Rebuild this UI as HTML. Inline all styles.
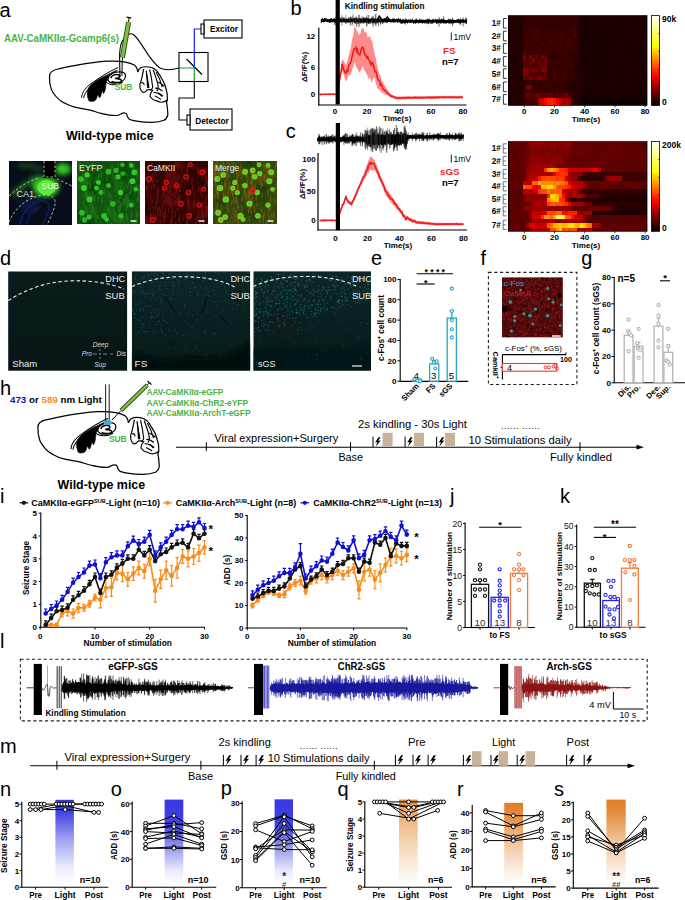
<!DOCTYPE html>
<html><head><meta charset="utf-8"><style>
html,body{margin:0;padding:0;background:#fff;width:685px;height:900px;overflow:hidden}
svg{display:block}
body{position:relative}
text{font-family:"Liberation Sans", sans-serif}
</style></head><body>
<div style="position:absolute;left:508.4px;top:15.6px;width:138.6px;height:89.8px;background:linear-gradient(90deg,#210000 0 3.0px,#230000 0 6.0px,#220000 0 9.0px,#230000 0 15.1px,#2b0000 0 18.1px,#330000 0 21.1px,#380000 0 24.1px,#370000 0 27.1px,#350000 0 30.1px,#330000 0 33.1px,#360000 0 36.2px,#370000 0 39.2px,#340000 0 42.2px,#320000 0 45.2px,#350000 0 48.2px,#360000 0 51.2px,#380000 0 54.2px,#350000 0 60.3px,#3b0000 0 63.3px,#2d0000 0 66.3px,#370000 0 69.3px,#260000 0 72.3px,#1c0000 0 75.3px,#1a0000 0 78.3px,#1b0000 0 81.4px,#1a0000 0 87.4px,#1b0000 0 93.4px,#1d0000 0 96.4px,#1c0000 0 99.4px,#1d0000 0 105.5px,#1e0000 0 108.5px,#1c0000 0 111.5px,#190000 0 114.5px,#1d0000 0 117.5px,#1e0000 0 120.5px,#1d0000 0 123.5px,#1b0000 0 126.5px,#1c0000 0 129.6px,#190000 0 132.6px,#1d0000 0 135.6px,#1b0000 0 138.6px) 0 0.00px/100% 5.28px no-repeat,linear-gradient(90deg,#210000 0 3.0px,#200000 0 6.0px,#250000 0 12.1px,#200000 0 15.1px,#340000 0 18.1px,#2f0000 0 21.1px,#3a0000 0 24.1px,#320000 0 27.1px,#330000 0 30.1px,#370000 0 36.2px,#350000 0 39.2px,#320000 0 42.2px,#2d0000 0 45.2px,#340000 0 48.2px,#2c0000 0 51.2px,#340000 0 54.2px,#3b0000 0 57.2px,#320000 0 60.3px,#350000 0 66.3px,#390000 0 69.3px,#260000 0 72.3px,#1a0000 0 75.3px,#1c0000 0 78.3px,#190000 0 81.4px,#1a0000 0 84.4px,#1e0000 0 87.4px,#1b0000 0 93.4px,#180000 0 96.4px,#1a0000 0 99.4px,#1b0000 0 102.4px,#180000 0 105.5px,#1b0000 0 108.5px,#1c0000 0 111.5px,#180000 0 114.5px,#1c0000 0 117.5px,#1b0000 0 120.5px,#1c0000 0 123.5px,#1a0000 0 126.5px,#1c0000 0 132.6px,#180000 0 138.6px) 0 4.28px/100% 5.28px no-repeat,linear-gradient(90deg,#240000 0 3.0px,#250000 0 6.0px,#210000 0 9.0px,#220000 0 12.1px,#230000 0 15.1px,#310000 0 21.1px,#320000 0 24.1px,#360000 0 27.1px,#320000 0 30.1px,#330000 0 33.1px,#350000 0 36.2px,#2e0000 0 39.2px,#360000 0 42.2px,#2f0000 0 45.2px,#360000 0 48.2px,#370000 0 51.2px,#300000 0 54.2px,#390000 0 57.2px,#300000 0 60.3px,#320000 0 63.3px,#350000 0 66.3px,#320000 0 69.3px,#250000 0 72.3px,#1d0000 0 75.3px,#1c0000 0 78.3px,#1d0000 0 81.4px,#1a0000 0 84.4px,#190000 0 87.4px,#1a0000 0 90.4px,#1d0000 0 93.4px,#190000 0 96.4px,#1a0000 0 108.5px,#1d0000 0 111.5px,#190000 0 114.5px,#180000 0 117.5px,#1d0000 0 123.5px,#1e0000 0 126.5px,#1a0000 0 129.6px,#1e0000 0 132.6px,#1d0000 0 135.6px,#190000 0 138.6px) 0 8.55px/100% 5.28px no-repeat,linear-gradient(90deg,#240000 0 6.0px,#230000 0 12.1px,#210000 0 15.1px,#330000 0 18.1px,#390000 0 21.1px,#3f0000 0 24.1px,#400000 0 27.1px,#440000 0 30.1px,#450000 0 33.1px,#300000 0 36.2px,#350000 0 39.2px,#3c0000 0 42.2px,#380000 0 45.2px,#3f0000 0 48.2px,#340000 0 51.2px,#3c0000 0 54.2px,#390000 0 60.3px,#350000 0 63.3px,#450000 0 66.3px,#430000 0 69.3px,#230000 0 72.3px,#1c0000 0 75.3px,#1d0000 0 78.3px,#180000 0 81.4px,#190000 0 87.4px,#1b0000 0 90.4px,#1a0000 0 93.4px,#1b0000 0 96.4px,#1c0000 0 99.4px,#180000 0 114.5px,#1e0000 0 117.5px,#1d0000 0 120.5px,#180000 0 123.5px,#1b0000 0 126.5px,#1a0000 0 135.6px,#1c0000 0 138.6px) 0 12.83px/100% 5.28px no-repeat,linear-gradient(90deg,#230000 0 3.0px,#220000 0 6.0px,#210000 0 12.1px,#200000 0 15.1px,#3f0000 0 18.1px,#300000 0 21.1px,#350000 0 24.1px,#410000 0 27.1px,#400000 0 30.1px,#390000 0 36.2px,#3a0000 0 42.2px,#390000 0 45.2px,#320000 0 48.2px,#380000 0 51.2px,#460000 0 54.2px,#420000 0 57.2px,#370000 0 60.3px,#320000 0 63.3px,#400000 0 66.3px,#430000 0 69.3px,#270000 0 72.3px,#1c0000 0 75.3px,#1b0000 0 78.3px,#180000 0 81.4px,#1b0000 0 84.4px,#180000 0 87.4px,#190000 0 90.4px,#1c0000 0 93.4px,#180000 0 102.4px,#1d0000 0 105.5px,#190000 0 108.5px,#180000 0 111.5px,#1d0000 0 114.5px,#180000 0 117.5px,#1d0000 0 120.5px,#1c0000 0 123.5px,#1d0000 0 126.5px,#1e0000 0 129.6px,#1b0000 0 132.6px,#1d0000 0 135.6px,#180000 0 138.6px) 0 17.10px/100% 5.28px no-repeat,linear-gradient(90deg,#240000 0 3.0px,#220000 0 6.0px,#240000 0 9.0px,#200000 0 12.1px,#240000 0 15.1px,#330000 0 18.1px,#3a0000 0 21.1px,#370000 0 24.1px,#330000 0 27.1px,#400000 0 30.1px,#370000 0 33.1px,#360000 0 36.2px,#310000 0 39.2px,#440000 0 42.2px,#3f0000 0 45.2px,#3c0000 0 48.2px,#3f0000 0 51.2px,#3a0000 0 54.2px,#440000 0 57.2px,#2f0000 0 60.3px,#450000 0 63.3px,#390000 0 66.3px,#350000 0 69.3px,#250000 0 72.3px,#190000 0 75.3px,#1b0000 0 78.3px,#1a0000 0 81.4px,#190000 0 84.4px,#1c0000 0 87.4px,#1e0000 0 90.4px,#1a0000 0 93.4px,#1c0000 0 96.4px,#1a0000 0 99.4px,#1d0000 0 102.4px,#1b0000 0 105.5px,#190000 0 111.5px,#180000 0 114.5px,#1b0000 0 117.5px,#1a0000 0 120.5px,#190000 0 123.5px,#1a0000 0 129.6px,#1c0000 0 132.6px,#190000 0 135.6px,#1e0000 0 138.6px) 0 21.38px/100% 5.28px no-repeat,linear-gradient(90deg,#220000 0 3.0px,#230000 0 6.0px,#220000 0 9.0px,#240000 0 15.1px,#3a0000 0 18.1px,#430000 0 21.1px,#3f0000 0 24.1px,#3c0000 0 27.1px,#330000 0 30.1px,#3f0000 0 33.1px,#450000 0 36.2px,#320000 0 42.2px,#430000 0 45.2px,#370000 0 48.2px,#380000 0 51.2px,#3f0000 0 54.2px,#2f0000 0 57.2px,#380000 0 60.3px,#3b0000 0 63.3px,#310000 0 66.3px,#380000 0 69.3px,#260000 0 72.3px,#190000 0 75.3px,#1b0000 0 78.3px,#1e0000 0 81.4px,#1a0000 0 84.4px,#1b0000 0 87.4px,#180000 0 90.4px,#190000 0 93.4px,#1c0000 0 96.4px,#180000 0 99.4px,#1d0000 0 105.5px,#180000 0 108.5px,#1d0000 0 111.5px,#1a0000 0 114.5px,#1c0000 0 120.5px,#1a0000 0 123.5px,#1c0000 0 129.6px,#1d0000 0 132.6px,#190000 0 135.6px,#1c0000 0 138.6px) 0 25.66px/100% 5.28px no-repeat,linear-gradient(90deg,#250000 0 3.0px,#230000 0 9.0px,#200000 0 12.1px,#220000 0 15.1px,#3e0000 0 18.1px,#3d0000 0 21.1px,#3b0000 0 24.1px,#340000 0 27.1px,#400000 0 30.1px,#410000 0 33.1px,#340000 0 36.2px,#3e0000 0 42.2px,#360000 0 45.2px,#2f0000 0 48.2px,#410000 0 51.2px,#400000 0 54.2px,#340000 0 57.2px,#410000 0 60.3px,#370000 0 63.3px,#3e0000 0 66.3px,#360000 0 69.3px,#260000 0 72.3px,#1b0000 0 75.3px,#1c0000 0 78.3px,#1a0000 0 81.4px,#1d0000 0 84.4px,#180000 0 87.4px,#190000 0 90.4px,#180000 0 96.4px,#1c0000 0 102.4px,#190000 0 108.5px,#1a0000 0 111.5px,#1c0000 0 114.5px,#1d0000 0 117.5px,#1c0000 0 120.5px,#1b0000 0 123.5px,#190000 0 126.5px,#1a0000 0 129.6px,#190000 0 132.6px,#1b0000 0 138.6px) 0 29.93px/100% 5.28px no-repeat,linear-gradient(90deg,#210000 0 6.0px,#240000 0 9.0px,#200000 0 12.1px,#240000 0 15.1px,#460000 0 18.1px,#3b0000 0 21.1px,#3e0000 0 24.1px,#410000 0 30.1px,#3c0000 0 33.1px,#310000 0 36.2px,#3f0000 0 39.2px,#3b0000 0 42.2px,#330000 0 45.2px,#300000 0 48.2px,#3d0000 0 51.2px,#3b0000 0 54.2px,#450000 0 57.2px,#3e0000 0 60.3px,#310000 0 63.3px,#340000 0 66.3px,#380000 0 69.3px,#290000 0 72.3px,#1a0000 0 75.3px,#1d0000 0 78.3px,#1c0000 0 81.4px,#190000 0 84.4px,#1d0000 0 87.4px,#1b0000 0 90.4px,#1d0000 0 93.4px,#1c0000 0 99.4px,#1a0000 0 102.4px,#1d0000 0 111.5px,#1a0000 0 114.5px,#1c0000 0 117.5px,#1b0000 0 120.5px,#180000 0 129.6px,#190000 0 135.6px,#1b0000 0 138.6px) 0 34.21px/100% 5.28px no-repeat,linear-gradient(90deg,#240000 0 3.0px,#230000 0 6.0px,#220000 0 9.0px,#230000 0 12.1px,#210000 0 15.1px,#710000 0 18.1px,#490000 0 21.1px,#710000 0 24.1px,#560000 0 27.1px,#660000 0 30.1px,#3c0000 0 33.1px,#710000 0 36.2px,#5b0000 0 39.2px,#320000 0 42.2px,#350000 0 45.2px,#2e0000 0 48.2px,#300000 0 51.2px,#310000 0 54.2px,#350000 0 57.2px,#3c0000 0 60.3px,#340000 0 63.3px,#2f0000 0 66.3px,#290000 0 69.3px,#250000 0 72.3px,#180000 0 75.3px,#1b0000 0 78.3px,#190000 0 81.4px,#1c0000 0 84.4px,#1a0000 0 87.4px,#180000 0 93.4px,#1c0000 0 96.4px,#190000 0 99.4px,#1d0000 0 102.4px,#1b0000 0 105.5px,#1d0000 0 108.5px,#1a0000 0 111.5px,#190000 0 117.5px,#1d0000 0 120.5px,#1c0000 0 123.5px,#1a0000 0 126.5px,#180000 0 129.6px,#1c0000 0 132.6px,#1e0000 0 135.6px,#1b0000 0 138.6px) 0 38.49px/100% 5.28px no-repeat,linear-gradient(90deg,#1f0000 0 3.0px,#200000 0 15.1px,#680000 0 18.1px,#4d0000 0 21.1px,#610000 0 24.1px,#7e0000 0 27.1px,#420000 0 30.1px,#660000 0 33.1px,#460000 0 36.2px,#760000 0 39.2px,#350000 0 42.2px,#3b0000 0 45.2px,#350000 0 48.2px,#3f0000 0 51.2px,#3c0000 0 54.2px,#390000 0 57.2px,#330000 0 60.3px,#3a0000 0 63.3px,#310000 0 66.3px,#280000 0 69.3px,#270000 0 72.3px,#1c0000 0 75.3px,#1a0000 0 78.3px,#1b0000 0 81.4px,#190000 0 84.4px,#1c0000 0 87.4px,#180000 0 90.4px,#1b0000 0 93.4px,#1c0000 0 99.4px,#180000 0 102.4px,#190000 0 105.5px,#1d0000 0 108.5px,#1c0000 0 111.5px,#1d0000 0 117.5px,#1a0000 0 120.5px,#1d0000 0 123.5px,#1c0000 0 126.5px,#1a0000 0 132.6px,#180000 0 135.6px,#1a0000 0 138.6px) 0 42.76px/100% 5.28px no-repeat,linear-gradient(90deg,#250000 0 3.0px,#200000 0 6.0px,#230000 0 9.0px,#200000 0 15.1px,#4f0000 0 18.1px,#450000 0 21.1px,#660000 0 24.1px,#4a0000 0 27.1px,#4f0000 0 30.1px,#5a0000 0 33.1px,#690000 0 36.2px,#640000 0 39.2px,#310000 0 42.2px,#3d0000 0 45.2px,#2e0000 0 48.2px,#360000 0 51.2px,#330000 0 57.2px,#3d0000 0 60.3px,#3f0000 0 63.3px,#380000 0 66.3px,#270000 0 69.3px,#260000 0 72.3px,#180000 0 75.3px,#1d0000 0 78.3px,#1b0000 0 81.4px,#1d0000 0 84.4px,#190000 0 87.4px,#1b0000 0 93.4px,#1c0000 0 96.4px,#180000 0 99.4px,#1a0000 0 102.4px,#1b0000 0 105.5px,#180000 0 108.5px,#1b0000 0 111.5px,#1c0000 0 114.5px,#1a0000 0 117.5px,#1c0000 0 120.5px,#1b0000 0 123.5px,#190000 0 126.5px,#1a0000 0 129.6px,#1e0000 0 132.6px,#1a0000 0 138.6px) 0 47.04px/100% 5.28px no-repeat,linear-gradient(90deg,#200000 0 3.0px,#210000 0 6.0px,#200000 0 9.0px,#250000 0 12.1px,#240000 0 15.1px,#830000 0 18.1px,#7e0000 0 21.1px,#5a0000 0 24.1px,#7e0000 0 27.1px,#610000 0 30.1px,#5b0000 0 33.1px,#800000 0 36.2px,#7c0000 0 39.2px,#2f0000 0 42.2px,#360000 0 45.2px,#3c0000 0 48.2px,#3b0000 0 51.2px,#360000 0 54.2px,#3d0000 0 57.2px,#360000 0 60.3px,#330000 0 63.3px,#300000 0 66.3px,#240000 0 69.3px,#280000 0 72.3px,#1c0000 0 75.3px,#1e0000 0 81.4px,#1d0000 0 84.4px,#1a0000 0 87.4px,#190000 0 90.4px,#1a0000 0 93.4px,#1b0000 0 102.4px,#1a0000 0 105.5px,#1d0000 0 108.5px,#190000 0 111.5px,#1b0000 0 114.5px,#1d0000 0 120.5px,#1a0000 0 123.5px,#190000 0 126.5px,#1d0000 0 129.6px,#180000 0 132.6px,#190000 0 135.6px,#1b0000 0 138.6px) 0 51.31px/100% 5.28px no-repeat,linear-gradient(90deg,#230000 0 3.0px,#200000 0 9.0px,#210000 0 12.1px,#240000 0 15.1px,#800000 0 18.1px,#820000 0 21.1px,#470000 0 24.1px,#580000 0 27.1px,#400000 0 30.1px,#440000 0 33.1px,#4d0000 0 36.2px,#5c0000 0 39.2px,#2f0000 0 42.2px,#3b0000 0 45.2px,#420000 0 48.2px,#360000 0 51.2px,#3c0000 0 54.2px,#3b0000 0 57.2px,#3c0000 0 60.3px,#310000 0 63.3px,#390000 0 66.3px,#290000 0 72.3px,#1b0000 0 75.3px,#1c0000 0 78.3px,#1d0000 0 84.4px,#1b0000 0 87.4px,#1a0000 0 90.4px,#1b0000 0 93.4px,#190000 0 99.4px,#1c0000 0 102.4px,#1e0000 0 105.5px,#1b0000 0 108.5px,#1a0000 0 117.5px,#1d0000 0 120.5px,#1a0000 0 123.5px,#1e0000 0 126.5px,#190000 0 129.6px,#1a0000 0 132.6px,#1b0000 0 135.6px,#1a0000 0 138.6px) 0 55.59px/100% 5.28px no-repeat,linear-gradient(90deg,#250000 0 3.0px,#240000 0 6.0px,#250000 0 9.0px,#230000 0 12.1px,#200000 0 15.1px,#640000 0 18.1px,#500000 0 21.1px,#7d0000 0 24.1px,#690000 0 27.1px,#600000 0 30.1px,#820000 0 33.1px,#4c0000 0 39.2px,#3f0000 0 42.2px,#330000 0 45.2px,#440000 0 48.2px,#360000 0 51.2px,#310000 0 54.2px,#410000 0 57.2px,#310000 0 60.3px,#2f0000 0 63.3px,#3e0000 0 66.3px,#280000 0 69.3px,#270000 0 72.3px,#1d0000 0 75.3px,#180000 0 78.3px,#190000 0 81.4px,#1e0000 0 84.4px,#180000 0 87.4px,#190000 0 90.4px,#1b0000 0 93.4px,#190000 0 96.4px,#1b0000 0 99.4px,#180000 0 102.4px,#190000 0 105.5px,#1e0000 0 108.5px,#190000 0 111.5px,#1d0000 0 114.5px,#190000 0 117.5px,#1e0000 0 120.5px,#1c0000 0 126.5px,#190000 0 129.6px,#180000 0 132.6px,#1c0000 0 135.6px,#190000 0 138.6px) 0 59.87px/100% 5.28px no-repeat,linear-gradient(90deg,#210000 0 3.0px,#240000 0 6.0px,#250000 0 9.0px,#200000 0 12.1px,#250000 0 15.1px,#340000 0 18.1px,#310000 0 21.1px,#350000 0 24.1px,#2e0000 0 27.1px,#310000 0 30.1px,#320000 0 33.1px,#3a0000 0 36.2px,#400000 0 39.2px,#320000 0 42.2px,#380000 0 45.2px,#340000 0 48.2px,#300000 0 51.2px,#3b0000 0 54.2px,#350000 0 60.3px,#260000 0 63.3px,#280000 0 66.3px,#240000 0 69.3px,#270000 0 72.3px,#1d0000 0 78.3px,#190000 0 81.4px,#1e0000 0 84.4px,#1d0000 0 87.4px,#190000 0 96.4px,#180000 0 99.4px,#1e0000 0 102.4px,#1a0000 0 105.5px,#1d0000 0 108.5px,#180000 0 114.5px,#1d0000 0 120.5px,#1e0000 0 123.5px,#1c0000 0 126.5px,#1b0000 0 129.6px,#1c0000 0 132.6px,#180000 0 135.6px,#1b0000 0 138.6px) 0 64.14px/100% 5.28px no-repeat,linear-gradient(90deg,#220000 0 3.0px,#200000 0 6.0px,#230000 0 9.0px,#210000 0 12.1px,#220000 0 15.1px,#320000 0 18.1px,#820000 0 24.1px,#3d0000 0 27.1px,#3c0000 0 30.1px,#2e0000 0 33.1px,#390000 0 36.2px,#370000 0 39.2px,#3b0000 0 42.2px,#350000 0 45.2px,#3b0000 0 48.2px,#390000 0 51.2px,#370000 0 54.2px,#320000 0 57.2px,#3c0000 0 60.3px,#240000 0 63.3px,#280000 0 66.3px,#260000 0 69.3px,#290000 0 72.3px,#1a0000 0 75.3px,#190000 0 78.3px,#1b0000 0 81.4px,#1d0000 0 84.4px,#1a0000 0 87.4px,#1d0000 0 90.4px,#1c0000 0 93.4px,#1a0000 0 99.4px,#1b0000 0 102.4px,#1a0000 0 108.5px,#1c0000 0 111.5px,#1d0000 0 114.5px,#1b0000 0 117.5px,#190000 0 123.5px,#1a0000 0 126.5px,#1b0000 0 129.6px,#190000 0 132.6px,#180000 0 135.6px,#1a0000 0 138.6px) 0 68.42px/100% 5.28px no-repeat,linear-gradient(90deg,#210000 0 3.0px,#200000 0 6.0px,#230000 0 9.0px,#250000 0 12.1px,#230000 0 15.1px,#3c0000 0 18.1px,#3e0000 0 21.1px,#380000 0 24.1px,#390000 0 27.1px,#340000 0 30.1px,#350000 0 33.1px,#390000 0 36.2px,#300000 0 42.2px,#380000 0 45.2px,#300000 0 48.2px,#350000 0 51.2px,#370000 0 54.2px,#360000 0 57.2px,#3a0000 0 60.3px,#270000 0 63.3px,#240000 0 66.3px,#260000 0 69.3px,#280000 0 72.3px,#1e0000 0 75.3px,#180000 0 81.4px,#1b0000 0 84.4px,#1a0000 0 87.4px,#1d0000 0 93.4px,#1a0000 0 99.4px,#1b0000 0 102.4px,#1d0000 0 105.5px,#190000 0 108.5px,#1a0000 0 111.5px,#180000 0 114.5px,#1c0000 0 117.5px,#180000 0 120.5px,#1d0000 0 123.5px,#1b0000 0 129.6px,#180000 0 132.6px,#190000 0 135.6px,#1b0000 0 138.6px) 0 72.70px/100% 5.28px no-repeat,linear-gradient(90deg,#250000 0 3.0px,#230000 0 6.0px,#210000 0 9.0px,#250000 0 12.1px,#230000 0 15.1px,#4d0000 0 18.1px,#670000 0 21.1px,#590000 0 24.1px,#520000 0 27.1px,#680000 0 30.1px,#610000 0 33.1px,#470000 0 36.2px,#510000 0 39.2px,#660000 0 42.2px,#640000 0 45.2px,#490000 0 48.2px,#540000 0 51.2px,#4c0000 0 54.2px,#580000 0 57.2px,#650000 0 60.3px,#470000 0 63.3px,#260000 0 69.3px,#240000 0 72.3px,#190000 0 78.3px,#1c0000 0 81.4px,#1a0000 0 84.4px,#180000 0 87.4px,#190000 0 90.4px,#1a0000 0 93.4px,#1b0000 0 96.4px,#190000 0 99.4px,#1c0000 0 102.4px,#190000 0 105.5px,#1c0000 0 108.5px,#1b0000 0 111.5px,#190000 0 114.5px,#1c0000 0 117.5px,#1a0000 0 120.5px,#1b0000 0 126.5px,#1c0000 0 129.6px,#1a0000 0 132.6px,#180000 0 135.6px,#1d0000 0 138.6px) 0 76.97px/100% 5.28px no-repeat,linear-gradient(90deg,#250000 0 3.0px,#220000 0 6.0px,#230000 0 9.0px,#210000 0 12.1px,#250000 0 15.1px,#270000 0 18.1px,#500000 0 21.1px,#450000 0 24.1px,#480000 0 27.1px,#4e0000 0 30.1px,#b90000 0 33.1px,#c80000 0 36.2px,#ff0800 0 39.2px,#ff1d00 0 42.2px,#ff2100 0 45.2px,#ff1100 0 48.2px,#df0000 0 51.2px,#ca0000 0 54.2px,#9f0000 0 57.2px,#a10000 0 60.3px,#9c0000 0 63.3px,#280000 0 69.3px,#250000 0 72.3px,#0f0000 0 138.6px) 0 81.25px/100% 5.28px no-repeat,linear-gradient(90deg,#210000 0 3.0px,#220000 0 6.0px,#200000 0 12.1px,#230000 0 15.1px,#290000 0 18.1px,#490000 0 21.1px,#3f0000 0 24.1px,#440000 0 27.1px,#400000 0 30.1px,#b10000 0 33.1px,#cd0000 0 36.2px,#f30000 0 39.2px,#ff1c00 0 42.2px,#ff1a00 0 45.2px,#ff1800 0 48.2px,#f50000 0 51.2px,#c80000 0 54.2px,#9d0000 0 57.2px,#a30000 0 60.3px,#960000 0 63.3px,#240000 0 66.3px,#270000 0 69.3px,#250000 0 72.3px,#0f0000 0 138.6px) 0 85.52px/100% 5.28px no-repeat #210000"></div><div style="position:absolute;left:508.4px;top:141.5px;width:138.6px;height:89.8px;background:linear-gradient(90deg,#5e0000 0 3.0px,#5f0000 0 6.0px,#600000 0 9.0px,#620000 0 12.1px,#5f0000 0 15.1px,#620000 0 18.1px,#6a0000 0 21.1px,#890000 0 24.1px,#930000 0 27.1px,#8d0000 0 30.1px,#930000 0 33.1px,#810000 0 36.2px,#890000 0 39.2px,#840000 0 42.2px,#8b0000 0 48.2px,#7f0000 0 51.2px,#830000 0 54.2px,#850000 0 57.2px,#930000 0 60.3px,#890000 0 63.3px,#640000 0 66.3px,#680000 0 69.3px,#5d0000 0 72.3px,#640000 0 75.3px,#5c0000 0 78.3px,#5a0000 0 81.4px,#670000 0 84.4px,#5d0000 0 90.4px,#680000 0 93.4px,#660000 0 96.4px,#5d0000 0 99.4px,#670000 0 102.4px,#600000 0 105.5px,#620000 0 108.5px,#5a0000 0 111.5px,#650000 0 114.5px,#610000 0 117.5px,#650000 0 120.5px,#630000 0 123.5px,#5a0000 0 126.5px,#5b0000 0 129.6px,#580000 0 132.6px,#570000 0 135.6px,#560000 0 138.6px) 0 0.00px/100% 5.28px no-repeat,linear-gradient(90deg,#590000 0 3.0px,#5d0000 0 6.0px,#550000 0 9.0px,#5e0000 0 12.1px,#590000 0 18.1px,#710000 0 21.1px,#7a0000 0 24.1px,#770000 0 27.1px,#7a0000 0 30.1px,#7e0000 0 33.1px,#720000 0 36.2px,#840000 0 39.2px,#710000 0 42.2px,#7f0000 0 45.2px,#810000 0 48.2px,#710000 0 51.2px,#800000 0 54.2px,#780000 0 57.2px,#7c0000 0 60.3px,#6d0000 0 63.3px,#600000 0 66.3px,#5e0000 0 69.3px,#6a0000 0 72.3px,#5e0000 0 75.3px,#660000 0 78.3px,#690000 0 84.4px,#5f0000 0 90.4px,#610000 0 93.4px,#650000 0 96.4px,#5a0000 0 99.4px,#640000 0 105.5px,#650000 0 108.5px,#580000 0 111.5px,#650000 0 114.5px,#580000 0 117.5px,#5c0000 0 120.5px,#5f0000 0 123.5px,#640000 0 126.5px,#5b0000 0 129.6px,#630000 0 132.6px,#5d0000 0 135.6px,#590000 0 138.6px) 0 4.28px/100% 5.28px no-repeat,linear-gradient(90deg,#590000 0 3.0px,#570000 0 6.0px,#560000 0 9.0px,#570000 0 12.1px,#5f0000 0 15.1px,#630000 0 18.1px,#650000 0 21.1px,#720000 0 24.1px,#840000 0 27.1px,#7b0000 0 30.1px,#790000 0 33.1px,#750000 0 36.2px,#7c0000 0 39.2px,#810000 0 42.2px,#7a0000 0 45.2px,#790000 0 48.2px,#720000 0 51.2px,#830000 0 54.2px,#710000 0 57.2px,#7a0000 0 60.3px,#7d0000 0 63.3px,#610000 0 66.3px,#670000 0 69.3px,#6a0000 0 72.3px,#650000 0 75.3px,#670000 0 78.3px,#5c0000 0 81.4px,#610000 0 84.4px,#5c0000 0 87.4px,#660000 0 90.4px,#5e0000 0 93.4px,#600000 0 96.4px,#680000 0 99.4px,#650000 0 102.4px,#670000 0 105.5px,#5e0000 0 108.5px,#5f0000 0 111.5px,#620000 0 114.5px,#5e0000 0 117.5px,#5b0000 0 120.5px,#5c0000 0 123.5px,#580000 0 126.5px,#5b0000 0 129.6px,#640000 0 132.6px,#630000 0 135.6px,#5e0000 0 138.6px) 0 8.55px/100% 5.28px no-repeat,linear-gradient(90deg,#5c0000 0 3.0px,#590000 0 6.0px,#560000 0 9.0px,#580000 0 12.1px,#600000 0 15.1px,#610000 0 18.1px,#6c0000 0 21.1px,#880000 0 27.1px,#860000 0 30.1px,#850000 0 33.1px,#870000 0 36.2px,#7f0000 0 39.2px,#860000 0 42.2px,#7d0000 0 45.2px,#820000 0 48.2px,#880000 0 51.2px,#860000 0 54.2px,#750000 0 57.2px,#740000 0 60.3px,#660000 0 63.3px,#640000 0 66.3px,#5b0000 0 69.3px,#630000 0 72.3px,#5e0000 0 75.3px,#650000 0 78.3px,#610000 0 81.4px,#660000 0 84.4px,#630000 0 87.4px,#650000 0 90.4px,#5e0000 0 93.4px,#620000 0 96.4px,#630000 0 99.4px,#650000 0 102.4px,#5d0000 0 105.5px,#640000 0 111.5px,#610000 0 114.5px,#650000 0 120.5px,#5e0000 0 126.5px,#580000 0 129.6px,#620000 0 132.6px,#630000 0 135.6px,#5c0000 0 138.6px) 0 12.83px/100% 5.28px no-repeat,linear-gradient(90deg,#5f0000 0 9.0px,#570000 0 12.1px,#600000 0 15.1px,#5d0000 0 18.1px,#760000 0 21.1px,#880000 0 24.1px,#8c0000 0 27.1px,#900000 0 30.1px,#8d0000 0 33.1px,#8f0000 0 36.2px,#7f0000 0 39.2px,#820000 0 42.2px,#880000 0 45.2px,#8d0000 0 48.2px,#840000 0 51.2px,#8e0000 0 54.2px,#810000 0 57.2px,#670000 0 60.3px,#630000 0 63.3px,#5f0000 0 66.3px,#5c0000 0 69.3px,#5d0000 0 72.3px,#5f0000 0 75.3px,#5d0000 0 81.4px,#5a0000 0 84.4px,#600000 0 87.4px,#5f0000 0 90.4px,#620000 0 96.4px,#5c0000 0 99.4px,#660000 0 102.4px,#580000 0 105.5px,#5e0000 0 108.5px,#5b0000 0 111.5px,#5d0000 0 114.5px,#580000 0 117.5px,#630000 0 120.5px,#5c0000 0 123.5px,#560000 0 126.5px,#5f0000 0 129.6px,#570000 0 132.6px,#5d0000 0 135.6px,#5a0000 0 138.6px) 0 17.10px/100% 5.28px no-repeat,linear-gradient(90deg,#5d0000 0 3.0px,#630000 0 6.0px,#600000 0 9.0px,#5b0000 0 12.1px,#600000 0 15.1px,#5e0000 0 18.1px,#780000 0 21.1px,#900000 0 24.1px,#9b0000 0 30.1px,#a40000 0 36.2px,#9c0000 0 39.2px,#950000 0 42.2px,#a30000 0 45.2px,#890000 0 48.2px,#7a0000 0 51.2px,#710000 0 54.2px,#6d0000 0 57.2px,#640000 0 60.3px,#6c0000 0 63.3px,#700000 0 66.3px,#660000 0 69.3px,#670000 0 72.3px,#630000 0 75.3px,#640000 0 78.3px,#6e0000 0 81.4px,#640000 0 84.4px,#6d0000 0 87.4px,#6b0000 0 90.4px,#660000 0 93.4px,#600000 0 96.4px,#6b0000 0 99.4px,#630000 0 102.4px,#610000 0 105.5px,#5f0000 0 108.5px,#690000 0 111.5px,#600000 0 114.5px,#5d0000 0 117.5px,#5f0000 0 120.5px,#590000 0 123.5px,#600000 0 126.5px,#5d0000 0 129.6px,#5a0000 0 132.6px,#610000 0 138.6px) 0 21.38px/100% 5.28px no-repeat,linear-gradient(90deg,#550000 0 3.0px,#5c0000 0 6.0px,#580000 0 9.0px,#620000 0 12.1px,#600000 0 15.1px,#580000 0 18.1px,#940000 0 21.1px,#920000 0 24.1px,#a80000 0 27.1px,#980000 0 30.1px,#a20000 0 33.1px,#a00000 0 36.2px,#ff3200 0 39.2px,#ff9f00 0 42.2px,#ffbe00 0 45.2px,#ff9300 0 48.2px,#ff6c00 0 51.2px,#ff2d00 0 54.2px,#ff2900 0 57.2px,#ff1100 0 60.3px,#cd0000 0 63.3px,#c00000 0 66.3px,#be0000 0 69.3px,#bb0000 0 72.3px,#c70000 0 75.3px,#c20000 0 78.3px,#b10000 0 81.4px,#ca0000 0 84.4px,#df0000 0 87.4px,#e90000 0 90.4px,#c30000 0 93.4px,#5c0000 0 96.4px,#550000 0 99.4px,#600000 0 102.4px,#5b0000 0 105.5px,#5d0000 0 108.5px,#5f0000 0 111.5px,#5e0000 0 114.5px,#5c0000 0 117.5px,#620000 0 120.5px,#5a0000 0 126.5px,#610000 0 129.6px,#570000 0 132.6px,#590000 0 135.6px,#610000 0 138.6px) 0 25.66px/100% 5.28px no-repeat,linear-gradient(90deg,#550000 0 3.0px,#610000 0 6.0px,#5f0000 0 9.0px,#5b0000 0 12.1px,#590000 0 15.1px,#600000 0 18.1px,#8b0000 0 21.1px,#9f0000 0 24.1px,#a80000 0 27.1px,#aa0000 0 30.1px,#a80000 0 33.1px,#a40000 0 36.2px,#9f0000 0 39.2px,#ab0000 0 42.2px,#b10000 0 45.2px,#f20000 0 48.2px,#ff1700 0 51.2px,#ff3300 0 54.2px,#ff3100 0 57.2px,#ff2b00 0 60.3px,#9d0000 0 63.3px,#870000 0 66.3px,#8c0000 0 72.3px,#860000 0 75.3px,#490000 0 78.3px,#410000 0 81.4px,#3a0000 0 84.4px,#3f0000 0 87.4px,#420000 0 90.4px,#3f0000 0 93.4px,#3a0000 0 96.4px,#3b0000 0 99.4px,#410000 0 102.4px,#3a0000 0 105.5px,#3e0000 0 108.5px,#3c0000 0 111.5px,#3a0000 0 114.5px,#3e0000 0 117.5px,#390000 0 123.5px,#3c0000 0 126.5px,#390000 0 132.6px,#3e0000 0 135.6px,#400000 0 138.6px) 0 29.93px/100% 5.28px no-repeat,linear-gradient(90deg,#610000 0 3.0px,#560000 0 6.0px,#5b0000 0 9.0px,#590000 0 12.1px,#5d0000 0 15.1px,#5c0000 0 18.1px,#970000 0 21.1px,#bb0000 0 24.1px,#b20000 0 27.1px,#c50000 0 30.1px,#ff1200 0 33.1px,#ff4900 0 36.2px,#ff4300 0 39.2px,#ff5700 0 42.2px,#ff4500 0 45.2px,#ff4900 0 48.2px,#ff3600 0 51.2px,#ff4500 0 54.2px,#ff3600 0 57.2px,#d10000 0 60.3px,#a10000 0 63.3px,#970000 0 66.3px,#9a0000 0 69.3px,#490000 0 72.3px,#300000 0 75.3px,#2c0000 0 78.3px,#2f0000 0 84.4px,#2b0000 0 87.4px,#2f0000 0 90.4px,#2b0000 0 96.4px,#650000 0 99.4px,#930000 0 102.4px,#a20000 0 105.5px,#990000 0 108.5px,#950000 0 111.5px,#a00000 0 114.5px,#390000 0 117.5px,#3f0000 0 120.5px,#390000 0 123.5px,#3a0000 0 126.5px,#420000 0 129.6px,#3f0000 0 132.6px,#3a0000 0 135.6px,#390000 0 138.6px) 0 34.21px/100% 5.28px no-repeat,linear-gradient(90deg,#630000 0 3.0px,#5e0000 0 6.0px,#610000 0 9.0px,#570000 0 12.1px,#5e0000 0 15.1px,#bb0000 0 18.1px,#b70000 0 21.1px,#ba0000 0 24.1px,#ff6700 0 27.1px,#ff5800 0 30.1px,#ffb500 0 33.1px,#ff8600 0 36.2px,#ff9400 0 39.2px,#ff8900 0 42.2px,#ff9200 0 45.2px,#ff7b00 0 48.2px,#ff9500 0 51.2px,#ff8100 0 54.2px,#ff6e00 0 57.2px,#ff4e00 0 60.3px,#e80000 0 63.3px,#bc0000 0 66.3px,#b30000 0 69.3px,#b10000 0 72.3px,#b60000 0 75.3px,#870000 0 78.3px,#690000 0 81.4px,#620000 0 84.4px,#670000 0 87.4px,#5a0000 0 90.4px,#610000 0 93.4px,#670000 0 96.4px,#630000 0 99.4px,#5f0000 0 102.4px,#600000 0 105.5px,#5a0000 0 114.5px,#5d0000 0 120.5px,#640000 0 123.5px,#580000 0 126.5px,#5a0000 0 132.6px,#570000 0 135.6px,#590000 0 138.6px) 0 38.49px/100% 5.28px no-repeat,linear-gradient(90deg,#580000 0 3.0px,#5c0000 0 6.0px,#550000 0 9.0px,#620000 0 12.1px,#5a0000 0 15.1px,#ff5900 0 18.1px,#ff4c00 0 21.1px,#ff4b00 0 24.1px,#ff0000 0 27.1px,#cd0000 0 30.1px,#f20000 0 33.1px,#ffd800 0 36.2px,#ffbd00 0 39.2px,#ffd900 0 42.2px,#ffdd00 0 45.2px,#ff9a00 0 48.2px,#ff4e00 0 51.2px,#ff3d00 0 54.2px,#ff4100 0 57.2px,#ff3200 0 60.3px,#ff1d00 0 63.3px,#ce0000 0 66.3px,#bb0000 0 69.3px,#b90000 0 72.3px,#be0000 0 75.3px,#890000 0 78.3px,#5f0000 0 84.4px,#570000 0 87.4px,#580000 0 90.4px,#5e0000 0 93.4px,#620000 0 96.4px,#5e0000 0 99.4px,#5b0000 0 102.4px,#630000 0 105.5px,#550000 0 111.5px,#600000 0 114.5px,#5a0000 0 117.5px,#550000 0 120.5px,#5d0000 0 123.5px,#630000 0 126.5px,#5c0000 0 129.6px,#5a0000 0 132.6px,#560000 0 138.6px) 0 42.76px/100% 5.28px no-repeat,linear-gradient(90deg,#620000 0 3.0px,#5c0000 0 6.0px,#620000 0 9.0px,#550000 0 12.1px,#580000 0 15.1px,#b10000 0 18.1px,#bc0000 0 21.1px,#b20000 0 24.1px,#b80000 0 27.1px,#bc0000 0 30.1px,#ff2f00 0 33.1px,#ff4800 0 36.2px,#ff4700 0 39.2px,#ff7b00 0 42.2px,#ff4f00 0 45.2px,#ff6100 0 48.2px,#ff5b00 0 51.2px,#ff6300 0 54.2px,#c80000 0 57.2px,#a30000 0 60.3px,#9e0000 0 63.3px,#a90000 0 66.3px,#b40000 0 69.3px,#710000 0 72.3px,#380000 0 75.3px,#330000 0 78.3px,#310000 0 81.4px,#350000 0 84.4px,#340000 0 90.4px,#320000 0 93.4px,#340000 0 99.4px,#360000 0 102.4px,#300000 0 105.5px,#310000 0 108.5px,#340000 0 111.5px,#2f0000 0 114.5px,#2e0000 0 117.5px,#2f0000 0 120.5px,#2d0000 0 123.5px,#320000 0 129.6px,#2d0000 0 132.6px,#2c0000 0 135.6px,#2b0000 0 138.6px) 0 47.04px/100% 5.28px no-repeat,linear-gradient(90deg,#580000 0 3.0px,#560000 0 6.0px,#5b0000 0 9.0px,#5d0000 0 12.1px,#580000 0 15.1px,#6e0000 0 18.1px,#960000 0 21.1px,#870000 0 24.1px,#8a0000 0 27.1px,#8c0000 0 30.1px,#8e0000 0 33.1px,#880000 0 36.2px,#900000 0 39.2px,#ff1f00 0 42.2px,#ffdf00 0 45.2px,#ffd000 0 48.2px,#ffac00 0 51.2px,#ff6200 0 54.2px,#ff0800 0 57.2px,#a30000 0 60.3px,#9f0000 0 63.3px,#a90000 0 66.3px,#a50000 0 69.3px,#ac0000 0 72.3px,#a70000 0 75.3px,#7a0000 0 78.3px,#4a0000 0 81.4px,#500000 0 84.4px,#4b0000 0 87.4px,#480000 0 90.4px,#350000 0 93.4px,#240000 0 96.4px,#250000 0 99.4px,#270000 0 102.4px,#250000 0 105.5px,#240000 0 108.5px,#280000 0 111.5px,#270000 0 114.5px,#230000 0 120.5px,#240000 0 123.5px,#250000 0 126.5px,#280000 0 129.6px,#290000 0 132.6px,#270000 0 135.6px,#250000 0 138.6px) 0 51.31px/100% 5.28px no-repeat,linear-gradient(90deg,#5b0000 0 3.0px,#5a0000 0 6.0px,#590000 0 9.0px,#550000 0 12.1px,#5d0000 0 15.1px,#7d0000 0 18.1px,#970000 0 21.1px,#880000 0 24.1px,#920000 0 27.1px,#8a0000 0 30.1px,#960000 0 33.1px,#900000 0 36.2px,#9c0000 0 39.2px,#ff8800 0 42.2px,#ffb000 0 45.2px,#ffbf00 0 48.2px,#ffc200 0 51.2px,#ff3100 0 54.2px,#ff3000 0 57.2px,#b20000 0 60.3px,#380000 0 63.3px,#390000 0 66.3px,#360000 0 69.3px,#3a0000 0 72.3px,#360000 0 75.3px,#310000 0 78.3px,#320000 0 81.4px,#2b0000 0 84.4px,#240000 0 87.4px,#250000 0 90.4px,#1c0000 0 93.4px,#1f0000 0 99.4px,#200000 0 102.4px,#1e0000 0 105.5px,#1d0000 0 108.5px,#1e0000 0 111.5px,#1d0000 0 114.5px,#1f0000 0 117.5px,#1e0000 0 120.5px,#200000 0 123.5px,#1d0000 0 126.5px,#1e0000 0 129.6px,#1d0000 0 132.6px,#210000 0 135.6px,#200000 0 138.6px) 0 55.59px/100% 5.28px no-repeat,linear-gradient(90deg,#610000 0 3.0px,#5e0000 0 6.0px,#5a0000 0 9.0px,#570000 0 12.1px,#610000 0 15.1px,#5c0000 0 18.1px,#550000 0 21.1px,#780000 0 24.1px,#960000 0 27.1px,#a60000 0 30.1px,#ab0000 0 33.1px,#990000 0 36.2px,#a80000 0 39.2px,#ff3900 0 42.2px,#ff4c00 0 45.2px,#ff5500 0 48.2px,#ff4900 0 51.2px,#ff5200 0 54.2px,#ff3c00 0 57.2px,#ff2900 0 60.3px,#f10000 0 63.3px,#a30000 0 66.3px,#990000 0 69.3px,#9e0000 0 72.3px,#9c0000 0 75.3px,#780000 0 78.3px,#600000 0 81.4px,#620000 0 84.4px,#2e0000 0 87.4px,#2f0000 0 90.4px,#2d0000 0 93.4px,#310000 0 96.4px,#300000 0 99.4px,#310000 0 102.4px,#2f0000 0 108.5px,#2e0000 0 111.5px,#300000 0 114.5px,#2d0000 0 117.5px,#2f0000 0 123.5px,#2e0000 0 126.5px,#2c0000 0 129.6px,#2b0000 0 135.6px,#2d0000 0 138.6px) 0 59.87px/100% 5.28px no-repeat,linear-gradient(90deg,#5d0000 0 3.0px,#600000 0 6.0px,#5f0000 0 9.0px,#590000 0 12.1px,#620000 0 15.1px,#720000 0 18.1px,#960000 0 21.1px,#870000 0 24.1px,#970000 0 27.1px,#950000 0 30.1px,#9c0000 0 33.1px,#9b0000 0 36.2px,#960000 0 39.2px,#990000 0 42.2px,#970000 0 45.2px,#940000 0 48.2px,#8b0000 0 51.2px,#920000 0 54.2px,#9b0000 0 57.2px,#8b0000 0 60.3px,#840000 0 63.3px,#640000 0 66.3px,#620000 0 69.3px,#5c0000 0 72.3px,#620000 0 75.3px,#5e0000 0 78.3px,#660000 0 81.4px,#6a0000 0 87.4px,#650000 0 90.4px,#620000 0 93.4px,#5d0000 0 96.4px,#660000 0 99.4px,#640000 0 102.4px,#570000 0 105.5px,#250000 0 108.5px,#290000 0 111.5px,#240000 0 114.5px,#250000 0 120.5px,#270000 0 123.5px,#290000 0 126.5px,#240000 0 129.6px,#270000 0 132.6px,#280000 0 135.6px,#250000 0 138.6px) 0 64.14px/100% 5.28px no-repeat,linear-gradient(90deg,#550000 0 3.0px,#5d0000 0 6.0px,#610000 0 12.1px,#5f0000 0 15.1px,#5b0000 0 21.1px,#8e0000 0 24.1px,#cc0000 0 27.1px,#b90000 0 33.1px,#c20000 0 36.2px,#ce0000 0 39.2px,#ff4f00 0 42.2px,#ff4600 0 45.2px,#ff4b00 0 48.2px,#ff6400 0 51.2px,#ff6700 0 54.2px,#ff0600 0 57.2px,#ff0700 0 60.3px,#ff1900 0 63.3px,#ff1b00 0 66.3px,#ff1d00 0 69.3px,#970000 0 72.3px,#870000 0 75.3px,#910000 0 78.3px,#990000 0 81.4px,#9c0000 0 84.4px,#1e0000 0 87.4px,#200000 0 90.4px,#1f0000 0 93.4px,#210000 0 96.4px,#1d0000 0 99.4px,#200000 0 105.5px,#1e0000 0 108.5px,#1d0000 0 123.5px,#1f0000 0 126.5px,#1d0000 0 129.6px,#200000 0 138.6px) 0 68.42px/100% 5.28px no-repeat,linear-gradient(90deg,#600000 0 3.0px,#5f0000 0 6.0px,#620000 0 9.0px,#630000 0 12.1px,#5e0000 0 15.1px,#630000 0 18.1px,#560000 0 21.1px,#930000 0 24.1px,#ce0000 0 27.1px,#d30000 0 30.1px,#d90000 0 33.1px,#ff2d00 0 36.2px,#ff8b00 0 39.2px,#ff8e00 0 42.2px,#ff6600 0 45.2px,#ffa900 0 48.2px,#ffff4b 0 51.2px,#ffff5a 0 54.2px,#ffff04 0 57.2px,#ff6600 0 60.3px,#ff5a00 0 63.3px,#ff1900 0 66.3px,#bf0000 0 69.3px,#cd0000 0 75.3px,#800000 0 78.3px,#580000 0 81.4px,#570000 0 84.4px,#510000 0 87.4px,#4f0000 0 90.4px,#540000 0 93.4px,#520000 0 96.4px,#570000 0 99.4px,#5a0000 0 102.4px,#530000 0 105.5px,#510000 0 108.5px,#540000 0 111.5px,#570000 0 114.5px,#580000 0 117.5px,#550000 0 120.5px,#510000 0 123.5px,#520000 0 126.5px,#590000 0 129.6px,#540000 0 132.6px,#4e0000 0 135.6px,#530000 0 138.6px) 0 72.70px/100% 5.28px no-repeat,linear-gradient(90deg,#580000 0 3.0px,#5e0000 0 6.0px,#560000 0 9.0px,#580000 0 12.1px,#560000 0 15.1px,#5b0000 0 18.1px,#630000 0 21.1px,#7f0000 0 24.1px,#9e0000 0 27.1px,#ac0000 0 30.1px,#960000 0 33.1px,#9d0000 0 36.2px,#a90000 0 39.2px,#940000 0 42.2px,#a70000 0 45.2px,#9d0000 0 48.2px,#940000 0 51.2px,#9a0000 0 54.2px,#a00000 0 57.2px,#9e0000 0 60.3px,#a10000 0 63.3px,#950000 0 66.3px,#990000 0 69.3px,#ad0000 0 72.3px,#9f0000 0 75.3px,#7a0000 0 78.3px,#4f0000 0 81.4px,#510000 0 84.4px,#5a0000 0 87.4px,#570000 0 90.4px,#540000 0 93.4px,#4e0000 0 96.4px,#530000 0 99.4px,#580000 0 102.4px,#530000 0 105.5px,#550000 0 108.5px,#5a0000 0 111.5px,#560000 0 117.5px,#4e0000 0 123.5px,#580000 0 126.5px,#530000 0 129.6px,#590000 0 135.6px,#5a0000 0 138.6px) 0 76.97px/100% 5.28px no-repeat,linear-gradient(90deg,#5a0000 0 3.0px,#630000 0 6.0px,#600000 0 9.0px,#620000 0 12.1px,#570000 0 15.1px,#600000 0 18.1px,#930000 0 21.1px,#de0000 0 24.1px,#df0000 0 27.1px,#c50000 0 30.1px,#cc0000 0 33.1px,#c70000 0 36.2px,#ce0000 0 39.2px,#ff5500 0 42.2px,#ff6a00 0 45.2px,#ffb000 0 48.2px,#ffb400 0 51.2px,#ffc900 0 54.2px,#ffad00 0 57.2px,#ffc300 0 60.3px,#ffe900 0 63.3px,#ffe800 0 66.3px,#ffb600 0 69.3px,#ffa900 0 72.3px,#ffe400 0 75.3px,#ffc500 0 78.3px,#ff8600 0 81.4px,#ff6900 0 84.4px,#9a0000 0 87.4px,#ab0000 0 90.4px,#890000 0 93.4px,#580000 0 96.4px,#5b0000 0 99.4px,#5f0000 0 102.4px,#5c0000 0 105.5px,#640000 0 108.5px,#5e0000 0 111.5px,#640000 0 114.5px,#5a0000 0 117.5px,#600000 0 120.5px,#670000 0 123.5px,#630000 0 126.5px,#590000 0 129.6px,#5a0000 0 132.6px,#620000 0 135.6px,#5e0000 0 138.6px) 0 81.25px/100% 5.28px no-repeat,linear-gradient(90deg,#5a0000 0 3.0px,#5b0000 0 6.0px,#5d0000 0 9.0px,#630000 0 12.1px,#580000 0 15.1px,#5d0000 0 18.1px,#580000 0 21.1px,#870000 0 24.1px,#b60000 0 27.1px,#a60000 0 30.1px,#af0000 0 33.1px,#b60000 0 36.2px,#a20000 0 39.2px,#b80000 0 42.2px,#ff5500 0 45.2px,#ff5900 0 48.2px,#ff9200 0 51.2px,#ffd100 0 54.2px,#ff4100 0 57.2px,#ff5900 0 60.3px,#ff4000 0 63.3px,#ff5300 0 66.3px,#ff5100 0 69.3px,#940000 0 72.3px,#9b0000 0 75.3px,#9f0000 0 78.3px,#a50000 0 81.4px,#ac0000 0 84.4px,#5e0000 0 87.4px,#600000 0 90.4px,#630000 0 93.4px,#660000 0 96.4px,#670000 0 102.4px,#5d0000 0 105.5px,#5b0000 0 108.5px,#660000 0 111.5px,#590000 0 114.5px,#5f0000 0 117.5px,#630000 0 120.5px,#600000 0 123.5px,#5e0000 0 126.5px,#660000 0 129.6px,#5d0000 0 132.6px,#600000 0 135.6px,#650000 0 138.6px) 0 85.52px/100% 5.28px no-repeat #5a0000"></div>
<svg width="685" height="900" viewBox="0 0 685 900" style="position:absolute;left:0;top:0">
<text x="-0.4" y="16.8" font-size="20" fill="#000" text-anchor="start">a</text>
<text x="4.0" y="41.5" font-size="10" font-weight="bold" fill="#45b445" text-anchor="start" textLength="115" lengthAdjust="spacingAndGlyphs">AAV-CaMKIIα-Gcamp6(s)</text>
<g transform="translate(0,0) scale(1.0)">
<path d="M49.5,77 C49,72 53,70 58,69 C72,66 90,62 108,61.2 C118,60.8 128,61.5 134.3,65.1 C136.5,66.5 137.5,70 137.8,72 C138.5,70 139.5,68.5 140.6,67.8 C143,66.8 148,66.5 152.2,67.8 C156,69.5 158,72 159.2,74.4 C162,79 164,82 164.7,84.5 C166,89 167,92 167.2,94 L167.4,100 C166.5,101 166,102 167,105 C167.5,109 168,113 167.8,115 C167,118 166,119.5 163.9,120.3 C160,122 156,122.3 152.2,122.3 C146,122.3 141,121.8 136.7,121.1 C133,120.5 130,120 128.9,118.8 C127.5,117.5 127,115.5 126.6,114.1 C126,113 125.5,113 125,113 C122,112.5 120,115 117.7,115.4 C112,116 106,114.5 101.3,113.4 C97,112.5 94,111 91.1,110.3 C85,109 80,108.5 74.7,107.2 C70,106 67,104.5 64.5,103.1 C60,101 58,99 56.4,97 C54,94 52,91.5 51.2,88.8 C50,85 49.3,81 49.5,77 Z" fill="#fff" stroke="#000" stroke-width="1.2"/>
<path d="M81.6,97.7 C82,92 86,87 92,83 C99,78 108,72 118,67.5" fill="none" stroke="#000" stroke-width="1"/>
<path d="M83.6,98.2 C84.5,93 88,88.5 94,85 C100,81 108,76 116,72" fill="none" stroke="#000" stroke-width="1"/>
<path d="M89,101 C87,97 86.5,92 88.5,88 C91,84 96,80.5 102,77.5 C108,74.5 113,72 117.5,70 C115,73.5 110,76.5 107.5,79.5 C106,82 105.8,85 105.5,88 C105.2,90.5 104.5,92.5 103.5,93.5 C102.8,92 102.5,90.5 102,91 C101.5,93 101,96 100,97.5 C99.3,98 98.8,97 98.5,95.5 C98.2,94.5 97.5,95 97,97 C96.5,99.5 95,101.2 93,101.3 C91.5,101.4 90,101.5 89,101 Z" fill="#000" stroke="#000" stroke-width="0.6"/>
<path d="M108,80 C107,76 112,72.5 118,72 C123,71.5 126,73 125.5,76.5 C125,80 121,82.5 116,83 C112,83.5 109,82.5 108,80 Z" fill="#fff" stroke="#000" stroke-width="1.2"/>
<path d="M110.8,78 C111.5,74.8 116,73.8 119,75 C120.8,76.5 118.5,78.6 115.2,78.4 C118.8,78.5 122.5,79.5 121.2,81.8 C119,83 114,82.6 111.5,81.5" fill="none" stroke="#000" stroke-width="1.5"/>
<path d="M106.5,82.5 C110,85.5 118,85.5 123,82" fill="none" stroke="#000" stroke-width="1"/>
<path d="M143.7,69 C142.5,74 142,79 140,84 C139.5,88 141,91 143,92.4 C145,93 146.5,90.5 147.4,89.8 C149.5,89.5 151.5,89.8 152.7,90.4 C151,92 150,94.5 150,96.3 C151.5,98.5 154,100.5 155.9,100.5 C158,101.5 160,102.7 162,102.2 C164,101.8 166,101 167.2,100" fill="none" stroke="#000" stroke-width="1.15"/>
<path d="M146.2,70.5 C146.8,76 147.8,82 148.6,88 M149.6,69.5 C151,75 152,81 152.6,86.5 C152.8,88 152,89.5 150.5,89.6 M153.2,70 C155,75 157,80 158,85 C158.5,88 158,90 156.8,91.2 M156.2,72.2 C159,77 161,82 162.2,87 M153.6,92.6 C156,92 159,93.5 162,96.2 M155.2,88.2 C157.5,88 160,89 162.6,91.2 M158.2,82 C160,83 162,84 164.2,86.2 M141.2,83 C142.5,82 144,83 144.2,85.2 M155,96 C157,97 159,98 161,99.5" fill="none" stroke="#000" stroke-width="1.1"/>
<path d="M146.4,71.5 L149.2,87.5 L147.3,87.8 Z" fill="#000" stroke="#000" stroke-width="0.5"/>
<path d="M158.6,92.6 L163,95.6 L161.8,96.8 Z" fill="#000" stroke="#000" stroke-width="0.5"/>
</g>
<path d="M120,77 L119.6,60 C119.3,50 120,44 123,40 C126,35 130,32 134,35 C142,42 150,62 160,68 C166,71 172,70 179,68" fill="none" stroke="#000" stroke-width="1.1"/>
<line x1="128.6" y1="22.0" x2="122.4" y2="57.5" stroke="#2a4a10" stroke-width="5"/>
<line x1="128.6" y1="22.0" x2="122.4" y2="57.5" stroke="#7cc242" stroke-width="3.2"/>
<line x1="129.0" y1="17.5" x2="128.6" y2="22.0" stroke="#000" stroke-width="1"/>
<line x1="126.5" y1="17.2" x2="131.2" y2="17.8" stroke="#000" stroke-width="1.3"/>
<line x1="122.4" y1="57.5" x2="121.9" y2="76.0" stroke="#000" stroke-width="1"/>
<text x="114.8" y="90.0" font-size="9" font-weight="bold" fill="#45b445" text-anchor="start" textLength="17.6" lengthAdjust="spacingAndGlyphs">SUB</text>
<rect x="179.0" y="52.5" width="29.0" height="29.0" fill="none" stroke="#000" stroke-width="1.1"/>
<line x1="186.5" y1="59.0" x2="202.0" y2="74.5" stroke="#000" stroke-width="1.3"/>
<polyline points="201.0,29.0 194.3,29.0 194.3,68.0" fill="none" stroke="#1a1aff" stroke-width="1.2"/>
<polyline points="179.0,68.0 194.3,68.0 194.3,81.5" fill="none" stroke="#1a9a3a" stroke-width="1.2"/>
<polyline points="194.3,81.5 194.3,98.0 179.0,98.0 179.0,120.0 187.0,120.0" fill="none" stroke="#000" stroke-width="1.1"/>
<rect x="204.0" y="20.0" width="38.0" height="18.0" fill="#fff" stroke="#000" stroke-width="1.1"/>
<rect x="201.0" y="24.0" width="3.0" height="10.0" fill="#fff" stroke="#000" stroke-width="1.1"/>
<text x="210.0" y="31.6" font-size="8.5" font-weight="bold" fill="#000" text-anchor="start" textLength="28" lengthAdjust="spacingAndGlyphs">Excitor</text>
<rect x="190.0" y="109.0" width="42.0" height="21.0" fill="#fff" stroke="#000" stroke-width="1.1"/>
<rect x="187.0" y="115.0" width="3.0" height="10.0" fill="#fff" stroke="#000" stroke-width="1.1"/>
<text x="195.2" y="123.6" font-size="8.5" font-weight="bold" fill="#000" text-anchor="start" textLength="33.5" lengthAdjust="spacingAndGlyphs">Detector</text>
<text x="66.0" y="140.2" font-size="12.4" font-weight="bold" fill="#000" text-anchor="start" textLength="87.6" lengthAdjust="spacingAndGlyphs">Wild-type mice</text>
<defs><filter id="bl" x="-20%" y="-20%" width="140%" height="140%"><feGaussianBlur stdDeviation="0.7"/></filter><filter id="bl2" x="-50%" y="-50%" width="200%" height="200%"><feGaussianBlur stdDeviation="2.5"/></filter><clipPath id="ca1"><rect x="9" y="161" width="63" height="64"/></clipPath><clipPath id="ca2"><rect x="77" y="161" width="63" height="63"/></clipPath><clipPath id="ca3"><rect x="145" y="161" width="63" height="63"/></clipPath><clipPath id="ca4"><rect x="213" y="161" width="64" height="63"/></clipPath></defs>
<g clip-path="url(#ca1)">
<rect x="9.0" y="161.0" width="63.0" height="64.0" fill="#070d1a" stroke="none" stroke-width="1"/>
<g filter="url(#bl2)">
<path d="M12,195 C22,186 32,180 42,178" fill="none" stroke="#2f9a20" stroke-width="6" opacity="0.55"/>
<path d="M18,166 C26,164 34,166 42,170" fill="none" stroke="#2a8a1c" stroke-width="5" opacity="0.45"/>
<ellipse cx="46" cy="187" rx="13" ry="10" fill="#3cd828"/>
<ellipse cx="63" cy="169" rx="8" ry="6" fill="#36c828"/>
<circle cx="35.0" cy="180.0" r="5" fill="#2a9a1c" stroke="none" stroke-width="1" opacity="0.5"/>
<circle cx="30.0" cy="205.0" r="10" fill="#0a1838" stroke="none" stroke-width="1"/>
</g>
<ellipse cx="46.5" cy="187.5" rx="9" ry="7.5" fill="#5aee3a" filter="url(#bl)"/>
<rect x="43.5" y="161.0" width="12.0" height="17.0" fill="#000" stroke="none" stroke-width="1"/>
<path d="M20,225 C22,212 30,203 40,201 C48,200 51,205 48,212 C46,217 44,221 43,225" fill="none" stroke="#141e78" stroke-width="1.2"/>
<path d="M26,225 C28,215 34,208 41,207" fill="none" stroke="#141e78" stroke-width="0.9"/>
<path d="M9,196 C20,186 30,180 40,178 M9,222 C15,208 25,200 38,196 C45,194 52,194 55,200 C56,206 52,214 47,225 M57,179 L72,186" fill="none" stroke="#ddd" stroke-width="0.8" stroke-dasharray="2.5,2"/>
<path d="M44,161 L44,177 L55,177 L55,161" fill="none" stroke="#ddd" stroke-width="0.8" stroke-dasharray="2.5,2"/>
</g>
<text x="16.5" y="196.5" font-size="9" fill="#e0e0e0" text-anchor="start">CA1</text>
<text x="41.5" y="189.0" font-size="8.5" fill="#f0f0f0" text-anchor="start">SUB</text>
<g clip-path="url(#ca2)">
<rect x="77.0" y="161.0" width="63.0" height="63.0" fill="#11530f" stroke="none" stroke-width="1"/>
<g filter="url(#bl2)">
<circle cx="85.5" cy="214.4" r="5.291323856929842" fill="#021a02" stroke="none" stroke-width="1" opacity="0.35"/>
<circle cx="93.1" cy="192.2" r="4.348473194366214" fill="#021a02" stroke="none" stroke-width="1" opacity="0.35"/>
<circle cx="118.1" cy="210.7" r="3.281578760322705" fill="#021a02" stroke="none" stroke-width="1" opacity="0.35"/>
<circle cx="78.8" cy="213.7" r="4.298301203715161" fill="#021a02" stroke="none" stroke-width="1" opacity="0.35"/>
<circle cx="125.0" cy="161.1" r="4.336161582164404" fill="#021a02" stroke="none" stroke-width="1" opacity="0.35"/>
<circle cx="122.5" cy="175.4" r="5.835812086661766" fill="#021a02" stroke="none" stroke-width="1" opacity="0.35"/>
<circle cx="133.8" cy="162.9" r="3.0763375829803823" fill="#021a02" stroke="none" stroke-width="1" opacity="0.35"/>
<circle cx="111.1" cy="220.2" r="4.143612713064638" fill="#021a02" stroke="none" stroke-width="1" opacity="0.35"/>
<circle cx="90.6" cy="187.6" r="3.087122362724604" fill="#021a02" stroke="none" stroke-width="1" opacity="0.35"/>
<circle cx="91.0" cy="188.6" r="4.487436724145552" fill="#021a02" stroke="none" stroke-width="1" opacity="0.35"/>
<circle cx="91.7" cy="175.5" r="3.656343112013066" fill="#021a02" stroke="none" stroke-width="1" opacity="0.35"/>
<circle cx="106.0" cy="179.3" r="3.064469115797727" fill="#021a02" stroke="none" stroke-width="1" opacity="0.35"/>
<circle cx="129.8" cy="196.1" r="4.926883088797337" fill="#021a02" stroke="none" stroke-width="1" opacity="0.35"/>
<circle cx="88.7" cy="223.5" r="5.579839586385869" fill="#021a02" stroke="none" stroke-width="1" opacity="0.35"/>
<circle cx="84.6" cy="182.0" r="5.164453222749805" fill="#2a9a22" stroke="none" stroke-width="1" opacity="0.35"/>
<circle cx="121.8" cy="220.0" r="4.266320999884245" fill="#2a9a22" stroke="none" stroke-width="1" opacity="0.35"/>
<circle cx="129.3" cy="203.2" r="3.910105532798753" fill="#2a9a22" stroke="none" stroke-width="1" opacity="0.35"/>
<circle cx="114.0" cy="216.6" r="5.5385922552849385" fill="#2a9a22" stroke="none" stroke-width="1" opacity="0.35"/>
<circle cx="108.8" cy="198.1" r="3.1035774904540245" fill="#2a9a22" stroke="none" stroke-width="1" opacity="0.35"/>
<circle cx="92.3" cy="211.2" r="4.242941997902323" fill="#2a9a22" stroke="none" stroke-width="1" opacity="0.35"/>
<circle cx="87.9" cy="195.6" r="5.109122286196895" fill="#2a9a22" stroke="none" stroke-width="1" opacity="0.35"/>
<circle cx="119.5" cy="184.6" r="4.316884890133689" fill="#2a9a22" stroke="none" stroke-width="1" opacity="0.35"/>
<circle cx="109.0" cy="210.0" r="4.562815252839435" fill="#2a9a22" stroke="none" stroke-width="1" opacity="0.35"/>
<circle cx="101.8" cy="191.9" r="3.0887248919007213" fill="#2a9a22" stroke="none" stroke-width="1" opacity="0.35"/>
</g>
<path d="M79.7 205.3l1.0 6.0M101.8 171.7l0.0 7.9M125.5 195.0l0.7 4.2M109.4 221.0l0.2 5.3M94.0 195.5l0.9 3.0M126.4 212.7l0.8 6.7M128.0 193.7l0.1 5.1M80.5 215.8l0.1 4.0M108.8 191.6l-0.3 4.7M110.9 200.3l0.2 5.3M78.8 175.5l-0.6 5.9M131.2 211.3l0.6 7.1M93.1 214.0l0.3 3.4M78.1 161.9l0.5 4.2M83.9 200.4l-0.3 3.3M87.1 194.2l-0.7 4.4M121.8 189.6l-0.4 5.4M78.5 185.4l-0.2 3.9M83.9 217.7l0.0 4.0M115.2 212.5l-1.0 3.1M86.2 206.3l-0.7 6.5M119.7 195.3l-0.6 7.9M127.3 193.5l-0.6 6.2M101.9 197.3l-0.4 6.2M80.7 179.8l0.9 7.4M96.3 215.1l-0.4 7.7M123.9 187.2l-0.5 3.0M132.4 163.4l0.6 7.8M112.9 171.8l0.7 7.9M121.4 193.1l-0.2 4.7M90.0 203.5l-0.1 4.0M83.6 203.0l-0.4 5.5M97.5 215.9l0.8 3.1M89.7 181.6l1.0 6.9M98.4 174.4l0.3 7.2M135.7 182.7l0.8 6.4M107.5 223.1l-0.5 6.6M82.3 171.7l0.8 4.1M124.8 198.8l0.7 4.8M98.4 179.3l0.7 6.0M137.1 216.9l-0.7 5.8M83.6 163.5l-0.9 7.3M126.7 213.2l-0.3 6.1M126.3 184.8l0.1 4.1M82.1 177.8l0.8 5.8M135.3 189.8l-0.4 6.9M129.1 161.8l0.3 3.5M84.3 216.8l-0.9 4.2M139.3 187.5l-0.8 3.8M92.2 207.9l-0.8 7.6M100.8 222.1l0.8 4.5M93.0 191.1l-0.8 6.3M79.5 161.7l1.0 4.5M114.6 189.3l-0.4 3.3M134.5 222.1l0.9 3.6M90.6 199.9l1.0 5.7M120.4 202.7l-0.5 5.7M96.4 176.5l-0.8 4.4M139.0 189.2l0.3 6.2M136.3 185.6l-0.4 4.6M97.0 214.4l0.8 4.5M98.1 195.3l0.2 6.0M92.4 162.3l-0.5 3.4M111.7 165.5l-0.8 6.2M95.3 210.9l-0.0 7.3M86.7 192.6l0.6 3.4M136.8 171.9l0.6 7.9M128.8 181.1l-0.8 5.6M134.9 179.5l0.8 3.7M134.4 163.0l-0.4 7.5M127.6 218.2l0.7 6.7M120.4 172.2l-0.1 3.8M122.0 203.1l-0.5 3.3M137.7 211.9l0.1 5.7M130.6 189.6l-0.2 4.7M93.3 162.5l0.3 5.1M112.9 164.9l-0.3 3.7M84.9 177.3l0.7 5.0M102.3 199.6l-0.5 3.0M110.3 192.6l0.3 5.2M120.3 207.1l-0.5 5.5M107.2 175.2l-0.2 5.8M134.1 218.8l-0.4 6.2M80.0 165.5l0.0 7.4M87.0 209.3l0.8 4.6M120.6 214.5l-0.3 6.5M123.4 198.5l0.7 7.5M137.5 197.0l-0.6 4.3M90.7 196.9l0.5 3.3M119.9 206.2l-0.3 5.6M87.4 207.0l-0.9 7.9M127.9 200.6l-0.5 7.6M137.4 169.8l0.6 7.2M118.6 205.1l-0.1 7.6M138.2 185.1l0.6 5.2M87.4 181.5l-0.7 7.5M137.4 168.5l0.2 5.0M84.4 179.6l-0.5 6.7M77.3 173.0l-0.1 3.1M116.5 199.2l0.7 4.0M94.9 195.2l-0.5 5.9M92.8 204.1l0.6 7.0M138.3 195.4l-0.0 7.3M125.5 196.9l-0.2 4.4M83.8 211.9l-0.8 6.7M111.4 221.8l0.5 7.9M85.6 192.5l0.1 4.6M108.7 183.5l0.1 3.0M104.9 189.3l-0.4 5.0M126.3 204.1l-0.0 6.2M100.8 173.8l-1.0 4.4M114.7 216.5l0.7 5.6M139.2 190.1l0.7 5.0M123.9 223.2l-0.4 3.9M116.1 194.5l-0.3 3.0M101.5 187.8l-0.2 7.3M113.8 207.2l0.8 6.7M108.0 208.0l0.3 6.2M116.7 186.6l0.3 6.2M136.0 210.3l0.7 6.8M128.4 199.1l-0.3 4.3M121.6 216.1l0.1 3.8M129.5 191.5l-0.1 3.2M109.1 207.9l-0.2 4.8M118.4 162.2l0.0 7.7M120.5 186.3l0.4 6.0M90.2 174.1l0.8 4.3M81.7 213.3l0.0 4.8M109.2 207.4l-0.7 6.3M121.9 212.3l-0.5 6.0M91.6 196.3l-0.7 6.9M131.6 181.8l-0.6 7.8M121.5 214.2l-0.9 7.5M116.2 180.9l-0.1 6.8M126.5 173.0l0.3 3.8M138.3 188.9l0.8 6.6M115.2 177.5l0.1 3.7M85.7 206.1l-0.3 6.8M92.2 206.2l0.4 4.5M83.7 186.0l-0.0 3.5" fill="none" stroke="#1f7a1a" stroke-width="0.9"/>
<g filter="url(#bl)">
<circle cx="108.5" cy="171.7" r="2.8499999999999996" fill="#34d42a" stroke="none" stroke-width="1" opacity="0.76"/>
<circle cx="116.1" cy="170.4" r="2.6599999999999997" fill="#34d42a" stroke="none" stroke-width="1" opacity="0.72"/>
<circle cx="134.3" cy="172.3" r="2.8499999999999996" fill="#34d42a" stroke="none" stroke-width="1" opacity="0.88"/>
<circle cx="87.1" cy="174.9" r="2.6599999999999997" fill="#34d42a" stroke="none" stroke-width="1" opacity="0.97"/>
<circle cx="81.1" cy="179.0" r="2.8499999999999996" fill="#34d42a" stroke="none" stroke-width="1" opacity="0.76"/>
<circle cx="123.0" cy="173.6" r="2.4699999999999998" fill="#34d42a" stroke="none" stroke-width="1" opacity="0.71"/>
<circle cx="118.0" cy="176.8" r="2.6599999999999997" fill="#34d42a" stroke="none" stroke-width="1" opacity="0.91"/>
<circle cx="98.4" cy="182.4" r="2.4699999999999998" fill="#34d42a" stroke="none" stroke-width="1" opacity="0.94"/>
<circle cx="83.9" cy="188.1" r="3.04" fill="#34d42a" stroke="none" stroke-width="1" opacity="0.99"/>
<circle cx="96.5" cy="188.1" r="2.4699999999999998" fill="#34d42a" stroke="none" stroke-width="1" opacity="0.88"/>
<circle cx="108.5" cy="185.6" r="2.4699999999999998" fill="#34d42a" stroke="none" stroke-width="1" opacity="0.80"/>
<circle cx="120.5" cy="192.5" r="2.6599999999999997" fill="#34d42a" stroke="none" stroke-width="1" opacity="0.95"/>
<circle cx="100.9" cy="192.5" r="2.4699999999999998" fill="#34d42a" stroke="none" stroke-width="1" opacity="0.74"/>
<circle cx="89.6" cy="199.4" r="3.04" fill="#34d42a" stroke="none" stroke-width="1" opacity="0.91"/>
<circle cx="112.9" cy="203.8" r="2.8499999999999996" fill="#34d42a" stroke="none" stroke-width="1" opacity="0.73"/>
<circle cx="82.0" cy="212.7" r="2.8499999999999996" fill="#34d42a" stroke="none" stroke-width="1" opacity="0.82"/>
<circle cx="89.0" cy="217.1" r="2.6599999999999997" fill="#34d42a" stroke="none" stroke-width="1" opacity="0.85"/>
<circle cx="104.1" cy="216.1" r="3.04" fill="#34d42a" stroke="none" stroke-width="1" opacity="0.81"/>
<circle cx="121.1" cy="215.8" r="2.6599999999999997" fill="#34d42a" stroke="none" stroke-width="1" opacity="0.75"/>
<circle cx="84.6" cy="219.9" r="2.6599999999999997" fill="#34d42a" stroke="none" stroke-width="1" opacity="0.77"/>
<circle cx="132.4" cy="181.2" r="2.8499999999999996" fill="#34d42a" stroke="none" stroke-width="1" opacity="0.95"/>
<circle cx="131.2" cy="205.1" r="2.4699999999999998" fill="#34d42a" stroke="none" stroke-width="1" opacity="0.84"/>
<circle cx="131.2" cy="165.4" r="2.28" fill="#34d42a" stroke="none" stroke-width="1" opacity="0.87"/>
<circle cx="122.4" cy="164.8" r="2.28" fill="#34d42a" stroke="none" stroke-width="1" opacity="0.76"/>
<circle cx="106.6" cy="219.6" r="2.28" fill="#34d42a" stroke="none" stroke-width="1" opacity="0.91"/>
<circle cx="135.6" cy="189.3" r="2.28" fill="#34d42a" stroke="none" stroke-width="1" opacity="0.80"/>
</g>
</g>
<text x="79.0" y="170.5" font-size="9" fill="#eee" text-anchor="start">EYFP</text>
<line x1="130.5" y1="221.0" x2="136.5" y2="221.0" stroke="#eee" stroke-width="1.5"/>
<g clip-path="url(#ca3)">
<rect x="145.0" y="161.0" width="63.0" height="63.0" fill="#340404" stroke="none" stroke-width="1"/>
<g filter="url(#bl2)">
<circle cx="182.4" cy="218.3" r="5.983180226657965" fill="#100000" stroke="none" stroke-width="1" opacity="0.35"/>
<circle cx="147.9" cy="211.2" r="5.572763476082647" fill="#100000" stroke="none" stroke-width="1" opacity="0.35"/>
<circle cx="165.1" cy="185.1" r="4.740761279028999" fill="#100000" stroke="none" stroke-width="1" opacity="0.35"/>
<circle cx="202.9" cy="186.2" r="5.640090506320235" fill="#100000" stroke="none" stroke-width="1" opacity="0.35"/>
<circle cx="192.8" cy="170.6" r="5.741039761091548" fill="#100000" stroke="none" stroke-width="1" opacity="0.35"/>
<circle cx="146.0" cy="170.1" r="4.9944336386600625" fill="#100000" stroke="none" stroke-width="1" opacity="0.35"/>
<circle cx="148.6" cy="184.9" r="3.3899365755808004" fill="#100000" stroke="none" stroke-width="1" opacity="0.35"/>
<circle cx="174.2" cy="213.9" r="5.718253054047558" fill="#100000" stroke="none" stroke-width="1" opacity="0.35"/>
<circle cx="147.2" cy="164.8" r="5.521872106095968" fill="#100000" stroke="none" stroke-width="1" opacity="0.35"/>
<circle cx="147.7" cy="178.2" r="3.3523101530785095" fill="#100000" stroke="none" stroke-width="1" opacity="0.35"/>
<circle cx="150.7" cy="162.7" r="4.9125390379945575" fill="#100000" stroke="none" stroke-width="1" opacity="0.35"/>
<circle cx="191.9" cy="204.3" r="5.5368683157546785" fill="#100000" stroke="none" stroke-width="1" opacity="0.35"/>
<circle cx="186.8" cy="185.6" r="4.893189071148034" fill="#100000" stroke="none" stroke-width="1" opacity="0.35"/>
<circle cx="206.1" cy="201.4" r="3.7292752022763906" fill="#100000" stroke="none" stroke-width="1" opacity="0.35"/>
<circle cx="148.8" cy="219.9" r="4.771486494882625" fill="#8a1010" stroke="none" stroke-width="1" opacity="0.35"/>
<circle cx="167.0" cy="199.1" r="4.680772788190421" fill="#8a1010" stroke="none" stroke-width="1" opacity="0.35"/>
<circle cx="177.9" cy="164.8" r="4.059682657128405" fill="#8a1010" stroke="none" stroke-width="1" opacity="0.35"/>
<circle cx="171.0" cy="173.6" r="5.640315693685521" fill="#8a1010" stroke="none" stroke-width="1" opacity="0.35"/>
<circle cx="171.7" cy="202.7" r="5.140639348337688" fill="#8a1010" stroke="none" stroke-width="1" opacity="0.35"/>
<circle cx="191.8" cy="206.4" r="5.256625504917299" fill="#8a1010" stroke="none" stroke-width="1" opacity="0.35"/>
<circle cx="160.8" cy="222.5" r="3.4530292613515803" fill="#8a1010" stroke="none" stroke-width="1" opacity="0.35"/>
<circle cx="202.9" cy="214.8" r="5.556492873539903" fill="#8a1010" stroke="none" stroke-width="1" opacity="0.35"/>
<circle cx="148.3" cy="166.7" r="5.439167406696965" fill="#8a1010" stroke="none" stroke-width="1" opacity="0.35"/>
<circle cx="174.6" cy="184.3" r="5.954062416688072" fill="#8a1010" stroke="none" stroke-width="1" opacity="0.35"/>
</g>
<path d="M147.5 194.5l-0.1 3.6M169.9 205.6l0.8 3.1M178.0 166.7l0.6 3.4M147.2 185.2l0.5 4.6M153.2 211.1l0.6 7.3M164.1 187.8l-0.5 5.8M165.8 182.3l0.6 7.8M181.8 167.6l0.3 5.2M207.2 206.3l0.7 6.5M178.7 217.5l0.7 4.5M154.9 184.3l0.0 3.5M166.8 197.2l-0.9 7.1M186.0 180.8l-0.4 4.8M165.5 208.2l0.0 5.6M154.4 218.6l-0.3 4.6M149.3 222.7l-0.0 7.6M203.4 222.1l0.6 7.6M203.1 211.5l-0.7 5.6M181.3 223.5l0.6 6.5M192.0 183.8l0.9 6.2M170.4 190.3l1.0 5.7M155.6 170.3l0.4 5.8M202.1 172.6l-0.2 6.6M148.2 167.3l0.1 4.3M151.7 177.5l0.3 5.6M149.9 165.6l0.7 6.2M155.9 215.3l-1.0 4.8M198.4 205.7l-0.4 7.5M182.7 215.5l0.8 5.1M187.6 195.3l0.9 7.0M190.7 212.3l1.0 4.3M157.7 208.0l0.5 5.6M175.7 186.4l0.8 7.0M181.8 163.5l0.7 5.3M157.0 179.9l0.4 3.0M152.6 180.1l0.8 6.7M206.2 195.2l0.1 5.8M178.1 195.1l0.6 7.8M170.7 200.7l-0.4 4.5M176.9 197.9l0.1 7.9M155.3 201.1l1.0 6.7M180.7 184.2l-0.2 7.7M201.4 203.2l0.8 7.6M198.3 185.2l-0.1 7.0M168.5 208.2l-0.0 4.7M173.7 168.3l-0.3 5.1M146.1 171.8l-0.5 7.3M182.1 179.1l1.0 4.3M177.4 207.6l0.4 5.2M194.0 191.6l0.4 5.5M206.2 206.1l-0.8 3.6M205.9 175.4l-0.9 4.3M175.2 221.0l-0.2 6.6M197.6 166.6l0.2 8.0M179.6 194.7l-0.3 7.7M206.1 167.5l0.1 5.1M187.3 168.5l-0.5 4.4M175.2 211.0l0.7 6.9M187.6 166.5l-0.2 6.3M163.5 193.0l0.8 3.6M198.8 167.7l-0.2 7.5M157.7 193.8l-0.2 7.4M207.5 179.2l-0.0 7.5M179.3 174.5l0.5 4.7M175.6 161.5l1.0 6.3M203.3 222.0l-0.5 5.7M172.7 208.9l0.7 4.1M162.3 205.5l-0.2 3.7M157.3 196.3l0.2 7.8M178.6 199.4l-0.7 5.1M162.6 204.8l-0.5 4.1M168.2 190.6l-0.3 6.0M156.4 216.4l0.4 5.7M148.7 181.5l0.4 6.2M196.2 217.2l-0.4 5.5M165.8 169.1l-0.7 4.3M150.5 194.9l0.4 5.8M188.1 175.3l-0.6 5.8M200.7 187.6l-1.0 3.1M164.2 199.8l-0.8 4.1M187.9 223.1l-0.3 6.0M177.7 162.5l-0.3 3.7M160.8 209.5l0.4 3.2M149.9 206.7l-0.8 4.6M162.0 164.1l-0.9 3.7M170.2 219.8l0.3 4.2M187.8 178.2l0.0 4.6M204.8 183.2l0.6 6.2M198.1 199.2l0.7 5.0M187.8 200.1l0.1 5.8M178.8 185.8l0.8 6.2M179.6 164.4l0.0 3.9M158.5 188.4l0.1 4.3M162.1 194.4l-0.1 5.0M151.5 184.5l0.3 5.7M179.3 214.2l0.4 6.4M146.9 180.4l0.4 3.8M202.5 169.9l0.8 4.1M198.0 214.4l-0.3 7.4M155.1 214.5l-0.2 5.2M152.4 198.9l-0.5 6.3M195.4 199.0l-1.0 7.8M202.9 201.5l-0.2 5.8M200.6 190.0l0.6 6.0M171.6 219.8l-0.2 6.0M148.4 190.7l-0.9 6.5M145.0 163.7l-0.8 3.7M177.0 183.4l-0.5 7.9M202.3 202.3l0.6 7.1M160.4 211.9l-0.5 5.8M167.5 171.0l0.6 7.6M164.8 216.4l-0.3 6.3M207.7 209.6l-0.9 5.2M168.7 179.5l0.6 5.2M189.1 201.0l0.0 3.3M187.4 217.2l-0.7 6.2M175.7 182.5l0.4 7.9M146.4 217.5l-0.2 7.2M156.0 206.1l-0.8 4.7M206.1 202.4l0.6 5.3M174.7 192.0l0.5 6.6M157.2 188.8l0.1 5.9M203.4 213.9l-0.7 4.9M151.9 162.7l-0.9 3.9M193.3 203.0l0.6 4.4M154.8 222.2l0.7 7.7M146.2 186.0l0.3 6.7M202.5 194.9l-0.2 3.0M195.6 222.9l0.8 6.3M166.6 176.1l0.6 7.7M205.5 172.1l0.2 5.6M171.9 211.0l0.9 6.6M189.1 204.5l0.3 5.7M160.6 210.1l-0.8 6.2M169.4 196.3l0.3 5.4M206.6 176.1l-1.0 7.8M164.7 178.5l-0.2 6.0M207.1 205.6l-0.4 5.7M173.3 192.6l-0.2 3.8M169.9 185.5l-0.6 7.1M167.7 170.5l0.1 7.2M194.2 200.2l0.5 4.7M154.0 177.1l-0.3 4.4M174.5 170.4l-0.7 4.3M157.4 211.5l0.1 4.0M172.0 215.9l0.2 5.8M169.7 173.3l0.3 3.4M194.5 164.6l0.5 4.9M188.0 198.2l-0.7 5.7M149.7 176.2l-0.2 4.4M186.7 223.2l-0.3 7.2M159.2 205.7l-0.3 5.7M150.6 213.1l-0.6 5.3M163.3 212.0l0.2 6.1M192.5 177.1l-0.9 7.1M164.9 212.2l0.9 6.1M151.5 214.8l0.3 4.2M158.1 193.0l-0.8 7.5M189.6 212.6l-0.2 7.6M153.4 206.1l-0.5 3.0M152.6 173.7l0.5 4.9M175.4 199.7l-0.5 6.2M187.3 219.0l0.0 7.3M206.0 209.4l-0.2 4.4M151.2 213.4l-0.7 5.8M173.6 163.8l-0.6 7.1M178.9 219.2l0.8 3.5M187.7 163.7l-0.2 5.2M205.3 198.5l-0.6 5.5M177.9 173.4l-0.3 7.4" fill="none" stroke="#7a0c0c" stroke-width="0.9"/>
<g filter="url(#bl)">
<circle cx="202.3" cy="172.3" r="2.25" fill="none" stroke="#d81212" stroke-width="1.4"/>
<circle cx="149.1" cy="179.0" r="2.25" fill="none" stroke="#d81212" stroke-width="1.4"/>
<circle cx="185.9" cy="176.8" r="2.0999999999999996" fill="none" stroke="#d81212" stroke-width="1.4"/>
<circle cx="166.4" cy="182.4" r="1.9500000000000002" fill="none" stroke="#d81212" stroke-width="1.4"/>
<circle cx="164.5" cy="188.1" r="1.9500000000000002" fill="none" stroke="#d81212" stroke-width="1.4"/>
<circle cx="176.5" cy="185.6" r="1.9500000000000002" fill="none" stroke="#d81212" stroke-width="1.4"/>
<circle cx="188.5" cy="192.5" r="2.0999999999999996" fill="none" stroke="#d81212" stroke-width="1.4"/>
<circle cx="180.9" cy="203.8" r="2.25" fill="none" stroke="#d81212" stroke-width="1.4"/>
<circle cx="189.1" cy="215.8" r="2.0999999999999996" fill="none" stroke="#d81212" stroke-width="1.4"/>
<circle cx="152.6" cy="219.9" r="2.0999999999999996" fill="none" stroke="#d81212" stroke-width="1.4"/>
<circle cx="199.2" cy="205.1" r="1.9500000000000002" fill="none" stroke="#d81212" stroke-width="1.4"/>
<circle cx="190.4" cy="164.8" r="1.7999999999999998" fill="none" stroke="#d81212" stroke-width="1.4"/>
<circle cx="203.6" cy="189.3" r="1.7999999999999998" fill="none" stroke="#d81212" stroke-width="1.4"/>
</g>
</g>
<text x="147.0" y="170.5" font-size="8.5" fill="#eee" text-anchor="start">CaMKII</text>
<line x1="198.5" y1="221.0" x2="204.5" y2="221.0" stroke="#eee" stroke-width="1.5"/>
<g clip-path="url(#ca4)">
<rect x="213.0" y="161.0" width="64.0" height="63.0" fill="#2f4a0c" stroke="none" stroke-width="1"/>
<g filter="url(#bl2)">
<circle cx="240.3" cy="198.1" r="3.9519313975100285" fill="#0a1402" stroke="none" stroke-width="1" opacity="0.35"/>
<circle cx="222.6" cy="198.1" r="5.552888765861434" fill="#0a1402" stroke="none" stroke-width="1" opacity="0.35"/>
<circle cx="230.8" cy="215.5" r="5.361386883054803" fill="#0a1402" stroke="none" stroke-width="1" opacity="0.35"/>
<circle cx="262.6" cy="187.2" r="5.996269550617818" fill="#0a1402" stroke="none" stroke-width="1" opacity="0.35"/>
<circle cx="263.6" cy="197.3" r="3.3405299045951082" fill="#0a1402" stroke="none" stroke-width="1" opacity="0.35"/>
<circle cx="249.7" cy="161.9" r="5.7066260650466045" fill="#0a1402" stroke="none" stroke-width="1" opacity="0.35"/>
<circle cx="234.5" cy="184.2" r="4.652649544949715" fill="#0a1402" stroke="none" stroke-width="1" opacity="0.35"/>
<circle cx="253.8" cy="197.7" r="4.454775651459951" fill="#0a1402" stroke="none" stroke-width="1" opacity="0.35"/>
<circle cx="253.6" cy="214.4" r="4.338628187801305" fill="#0a1402" stroke="none" stroke-width="1" opacity="0.35"/>
<circle cx="245.0" cy="212.1" r="3.0102182087882077" fill="#0a1402" stroke="none" stroke-width="1" opacity="0.35"/>
<circle cx="223.3" cy="181.5" r="3.641812163877716" fill="#0a1402" stroke="none" stroke-width="1" opacity="0.35"/>
<circle cx="270.3" cy="170.3" r="3.323660293310355" fill="#0a1402" stroke="none" stroke-width="1" opacity="0.35"/>
<circle cx="233.3" cy="193.0" r="5.464442574084526" fill="#0a1402" stroke="none" stroke-width="1" opacity="0.35"/>
<circle cx="276.7" cy="214.7" r="4.826512799452649" fill="#0a1402" stroke="none" stroke-width="1" opacity="0.35"/>
<circle cx="215.4" cy="165.0" r="4.892208231538124" fill="#8a6a14" stroke="none" stroke-width="1" opacity="0.35"/>
<circle cx="265.5" cy="177.7" r="5.907657028668721" fill="#8a6a14" stroke="none" stroke-width="1" opacity="0.35"/>
<circle cx="248.2" cy="197.1" r="4.8558657486024615" fill="#8a6a14" stroke="none" stroke-width="1" opacity="0.35"/>
<circle cx="217.8" cy="171.7" r="5.808576888272107" fill="#8a6a14" stroke="none" stroke-width="1" opacity="0.35"/>
<circle cx="230.1" cy="166.2" r="3.847286817822648" fill="#8a6a14" stroke="none" stroke-width="1" opacity="0.35"/>
<circle cx="259.5" cy="177.6" r="3.631745005372744" fill="#8a6a14" stroke="none" stroke-width="1" opacity="0.35"/>
<circle cx="230.7" cy="191.3" r="5.212647278133371" fill="#8a6a14" stroke="none" stroke-width="1" opacity="0.35"/>
<circle cx="232.3" cy="216.0" r="5.927647259918783" fill="#8a6a14" stroke="none" stroke-width="1" opacity="0.35"/>
<circle cx="265.6" cy="165.7" r="3.9463757054432937" fill="#8a6a14" stroke="none" stroke-width="1" opacity="0.35"/>
<circle cx="272.3" cy="215.1" r="3.399759874535762" fill="#8a6a14" stroke="none" stroke-width="1" opacity="0.35"/>
</g>
<path d="M241.3 183.9l0.5 3.1M233.2 208.2l0.8 3.2M250.7 202.8l0.7 5.1M275.3 173.4l-0.8 3.7M250.6 168.7l-0.5 4.0M216.5 221.6l-0.3 7.8M259.3 174.8l0.9 3.0M275.8 163.0l-0.5 5.8M213.6 209.2l-0.8 7.1M215.2 194.3l-0.6 4.4M244.4 184.4l-0.2 6.3M225.5 172.4l0.4 4.5M272.7 187.9l-0.1 3.1M214.3 167.6l0.3 6.3M273.9 188.2l0.4 4.7M217.7 187.5l0.4 7.0M273.9 213.4l0.1 5.8M245.1 191.1l0.4 5.9M267.9 189.4l-0.1 7.2M256.2 194.0l0.1 7.0M251.9 177.3l-0.4 6.0M215.9 189.8l0.8 4.2M241.4 205.1l0.9 6.5M253.1 185.2l-0.1 6.2M235.8 210.4l-1.0 6.8M260.5 180.3l-1.0 4.7M250.7 210.6l0.7 4.0M218.2 168.6l1.0 6.2M221.2 204.5l0.9 6.0M227.9 221.6l0.4 3.9M262.0 192.8l0.1 4.8M231.8 187.5l0.1 5.3M268.4 165.7l-0.6 7.7M251.9 199.9l0.3 4.2M238.3 174.2l-0.7 7.9M260.6 216.4l-1.0 6.5M232.7 192.4l0.4 3.2M236.7 195.9l0.7 5.6M233.3 199.0l0.2 4.5M248.1 178.4l-1.0 4.6M218.5 192.0l0.0 7.4M260.9 208.2l1.0 4.3M236.9 175.5l-0.8 5.6M245.7 169.2l0.8 7.9M217.4 161.2l-0.9 6.7M267.6 165.2l-1.0 5.7M234.3 162.2l-1.0 4.1M225.8 179.6l0.1 4.3M227.9 174.3l0.8 4.2M248.5 189.5l-0.3 5.0M214.0 172.7l0.3 6.8M227.0 172.1l0.8 3.5M263.9 216.3l-0.7 7.2M222.6 163.7l-0.4 4.7M250.7 188.9l0.6 6.3M220.6 173.7l0.5 3.6M274.0 212.1l-0.6 4.4M229.1 187.6l-0.5 3.2M229.1 173.3l-0.3 5.3M269.0 202.6l0.2 7.3M237.7 187.8l-0.5 7.2M269.2 218.4l0.2 3.6M217.6 211.2l0.8 5.7M271.9 219.6l0.5 4.9M242.2 183.2l-0.2 5.4M214.1 169.0l-0.7 5.8M268.8 205.8l-0.7 5.3M253.1 169.5l-0.8 6.1M228.1 201.6l-0.7 7.3M232.8 188.0l0.1 7.4M271.6 214.2l0.4 3.3M225.0 194.7l1.0 6.6M225.3 183.4l0.9 5.5M268.7 215.1l0.6 6.1M255.6 182.6l-0.8 7.7M215.1 178.1l0.2 7.8M226.5 176.6l0.7 4.6M238.8 183.7l-0.9 7.7M257.7 161.4l-0.8 3.7M236.6 217.1l-0.7 4.1M232.9 193.2l0.8 5.7M270.8 195.1l-0.1 7.4M250.2 190.9l0.0 4.8M240.7 165.7l-0.6 6.8M221.5 174.1l-0.7 4.8M216.2 183.7l0.2 6.4M268.5 166.5l0.3 4.0M234.9 197.2l0.7 6.4M276.1 162.1l-0.4 5.4M215.3 164.3l-0.3 5.8M221.7 165.3l-0.4 6.7M249.3 223.8l0.2 7.5M249.7 191.3l-0.2 3.4M217.0 202.5l0.7 3.1M224.5 181.6l-0.4 7.2M229.2 180.3l-0.0 7.8M231.8 200.9l-0.9 5.2M272.3 174.7l-0.3 6.3M249.2 197.3l0.2 6.4M233.7 183.2l-0.2 5.6M249.3 216.1l-0.2 5.2M266.3 222.2l-0.5 6.7M228.8 207.7l-0.9 5.5M249.5 205.1l0.8 7.0M249.0 192.3l-1.0 5.8M249.0 207.8l-0.7 5.9M216.3 206.7l0.6 5.2M257.0 202.7l-0.4 3.4M261.5 183.5l-0.7 5.2M266.3 221.1l0.1 7.8M224.1 191.9l-1.0 4.2M269.1 164.7l0.3 5.5M276.2 223.6l-0.8 4.3M276.5 181.8l-0.6 7.6M252.5 180.4l0.1 5.1M242.3 195.8l-0.7 6.1M274.1 198.3l0.6 4.4M222.9 161.4l1.0 3.6M237.3 202.2l0.5 6.1M241.1 212.3l-0.1 7.2M216.5 206.5l-0.8 4.9M241.4 172.5l-0.1 7.3M215.3 173.2l1.0 5.2M237.9 218.5l0.6 3.9M251.3 172.4l0.6 5.8M264.1 165.1l0.9 4.1M267.4 188.8l0.8 3.5M216.4 190.5l0.9 5.3M245.5 171.3l0.1 5.1M269.8 207.7l-0.0 3.7M222.3 222.2l0.2 4.1M264.9 174.6l-0.1 7.4M219.6 167.5l-0.9 3.8M237.0 181.3l-0.4 3.1M244.2 189.1l0.5 4.5M250.2 180.7l0.5 3.9M244.3 189.1l-0.1 5.7M247.3 180.9l0.6 7.8M248.8 201.0l0.4 4.6M250.9 190.1l-0.0 5.0M247.3 174.7l-0.5 4.0M251.0 176.5l0.6 7.5M261.6 181.7l0.9 4.7M236.1 198.5l0.3 5.0M263.3 214.8l-0.4 4.1M238.4 205.0l0.3 3.9M237.9 217.8l0.9 6.0M262.9 213.9l-0.6 3.3M252.1 185.2l0.4 4.5M240.8 211.9l-0.8 5.0M222.8 194.6l0.5 7.9M261.2 170.1l-0.1 5.7M253.8 205.2l0.9 7.7M226.3 171.0l0.9 3.8M275.0 168.5l0.2 3.6M221.6 182.0l0.6 6.5M233.3 169.6l-0.3 3.9M228.0 192.3l-0.0 7.6M218.7 194.6l0.1 3.7M236.1 169.7l0.8 4.7M217.2 190.9l0.1 7.4M259.0 174.0l0.8 3.0M257.6 163.7l0.6 3.9M264.0 212.2l0.5 3.6M238.6 167.6l0.4 8.0M246.5 202.1l0.3 3.7M236.8 183.0l0.5 5.1M236.6 195.6l-0.6 3.3M228.2 162.3l0.3 5.3M252.5 196.8l-0.9 7.1" fill="none" stroke="#7a5a12" stroke-width="0.9"/>
<g filter="url(#bl)">
<circle cx="245.0" cy="171.7" r="3.0" fill="#9cc420" stroke="none" stroke-width="1"/>
<circle cx="245.0" cy="171.7" r="1.9500000000000002" fill="#44d42c" stroke="none" stroke-width="1"/>
<circle cx="252.7" cy="170.4" r="2.8" fill="#9cc420" stroke="none" stroke-width="1"/>
<circle cx="252.7" cy="170.4" r="1.8199999999999998" fill="#44d42c" stroke="none" stroke-width="1"/>
<circle cx="271.2" cy="172.3" r="3.0" fill="#9cc420" stroke="none" stroke-width="1"/>
<circle cx="271.2" cy="172.3" r="1.9500000000000002" fill="#44d42c" stroke="none" stroke-width="1"/>
<circle cx="223.2" cy="174.9" r="2.8" fill="#9cc420" stroke="none" stroke-width="1"/>
<circle cx="223.2" cy="174.9" r="1.8199999999999998" fill="#44d42c" stroke="none" stroke-width="1"/>
<circle cx="217.2" cy="179.0" r="3.0" fill="#9cc420" stroke="none" stroke-width="1"/>
<circle cx="217.2" cy="179.0" r="1.9500000000000002" fill="#44d42c" stroke="none" stroke-width="1"/>
<circle cx="259.7" cy="173.6" r="2.6" fill="#9cc420" stroke="none" stroke-width="1"/>
<circle cx="259.7" cy="173.6" r="1.6900000000000002" fill="#44d42c" stroke="none" stroke-width="1"/>
<circle cx="254.6" cy="176.8" r="2.8" fill="#9cc420" stroke="none" stroke-width="1"/>
<circle cx="254.6" cy="176.8" r="1.8199999999999998" fill="#44d42c" stroke="none" stroke-width="1"/>
<circle cx="234.8" cy="182.4" r="2.6" fill="#9cc420" stroke="none" stroke-width="1"/>
<circle cx="234.8" cy="182.4" r="1.6900000000000002" fill="#44d42c" stroke="none" stroke-width="1"/>
<circle cx="220.0" cy="188.1" r="3.2" fill="#9cc420" stroke="none" stroke-width="1"/>
<circle cx="220.0" cy="188.1" r="2.08" fill="#44d42c" stroke="none" stroke-width="1"/>
<circle cx="232.8" cy="188.1" r="2.6" fill="#9cc420" stroke="none" stroke-width="1"/>
<circle cx="232.8" cy="188.1" r="1.6900000000000002" fill="#44d42c" stroke="none" stroke-width="1"/>
<circle cx="245.0" cy="185.6" r="2.6" fill="#9cc420" stroke="none" stroke-width="1"/>
<circle cx="245.0" cy="185.6" r="1.6900000000000002" fill="#44d42c" stroke="none" stroke-width="1"/>
<circle cx="257.2" cy="192.5" r="2.8" fill="#9cc420" stroke="none" stroke-width="1"/>
<circle cx="257.2" cy="192.5" r="1.8199999999999998" fill="#44d42c" stroke="none" stroke-width="1"/>
<circle cx="237.3" cy="192.5" r="2.6" fill="#9cc420" stroke="none" stroke-width="1"/>
<circle cx="237.3" cy="192.5" r="1.6900000000000002" fill="#44d42c" stroke="none" stroke-width="1"/>
<circle cx="225.8" cy="199.4" r="3.2" fill="#9cc420" stroke="none" stroke-width="1"/>
<circle cx="225.8" cy="199.4" r="2.08" fill="#44d42c" stroke="none" stroke-width="1"/>
<circle cx="249.5" cy="203.8" r="3.0" fill="#9cc420" stroke="none" stroke-width="1"/>
<circle cx="249.5" cy="203.8" r="1.9500000000000002" fill="#44d42c" stroke="none" stroke-width="1"/>
<circle cx="218.1" cy="212.7" r="3.0" fill="#9cc420" stroke="none" stroke-width="1"/>
<circle cx="218.1" cy="212.7" r="1.9500000000000002" fill="#44d42c" stroke="none" stroke-width="1"/>
<circle cx="225.2" cy="217.1" r="2.8" fill="#9cc420" stroke="none" stroke-width="1"/>
<circle cx="225.2" cy="217.1" r="1.8199999999999998" fill="#44d42c" stroke="none" stroke-width="1"/>
<circle cx="240.5" cy="216.1" r="3.2" fill="#9cc420" stroke="none" stroke-width="1"/>
<circle cx="240.5" cy="216.1" r="2.08" fill="#44d42c" stroke="none" stroke-width="1"/>
<circle cx="257.8" cy="215.8" r="2.8" fill="#9cc420" stroke="none" stroke-width="1"/>
<circle cx="257.8" cy="215.8" r="1.8199999999999998" fill="#44d42c" stroke="none" stroke-width="1"/>
<circle cx="220.7" cy="219.9" r="2.8" fill="#9cc420" stroke="none" stroke-width="1"/>
<circle cx="220.7" cy="219.9" r="1.8199999999999998" fill="#44d42c" stroke="none" stroke-width="1"/>
<circle cx="269.3" cy="181.2" r="3.0" fill="#9cc420" stroke="none" stroke-width="1"/>
<circle cx="269.3" cy="181.2" r="1.9500000000000002" fill="#44d42c" stroke="none" stroke-width="1"/>
<circle cx="268.0" cy="205.1" r="2.6" fill="#9cc420" stroke="none" stroke-width="1"/>
<circle cx="268.0" cy="205.1" r="1.6900000000000002" fill="#44d42c" stroke="none" stroke-width="1"/>
<circle cx="268.0" cy="165.4" r="2.4" fill="#9cc420" stroke="none" stroke-width="1"/>
<circle cx="268.0" cy="165.4" r="1.56" fill="#44d42c" stroke="none" stroke-width="1"/>
<circle cx="259.1" cy="164.8" r="2.4" fill="#9cc420" stroke="none" stroke-width="1"/>
<circle cx="259.1" cy="164.8" r="1.56" fill="#44d42c" stroke="none" stroke-width="1"/>
<circle cx="243.1" cy="219.6" r="2.4" fill="#9cc420" stroke="none" stroke-width="1"/>
<circle cx="243.1" cy="219.6" r="1.56" fill="#44d42c" stroke="none" stroke-width="1"/>
<circle cx="272.5" cy="189.3" r="2.4" fill="#9cc420" stroke="none" stroke-width="1"/>
<circle cx="272.5" cy="189.3" r="1.56" fill="#44d42c" stroke="none" stroke-width="1"/>
</g>
</g>
<circle cx="252.7" cy="190.6" r="2.3" fill="none" stroke="#e82010" stroke-width="1.4"/>
<text x="215.0" y="170.5" font-size="8.5" fill="#eee" text-anchor="start">Merge</text>
<line x1="267.5" y1="221.0" x2="273.5" y2="221.0" stroke="#eee" stroke-width="1.5"/>
<text x="290.4" y="15.0" font-size="20" fill="#000" text-anchor="start">b</text>
<text x="344.8" y="8.6" font-size="8.3" font-weight="bold" fill="#000" text-anchor="start" textLength="79.7" lengthAdjust="spacingAndGlyphs">Kindling stimulation</text>
<path d="M321.0,19.2 321.7,19.3 322.4,18.9 323.1,19.3 323.8,19.0 324.5,19.1 325.2,19.4 325.9,19.0 326.6,19.4 327.3,19.1 328.0,19.3 328.7,19.3 329.4,19.1 330.1,18.8 330.8,19.3 331.5,19.2 332.2,18.9 332.9,18.7 333.6,19.0 334.3,19.1 335.0,18.6 335.7,19.4 336.4,18.3 337.1,18.8 337.8,19.0 338.5,19.0 339.2,18.8 339.9,18.3 340.6,18.9 341.3,18.5 342.0,18.5 342.7,18.7 343.4,18.6 344.1,19.0 344.8,19.0 345.5,18.9 346.2,18.4 346.9,18.7 347.6,18.8 348.3,18.5 349.0,18.7 349.7,18.8 350.4,18.3 351.1,18.4 351.8,18.9 352.5,18.5 353.2,18.6 353.9,18.2 354.6,18.4 355.3,18.8 356.0,18.1 356.7,19.0 357.4,18.7 358.1,18.4 358.8,19.0 359.5,18.6 360.2,19.1 360.9,18.4 361.6,18.4 362.3,18.5 363.0,18.2 363.7,18.8 364.4,18.4 365.1,18.5 365.8,18.5 366.5,18.7 367.2,18.3 367.9,18.2 368.6,18.6 369.3,18.4 370.0,19.0 370.7,18.4 371.4,18.5 372.1,18.1 372.8,18.3 373.5,18.8 374.2,18.7 374.9,18.4 375.6,19.1 376.3,18.6 377.0,18.9 377.7,19.0 378.4,19.0 379.1,18.3 379.8,19.0 380.5,18.9 381.2,18.7 381.9,18.2 382.6,19.0 383.3,18.7 384.0,18.6 384.7,18.2 385.4,18.8 386.1,18.7 386.8,19.2 387.5,19.1 388.2,19.1 388.9,18.7 389.6,18.7 390.3,19.3 391.0,19.3 391.7,19.2 392.4,19.2 393.1,19.0 393.8,18.9 394.5,19.2 395.2,19.4 395.9,19.1 396.6,19.1 397.3,19.0 398.0,18.7 398.7,18.9 399.4,19.0 400.1,19.7 400.8,19.7 401.5,20.2 402.2,19.5 402.9,19.6 403.6,19.5 404.3,19.6 405.0,19.9 405.7,19.9 406.4,20.1 407.1,19.7 407.8,20.2 408.5,20.1 409.2,20.0 409.9,20.1 410.6,19.9 411.3,20.2 412.0,20.2 412.7,20.1 413.4,20.1 414.1,19.9 414.8,20.2 415.5,19.5 416.2,19.7 416.9,20.1 417.6,20.0 418.3,19.9 419.0,19.9 419.7,20.1 420.4,19.5 421.1,19.4 421.8,19.8 422.5,19.8 423.2,20.1 423.9,20.1 424.6,19.9 425.3,20.0 426.0,19.6 426.7,20.1 427.4,20.2 428.1,19.5 428.8,19.8 429.5,20.1 430.2,19.8 430.9,20.2 431.6,19.8 432.3,19.4 433.0,19.5 433.7,19.7 434.4,20.0 435.1,19.9 435.8,20.1 436.5,19.6 437.2,19.8 437.9,19.6 438.6,19.9 439.3,20.0 440.0,19.6 440.7,19.4 441.4,19.5 442.1,19.6 442.8,19.6 443.5,19.6 444.2,20.0 444.9,19.8 445.6,19.9 446.3,20.2 447.0,20.2 447.7,20.0 448.4,20.0 449.1,19.7 449.8,19.5 450.5,19.9 451.2,19.5 451.9,19.4 452.6,19.5 453.3,19.9 454.0,20.0 454.7,20.0 455.4,20.0 456.1,20.0 456.8,19.7 457.5,19.5 458.2,19.6 458.9,19.8 459.6,19.7 460.3,19.6 461.0,20.1 461.7,19.7 462.4,19.5 463.1,19.6 463.8,19.6 464.5,19.8 465.2,20.1 465.9,19.6 466.6,19.9 466.6,22.8 465.9,23.1 465.2,23.1 464.5,22.6 463.8,22.7 463.1,22.5 462.4,22.8 461.7,22.6 461.0,22.6 460.3,22.6 459.6,22.9 458.9,23.1 458.2,23.0 457.5,22.5 456.8,22.5 456.1,22.6 455.4,23.0 454.7,22.5 454.0,22.5 453.3,22.4 452.6,22.7 451.9,22.7 451.2,22.9 450.5,22.9 449.8,23.0 449.1,22.7 448.4,23.2 447.7,22.9 447.0,22.8 446.3,22.7 445.6,23.0 444.9,22.8 444.2,22.7 443.5,23.0 442.8,22.5 442.1,23.1 441.4,22.8 440.7,22.5 440.0,22.8 439.3,23.0 438.6,22.4 437.9,22.6 437.2,22.4 436.5,22.7 435.8,22.5 435.1,22.8 434.4,22.6 433.7,23.0 433.0,22.6 432.3,22.6 431.6,22.6 430.9,22.4 430.2,22.5 429.5,22.5 428.8,22.6 428.1,22.8 427.4,22.5 426.7,22.6 426.0,23.1 425.3,22.8 424.6,22.7 423.9,22.7 423.2,23.1 422.5,22.5 421.8,23.1 421.1,22.5 420.4,23.0 419.7,22.9 419.0,23.1 418.3,22.5 417.6,22.7 416.9,22.9 416.2,22.4 415.5,22.5 414.8,22.9 414.1,22.8 413.4,23.1 412.7,22.5 412.0,22.6 411.3,23.0 410.6,23.1 409.9,22.7 409.2,22.5 408.5,22.6 407.8,23.0 407.1,22.4 406.4,22.6 405.7,22.5 405.0,23.1 404.3,23.0 403.6,23.2 402.9,22.4 402.2,22.8 401.5,22.9 400.8,22.7 400.1,22.4 399.4,21.9 398.7,22.0 398.0,21.6 397.3,22.2 396.6,21.8 395.9,21.8 395.2,21.9 394.5,22.0 393.8,21.9 393.1,21.7 392.4,22.2 391.7,22.4 391.0,22.0 390.3,21.9 389.6,22.3 388.9,21.8 388.2,22.3 387.5,22.3 386.8,21.7 386.1,22.1 385.4,22.2 384.7,22.1 384.0,22.8 383.3,22.7 382.6,22.6 381.9,22.0 381.2,22.1 380.5,22.0 379.8,22.3 379.1,22.0 378.4,22.0 377.7,22.7 377.0,22.8 376.3,22.4 375.6,22.2 374.9,22.8 374.2,22.8 373.5,22.6 372.8,22.8 372.1,22.4 371.4,22.4 370.7,22.3 370.0,22.6 369.3,22.4 368.6,22.4 367.9,22.5 367.2,22.3 366.5,22.8 365.8,22.6 365.1,22.5 364.4,22.4 363.7,22.7 363.0,22.2 362.3,22.1 361.6,22.4 360.9,22.0 360.2,22.7 359.5,22.4 358.8,22.4 358.1,22.2 357.4,22.4 356.7,22.6 356.0,22.4 355.3,22.1 354.6,22.7 353.9,21.9 353.2,22.1 352.5,22.3 351.8,21.9 351.1,22.4 350.4,22.4 349.7,22.4 349.0,22.8 348.3,22.3 347.6,22.8 346.9,22.5 346.2,22.3 345.5,22.2 344.8,22.8 344.1,22.0 343.4,22.3 342.7,22.2 342.0,22.5 341.3,22.1 340.6,22.2 339.9,22.1 339.2,22.1 338.5,22.7 337.8,22.8 337.1,22.3 336.4,22.8 335.7,22.0 335.0,22.1 334.3,22.3 333.6,21.6 332.9,21.7 332.2,22.0 331.5,21.9 330.8,22.1 330.1,22.4 329.4,22.2 328.7,21.7 328.0,22.2 327.3,22.3 326.6,21.7 325.9,21.7 325.2,21.7 324.5,22.2 323.8,22.3 323.1,21.9 322.4,21.9 321.7,22.3 321.0,22.2Z" fill="#000" opacity="1.0"/>
<path d="M321.0 19.2L321.4 23.0L321.7 19.5L322.1 19.7L322.4 17.9L322.8 19.9L323.1 20.4L323.5 20.5L323.8 18.9L324.2 20.5L324.5 17.9L324.9 19.3L325.2 18.3L325.6 20.0L325.9 18.1L326.3 18.0L326.6 19.5L327.0 19.1L327.3 21.0L327.7 20.7L328.0 21.8L328.4 21.3L328.7 21.6L329.1 22.5L329.4 19.9L329.8 19.6L330.1 23.1L330.5 18.6L330.8 21.7L331.2 21.3L331.5 18.1L331.9 22.3L332.2 22.6L332.6 21.2L332.9 21.7L333.3 22.1L333.6 18.6L334.0 20.6L334.3 20.5L334.7 22.3L335.0 22.1L335.4 22.2L335.7 20.9L336.1 23.1L336.4 21.7L336.8 21.8L337.1 18.7L337.5 17.3L337.8 18.0L338.2 19.6L338.5 17.8L338.9 22.8L339.2 20.9L339.6 21.4L339.9 21.3L340.3 21.7L340.6 20.4L341.0 17.2L341.3 22.5L341.7 22.2L342.0 20.5L342.4 20.7L342.7 21.6L343.1 17.6L343.4 22.1L343.8 18.8L344.1 17.6L344.5 18.9L344.8 22.0L345.2 18.5L345.5 22.1L345.9 23.7L346.2 20.5L346.6 19.7L346.9 20.4L347.3 21.7L347.6 22.3L348.0 21.3L348.3 21.5L348.7 17.7L349.0 18.1L349.4 18.8L349.7 22.1L350.1 19.2L350.4 21.0L350.8 17.2L351.1 17.5L351.5 18.9L351.8 21.7L352.2 21.8L352.5 21.7L352.9 19.1L353.2 20.6L353.6 20.3L353.9 20.3L354.3 17.9L354.6 23.1L355.0 18.5L355.3 23.7L355.7 23.4L356.0 17.3L356.4 20.2L356.7 22.6L357.1 23.6L357.4 20.2L357.8 18.9L358.1 18.6L358.5 23.5L358.8 18.6L359.2 21.0L359.5 18.1L359.9 20.7L360.2 23.5L360.6 18.0L360.9 22.7L361.3 20.6L361.6 23.1L362.0 21.9L362.3 18.7L362.7 23.2L363.0 20.4L363.4 17.3L363.7 17.2L364.1 20.4L364.4 20.2L364.8 19.2L365.1 18.1L365.5 19.5L365.8 19.3L366.2 22.8L366.5 17.2L366.9 22.2L367.2 22.8L367.6 17.9L367.9 23.4L368.3 21.9L368.6 23.2L369.0 19.1L369.3 19.6L369.7 19.8L370.0 23.9L370.4 21.1L370.7 19.6L371.1 20.0L371.4 19.0L371.8 17.5L372.1 17.8L372.5 22.7L372.8 19.1L373.2 23.4L373.5 18.8L373.9 18.9L374.2 20.6L374.6 18.4L374.9 19.6L375.3 23.6L375.6 23.1L376.0 22.6L376.3 21.4L376.7 23.3L377.0 23.5L377.4 20.8L377.7 22.0L378.1 17.5L378.4 22.1L378.8 20.2L379.1 22.2L379.5 21.5L379.8 19.1L380.2 17.5L380.5 23.4L380.9 18.0L381.2 20.3L381.6 19.4L381.9 19.1L382.3 22.1L382.6 23.7L383.0 18.9L383.3 21.5L383.7 19.2L384.0 20.9L384.4 19.8L384.7 18.3L385.1 18.7L385.4 19.0L385.8 22.6L386.1 20.5L386.5 19.0L386.8 22.6L387.2 23.1L387.5 20.2L387.9 18.6L388.2 18.9L388.6 18.3L388.9 19.7L389.3 18.3L389.6 19.1L390.0 19.2L390.3 20.9L390.7 22.5L391.0 21.8L391.4 20.0L391.7 20.0L392.1 20.6L392.4 19.8L392.8 19.6L393.1 18.2L393.5 19.3L393.8 23.0L394.2 18.5L394.5 20.5L394.9 21.2L395.2 22.4L395.6 19.0L395.9 19.3L396.3 19.2L396.6 20.0L397.0 20.2L397.3 22.9L397.7 22.3L398.0 22.5L398.4 18.0L398.7 18.0L399.1 21.6L399.4 22.6L399.8 20.4L400.1 21.8L400.5 18.7L400.8 20.7L401.2 23.6L401.5 23.0L401.9 23.2L402.2 23.8L402.6 20.0L402.9 19.2L403.3 19.5L403.6 21.4L404.0 22.3L404.3 23.6L404.7 22.5L405.0 22.1L405.4 22.7L405.7 21.1L406.1 21.6L406.4 18.9L406.8 22.8L407.1 19.9L407.5 23.5L407.8 22.1L408.2 20.3L408.5 19.3L408.9 20.0L409.2 22.0L409.6 22.3L409.9 19.3L410.3 19.0L410.6 21.4L411.0 21.7L411.3 20.7L411.7 19.8L412.0 21.8L412.4 18.7L412.7 20.3L413.1 21.1L413.4 23.7L413.8 22.1L414.1 23.3L414.5 21.2L414.8 19.9L415.2 20.0L415.5 23.7L415.9 22.4L416.2 20.3L416.6 18.8L416.9 21.3L417.3 22.2L417.6 20.9L418.0 20.0L418.3 22.2L418.7 23.5L419.0 19.9L419.4 18.8L419.7 20.4L420.1 20.9L420.4 22.3L420.8 19.7L421.1 22.9L421.5 22.6L421.8 21.3L422.2 19.7L422.5 23.8L422.9 20.3L423.2 23.0L423.6 19.9L423.9 19.8L424.3 22.7L424.6 20.2L425.0 23.7L425.3 21.3L425.7 19.6L426.0 19.8L426.4 20.9L426.7 22.2L427.1 23.7L427.4 19.4L427.8 20.7L428.1 19.8L428.5 23.8L428.8 19.4L429.2 18.9L429.5 19.0L429.9 20.7L430.2 23.4L430.6 23.3L430.9 22.5L431.3 23.9L431.6 23.6L432.0 20.4L432.3 19.6L432.7 23.6L433.0 22.6L433.4 18.8L433.7 22.2L434.1 20.7L434.4 20.6L434.8 20.4L435.1 19.6L435.5 18.7L435.8 20.1L436.2 20.5L436.5 23.7L436.9 19.3L437.2 23.8L437.6 19.8L437.9 20.5L438.3 23.0L438.6 23.0L439.0 20.9L439.3 18.9L439.7 21.2L440.0 20.6L440.4 23.5L440.7 19.7L441.1 20.6L441.4 23.4L441.8 18.8L442.1 20.8L442.5 22.9L442.8 22.7L443.2 18.9L443.5 18.8L443.9 19.0L444.2 23.5L444.6 20.0L444.9 22.6L445.3 23.4L445.6 20.5L446.0 20.1L446.3 23.7L446.7 21.9L447.0 20.0L447.4 22.4L447.7 20.3L448.1 20.1L448.4 18.7L448.8 22.6L449.1 23.5L449.5 22.0L449.8 23.6L450.2 18.8L450.5 19.9L450.9 21.2L451.2 23.7L451.6 23.7L451.9 20.7L452.3 20.0L452.6 20.9L453.0 21.3L453.3 23.6L453.7 19.6L454.0 22.9L454.4 22.6L454.7 23.0L455.1 22.7L455.4 21.9L455.8 20.4L456.1 20.3L456.5 20.6L456.8 22.8L457.2 19.1L457.5 19.7L457.9 22.6L458.2 20.0L458.6 19.0L458.9 18.8L459.3 21.6L459.6 20.4L460.0 23.8L460.3 23.3L460.7 23.9L461.0 20.1L461.4 19.1L461.7 19.2L462.1 21.3L462.4 22.4L462.8 21.0L463.1 19.9L463.5 20.9L463.8 21.9L464.2 22.2L464.5 22.6L464.9 23.1L465.2 22.2L465.6 19.3L465.9 23.1L466.3 20.2L466.6 21.7L467.0 20.6" fill="none" stroke="#000" stroke-width="0.6"/>
<path d="M428.8 18.5V24.3M356.8 17.1V26.8M405.4 18.1V24.7M465.9 17.5V24.2M439.0 17.1V26.6M335.9 16.8V25.2M443.7 16.3V23.6M363.9 17.2V24.0M463.1 17.3V26.4M375.3 14.3V25.1M359.0 14.7V27.0M336.4 15.4V25.7M352.8 16.3V23.9M350.8 16.7V25.6M416.1 18.5V23.5M368.8 15.0V24.0M366.6 16.9V26.4M401.0 18.9V23.8M378.7 15.5V25.8M334.3 17.8V24.8M380.8 16.6V24.5M460.2 18.1V25.2M373.1 16.1V26.7M466.5 18.0V24.1M427.3 18.5V23.5M452.6 17.8V26.0" fill="none" stroke="#000" stroke-width="0.6"/>
<line x1="342.0" y1="14.9" x2="342.0" y2="26.0" stroke="#555" stroke-width="0.6"/>
<line x1="346.0" y1="14.7" x2="346.0" y2="23.2" stroke="#555" stroke-width="0.6"/>
<line x1="350.0" y1="16.4" x2="350.0" y2="24.7" stroke="#555" stroke-width="0.6"/>
<line x1="353.0" y1="13.9" x2="353.0" y2="26.1" stroke="#555" stroke-width="0.6"/>
<line x1="356.0" y1="16.1" x2="356.0" y2="25.0" stroke="#555" stroke-width="0.6"/>
<line x1="359.0" y1="15.0" x2="359.0" y2="24.5" stroke="#555" stroke-width="0.6"/>
<line x1="362.0" y1="15.9" x2="362.0" y2="23.6" stroke="#555" stroke-width="0.6"/>
<line x1="367.0" y1="14.4" x2="367.0" y2="26.2" stroke="#555" stroke-width="0.6"/>
<line x1="372.0" y1="16.1" x2="372.0" y2="24.5" stroke="#555" stroke-width="0.6"/>
<line x1="376.0" y1="13.3" x2="376.0" y2="26.4" stroke="#555" stroke-width="0.6"/>
<line x1="380.0" y1="15.7" x2="380.0" y2="23.0" stroke="#555" stroke-width="0.6"/>
<path d="M376.5,20.5 L379.5,16.2 L382,20.5 M384.5,20.5 L387.4,16.8 L390,20.8" fill="none" stroke="#000" stroke-width="1.3"/>
<line x1="318.8" y1="27.7" x2="318.8" y2="105.5" stroke="#000" stroke-width="1.2"/>
<line x1="318.2" y1="105.0" x2="466.5" y2="105.0" stroke="#000" stroke-width="1.2"/>
<text x="315.3" y="39.1" font-size="8" font-weight="bold" fill="#000" text-anchor="end">12</text>
<text x="315.3" y="69.8" font-size="8" font-weight="bold" fill="#000" text-anchor="end">6</text>
<text x="315.3" y="97.2" font-size="8" font-weight="bold" fill="#000" text-anchor="end">0</text>
<text x="335.0" y="114.2" font-size="8" font-weight="bold" fill="#000" text-anchor="middle">0</text>
<text x="367.0" y="114.2" font-size="8" font-weight="bold" fill="#000" text-anchor="middle">20</text>
<text x="399.0" y="114.2" font-size="8" font-weight="bold" fill="#000" text-anchor="middle">40</text>
<text x="431.0" y="114.2" font-size="8" font-weight="bold" fill="#000" text-anchor="middle">60</text>
<text x="463.0" y="114.2" font-size="8" font-weight="bold" fill="#000" text-anchor="middle">80</text>
<text x="397.2" y="120.8" font-size="8.05" font-weight="bold" fill="#000" text-anchor="middle">Time(s)</text>
<text x="306.5" y="67.0" font-size="8" font-weight="bold" fill="#000" text-anchor="middle" transform="rotate(-90 306.5 67.0)">ΔF/F(%)</text>
<line x1="451.3" y1="32.5" x2="451.3" y2="40.5" stroke="#000" stroke-width="0.9"/>
<text x="453.5" y="40.3" font-size="8.5" fill="#000" text-anchor="start">1mV</text>
<text x="443.0" y="53.8" font-size="9.8" font-weight="bold" fill="#ee2a2a" text-anchor="start">FS</text>
<text x="442.0" y="64.8" font-size="9.5" font-weight="bold" fill="#000" text-anchor="start">n=7</text>
<polygon points="319.0,94.0 319.8,94.0 320.6,94.0 321.4,94.1 322.2,94.0 323.0,94.0 323.8,94.0 324.6,94.0 325.4,94.0 326.2,94.0 327.0,94.0 327.8,94.0 328.6,94.0 329.4,94.0 330.2,94.0 331.0,94.0 331.8,94.0 332.6,94.0 333.4,94.0 334.2,94.0 335.0,94.0 335.8,94.0 336.6,94.0 337.4,94.0 338.2,91.0 339.0,82.1 339.8,75.2 340.6,69.8 341.4,62.6 342.2,59.6 343.0,60.0 343.8,61.3 344.6,62.4 345.4,64.3 346.2,65.3 347.0,62.1 347.8,59.7 348.6,55.7 349.4,53.0 350.2,49.7 351.0,47.2 351.8,40.9 352.6,37.4 353.4,34.8 354.2,28.6 355.0,25.6 355.8,27.9 356.6,30.7 357.4,30.6 358.2,33.9 359.0,35.2 359.8,33.7 360.6,33.6 361.4,29.8 362.2,27.5 363.0,29.6 363.8,28.3 364.6,33.1 365.4,31.2 366.2,31.9 367.0,34.3 367.8,37.8 368.6,36.1 369.4,37.7 370.2,35.1 371.0,40.9 371.8,40.1 372.6,43.1 373.4,47.9 374.2,51.1 375.0,55.9 375.8,57.5 376.6,63.3 377.4,66.2 378.2,69.9 379.0,73.9 379.8,74.5 380.6,76.1 381.4,79.7 382.2,81.1 383.0,82.4 383.8,84.6 384.6,85.1 385.4,87.0 386.2,87.5 387.0,89.3 387.8,90.1 388.6,90.9 389.4,92.5 390.2,93.6 391.0,94.2 391.8,94.6 392.6,95.1 393.4,95.4 394.2,95.7 395.0,95.8 395.8,96.2 396.6,96.3 397.4,96.6 398.2,96.4 399.0,96.6 399.8,96.4 400.6,96.4 401.4,96.5 402.2,96.2 403.0,96.3 403.8,96.3 404.6,96.2 405.4,96.5 406.2,96.1 407.0,96.2 407.8,96.3 408.6,96.1 409.4,96.3 410.2,96.0 411.0,96.2 411.8,96.2 412.6,96.0 413.4,96.2 414.2,96.3 415.0,96.0 415.8,96.3 416.6,96.0 417.4,96.2 418.2,96.0 419.0,95.9 419.8,96.0 420.6,96.0 421.4,96.1 422.2,96.3 423.0,96.2 423.8,96.2 424.6,96.0 425.4,96.1 426.2,96.0 427.0,95.9 427.8,96.2 428.6,96.1 429.4,95.9 430.2,96.2 431.0,96.2 431.8,96.0 432.6,96.1 433.4,96.0 434.2,96.1 435.0,95.9 435.8,95.9 436.6,96.1 437.4,95.9 438.2,96.0 439.0,96.1 439.8,95.8 440.6,96.0 441.4,96.1 442.2,96.1 443.0,95.9 443.8,95.8 444.6,95.8 445.4,95.9 446.2,96.0 447.0,96.1 447.8,95.8 448.6,95.9 449.4,95.9 450.2,95.8 451.0,95.9 451.8,95.7 452.6,95.8 453.4,95.9 454.2,95.7 455.0,96.0 455.8,95.8 456.6,95.9 457.4,95.9 458.2,96.0 459.0,95.7 459.8,96.0 460.6,95.8 461.4,95.6 462.2,95.9 463.0,95.9 463.0,98.3 462.2,98.5 461.4,98.4 460.6,98.3 459.8,98.5 459.0,98.5 458.2,98.5 457.4,98.4 456.6,98.6 455.8,98.6 455.0,98.6 454.2,98.4 453.4,98.5 452.6,98.5 451.8,98.6 451.0,98.6 450.2,98.7 449.4,98.6 448.6,98.6 447.8,98.5 447.0,98.7 446.2,98.6 445.4,98.6 444.6,98.8 443.8,98.6 443.0,98.6 442.2,98.5 441.4,98.8 440.6,98.6 439.8,98.8 439.0,98.7 438.2,98.7 437.4,98.7 436.6,98.8 435.8,98.9 435.0,98.8 434.2,98.9 433.4,98.7 432.6,98.8 431.8,98.7 431.0,98.8 430.2,98.9 429.4,98.7 428.6,98.8 427.8,99.0 427.0,98.8 426.2,99.0 425.4,98.8 424.6,98.9 423.8,98.8 423.0,99.0 422.2,98.9 421.4,98.9 420.6,98.8 419.8,99.1 419.0,99.1 418.2,98.9 417.4,98.8 416.6,98.9 415.8,99.1 415.0,98.9 414.2,99.2 413.4,99.0 412.6,99.1 411.8,99.2 411.0,99.1 410.2,99.3 409.4,99.2 408.6,99.2 407.8,99.1 407.0,99.3 406.2,99.4 405.4,99.3 404.6,99.5 403.8,99.3 403.0,99.3 402.2,99.5 401.4,99.3 400.6,99.4 399.8,99.3 399.0,99.5 398.2,99.5 397.4,99.4 396.6,99.7 395.8,99.2 395.0,98.9 394.2,98.6 393.4,98.4 392.6,98.1 391.8,97.7 391.0,97.4 390.2,97.4 389.4,96.5 388.6,96.0 387.8,95.6 387.0,95.0 386.2,95.2 385.4,94.7 384.6,94.2 383.8,93.1 383.0,93.8 382.2,93.0 381.4,92.3 380.6,90.9 379.8,90.5 379.0,88.8 378.2,89.6 377.4,87.9 376.6,85.2 375.8,82.9 375.0,78.5 374.2,77.5 373.4,78.4 372.6,79.8 371.8,83.2 371.0,79.9 370.2,78.2 369.4,77.6 368.6,80.1 367.8,74.7 367.0,76.1 366.2,72.8 365.4,71.7 364.6,70.7 363.8,69.1 363.0,65.7 362.2,67.8 361.4,68.8 360.6,71.2 359.8,71.2 359.0,73.2 358.2,70.2 357.4,68.7 356.6,66.9 355.8,66.5 355.0,61.4 354.2,63.1 353.4,67.5 352.6,67.6 351.8,71.0 351.0,73.6 350.2,74.9 349.4,74.7 348.6,76.2 347.8,77.0 347.0,80.5 346.2,81.0 345.4,80.1 344.6,77.3 343.8,74.4 343.0,72.6 342.2,70.7 341.4,73.3 340.6,77.1 339.8,80.7 339.0,85.1 338.2,91.5 337.4,94.5 336.6,94.6 335.8,94.5 335.0,94.5 334.2,94.5 333.4,94.5 332.6,94.5 331.8,94.5 331.0,94.6 330.2,94.5 329.4,94.6 328.6,94.6 327.8,94.5 327.0,94.5 326.2,94.6 325.4,94.6 324.6,94.5 323.8,94.5 323.0,94.5 322.2,94.5 321.4,94.6 320.6,94.5 319.8,94.5 319.0,94.5" fill="#fc8c8c"/>
<polyline points="319.0,94.3 319.8,94.2 320.6,94.4 321.4,94.6 322.2,94.3 323.0,94.2 323.8,94.3 324.6,94.2 325.4,94.4 326.2,94.3 327.0,94.3 327.8,94.2 328.6,94.1 329.4,94.3 330.2,94.0 331.0,94.1 331.8,94.2 332.6,94.2 333.4,94.0 334.2,94.3 335.0,94.3 335.8,94.5 336.6,94.2 337.4,94.1 338.2,91.2 339.0,83.2 339.8,78.6 340.6,73.3 341.4,70.4 342.2,63.9 343.0,67.4 343.8,70.0 344.6,71.3 345.4,73.2 346.2,72.9 347.0,70.5 347.8,71.2 348.6,66.2 349.4,64.0 350.2,63.5 351.0,61.7 351.8,57.9 352.6,54.8 353.4,50.7 354.2,48.7 355.0,48.7 355.8,47.4 356.6,51.1 357.4,49.6 358.2,53.7 359.0,54.5 359.8,54.9 360.6,52.7 361.4,48.7 362.2,47.4 363.0,47.4 363.8,49.8 364.6,54.1 365.4,54.8 366.2,56.2 367.0,57.8 367.8,57.1 368.6,59.7 369.4,60.8 370.2,62.3 371.0,64.6 371.8,62.5 372.6,62.8 373.4,65.4 374.2,67.9 375.0,71.6 375.8,71.4 376.6,73.5 377.4,77.9 378.2,79.7 379.0,80.3 379.8,82.0 380.6,85.2 381.4,84.6 382.2,86.3 383.0,88.7 383.8,89.3 384.6,90.3 385.4,90.8 386.2,91.5 387.0,92.5 387.8,93.5 388.6,93.8 389.4,94.7 390.2,95.3 391.0,96.1 391.8,96.1 392.6,96.3 393.4,96.6 394.2,97.3 395.0,97.6 395.8,98.0 396.6,98.0 397.4,98.0 398.2,98.1 399.0,98.3 399.8,98.0 400.6,98.1 401.4,97.9 402.2,98.0 403.0,97.8 403.8,97.8 404.6,98.0 405.4,97.9 406.2,97.7 407.0,98.0 407.8,97.8 408.6,97.7 409.4,97.7 410.2,97.7 411.0,98.0 411.8,98.0 412.6,97.7 413.4,97.7 414.2,97.3 415.0,97.8 415.8,97.5 416.6,97.6 417.4,97.9 418.2,97.8 419.0,97.6 419.8,97.7 420.6,97.7 421.4,97.6 422.2,97.7 423.0,97.5 423.8,97.7 424.6,97.7 425.4,97.5 426.2,97.7 427.0,97.5 427.8,97.3 428.6,97.5 429.4,97.6 430.2,97.4 431.0,97.6 431.8,97.4 432.6,97.7 433.4,97.4 434.2,97.6 435.0,97.6 435.8,97.2 436.6,97.6 437.4,97.2 438.2,97.4 439.0,97.2 439.8,97.6 440.6,97.3 441.4,97.2 442.2,97.4 443.0,97.4 443.8,97.0 444.6,97.4 445.4,97.4 446.2,97.5 447.0,97.3 447.8,97.3 448.6,97.3 449.4,97.1 450.2,97.4 451.0,97.3 451.8,97.1 452.6,97.5 453.4,97.1 454.2,97.0 455.0,97.5 455.8,97.4 456.6,97.4 457.4,97.5 458.2,97.2 459.0,97.5 459.8,97.2 460.6,97.0 461.4,97.5 462.2,97.3 463.0,97.5" fill="none" stroke="#f01c1c" stroke-width="1.6"/>
<rect x="335.6" y="0.0" width="4.2" height="104.5" fill="#000" stroke="none" stroke-width="1"/>
<rect x="508.4" y="15.6" width="138.6" height="89.8" fill="none" stroke="#000" stroke-width="0.8"/>
<text x="500.8" y="26.2" font-size="8.2" font-weight="bold" fill="#000" text-anchor="end">1#</text>
<path d="M506.8,18.5H503.4V28.1H506.8" fill="none" stroke="#222" stroke-width="0.9"/>
<text x="500.8" y="38.9" font-size="8.2" font-weight="bold" fill="#000" text-anchor="end">2#</text>
<path d="M506.8,31.2H503.4V40.8H506.8" fill="none" stroke="#222" stroke-width="0.9"/>
<text x="500.8" y="51.4" font-size="8.2" font-weight="bold" fill="#000" text-anchor="end">3#</text>
<path d="M506.8,43.7H503.4V53.3H506.8" fill="none" stroke="#222" stroke-width="0.9"/>
<text x="500.8" y="64.3" font-size="8.2" font-weight="bold" fill="#000" text-anchor="end">4#</text>
<path d="M506.8,56.6H503.4V66.2H506.8" fill="none" stroke="#222" stroke-width="0.9"/>
<text x="500.8" y="76.5" font-size="8.2" font-weight="bold" fill="#000" text-anchor="end">5#</text>
<path d="M506.8,68.8H503.4V78.4H506.8" fill="none" stroke="#222" stroke-width="0.9"/>
<text x="500.8" y="89.7" font-size="8.2" font-weight="bold" fill="#000" text-anchor="end">6#</text>
<path d="M506.8,82.0H503.4V91.6H506.8" fill="none" stroke="#222" stroke-width="0.9"/>
<text x="500.8" y="102.3" font-size="8.2" font-weight="bold" fill="#000" text-anchor="end">7#</text>
<path d="M506.8,94.6H503.4V104.2H506.8" fill="none" stroke="#222" stroke-width="0.9"/>
<line x1="524.3" y1="105.4" x2="524.3" y2="107.4" stroke="#000" stroke-width="0.8"/>
<text x="524.3" y="114.2" font-size="8" font-weight="bold" fill="#000" text-anchor="middle">0</text>
<line x1="554.5" y1="105.4" x2="554.5" y2="107.4" stroke="#000" stroke-width="0.8"/>
<text x="554.5" y="114.2" font-size="8" font-weight="bold" fill="#000" text-anchor="middle">20</text>
<line x1="584.7" y1="105.4" x2="584.7" y2="107.4" stroke="#000" stroke-width="0.8"/>
<text x="584.7" y="114.2" font-size="8" font-weight="bold" fill="#000" text-anchor="middle">40</text>
<line x1="614.9" y1="105.4" x2="614.9" y2="107.4" stroke="#000" stroke-width="0.8"/>
<text x="614.9" y="114.2" font-size="8" font-weight="bold" fill="#000" text-anchor="middle">60</text>
<line x1="645.1" y1="105.4" x2="645.1" y2="107.4" stroke="#000" stroke-width="0.8"/>
<text x="645.1" y="114.2" font-size="8" font-weight="bold" fill="#000" text-anchor="middle">80</text>
<text x="586.0" y="122.4" font-size="8.05" font-weight="bold" fill="#000" text-anchor="middle">Time(s)</text>
<defs><linearGradient id="hotcb" x1="0" x2="0" y1="1" y2="0"><stop offset="0" stop-color="#000"/><stop offset=".333" stop-color="#f00"/><stop offset=".667" stop-color="#ff0"/><stop offset="1" stop-color="#fff"/></linearGradient></defs>
<rect x="651.5" y="15.6" width="8.1" height="89.8" fill="url(#hotcb)" stroke="#000" stroke-width="0.8"/>
<line x1="658.1" y1="33.6" x2="659.6" y2="33.6" stroke="#000" stroke-width="0.6"/>
<line x1="658.1" y1="51.5" x2="659.6" y2="51.5" stroke="#000" stroke-width="0.6"/>
<line x1="658.1" y1="69.5" x2="659.6" y2="69.5" stroke="#000" stroke-width="0.6"/>
<line x1="658.1" y1="87.4" x2="659.6" y2="87.4" stroke="#000" stroke-width="0.6"/>
<text x="662.0" y="21.6" font-size="8.5" font-weight="bold" fill="#000" text-anchor="start">90k</text>
<text x="662.0" y="105.4" font-size="8.5" font-weight="bold" fill="#000" text-anchor="start">0</text>
<text x="285.7" y="138.4" font-size="20" fill="#000" text-anchor="start">c</text>
<path d="M317.4,137.5 318.1,137.4 318.8,137.0 319.5,137.4 320.2,137.4 320.9,137.3 321.6,137.7 322.3,137.4 323.0,137.3 323.7,137.1 324.4,137.8 325.1,137.6 325.8,137.8 326.5,137.1 327.2,137.2 327.9,137.9 328.6,136.9 329.3,137.0 330.0,137.3 330.7,137.3 331.4,137.7 332.1,137.9 332.8,137.4 333.5,137.8 334.2,137.7 334.9,137.7 335.6,137.9 336.3,137.3 337.0,137.2 337.7,136.7 338.4,137.1 339.1,137.0 339.8,137.1 340.5,136.9 341.2,137.1 341.9,137.3 342.6,136.5 343.3,136.5 344.0,136.7 344.7,136.8 345.4,137.3 346.1,137.4 346.8,137.3 347.5,137.5 348.2,136.7 348.9,137.1 349.6,136.6 350.3,137.1 351.0,136.4 351.7,136.6 352.4,137.6 353.1,137.3 353.8,136.5 354.5,137.0 355.2,136.4 355.9,137.1 356.6,137.5 357.3,136.8 358.0,136.6 358.7,137.2 359.4,137.4 360.1,137.1 360.8,136.3 361.5,136.6 362.2,137.4 362.9,137.1 363.6,137.2 364.3,137.1 365.0,135.7 365.7,136.6 366.4,135.7 367.1,135.7 367.8,136.0 368.5,134.7 369.2,135.8 369.9,134.5 370.6,135.5 371.3,134.8 372.0,135.3 372.7,135.1 373.4,133.4 374.1,133.8 374.8,135.0 375.5,133.6 376.2,135.2 376.9,134.8 377.6,133.6 378.3,134.2 379.0,135.5 379.7,133.3 380.4,135.2 381.1,135.1 381.8,133.8 382.5,134.9 383.2,135.0 383.9,135.5 384.6,135.5 385.3,134.2 386.0,135.1 386.7,134.2 387.4,134.7 388.1,134.5 388.8,133.2 389.5,134.4 390.2,134.2 390.9,133.5 391.6,135.2 392.3,135.3 393.0,133.3 393.7,133.5 394.4,135.0 395.1,135.1 395.8,133.7 396.5,133.2 397.2,135.1 397.9,133.2 398.6,133.3 399.3,134.0 400.0,134.5 400.7,135.3 401.4,135.5 402.1,133.1 402.8,135.0 403.5,133.7 404.2,134.9 404.9,133.4 405.6,134.0 406.3,134.8 407.0,135.6 407.7,133.6 408.4,135.5 409.1,135.4 409.8,135.1 410.5,134.9 411.2,135.1 411.9,135.4 412.6,134.8 413.3,135.4 414.0,135.6 414.7,135.4 415.4,135.2 416.1,135.5 416.8,135.5 417.5,135.3 418.2,135.1 418.9,135.5 419.6,135.3 420.3,134.9 421.0,134.8 421.7,135.0 422.4,135.0 423.1,135.1 423.8,135.5 424.5,135.6 425.2,135.6 425.9,134.8 426.6,135.0 427.3,134.8 428.0,135.6 428.7,135.1 429.4,135.2 430.1,135.0 430.8,135.3 431.5,134.8 432.2,135.5 432.9,135.1 433.6,135.0 434.3,134.8 435.0,135.0 435.7,135.0 436.4,134.9 437.1,134.8 437.8,135.3 438.5,135.0 439.2,134.8 439.9,134.9 440.6,135.2 441.3,134.9 442.0,134.9 442.7,135.1 443.4,135.1 444.1,135.3 444.8,135.1 445.5,135.1 446.2,135.5 446.9,135.1 447.6,134.8 448.3,134.9 449.0,135.0 449.7,135.3 450.4,135.0 451.1,135.1 451.8,135.2 452.5,134.9 453.2,135.5 453.9,135.0 454.6,135.6 455.3,135.1 456.0,135.2 456.7,135.4 457.4,135.0 458.1,135.2 458.8,135.1 459.5,134.8 460.2,135.4 460.9,135.6 461.6,135.3 462.3,135.0 463.0,135.4 463.7,135.5 463.7,138.1 463.0,138.2 462.3,138.6 461.6,138.2 460.9,138.1 460.2,138.7 459.5,138.8 458.8,138.2 458.1,138.8 457.4,138.3 456.7,138.3 456.0,138.8 455.3,138.7 454.6,138.6 453.9,138.2 453.2,138.7 452.5,138.5 451.8,138.7 451.1,138.4 450.4,138.5 449.7,138.5 449.0,138.2 448.3,138.1 447.6,138.4 446.9,138.3 446.2,138.3 445.5,138.4 444.8,138.4 444.1,138.2 443.4,138.2 442.7,138.4 442.0,138.1 441.3,138.6 440.6,138.1 439.9,138.5 439.2,138.3 438.5,138.3 437.8,138.6 437.1,138.2 436.4,138.2 435.7,138.0 435.0,138.7 434.3,138.1 433.6,138.8 432.9,138.5 432.2,138.2 431.5,138.3 430.8,138.4 430.1,138.8 429.4,138.7 428.7,138.4 428.0,138.1 427.3,138.4 426.6,138.2 425.9,138.8 425.2,138.8 424.5,138.3 423.8,138.5 423.1,138.1 422.4,138.6 421.7,138.4 421.0,138.5 420.3,138.7 419.6,138.3 418.9,138.4 418.2,138.8 417.5,138.0 416.8,138.5 416.1,138.4 415.4,138.5 414.7,138.2 414.0,138.5 413.3,138.4 412.6,138.8 411.9,138.7 411.2,138.2 410.5,138.8 409.8,138.7 409.1,138.3 408.4,138.3 407.7,139.8 407.0,144.5 406.3,144.4 405.6,144.7 404.9,144.9 404.2,143.8 403.5,144.4 402.8,143.6 402.1,143.2 401.4,145.5 400.7,144.3 400.0,145.5 399.3,144.8 398.6,145.2 397.9,144.9 397.2,144.3 396.5,143.4 395.8,143.3 395.1,145.0 394.4,143.8 393.7,143.4 393.0,145.0 392.3,143.1 391.6,145.0 390.9,143.0 390.2,144.2 389.5,144.9 388.8,144.3 388.1,144.0 387.4,143.1 386.7,143.8 386.0,145.1 385.3,145.2 384.6,143.7 383.9,144.9 383.2,144.2 382.5,145.3 381.8,145.3 381.1,145.1 380.4,143.4 379.7,144.7 379.0,144.5 378.3,144.9 377.6,144.6 376.9,143.4 376.2,144.5 375.5,144.0 374.8,145.2 374.1,144.8 373.4,145.0 372.7,144.2 372.0,143.7 371.3,145.0 370.6,144.3 369.9,143.7 369.2,142.8 368.5,143.9 367.8,144.1 367.1,142.2 366.4,143.5 365.7,143.1 365.0,142.2 364.3,142.6 363.6,142.1 362.9,141.8 362.2,142.0 361.5,141.5 360.8,141.4 360.1,141.3 359.4,142.0 358.7,141.7 358.0,141.1 357.3,141.3 356.6,141.6 355.9,141.3 355.2,141.9 354.5,142.2 353.8,142.0 353.1,141.8 352.4,141.8 351.7,141.5 351.0,141.8 350.3,141.1 349.6,141.2 348.9,141.3 348.2,142.0 347.5,141.0 346.8,141.5 346.1,141.1 345.4,141.0 344.7,141.9 344.0,141.3 343.3,141.6 342.6,141.8 341.9,141.0 341.2,141.9 340.5,141.0 339.8,141.0 339.1,141.4 338.4,142.0 337.7,141.8 337.0,141.2 336.3,141.3 335.6,141.3 334.9,141.1 334.2,140.9 333.5,141.0 332.8,141.1 332.1,140.9 331.4,141.0 330.7,141.6 330.0,141.4 329.3,141.5 328.6,141.5 327.9,141.2 327.2,140.8 326.5,141.0 325.8,141.3 325.1,141.1 324.4,141.6 323.7,141.6 323.0,141.5 322.3,141.1 321.6,140.9 320.9,141.4 320.2,141.0 319.5,141.6 318.8,141.1 318.1,141.3 317.4,141.6Z" fill="#000" opacity="1.0"/>
<path d="M317.4 141.5L317.8 138.8L318.1 141.2L318.5 136.8L318.8 138.6L319.2 140.5L319.5 136.1L319.9 137.3L320.2 140.5L320.6 142.1L320.9 142.4L321.3 136.7L321.6 139.3L322.0 141.0L322.3 139.3L322.7 140.5L323.0 137.2L323.4 136.4L323.7 136.7L324.1 136.2L324.4 139.6L324.8 139.4L325.1 139.8L325.5 136.9L325.8 137.2L326.2 137.3L326.5 141.6L326.9 142.6L327.2 142.2L327.6 136.6L327.9 136.4L328.3 142.3L328.6 139.0L329.0 141.1L329.3 138.1L329.7 139.1L330.0 139.4L330.4 138.8L330.7 140.0L331.1 136.0L331.4 140.7L331.8 141.6L332.1 137.2L332.5 139.0L332.8 140.9L333.2 138.7L333.5 137.3L333.9 137.0L334.2 139.4L334.6 136.0L334.9 141.9L335.3 141.3L335.6 140.7L336.0 141.8L336.3 140.2L336.7 138.6L337.0 140.1L337.4 139.3L337.7 143.0L338.1 141.7L338.4 137.4L338.8 142.5L339.1 141.2L339.5 141.5L339.8 141.7L340.2 138.6L340.5 142.4L340.9 142.3L341.2 140.8L341.6 141.4L341.9 141.4L342.3 138.6L342.6 141.1L343.0 135.9L343.3 138.0L343.7 139.1L344.0 135.4L344.4 138.2L344.7 140.4L345.1 140.3L345.4 137.2L345.8 142.9L346.1 140.6L346.5 138.0L346.8 140.6L347.2 139.9L347.5 139.6L347.9 138.4L348.2 143.3L348.6 140.5L348.9 140.9L349.3 141.4L349.6 143.2L350.0 135.4L350.3 140.2L350.7 141.3L351.0 137.3L351.4 138.5L351.7 135.6L352.1 136.8L352.4 138.3L352.8 136.0L353.1 137.2L353.5 142.7L353.8 139.7L354.2 139.4L354.5 143.2L354.9 139.9L355.2 143.4L355.6 140.5L355.9 141.9L356.3 135.7L356.6 140.1L357.0 141.5L357.3 135.5L357.7 142.9L358.0 136.4L358.4 139.1L358.7 136.5L359.1 139.3L359.4 140.2L359.8 135.5L360.1 143.1L360.5 138.6L360.8 139.5L361.2 140.1L361.5 138.1L361.9 137.5L362.2 140.6L362.6 139.8L362.9 137.4L363.3 141.3L363.6 137.4L364.0 134.5L364.3 136.7L364.7 134.4L365.0 135.5L365.4 142.2L365.7 138.0L366.1 144.1L366.4 142.4L366.8 133.6L367.1 145.7L367.5 145.3L367.8 133.4L368.2 145.1L368.5 138.3L368.9 139.0L369.2 146.5L369.6 135.3L369.9 139.7L370.3 146.4L370.6 143.0L371.0 138.8L371.3 147.4L371.7 144.6L372.0 141.0L372.4 132.8L372.7 141.4L373.1 138.6L373.4 134.3L373.8 131.7L374.1 139.8L374.5 132.9L374.8 138.3L375.2 142.1L375.5 138.5L375.9 135.3L376.2 140.7L376.6 137.9L376.9 144.0L377.3 139.8L377.6 147.8L378.0 147.0L378.3 143.3L378.7 134.8L379.0 132.7L379.4 146.0L379.7 144.2L380.1 141.4L380.4 136.9L380.8 135.4L381.1 142.5L381.5 140.4L381.8 140.9L382.2 141.6L382.5 143.7L382.9 134.0L383.2 135.0L383.6 147.6L383.9 146.5L384.3 145.8L384.6 131.4L385.0 131.7L385.3 135.3L385.7 138.0L386.0 141.4L386.4 132.4L386.7 140.0L387.1 131.9L387.4 132.1L387.8 142.4L388.1 140.2L388.5 141.6L388.8 137.1L389.2 138.9L389.5 134.3L389.9 136.6L390.2 143.6L390.6 145.2L390.9 131.9L391.3 132.7L391.6 144.7L392.0 141.5L392.3 144.0L392.7 134.3L393.0 138.0L393.4 135.1L393.7 144.7L394.1 137.0L394.4 142.0L394.8 147.9L395.1 136.2L395.5 140.2L395.8 143.6L396.2 146.7L396.5 138.0L396.9 137.0L397.2 132.2L397.6 145.9L397.9 131.8L398.3 131.9L398.6 140.4L399.0 139.0L399.3 142.6L399.7 135.7L400.0 144.2L400.4 131.8L400.7 134.2L401.1 142.2L401.4 131.8L401.8 135.8L402.1 143.3L402.5 142.8L402.8 135.4L403.2 132.9L403.5 136.8L403.9 143.3L404.2 136.9L404.6 132.4L404.9 143.1L405.3 140.5L405.6 146.8L406.0 147.2L406.3 146.7L406.7 138.2L407.0 144.1L407.4 136.8L407.7 134.9L408.1 136.0L408.4 139.3L408.8 139.1L409.1 135.4L409.5 136.0L409.8 136.0L410.2 136.0L410.5 136.2L410.9 136.2L411.2 135.0L411.6 137.2L411.9 138.5L412.3 137.0L412.6 138.7L413.0 137.2L413.3 134.9L413.7 138.3L414.0 139.0L414.4 135.5L414.7 134.0L415.1 136.9L415.4 137.1L415.8 137.2L416.1 139.5L416.5 137.7L416.8 138.6L417.2 134.3L417.5 137.1L417.9 138.5L418.2 134.4L418.6 134.4L418.9 138.2L419.3 139.1L419.6 134.4L420.0 137.6L420.3 134.7L420.7 138.2L421.0 137.7L421.4 135.3L421.7 135.2L422.1 138.3L422.4 136.9L422.8 138.3L423.1 136.2L423.5 135.9L423.8 139.5L424.2 137.8L424.5 136.8L424.9 137.0L425.2 138.1L425.6 138.0L425.9 139.2L426.3 136.3L426.6 138.7L427.0 137.8L427.3 138.8L427.7 138.6L428.0 138.7L428.4 139.0L428.7 139.4L429.1 137.6L429.4 136.9L429.8 138.0L430.1 138.5L430.5 136.3L430.8 136.3L431.2 134.8L431.5 138.2L431.9 139.6L432.2 136.1L432.6 134.9L432.9 135.1L433.3 136.4L433.6 135.6L434.0 139.5L434.3 134.3L434.7 135.7L435.0 134.6L435.4 137.7L435.7 138.4L436.1 135.0L436.4 134.3L436.8 136.6L437.1 137.3L437.5 139.2L437.8 134.1L438.2 134.5L438.5 135.0L438.9 135.2L439.2 135.3L439.6 138.1L439.9 137.3L440.3 135.2L440.6 135.0L441.0 135.5L441.3 134.9L441.7 138.3L442.0 135.7L442.4 137.1L442.7 138.6L443.1 136.7L443.4 135.4L443.8 139.0L444.1 139.2L444.5 135.9L444.8 137.1L445.2 139.4L445.5 136.7L445.9 135.2L446.2 134.2L446.6 139.4L446.9 138.5L447.3 136.1L447.6 137.0L448.0 136.9L448.3 135.5L448.7 139.6L449.0 137.7L449.4 135.3L449.7 134.0L450.1 136.6L450.4 136.1L450.8 138.5L451.1 138.0L451.5 137.4L451.8 134.8L452.2 134.8L452.5 135.8L452.9 135.4L453.2 138.9L453.6 136.9L453.9 137.6L454.3 139.6L454.6 135.5L455.0 137.0L455.3 134.8L455.7 138.4L456.0 133.9L456.4 138.7L456.7 138.8L457.1 138.7L457.4 134.4L457.8 135.5L458.1 138.0L458.5 134.5L458.8 136.7L459.2 136.6L459.5 139.4L459.9 137.3L460.2 138.9L460.6 135.7L460.9 138.5L461.3 136.3L461.6 139.2L462.0 134.4L462.3 138.7L462.7 135.1L463.0 137.0L463.4 136.9L463.7 134.8" fill="none" stroke="#000" stroke-width="0.6"/>
<path d="M439.4 133.7V139.9M328.5 135.6V143.4M422.2 133.5V140.8M332.9 135.4V143.4M459.1 132.4V140.8M319.2 135.4V144.1M352.2 133.9V144.3M318.9 133.7V144.3M347.7 133.9V143.6M372.5 128.5V148.4M366.9 131.8V148.2M355.0 135.1V145.3M365.7 129.8V146.9M423.5 133.6V141.2M330.9 136.1V142.4M416.8 132.7V139.6M376.4 126.3V150.6M330.6 135.9V142.5M335.6 135.3V142.3M452.4 133.4V140.4M412.3 132.6V141.2M374.0 129.9V149.2M319.7 135.4V144.1M461.4 132.5V140.8M406.6 131.7V149.3M367.6 129.9V145.6M372.8 128.7V151.9M438.4 132.9V139.6M429.8 132.2V140.5M369.1 129.8V146.5M422.0 132.0V140.4M422.3 132.4V139.7M455.9 132.9V139.7M329.6 135.8V143.7M419.6 133.6V141.4M370.4 129.3V147.0M460.1 134.1V141.4M397.1 127.8V150.8M356.2 132.6V146.3M437.2 133.0V139.5M438.3 133.7V141.4M352.7 133.9V145.6M344.6 134.2V142.9M322.1 136.0V144.9M455.1 132.8V139.9M415.8 132.6V140.1M404.2 125.8V146.9M346.7 134.4V143.1M374.0 128.2V147.6M393.6 130.1V150.8M366.1 131.0V144.5M415.8 134.1V141.5M405.4 128.3V149.9M408.8 132.7V141.0M427.6 133.2V141.6M440.3 132.3V140.2M381.0 128.1V152.9M394.5 128.1V149.8M450.0 133.6V139.3M423.8 132.2V141.0M405.0 126.2V149.1M404.4 131.3V147.7M382.9 128.5V149.3M325.0 134.6V143.6M352.5 134.8V144.1M352.0 135.6V145.9M459.1 132.8V141.3M379.2 126.5V148.0M426.9 133.0V141.4M331.8 134.3V142.4M396.2 125.0V146.7M353.2 134.8V143.9M326.6 134.0V144.4M375.6 129.7V150.5M324.1 136.4V144.6M362.5 133.9V146.3M460.7 133.3V139.7M360.7 132.4V146.1M346.1 133.2V143.8M386.7 130.8V152.9M463.3 133.9V140.7M345.5 133.0V142.8M333.0 134.5V143.0M449.4 132.3V140.9M337.2 133.9V145.5M382.7 131.6V148.1M362.4 133.1V143.6M343.9 135.2V144.8M433.3 133.5V140.8M447.1 133.0V139.7" fill="none" stroke="#000" stroke-width="0.6"/>
<line x1="376.9" y1="127.4" x2="376.9" y2="149.7" stroke="#333" stroke-width="0.5"/>
<line x1="375.9" y1="129.2" x2="375.9" y2="145.6" stroke="#333" stroke-width="0.5"/>
<line x1="406.3" y1="130.4" x2="406.3" y2="148.7" stroke="#333" stroke-width="0.5"/>
<line x1="386.8" y1="132.7" x2="386.8" y2="149.2" stroke="#333" stroke-width="0.5"/>
<line x1="376.2" y1="131.5" x2="376.2" y2="150.6" stroke="#333" stroke-width="0.5"/>
<line x1="367.7" y1="131.3" x2="367.7" y2="150.3" stroke="#333" stroke-width="0.5"/>
<line x1="374.6" y1="131.3" x2="374.6" y2="148.8" stroke="#333" stroke-width="0.5"/>
<line x1="372.0" y1="127.6" x2="372.0" y2="151.9" stroke="#333" stroke-width="0.5"/>
<line x1="365.4" y1="130.2" x2="365.4" y2="150.3" stroke="#333" stroke-width="0.5"/>
<line x1="380.5" y1="127.4" x2="380.5" y2="148.5" stroke="#333" stroke-width="0.5"/>
<line x1="371.7" y1="129.7" x2="371.7" y2="149.5" stroke="#333" stroke-width="0.5"/>
<line x1="379.5" y1="129.1" x2="379.5" y2="150.5" stroke="#333" stroke-width="0.5"/>
<line x1="386.2" y1="130.0" x2="386.2" y2="150.9" stroke="#333" stroke-width="0.5"/>
<line x1="393.4" y1="129.9" x2="393.4" y2="151.7" stroke="#333" stroke-width="0.5"/>
<line x1="371.5" y1="128.3" x2="371.5" y2="146.2" stroke="#333" stroke-width="0.5"/>
<line x1="390.1" y1="131.6" x2="390.1" y2="148.1" stroke="#333" stroke-width="0.5"/>
<line x1="397.2" y1="128.3" x2="397.2" y2="150.5" stroke="#333" stroke-width="0.5"/>
<line x1="374.1" y1="130.1" x2="374.1" y2="146.5" stroke="#333" stroke-width="0.5"/>
<line x1="388.9" y1="130.0" x2="388.9" y2="145.2" stroke="#333" stroke-width="0.5"/>
<line x1="389.7" y1="128.7" x2="389.7" y2="149.0" stroke="#333" stroke-width="0.5"/>
<line x1="401.5" y1="131.9" x2="401.5" y2="146.1" stroke="#333" stroke-width="0.5"/>
<line x1="364.8" y1="130.0" x2="364.8" y2="148.0" stroke="#333" stroke-width="0.5"/>
<line x1="383.0" y1="131.4" x2="383.0" y2="150.6" stroke="#333" stroke-width="0.5"/>
<line x1="367.1" y1="127.6" x2="367.1" y2="149.0" stroke="#333" stroke-width="0.5"/>
<line x1="387.4" y1="128.3" x2="387.4" y2="146.7" stroke="#333" stroke-width="0.5"/>
<line x1="370.3" y1="131.1" x2="370.3" y2="145.3" stroke="#333" stroke-width="0.5"/>
<line x1="377.5" y1="129.3" x2="377.5" y2="148.7" stroke="#333" stroke-width="0.5"/>
<line x1="375.4" y1="129.5" x2="375.4" y2="145.6" stroke="#333" stroke-width="0.5"/>
<line x1="399.3" y1="132.0" x2="399.3" y2="146.8" stroke="#333" stroke-width="0.5"/>
<line x1="370.9" y1="128.9" x2="370.9" y2="150.8" stroke="#333" stroke-width="0.5"/>
<line x1="404.3" y1="128.0" x2="404.3" y2="148.0" stroke="#444" stroke-width="0.6"/>
<line x1="318.0" y1="153.0" x2="318.0" y2="230.5" stroke="#000" stroke-width="1.2"/>
<line x1="317.4" y1="230.0" x2="467.0" y2="230.0" stroke="#000" stroke-width="1.2"/>
<text x="315.6" y="161.9" font-size="8" font-weight="bold" fill="#000" text-anchor="end">100</text>
<text x="315.6" y="194.1" font-size="8" font-weight="bold" fill="#000" text-anchor="end">50</text>
<text x="315.6" y="223.3" font-size="8" font-weight="bold" fill="#000" text-anchor="end">0</text>
<text x="335.5" y="240.8" font-size="8" font-weight="bold" fill="#000" text-anchor="middle">0</text>
<text x="367.5" y="240.8" font-size="8" font-weight="bold" fill="#000" text-anchor="middle">20</text>
<text x="399.5" y="240.8" font-size="8" font-weight="bold" fill="#000" text-anchor="middle">40</text>
<text x="431.5" y="240.8" font-size="8" font-weight="bold" fill="#000" text-anchor="middle">60</text>
<text x="463.5" y="240.8" font-size="8" font-weight="bold" fill="#000" text-anchor="middle">80</text>
<text x="398.0" y="247.5" font-size="8.05" font-weight="bold" fill="#000" text-anchor="middle">Time(s)</text>
<text x="304.6" y="184.0" font-size="8" font-weight="bold" fill="#000" text-anchor="middle" transform="rotate(-90 304.6 184.0)">ΔF/F(%)</text>
<line x1="451.3" y1="154.5" x2="451.3" y2="162.5" stroke="#000" stroke-width="0.9"/>
<text x="453.5" y="162.3" font-size="8.5" fill="#000" text-anchor="start">1mV</text>
<text x="440.0" y="175.0" font-size="9.8" font-weight="bold" fill="#ee2a2a" text-anchor="start">sGS</text>
<text x="442.0" y="185.5" font-size="9.5" font-weight="bold" fill="#000" text-anchor="start">n=7</text>
<polygon points="319.5,219.9 320.3,220.0 321.1,220.0 321.9,220.0 322.7,220.0 323.5,219.9 324.3,220.0 325.1,220.0 325.9,219.9 326.7,219.9 327.5,220.0 328.3,220.0 329.1,219.9 329.9,220.0 330.7,220.0 331.5,219.9 332.3,220.0 333.1,220.0 333.9,220.0 334.7,220.0 335.5,220.0 336.3,220.0 337.1,219.9 337.9,219.9 338.7,217.9 339.5,213.3 340.3,211.2 341.1,208.9 341.9,206.8 342.7,204.5 343.5,202.2 344.3,200.2 345.1,198.0 345.9,195.6 346.7,197.4 347.5,199.8 348.3,200.1 349.1,200.4 349.9,201.1 350.7,201.4 351.5,201.6 352.3,200.5 353.1,198.7 353.9,196.7 354.7,195.0 355.5,193.1 356.3,190.9 357.1,189.3 357.9,187.1 358.7,185.6 359.5,183.6 360.3,181.8 361.1,179.6 361.9,177.9 362.7,175.9 363.5,173.9 364.3,171.7 365.1,169.9 365.9,167.7 366.7,165.1 367.5,163.5 368.3,160.9 369.1,159.6 369.9,157.1 370.7,157.1 371.5,156.5 372.3,157.7 373.1,158.5 373.9,159.4 374.7,160.1 375.5,162.2 376.3,164.2 377.1,165.8 377.9,168.3 378.7,170.9 379.5,173.0 380.3,175.4 381.1,176.5 381.9,178.7 382.7,180.2 383.5,182.0 384.3,183.6 385.1,186.2 385.9,187.9 386.7,189.2 387.5,190.6 388.3,190.9 389.1,192.5 389.9,193.2 390.7,194.5 391.5,196.0 392.3,196.8 393.1,198.0 393.9,199.3 394.7,200.4 395.5,201.2 396.3,202.8 397.1,203.8 397.9,205.0 398.7,206.1 399.5,207.6 400.3,208.4 401.1,209.8 401.9,210.7 402.7,211.9 403.5,213.3 404.3,214.4 405.1,215.4 405.9,215.6 406.7,216.2 407.5,216.6 408.3,216.7 409.1,217.4 409.9,217.7 410.7,218.0 411.5,218.4 412.3,218.9 413.1,219.2 413.9,219.3 414.7,219.7 415.5,219.9 416.3,220.2 417.1,220.8 417.9,220.7 418.7,220.7 419.5,221.1 420.3,220.9 421.1,221.0 421.9,221.0 422.7,221.1 423.5,221.5 424.3,221.4 425.1,221.7 425.9,221.7 426.7,221.8 427.5,222.0 428.3,222.0 429.1,222.1 429.9,222.1 430.7,222.3 431.5,222.4 432.3,222.4 433.1,222.5 433.9,222.7 434.7,222.6 435.5,222.7 436.3,222.8 437.1,222.7 437.9,222.7 438.7,222.8 439.5,222.6 440.3,222.6 441.1,222.7 441.9,222.6 442.7,222.9 443.5,222.8 444.3,222.8 445.1,222.9 445.9,222.8 446.7,222.9 447.5,222.8 448.3,222.7 449.1,222.8 449.9,222.8 450.7,222.9 451.5,223.0 452.3,222.9 453.1,222.7 453.9,222.8 454.7,222.9 455.5,222.8 456.3,223.0 457.1,222.9 457.9,222.8 458.7,222.7 459.5,222.9 460.3,222.9 461.1,222.8 461.9,222.8 462.7,222.9 463.5,222.9 463.5,225.3 462.7,225.3 461.9,225.3 461.1,225.1 460.3,225.4 459.5,225.2 458.7,225.1 457.9,225.3 457.1,225.2 456.3,225.4 455.5,225.3 454.7,225.2 453.9,225.2 453.1,225.2 452.3,225.2 451.5,225.3 450.7,225.4 449.9,225.5 449.1,225.4 448.3,225.6 447.5,225.5 446.7,225.6 445.9,225.3 445.1,225.5 444.3,225.5 443.5,225.5 442.7,225.3 441.9,225.4 441.1,225.6 440.3,225.5 439.5,225.5 438.7,225.6 437.9,225.4 437.1,225.7 436.3,225.5 435.5,225.4 434.7,225.4 433.9,225.4 433.1,225.6 432.3,225.2 431.5,225.1 430.7,225.1 429.9,225.1 429.1,225.0 428.3,224.9 427.5,224.8 426.7,224.9 425.9,224.6 425.1,224.7 424.3,224.4 423.5,224.5 422.7,224.3 421.9,224.4 421.1,224.2 420.3,224.5 419.5,224.0 418.7,224.0 417.9,223.9 417.1,224.1 416.3,223.8 415.5,223.5 414.7,223.0 413.9,223.0 413.1,222.5 412.3,222.1 411.5,221.7 410.7,221.3 409.9,221.2 409.1,220.9 408.3,220.3 407.5,220.0 406.7,219.8 405.9,219.5 405.1,219.0 404.3,218.3 403.5,217.2 402.7,216.6 401.9,215.5 401.1,214.2 400.3,213.0 399.5,212.0 398.7,211.5 397.9,210.1 397.1,209.8 396.3,208.8 395.5,207.5 394.7,206.8 393.9,205.7 393.1,205.0 392.3,203.5 391.5,203.2 390.7,202.2 389.9,200.9 389.1,199.3 388.3,198.4 387.5,197.5 386.7,196.9 385.9,195.2 385.1,193.1 384.3,191.8 383.5,189.8 382.7,187.6 381.9,185.6 381.1,183.4 380.3,181.5 379.5,180.1 378.7,178.6 377.9,176.9 377.1,174.8 376.3,173.2 375.5,172.1 374.7,169.9 373.9,170.3 373.1,169.9 372.3,170.7 371.5,170.3 370.7,169.9 369.9,169.2 369.1,171.8 368.3,172.9 367.5,173.1 366.7,175.0 365.9,176.8 365.1,177.9 364.3,179.0 363.5,181.1 362.7,182.0 361.9,183.4 361.1,185.0 360.3,186.8 359.5,188.9 358.7,190.5 357.9,192.4 357.1,194.1 356.3,195.9 355.5,197.9 354.7,199.8 353.9,201.3 353.1,203.2 352.3,205.1 351.5,205.9 350.7,205.4 349.9,204.5 349.1,204.2 348.3,203.6 347.5,202.9 346.7,200.5 345.9,198.6 345.1,200.4 344.3,202.6 343.5,204.4 342.7,206.4 341.9,208.5 341.1,210.5 340.3,212.4 339.5,214.4 338.7,218.8 337.9,220.8 337.1,220.8 336.3,220.8 335.5,220.8 334.7,220.8 333.9,220.8 333.1,220.8 332.3,220.8 331.5,220.8 330.7,220.8 329.9,220.8 329.1,220.9 328.3,220.8 327.5,220.8 326.7,220.8 325.9,220.8 325.1,220.8 324.3,220.9 323.5,220.8 322.7,220.9 321.9,220.9 321.1,220.8 320.3,220.8 319.5,220.8" fill="#fc8c8c"/>
<polyline points="319.5,220.4 320.3,220.6 321.1,220.3 321.9,220.7 322.7,220.3 323.5,220.9 324.3,220.0 325.1,220.1 325.9,220.6 326.7,220.2 327.5,220.4 328.3,220.0 329.1,220.2 329.9,220.4 330.7,220.4 331.5,220.2 332.3,220.6 333.1,220.2 333.9,220.3 334.7,220.6 335.5,220.5 336.3,220.5 337.1,220.5 337.9,220.0 338.7,218.4 339.5,213.6 340.3,212.3 341.1,208.8 341.9,207.3 342.7,204.5 343.5,204.3 344.3,201.6 345.1,199.1 345.9,196.9 346.7,198.6 347.5,200.8 348.3,201.8 349.1,202.2 349.9,203.4 350.7,203.3 351.5,204.1 352.3,202.2 353.1,200.6 353.9,199.3 354.7,196.9 355.5,195.8 356.3,193.6 357.1,192.0 357.9,189.2 358.7,188.1 359.5,185.8 360.3,184.4 361.1,183.3 361.9,180.2 362.7,178.8 363.5,176.8 364.3,176.2 365.1,175.1 365.9,172.3 366.7,170.0 367.5,169.8 368.3,165.5 369.1,164.7 369.9,162.8 370.7,164.0 371.5,163.0 372.3,163.7 373.1,163.3 373.9,163.5 374.7,165.8 375.5,167.4 376.3,169.3 377.1,170.9 377.9,172.7 378.7,174.0 379.5,177.1 380.3,179.1 381.1,179.9 381.9,182.6 382.7,183.6 383.5,185.7 384.3,186.9 385.1,190.3 385.9,191.8 386.7,192.1 387.5,193.8 388.3,195.8 389.1,195.8 389.9,198.3 390.7,198.9 391.5,198.8 392.3,199.7 393.1,200.3 393.9,202.4 394.7,203.8 395.5,203.5 396.3,204.9 397.1,206.6 397.9,207.4 398.7,209.0 399.5,209.1 400.3,211.0 401.1,211.9 401.9,211.9 402.7,215.0 403.5,216.4 404.3,215.8 405.1,218.2 405.9,219.6 406.7,218.1 407.5,217.2 408.3,218.2 409.1,219.1 409.9,219.8 410.7,219.4 411.5,220.7 412.3,221.6 413.1,221.0 413.9,220.9 414.7,220.9 415.5,221.8 416.3,222.2 417.1,222.6 417.9,222.5 418.7,222.6 419.5,222.6 420.3,222.5 421.1,223.1 421.9,222.8 422.7,223.1 423.5,222.7 424.3,223.2 425.1,223.0 425.9,223.1 426.7,223.2 427.5,223.3 428.3,223.7 429.1,223.2 429.9,223.6 430.7,223.8 431.5,223.7 432.3,223.7 433.1,223.8 433.9,224.2 434.7,224.0 435.5,224.1 436.3,224.0 437.1,224.1 437.9,224.3 438.7,224.4 439.5,224.1 440.3,224.2 441.1,224.2 441.9,224.3 442.7,223.9 443.5,224.1 444.3,224.2 445.1,223.8 445.9,224.1 446.7,223.8 447.5,224.1 448.3,224.2 449.1,223.9 449.9,223.9 450.7,224.2 451.5,224.1 452.3,223.8 453.1,223.8 453.9,224.2 454.7,224.2 455.5,223.9 456.3,223.5 457.1,224.2 457.9,224.4 458.7,224.2 459.5,224.0 460.3,224.2 461.1,224.0 461.9,224.2 462.7,224.2 463.5,224.0" fill="none" stroke="#f01c1c" stroke-width="1.6"/>
<rect x="335.8" y="123.0" width="4.2" height="107.3" fill="#000" stroke="none" stroke-width="1"/>
<rect x="508.4" y="141.5" width="138.6" height="89.8" fill="none" stroke="#000" stroke-width="0.8"/>
<text x="500.8" y="151.3" font-size="8.2" font-weight="bold" fill="#000" text-anchor="end">1#</text>
<path d="M506.8,143.8H503.2V153.0H506.8M503.2,148.4H506" fill="none" stroke="#555" stroke-width="0.8"/>
<text x="500.8" y="163.9" font-size="8.2" font-weight="bold" fill="#000" text-anchor="end">2#</text>
<path d="M506.8,156.4H503.2V165.6H506.8M503.2,161.0H506" fill="none" stroke="#555" stroke-width="0.8"/>
<text x="500.8" y="176.9" font-size="8.2" font-weight="bold" fill="#000" text-anchor="end">3#</text>
<path d="M506.8,169.4H503.2V178.6H506.8M503.2,174.0H506" fill="none" stroke="#555" stroke-width="0.8"/>
<text x="500.8" y="189.3" font-size="8.2" font-weight="bold" fill="#000" text-anchor="end">4#</text>
<path d="M506.8,181.8H503.2V191.0H506.8M503.2,186.4H506" fill="none" stroke="#555" stroke-width="0.8"/>
<text x="500.8" y="202.2" font-size="8.2" font-weight="bold" fill="#000" text-anchor="end">5#</text>
<path d="M506.8,194.7H503.2V203.9H506.8M503.2,199.3H506" fill="none" stroke="#555" stroke-width="0.8"/>
<text x="500.8" y="214.2" font-size="8.2" font-weight="bold" fill="#000" text-anchor="end">6#</text>
<path d="M506.8,206.7H503.2V215.9H506.8M503.2,211.3H506" fill="none" stroke="#555" stroke-width="0.8"/>
<text x="500.8" y="227.7" font-size="8.2" font-weight="bold" fill="#000" text-anchor="end">7#</text>
<path d="M506.8,220.2H503.2V229.4H506.8M503.2,224.8H506" fill="none" stroke="#555" stroke-width="0.8"/>
<line x1="524.3" y1="231.3" x2="524.3" y2="233.3" stroke="#000" stroke-width="0.8"/>
<text x="524.3" y="240.1" font-size="8" font-weight="bold" fill="#000" text-anchor="middle">0</text>
<line x1="554.5" y1="231.3" x2="554.5" y2="233.3" stroke="#000" stroke-width="0.8"/>
<text x="554.5" y="240.1" font-size="8" font-weight="bold" fill="#000" text-anchor="middle">20</text>
<line x1="584.7" y1="231.3" x2="584.7" y2="233.3" stroke="#000" stroke-width="0.8"/>
<text x="584.7" y="240.1" font-size="8" font-weight="bold" fill="#000" text-anchor="middle">40</text>
<line x1="614.9" y1="231.3" x2="614.9" y2="233.3" stroke="#000" stroke-width="0.8"/>
<text x="614.9" y="240.1" font-size="8" font-weight="bold" fill="#000" text-anchor="middle">60</text>
<line x1="645.1" y1="231.3" x2="645.1" y2="233.3" stroke="#000" stroke-width="0.8"/>
<text x="645.1" y="240.1" font-size="8" font-weight="bold" fill="#000" text-anchor="middle">80</text>
<text x="586.0" y="248.3" font-size="8.05" font-weight="bold" fill="#000" text-anchor="middle">Time(s)</text>
<defs><linearGradient id="hotcb" x1="0" x2="0" y1="1" y2="0"><stop offset="0" stop-color="#000"/><stop offset=".333" stop-color="#f00"/><stop offset=".667" stop-color="#ff0"/><stop offset="1" stop-color="#fff"/></linearGradient></defs>
<rect x="651.5" y="141.5" width="8.1" height="89.8" fill="url(#hotcb)" stroke="#000" stroke-width="0.8"/>
<line x1="658.1" y1="159.5" x2="659.6" y2="159.5" stroke="#000" stroke-width="0.6"/>
<line x1="658.1" y1="177.4" x2="659.6" y2="177.4" stroke="#000" stroke-width="0.6"/>
<line x1="658.1" y1="195.4" x2="659.6" y2="195.4" stroke="#000" stroke-width="0.6"/>
<line x1="658.1" y1="213.3" x2="659.6" y2="213.3" stroke="#000" stroke-width="0.6"/>
<text x="662.0" y="147.5" font-size="8.5" font-weight="bold" fill="#000" text-anchor="start">200k</text>
<text x="662.0" y="231.3" font-size="8.5" font-weight="bold" fill="#000" text-anchor="start">0</text>
<text x="0.0" y="264.8" font-size="20" fill="#000" text-anchor="start">d</text>
<defs><linearGradient id="dsh" x1="0" y1="0" x2="0" y2="1"><stop offset="0" stop-color="#0a1c1c"/><stop offset="1" stop-color="#071414"/></linearGradient><linearGradient id="dfs" x1="0" y1="0" x2="0" y2="1"><stop offset="0" stop-color="#0c2626"/><stop offset="0.5" stop-color="#0a2020"/><stop offset="1" stop-color="#071818"/></linearGradient><clipPath id="cd1"><rect x="8.2" y="271.5" width="118.9" height="99.2"/></clipPath><clipPath id="cd2"><rect x="131.8" y="271.2" width="118.5" height="99.5"/></clipPath><clipPath id="cd3"><rect x="253.3" y="271.2" width="117.7" height="99.5"/></clipPath></defs>
<rect x="8.2" y="271.5" width="118.9" height="99.2" fill="url(#dsh)" stroke="none" stroke-width="1"/>
<g clip-path="url(#cd2)">
<rect x="131.8" y="271.2" width="118.5" height="99.5" fill="url(#dfs)" stroke="none" stroke-width="1"/>
<g filter="url(#bl2)">
<path d="M131.8,352 C150,358 165,362 180,358 C200,355 215,362 235,352 C243,348 248,344 252,340 L252,372 L131.8,372 Z" fill="#040a0a" stroke="none" stroke-width="1"/>
</g>
<path d="M151.3 316.0h0M159.8 271.4h0M159.3 286.3h0M204.8 273.4h0M146.6 331.5h0M197.2 293.5h0M153.9 273.6h0M159.6 321.9h0M180.3 294.9h0M135.0 277.3h0M197.0 319.8h0M153.2 282.3h0M168.1 277.9h0M190.0 295.6h0M235.6 281.7h0M231.0 274.6h0M166.2 298.5h0M218.1 273.0h0M164.5 321.1h0M213.0 333.2h0M201.0 287.9h0M143.0 277.3h0M209.5 279.4h0M170.2 303.3h0M151.5 283.2h0M215.9 307.0h0M225.5 271.7h0M139.3 320.9h0M169.0 273.9h0M168.5 329.7h0M143.5 310.3h0M144.6 276.1h0M205.4 272.5h0M184.3 304.8h0M179.4 285.9h0M159.8 296.3h0M206.7 333.8h0M214.6 315.6h0M132.6 291.5h0M178.2 280.7h0M219.8 301.3h0M162.7 333.0h0M161.9 326.1h0M165.1 282.5h0M215.3 272.4h0M136.5 310.7h0M160.3 271.7h0M143.0 291.3h0M237.8 295.3h0M137.6 283.4h0M133.9 309.0h0M154.1 275.1h0M226.6 293.2h0M173.6 290.6h0M237.3 275.8h0M192.4 315.3h0M163.8 275.0h0M150.5 278.0h0M218.0 305.3h0M229.8 285.1h0M152.4 317.3h0M133.1 294.1h0M236.4 294.8h0M179.9 282.8h0M228.4 294.7h0M135.0 298.7h0M134.9 314.5h0M144.5 331.5h0M237.9 304.6h0M160.2 298.8h0M161.8 299.2h0M189.8 288.5h0M178.4 271.4h0M155.1 286.0h0M228.1 302.6h0M220.8 295.6h0M141.0 291.2h0M149.1 325.2h0M212.7 290.4h0M157.6 315.8h0M208.7 295.1h0M148.5 275.0h0M207.1 295.0h0M134.2 313.0h0M158.0 309.3h0M142.1 303.1h0M226.5 292.5h0M157.3 274.3h0M158.0 278.5h0M145.5 297.5h0M155.9 316.7h0M141.9 287.0h0M143.2 284.4h0M132.9 290.9h0M223.2 308.9h0M151.2 293.4h0M138.1 289.9h0M149.5 291.2h0M210.2 300.0h0M197.7 294.8h0M190.4 291.0h0M153.9 330.6h0M155.5 273.3h0M159.1 313.5h0M213.8 302.4h0M206.0 288.9h0M166.7 279.6h0M148.0 271.5h0M185.6 320.8h0M207.2 278.4h0M145.5 293.9h0M232.1 280.0h0M132.2 293.3h0M172.8 285.1h0M143.4 331.6h0M161.8 285.3h0M218.2 287.1h0M141.8 317.7h0M135.5 291.3h0M207.1 312.1h0M153.9 290.6h0M150.7 297.9h0M162.8 294.1h0M145.6 305.9h0M141.2 284.3h0M163.2 320.0h0M195.2 287.4h0M224.4 286.6h0M162.7 316.2h0M133.6 290.2h0M138.9 294.8h0M172.2 299.0h0M153.8 293.0h0M158.6 321.3h0M186.8 273.9h0M153.9 309.3h0M172.4 314.9h0M192.7 282.9h0M171.7 278.7h0M193.9 287.5h0M190.9 291.9h0M180.6 313.1h0M224.0 295.9h0M142.5 289.0h0M158.8 288.1h0M155.6 312.1h0M158.7 289.2h0M151.7 318.7h0M142.8 309.1h0M177.2 293.6h0M188.4 313.7h0M197.2 309.5h0M137.8 319.6h0M151.8 273.6h0M161.5 302.8h0M157.5 281.4h0M151.3 305.7h0M162.5 330.8h0M162.7 273.8h0M147.2 293.8h0M156.4 324.5h0M208.3 291.6h0M132.9 310.6h0M149.3 327.9h0M242.8 289.7h0M161.1 301.8h0M139.7 292.9h0M172.6 282.6h0M204.0 295.7h0M187.9 334.9h0M134.3 313.9h0M167.7 278.7h0M151.7 317.9h0M140.3 311.1h0M205.5 276.2h0M141.1 329.1h0M152.8 294.4h0M183.2 334.9h0M142.5 327.1h0M149.9 307.1h0M144.0 294.0h0M202.9 300.2h0M184.7 307.8h0M165.6 295.5h0M233.0 275.9h0M202.6 302.4h0M189.2 275.3h0M181.0 313.7h0M227.2 290.8h0M139.6 271.4h0M171.8 273.9h0M143.4 324.2h0M204.4 331.5h0M247.7 279.8h0M233.5 303.0h0M174.4 286.1h0M153.0 295.2h0M166.1 288.7h0M196.0 334.9h0M160.8 329.5h0M210.8 318.1h0M214.1 301.6h0M194.2 278.3h0M136.0 304.7h0M165.5 285.6h0M135.1 279.4h0M135.7 317.8h0M201.8 277.1h0M173.7 285.6h0M178.2 332.4h0M147.3 306.7h0M205.8 286.3h0M246.4 300.3h0M190.7 333.8h0M221.0 321.9h0M203.2 280.8h0M132.5 323.3h0M221.2 284.4h0M141.9 293.0h0M167.3 322.8h0M160.0 290.1h0M205.1 331.4h0M142.0 324.6h0M225.2 287.9h0M172.6 293.5h0M230.5 274.4h0M140.2 287.6h0M214.9 294.4h0M138.8 280.2h0M222.0 300.6h0M197.1 277.7h0M138.5 332.1h0M188.1 324.6h0M228.8 333.8h0M138.7 303.9h0M150.1 300.1h0M174.2 330.5h0M158.2 277.0h0M147.7 275.1h0M152.1 283.0h0M143.3 278.0h0M146.3 331.8h0M192.8 326.6h0M163.5 273.2h0M225.2 300.1h0M177.0 279.8h0M185.3 279.6h0M228.8 283.6h0M139.6 300.7h0M155.5 299.7h0M140.6 308.3h0M135.0 284.4h0M151.0 312.7h0M163.1 309.6h0M170.2 300.0h0M216.1 281.5h0M232.6 308.7h0M244.2 306.2h0M187.9 275.1h0M198.6 272.9h0M179.2 274.7h0" stroke="#2ab0b0" stroke-width="0.9" stroke-linecap="round" opacity="0.5"/>
<path d="M193.3 334.0h0M152.9 332.1h0M186.0 350.9h0M184.8 347.6h0M216.7 350.1h0M226.1 342.5h0M137.3 334.2h0M164.8 338.4h0M202.8 342.4h0M166.0 334.2h0M219.3 354.9h0M215.0 333.5h0M214.2 350.0h0M195.5 345.8h0M234.0 342.0h0M215.6 334.2h0M230.9 344.3h0M154.4 345.6h0M229.5 341.1h0M168.8 347.8h0M249.7 354.0h0M168.5 342.1h0M176.5 333.6h0M196.5 337.2h0M188.4 350.7h0M197.6 354.7h0M155.8 334.6h0M139.4 347.6h0M165.7 335.5h0M207.3 354.7h0M221.1 353.9h0M242.2 343.2h0M157.8 349.1h0M157.6 331.7h0M176.1 348.5h0M206.8 340.3h0M146.7 334.3h0M203.0 342.4h0M196.1 348.6h0M199.7 351.7h0" stroke="#2aa0a0" stroke-width="0.9" stroke-linecap="round" opacity="0.4"/>
<path d="M165,296 L175,312 M207,296 L202,313 M220,315 L228,325 M168,340 L172,345" fill="none" stroke="#061010" stroke-width="1.2"/>
</g>
<g clip-path="url(#cd3)">
<rect x="253.3" y="271.2" width="117.7" height="99.5" fill="url(#dfs)" stroke="none" stroke-width="1"/>
<g filter="url(#bl2)">
<path d="M262,315 C275,305 290,312 300,325 C305,335 295,342 285,340 C272,338 260,330 262,315 Z" fill="#0a1f1f" stroke="none" stroke-width="1"/>
<path d="M253,350 C290,345 330,352 372,345 L372,372 L253,372 Z" fill="#061212" stroke="none" stroke-width="1"/>
</g>
<path d="M295.7 304.2h0M282.7 284.5h0M338.1 300.5h0M255.9 297.6h0M291.1 277.6h0M255.9 310.8h0M323.6 287.5h0M328.4 290.2h0M280.5 293.7h0M269.2 280.7h0M369.4 279.1h0M340.6 280.7h0M333.4 286.0h0M313.1 301.2h0M359.4 280.0h0M254.2 309.0h0M315.1 312.9h0M263.5 296.2h0M337.3 309.5h0M290.5 274.5h0M258.5 327.5h0M285.5 278.3h0M287.6 286.7h0M317.3 276.9h0M316.9 312.8h0M316.4 309.8h0M281.7 297.5h0M341.4 291.1h0M350.5 285.4h0M331.4 290.6h0M296.4 290.9h0M341.7 295.9h0M286.5 315.2h0M304.6 277.1h0M306.3 285.2h0M261.9 289.9h0M304.4 309.0h0M298.9 307.8h0M284.0 325.3h0M346.7 300.7h0M318.7 296.4h0M362.3 280.4h0M360.1 287.1h0M266.4 298.8h0M329.4 280.9h0M272.0 294.2h0M282.4 296.2h0M284.4 307.7h0M306.2 281.1h0M265.0 282.7h0M309.3 279.5h0M334.8 285.6h0M258.3 317.2h0M321.2 296.9h0M261.6 325.2h0M333.3 289.7h0M263.0 311.8h0M268.2 285.1h0M308.2 280.7h0M284.0 323.1h0M283.3 323.0h0M262.3 281.1h0M258.7 308.8h0M255.9 315.6h0M341.8 296.5h0M323.1 299.6h0M271.4 305.4h0M314.4 299.9h0M369.0 284.3h0M264.9 307.8h0M275.4 303.7h0M360.4 278.3h0M271.1 278.9h0M307.9 275.9h0M268.0 304.6h0M277.9 310.0h0M277.8 314.0h0M326.8 278.5h0M370.3 276.5h0M334.3 293.2h0M302.4 301.6h0M259.1 311.8h0M268.6 325.3h0M265.3 311.4h0M318.5 275.9h0M266.7 303.8h0M299.2 283.3h0M265.2 287.9h0M349.1 282.2h0M342.4 280.8h0M357.1 297.4h0M368.0 298.9h0M271.1 276.7h0M335.0 287.6h0M279.1 303.6h0M273.6 290.2h0M277.2 279.5h0M339.5 300.4h0M318.6 275.3h0M295.1 287.0h0M327.2 293.2h0M351.3 278.8h0M348.1 276.6h0M330.7 298.0h0M341.7 306.3h0M363.9 290.7h0M293.0 296.1h0M317.7 291.4h0M307.0 290.5h0M363.2 290.0h0M327.0 303.3h0M363.7 280.3h0M295.5 282.0h0M338.1 301.5h0M291.0 294.2h0M310.3 292.4h0M311.4 311.4h0M255.7 287.2h0M315.0 313.7h0M343.7 304.3h0M286.4 291.0h0M312.0 304.4h0M259.4 304.2h0M297.0 278.3h0M325.2 310.8h0M368.0 292.1h0M258.1 321.8h0M257.7 293.1h0M294.8 322.1h0M318.7 313.9h0M256.4 296.3h0M306.5 276.9h0M289.6 290.8h0M268.4 285.3h0M296.9 313.7h0M353.5 293.1h0M265.4 286.0h0M356.6 282.4h0M327.1 309.0h0M349.5 282.2h0M263.0 301.9h0M367.2 292.2h0M293.9 291.7h0M297.4 299.9h0M312.8 289.4h0M294.4 289.0h0M369.1 292.3h0M253.4 318.3h0M331.1 297.3h0M320.5 310.8h0M302.6 285.0h0M287.9 317.7h0M311.5 305.3h0M267.3 279.6h0M343.8 287.0h0M320.3 304.4h0M300.3 310.3h0M307.0 317.9h0M253.7 308.0h0M317.0 304.7h0M297.1 312.2h0M283.2 278.7h0M262.4 284.7h0M301.1 281.9h0M298.5 284.8h0M313.1 294.4h0M259.9 278.1h0M304.8 305.8h0M269.3 310.3h0M301.4 295.7h0M278.2 309.5h0M324.6 307.4h0M254.5 332.0h0M311.2 277.0h0M296.4 310.0h0M258.0 318.3h0M302.1 274.3h0M263.8 293.4h0M279.7 287.8h0M264.0 312.9h0M294.9 304.0h0M315.2 310.1h0M339.1 299.9h0M255.6 293.0h0M254.7 314.9h0M334.7 308.1h0M367.8 284.0h0M320.5 294.0h0M307.2 287.0h0M345.3 294.0h0M284.9 325.4h0M255.4 285.2h0M277.0 282.0h0M341.7 279.1h0M346.0 300.2h0M315.9 275.4h0M254.9 305.1h0M329.3 290.3h0M367.1 278.1h0M263.7 323.7h0M325.7 300.1h0M304.7 306.8h0M308.9 301.5h0M274.0 306.8h0M323.8 301.1h0M314.2 313.7h0M348.2 289.4h0M327.3 291.1h0M343.2 292.3h0M315.5 308.1h0M322.0 290.0h0M256.2 301.1h0M287.9 302.2h0M278.1 286.4h0M368.6 296.7h0M341.4 282.4h0M263.6 315.5h0M255.8 303.7h0M323.6 287.3h0M337.5 285.8h0M266.1 283.3h0M258.8 298.2h0M345.5 284.4h0M286.7 294.1h0M279.3 326.2h0M351.5 281.2h0M254.7 298.1h0M256.4 293.0h0M267.8 301.5h0M277.4 318.1h0M298.2 279.0h0M318.4 301.6h0M282.4 297.1h0M318.3 310.6h0M292.6 300.1h0M290.6 303.8h0M287.0 293.3h0M256.7 279.2h0M355.3 294.8h0M366.7 288.7h0M305.7 314.7h0M344.6 297.2h0M277.0 274.6h0M266.4 308.6h0M310.3 280.1h0M255.5 294.7h0M298.1 295.8h0M321.3 276.5h0M332.6 277.7h0M260.4 312.8h0M313.2 294.9h0M345.4 292.9h0M275.9 298.8h0M277.6 297.8h0M345.1 301.8h0M293.1 282.8h0M294.7 305.8h0M316.1 303.9h0M342.6 301.9h0M283.3 315.9h0M351.2 287.3h0M354.5 277.6h0M275.7 296.6h0M359.8 302.9h0M293.9 288.6h0M308.3 307.6h0M267.9 317.0h0M357.6 293.1h0M272.1 300.9h0M367.0 297.9h0M304.3 299.5h0M266.2 301.6h0M353.9 291.6h0M254.8 315.9h0M255.2 291.5h0M328.2 287.4h0M285.9 306.2h0M293.0 318.2h0M358.5 278.5h0M338.7 301.8h0M298.6 312.6h0M322.7 278.2h0M300.4 314.9h0M255.8 280.7h0M255.4 320.8h0M325.2 296.9h0M329.3 279.6h0M269.8 315.2h0M304.7 285.8h0M268.5 330.1h0M287.5 299.0h0M313.4 274.2h0M291.2 285.9h0M265.6 329.8h0M273.9 291.6h0M285.1 321.1h0M327.6 310.0h0M256.8 313.9h0M360.7 281.6h0M282.0 291.4h0M368.4 288.5h0M271.3 314.7h0M291.3 311.3h0M283.2 287.8h0M322.6 300.1h0M331.9 307.3h0M281.8 286.3h0M262.6 278.7h0M337.0 293.9h0M253.7 275.8h0M278.4 321.4h0M358.4 277.3h0M274.9 314.5h0M344.5 290.0h0M310.0 294.1h0M321.2 312.0h0M332.2 276.1h0M309.3 275.9h0M332.3 307.3h0M338.8 307.4h0M286.5 296.5h0M268.9 299.1h0M313.1 281.9h0M259.3 311.9h0M308.2 279.2h0M314.6 291.8h0M359.9 287.0h0M288.1 309.8h0M261.2 290.3h0M336.5 276.4h0M350.6 293.0h0M295.6 289.7h0M260.9 279.0h0M259.9 287.1h0M292.3 296.7h0M296.4 302.1h0M347.9 300.9h0M358.8 290.7h0M280.9 282.8h0M312.2 317.2h0M269.4 322.6h0M305.3 287.2h0M303.4 313.6h0M297.3 284.3h0M360.1 300.1h0M276.9 303.2h0M331.5 280.6h0M278.7 274.8h0M279.5 300.1h0M286.4 305.4h0M285.1 300.0h0M342.6 300.4h0M277.7 295.4h0M269.4 301.3h0M289.7 314.4h0M296.0 313.1h0M321.1 309.4h0M303.9 299.1h0M268.0 312.8h0M291.2 291.0h0M358.9 299.1h0M266.0 311.4h0M300.4 297.1h0M324.5 304.2h0M358.9 292.0h0M283.6 274.9h0M271.6 305.9h0M355.3 302.0h0M281.4 309.3h0M318.7 285.5h0M318.7 304.0h0M278.1 280.0h0M356.3 290.9h0M253.6 328.2h0M368.8 284.9h0M334.9 276.5h0M358.5 282.4h0M329.9 280.7h0M257.8 286.7h0M267.3 297.0h0M267.8 291.7h0M286.6 281.2h0M264.0 292.7h0M261.0 282.4h0M370.2 293.6h0M351.1 277.4h0M271.5 277.1h0M353.5 295.9h0M347.1 297.4h0M314.7 291.1h0M292.3 312.5h0M298.9 285.9h0M292.9 276.4h0M319.1 290.1h0M308.9 305.9h0M270.3 306.6h0M285.3 280.5h0M280.0 294.4h0M337.8 276.9h0M310.2 308.7h0M353.0 282.5h0M345.1 294.3h0M268.2 314.3h0M283.5 316.2h0M334.9 281.4h0M287.5 297.7h0M275.3 281.1h0M296.6 312.5h0M312.8 305.1h0M340.1 293.9h0M265.7 282.2h0M295.3 299.2h0M335.5 279.9h0M278.5 318.6h0M353.4 289.9h0M318.6 307.1h0M283.3 303.8h0M259.9 330.3h0M358.3 298.6h0M273.0 291.3h0M362.5 277.4h0M284.4 289.9h0M330.0 274.4h0M295.3 294.0h0M275.4 288.1h0M319.4 300.7h0M287.9 311.7h0M294.4 275.5h0M272.5 322.5h0M304.2 311.1h0M255.9 312.0h0M314.9 315.6h0M345.4 298.7h0M266.5 312.2h0M256.4 308.6h0M360.1 276.7h0M278.7 274.7h0M336.9 283.8h0M267.2 280.6h0M309.2 317.8h0M287.4 281.0h0M325.5 290.5h0M259.4 317.4h0M253.7 313.5h0M275.1 291.2h0M295.8 318.6h0M328.9 278.8h0M290.6 306.4h0M366.1 300.2h0M342.4 288.8h0M270.3 321.5h0M279.5 303.6h0M302.8 310.6h0M364.6 287.3h0M261.8 320.4h0M280.0 307.6h0M295.1 286.1h0M332.1 285.1h0M353.1 279.7h0M302.0 278.9h0M260.5 309.8h0M359.6 297.6h0M257.1 313.8h0M310.6 281.4h0M281.3 283.8h0M363.1 293.3h0M279.8 324.8h0M362.6 279.5h0M290.3 289.8h0M355.8 302.8h0M338.4 300.7h0M326.3 309.2h0M347.5 304.8h0M291.9 290.7h0M295.2 290.3h0M370.2 289.8h0M301.5 308.2h0M293.3 278.3h0M278.0 326.1h0M306.6 277.0h0M323.4 288.6h0M256.4 292.9h0M264.1 291.7h0M357.6 302.1h0M320.9 308.4h0M278.1 320.8h0M310.1 276.9h0M263.5 326.8h0M258.2 331.3h0M297.9 299.9h0M300.4 304.8h0M256.0 328.4h0M282.6 292.4h0M339.2 303.6h0M295.2 279.5h0M337.3 302.3h0M290.1 298.3h0M327.5 293.3h0M267.9 291.0h0M274.8 285.5h0M341.4 296.9h0M290.9 283.8h0M335.7 289.5h0M306.9 280.9h0M287.1 281.6h0M311.8 314.5h0M303.4 312.3h0M341.5 279.9h0M288.2 290.2h0M304.3 287.8h0" stroke="#30c0c0" stroke-width="1.0" stroke-linecap="round" opacity="0.55"/>
<path d="M273.3 331.3h0M338.9 320.6h0M260.5 303.0h0M255.0 358.6h0M335.5 314.1h0M358.6 300.8h0M365.0 301.5h0M276.6 304.2h0M344.1 313.1h0M300.0 322.5h0M322.1 349.0h0M322.6 308.0h0M260.7 340.8h0M305.5 330.0h0M266.8 314.9h0M360.9 357.8h0M292.5 325.3h0M358.4 347.6h0M291.6 342.5h0M287.6 307.9h0M360.6 322.5h0M366.6 352.4h0M316.9 355.0h0M302.4 330.1h0M271.9 300.5h0M303.5 308.3h0M297.2 329.2h0M294.3 345.4h0M346.0 328.8h0M316.7 359.2h0M312.2 327.3h0M338.0 302.1h0M284.9 312.0h0M313.4 301.3h0M343.7 346.0h0M307.7 354.9h0M310.3 322.8h0M265.2 324.4h0M295.0 343.0h0M350.9 306.5h0M314.3 331.8h0M299.5 327.0h0M367.0 323.7h0M301.4 333.7h0M359.1 336.9h0M368.8 321.7h0M345.8 349.5h0M361.2 359.7h0M316.2 316.4h0M316.0 338.9h0" stroke="#2aa8a8" stroke-width="1.0" stroke-linecap="round" opacity="0.5"/>
</g>
<path d="M8.2,300.5 C25,290 45,282 68,281 C90,280 110,283 124,289" fill="none" stroke="#eee" stroke-width="1.1" stroke-dasharray="3.5,2.5"/>
<path d="M131.8,286.5 C145,281 160,277 180,276.8 C200,276.5 222,279 236,288" fill="none" stroke="#eee" stroke-width="1.1" stroke-dasharray="3.5,2.5"/>
<path d="M253.3,286.5 C265,281 280,277 300,276.5 C322,276 343,279 358,287" fill="none" stroke="#eee" stroke-width="1.1" stroke-dasharray="3.5,2.5"/>
<text x="105.3" y="282.0" font-size="9.5" fill="#eee" text-anchor="start" textLength="19.8" lengthAdjust="spacingAndGlyphs">DHC</text>
<text x="105.3" y="299.0" font-size="9.5" fill="#eee" text-anchor="start" textLength="19.4" lengthAdjust="spacingAndGlyphs">SUB</text>
<text x="230.4" y="282.0" font-size="9.5" fill="#eee" text-anchor="start" textLength="19.8" lengthAdjust="spacingAndGlyphs">DHC</text>
<text x="230.4" y="299.0" font-size="9.5" fill="#eee" text-anchor="start" textLength="19.4" lengthAdjust="spacingAndGlyphs">SUB</text>
<text x="352.0" y="282.0" font-size="9.5" fill="#eee" text-anchor="start" textLength="19.8" lengthAdjust="spacingAndGlyphs">DHC</text>
<text x="352.0" y="299.0" font-size="9.5" fill="#eee" text-anchor="start" textLength="19.4" lengthAdjust="spacingAndGlyphs">SUB</text>
<text x="12.3" y="366.7" font-size="9.5" fill="#eee" text-anchor="start" textLength="24.9" lengthAdjust="spacingAndGlyphs">Sham</text>
<text x="134.6" y="366.5" font-size="9.5" fill="#eee" text-anchor="start" textLength="12.7" lengthAdjust="spacingAndGlyphs">FS</text>
<text x="258.0" y="366.5" font-size="9.5" fill="#eee" text-anchor="start" textLength="17.5" lengthAdjust="spacingAndGlyphs">sGS</text>
<text x="100.5" y="347.3" font-size="6.5" font-style="italic" fill="#ddd" text-anchor="middle">Deep</text>
<text x="81.7" y="356.0" font-size="6.5" font-style="italic" fill="#ddd" text-anchor="start">Pro</text>
<text x="116.5" y="356.0" font-size="6.5" font-style="italic" fill="#ddd" text-anchor="start">Dis</text>
<text x="100.0" y="366.5" font-size="6.5" font-style="italic" fill="#ddd" text-anchor="middle">Sup</text>
<path d="M93,354 L97,354 M103,354 L107,354 M110,354 L113,354 M100,349 L100,351 M100,357 L100,359" fill="none" stroke="#ccc" stroke-width="0.6"/>
<circle cx="100.0" cy="354.0" r="0.8" fill="#ccc" stroke="none" stroke-width="1"/>
<line x1="352.0" y1="366.0" x2="362.0" y2="366.0" stroke="#eee" stroke-width="1.2"/>
<text x="371.0" y="265.3" font-size="20" fill="#000" text-anchor="start">e</text>
<line x1="400.2" y1="279.0" x2="400.2" y2="381.8" stroke="#000" stroke-width="1.1"/>
<line x1="400.2" y1="381.4" x2="468.3" y2="381.4" stroke="#000" stroke-width="1.1"/>
<line x1="397.5" y1="381.2" x2="400.2" y2="381.2" stroke="#000" stroke-width="1"/>
<text x="396.5" y="384.1" font-size="8" font-weight="bold" fill="#000" text-anchor="end">0</text>
<line x1="397.5" y1="360.8" x2="400.2" y2="360.8" stroke="#000" stroke-width="1"/>
<text x="396.5" y="363.7" font-size="8" font-weight="bold" fill="#000" text-anchor="end">20</text>
<line x1="397.5" y1="340.5" x2="400.2" y2="340.5" stroke="#000" stroke-width="1"/>
<text x="396.5" y="343.4" font-size="8" font-weight="bold" fill="#000" text-anchor="end">40</text>
<line x1="397.5" y1="320.1" x2="400.2" y2="320.1" stroke="#000" stroke-width="1"/>
<text x="396.5" y="323.0" font-size="8" font-weight="bold" fill="#000" text-anchor="end">60</text>
<line x1="397.5" y1="299.8" x2="400.2" y2="299.8" stroke="#000" stroke-width="1"/>
<text x="396.5" y="302.7" font-size="8" font-weight="bold" fill="#000" text-anchor="end">80</text>
<line x1="397.5" y1="279.4" x2="400.2" y2="279.4" stroke="#000" stroke-width="1"/>
<text x="396.5" y="282.3" font-size="8" font-weight="bold" fill="#000" text-anchor="end">100</text>
<text x="384.0" y="328.0" font-size="8.3" font-weight="bold" fill="#000" text-anchor="middle" transform="rotate(-90 384.0 328.0)" textLength="65.8" lengthAdjust="spacingAndGlyphs">c-Fos⁺ cell count</text>
<rect x="412.4" y="380.0" width="9.2" height="1.2" fill="#fff" stroke="#29a3c6" stroke-width="1.3"/>
<rect x="429.6" y="363.9" width="9.2" height="17.3" fill="#fff" stroke="#29a3c6" stroke-width="1.3"/>
<rect x="447.2" y="318.1" width="9.2" height="63.1" fill="#fff" stroke="#29a3c6" stroke-width="1.3"/>
<line x1="451.8" y1="311.0" x2="451.8" y2="318.1" stroke="#29a3c6" stroke-width="1.3"/>
<line x1="449.6" y1="311.0" x2="454.0" y2="311.0" stroke="#29a3c6" stroke-width="1.3"/>
<line x1="434.2" y1="360.8" x2="434.2" y2="363.9" stroke="#29a3c6" stroke-width="1.3"/>
<line x1="432.0" y1="360.8" x2="436.4" y2="360.8" stroke="#29a3c6" stroke-width="1.3"/>
<circle cx="414.5" cy="379.2" r="1.5" fill="#fff" stroke="#29a3c6" stroke-width="1.1"/>
<circle cx="417.5" cy="380.7" r="1.5" fill="#fff" stroke="#29a3c6" stroke-width="1.1"/>
<circle cx="420.0" cy="379.7" r="1.5" fill="#fff" stroke="#29a3c6" stroke-width="1.1"/>
<circle cx="420.0" cy="381.2" r="1.5" fill="#fff" stroke="#29a3c6" stroke-width="1.1"/>
<circle cx="432.2" cy="358.8" r="1.5" fill="#fff" stroke="#29a3c6" stroke-width="1.1"/>
<circle cx="436.7" cy="361.3" r="1.5" fill="#fff" stroke="#29a3c6" stroke-width="1.1"/>
<circle cx="433.7" cy="362.4" r="1.5" fill="#fff" stroke="#29a3c6" stroke-width="1.1"/>
<circle cx="435.2" cy="368.5" r="1.5" fill="#fff" stroke="#29a3c6" stroke-width="1.1"/>
<circle cx="451.8" cy="288.6" r="1.5" fill="#fff" stroke="#29a3c6" stroke-width="1.1"/>
<circle cx="451.8" cy="311.0" r="1.5" fill="#fff" stroke="#29a3c6" stroke-width="1.1"/>
<circle cx="451.8" cy="320.1" r="1.5" fill="#fff" stroke="#29a3c6" stroke-width="1.1"/>
<circle cx="451.8" cy="329.3" r="1.5" fill="#fff" stroke="#29a3c6" stroke-width="1.1"/>
<circle cx="451.8" cy="337.4" r="1.5" fill="#fff" stroke="#29a3c6" stroke-width="1.1"/>
<text x="416.5" y="378.5" font-size="9.5" fill="#000" text-anchor="middle">4</text>
<text x="433.6" y="378.5" font-size="9.5" fill="#000" text-anchor="middle">3</text>
<text x="451.4" y="378.5" font-size="9.5" fill="#000" text-anchor="middle">5</text>
<text x="419.5" y="386.5" font-size="7.8" font-weight="bold" fill="#000" text-anchor="end" transform="rotate(-45 419.5 386.5)">Sham</text>
<text x="436.0" y="386.5" font-size="7.8" font-weight="bold" fill="#000" text-anchor="end" transform="rotate(-45 436.0 386.5)">FS</text>
<text x="453.0" y="386.5" font-size="7.8" font-weight="bold" fill="#000" text-anchor="end" transform="rotate(-45 453.0 386.5)">sGS</text>
<line x1="416.6" y1="273.8" x2="453.0" y2="273.8" stroke="#000" stroke-width="1.1"/>
<text x="434.8" y="274.8" font-size="8.8" font-weight="bold" fill="#000" text-anchor="middle" textLength="20.5" lengthAdjust="spacing">****</text>
<line x1="416.6" y1="284.0" x2="434.7" y2="284.0" stroke="#000" stroke-width="1.1"/>
<text x="425.8" y="286.0" font-size="8.8" font-weight="bold" fill="#000" text-anchor="middle">*</text>
<text x="480.6" y="265.3" font-size="20" fill="#000" text-anchor="start">f</text>
<rect x="488.4" y="272.4" width="88.5" height="112.1" fill="none" stroke="#222" stroke-width="1.1" stroke-dasharray="3.2,2.6"/>
<defs><clipPath id="cf"><rect x="501.9" y="277.2" width="61" height="60.4"/></clipPath></defs>
<g clip-path="url(#cf)">
<rect x="501.9" y="277.2" width="61.0" height="60.4" fill="#4a0a0a" stroke="none" stroke-width="1"/>
<path d="M515.7 335.3h0M509.6 319.8h0M507.1 292.1h0M562.8 289.8h0M541.1 304.9h0M529.5 307.1h0M513.6 327.4h0M507.4 291.3h0M503.1 293.3h0M526.8 331.7h0M525.0 284.1h0M517.7 337.1h0M505.7 314.7h0M524.9 317.1h0M522.5 319.0h0M532.3 316.4h0M556.9 312.3h0M510.6 281.1h0M559.6 306.7h0M513.7 334.3h0M537.2 321.2h0M555.6 294.5h0M523.7 330.2h0M510.1 323.4h0M507.9 318.9h0M544.7 334.6h0M553.4 307.6h0M514.0 286.3h0M534.2 308.0h0M506.3 331.8h0M532.9 319.6h0M515.3 291.9h0M502.6 297.9h0M518.2 302.8h0M524.9 327.6h0M556.3 287.8h0M526.1 287.2h0M542.4 336.1h0M514.2 323.5h0M520.2 278.0h0M548.5 297.8h0M512.3 303.5h0M516.0 302.0h0M529.1 302.4h0M537.8 294.6h0M507.7 282.3h0M508.4 308.7h0M523.9 326.0h0M532.7 320.0h0M561.7 281.0h0M502.9 285.7h0M525.5 311.8h0M547.3 298.4h0M560.8 277.4h0M552.9 289.9h0M555.3 279.2h0M560.8 323.1h0M562.3 312.2h0M512.7 335.8h0M528.8 282.2h0M538.8 307.2h0M530.8 286.5h0M509.3 312.3h0M529.5 284.8h0M528.7 321.0h0M545.5 305.7h0M525.9 299.0h0M515.7 289.1h0M529.1 283.7h0M546.1 320.0h0M539.2 278.6h0M524.1 303.3h0M507.6 335.7h0M548.0 307.6h0M544.9 289.3h0M515.9 309.0h0M547.3 316.3h0M502.3 314.2h0M557.3 322.1h0M558.5 336.5h0M515.5 295.1h0M535.3 336.2h0M524.4 334.1h0M553.8 308.4h0M540.0 335.0h0M549.7 295.1h0M553.5 289.0h0M524.5 335.1h0M553.6 296.0h0M519.6 314.2h0M553.3 318.5h0M559.0 321.2h0M552.0 313.7h0M524.0 303.0h0M531.8 309.1h0M553.0 293.4h0M506.1 321.5h0M518.4 302.6h0M509.0 327.3h0M518.6 294.8h0M551.0 307.7h0M518.8 330.9h0M527.0 299.0h0M560.8 324.9h0M547.5 292.3h0M551.5 313.2h0M552.5 299.4h0M549.5 325.1h0M525.6 316.7h0M549.5 337.2h0M558.0 324.7h0M510.2 314.1h0M543.7 282.5h0M530.1 329.7h0M557.1 333.1h0M507.6 313.9h0M554.7 316.6h0M521.4 279.5h0M558.0 329.1h0M541.8 299.3h0M552.4 326.4h0M546.1 313.4h0M521.4 295.1h0M523.7 296.9h0M533.6 284.1h0M545.9 298.2h0M511.6 292.6h0M525.6 303.2h0M549.6 283.2h0M515.5 294.9h0M512.7 322.5h0M508.5 280.3h0M535.8 321.7h0M552.2 311.0h0M521.8 330.5h0M546.8 306.1h0M536.2 333.7h0M562.7 333.4h0M510.0 296.9h0M526.8 287.4h0M548.4 280.9h0M556.0 312.6h0M539.3 302.3h0M559.0 312.1h0M556.6 332.9h0M544.1 336.6h0M531.8 299.3h0M553.4 309.1h0M520.7 318.3h0M530.9 284.9h0M553.0 307.4h0M561.2 309.4h0M559.0 294.7h0M515.2 309.0h0M548.7 327.0h0M541.4 284.7h0M525.9 279.3h0M524.6 334.3h0M523.1 319.4h0M539.8 285.9h0M543.9 282.0h0M513.2 312.2h0M509.7 335.5h0M527.9 315.3h0M560.8 283.7h0M562.8 279.6h0M538.6 316.8h0M562.0 298.8h0M559.7 316.5h0M531.0 287.5h0M516.3 299.3h0M523.0 299.7h0M551.2 299.8h0M540.2 279.5h0M510.5 320.1h0M556.2 296.1h0M503.9 291.3h0M523.9 299.3h0M536.2 295.4h0M541.4 324.7h0M549.7 322.0h0M537.5 293.0h0M553.2 294.7h0M554.4 304.2h0M540.3 307.4h0M541.8 297.8h0M537.2 321.7h0M523.9 313.5h0M529.7 305.6h0M525.3 310.2h0M545.2 287.7h0M510.8 326.9h0M507.3 325.1h0M548.2 290.3h0M540.7 292.5h0M555.7 289.1h0M509.0 279.4h0M545.7 290.0h0M521.1 336.2h0M546.8 321.8h0M537.0 315.9h0M502.6 326.3h0M522.0 328.8h0M527.2 332.2h0M501.9 336.4h0M507.7 308.1h0M531.3 336.8h0M545.6 336.5h0M557.2 302.9h0M510.9 286.0h0M545.2 334.7h0M542.5 298.1h0M538.3 316.9h0M517.3 319.1h0M514.0 278.9h0M505.8 306.7h0M544.4 290.8h0M526.1 319.1h0M517.9 308.7h0M538.7 301.7h0M514.6 319.0h0M544.7 288.6h0M551.1 316.8h0M554.8 324.3h0M532.1 320.4h0M521.1 316.7h0M506.9 298.1h0M532.8 330.7h0M543.6 332.1h0M554.9 335.8h0M539.6 314.5h0M530.5 290.6h0M550.5 314.1h0M511.8 291.7h0M515.4 320.9h0M538.3 289.3h0M543.8 311.2h0M518.2 304.0h0M562.5 285.7h0M516.3 313.1h0M553.1 332.9h0M526.2 323.6h0M509.1 300.5h0M554.2 317.4h0M529.1 313.4h0M531.6 310.3h0M555.8 336.1h0M514.1 322.8h0M559.5 313.9h0M532.4 299.7h0M531.4 312.3h0M539.2 284.1h0M562.8 293.9h0M535.3 289.2h0M540.4 281.7h0M522.4 300.4h0M521.0 306.6h0M511.6 306.8h0M550.4 315.2h0M561.1 334.6h0M531.0 305.5h0M548.4 330.3h0M534.9 317.5h0M544.0 308.2h0M532.9 301.4h0M529.3 305.8h0M550.9 286.9h0M509.1 333.0h0M533.0 319.3h0M557.8 321.7h0M536.5 334.7h0M540.0 304.2h0M513.0 286.8h0M550.2 331.4h0M523.7 309.2h0M543.3 313.8h0M518.7 332.2h0M535.6 320.3h0M543.9 303.7h0M544.7 288.7h0M535.3 316.6h0M540.3 294.9h0M513.0 283.3h0M509.5 288.3h0M531.5 311.5h0M545.0 303.7h0M548.7 279.0h0M523.1 284.4h0M533.4 311.8h0M537.5 304.0h0M524.4 297.0h0M508.4 288.9h0M531.6 311.5h0M508.0 328.2h0M503.6 284.8h0M529.2 297.3h0M533.6 318.9h0M538.2 324.6h0M530.6 318.0h0M527.4 284.8h0M506.4 288.2h0M529.0 293.9h0M536.1 317.5h0M558.0 286.2h0M560.3 277.3h0M556.1 336.7h0M524.2 325.4h0M532.7 311.1h0M554.2 334.1h0M520.2 290.5h0M557.8 313.0h0M556.9 290.6h0M553.7 286.8h0M510.9 294.6h0M558.5 300.6h0M528.8 294.7h0M506.5 303.9h0M532.2 297.4h0M546.5 295.9h0M561.7 332.1h0M537.2 283.3h0M536.0 314.7h0M541.6 302.9h0M546.1 337.4h0M544.7 279.7h0M540.2 314.8h0M535.2 333.9h0M505.1 278.2h0M546.0 283.3h0M510.3 326.6h0M524.0 330.6h0M550.8 317.2h0M523.8 282.2h0M561.4 329.8h0M557.9 307.9h0M519.0 315.1h0M527.5 288.8h0M508.8 301.8h0M510.9 293.4h0M561.5 333.6h0M555.9 308.1h0M548.4 287.1h0M539.8 336.1h0M550.1 336.8h0M540.2 295.6h0M503.2 293.5h0M552.5 309.1h0M539.9 325.7h0M519.9 285.7h0M556.0 313.5h0M503.6 319.3h0M545.9 323.2h0M509.9 293.7h0M546.0 317.6h0M523.0 335.7h0M520.3 331.0h0M510.2 304.8h0M562.4 319.1h0M548.1 330.6h0M540.2 310.2h0M552.2 309.3h0M560.3 323.2h0M502.0 294.6h0M555.9 284.3h0M502.8 312.3h0M544.2 336.4h0M560.6 315.0h0M544.6 309.2h0M553.7 319.0h0M509.8 315.0h0M505.0 297.4h0M522.2 332.8h0M515.4 299.9h0M536.3 289.6h0M529.5 295.1h0M545.9 325.1h0M537.4 329.6h0M531.9 322.3h0M507.7 300.6h0M521.6 330.8h0M532.3 299.9h0M542.6 334.8h0M552.5 325.7h0M542.5 325.7h0M536.2 300.7h0M521.2 293.1h0M522.5 307.5h0M554.5 291.5h0M525.8 293.0h0M531.3 280.9h0M539.9 329.0h0M557.5 298.9h0M512.2 321.3h0M548.0 288.7h0M505.6 317.7h0M525.1 308.7h0M536.3 330.6h0M509.6 292.9h0M504.0 318.8h0M506.7 328.7h0M539.1 308.1h0M518.2 329.7h0M508.9 312.3h0M552.5 316.9h0M504.9 283.9h0M519.3 321.3h0M510.3 334.9h0M555.9 311.8h0M555.4 315.6h0M511.7 301.6h0M503.4 303.7h0M562.2 301.6h0M542.4 298.9h0M543.1 297.4h0M557.6 302.0h0M518.3 303.1h0M506.5 297.1h0M547.0 301.6h0M529.2 291.4h0M552.2 330.6h0M526.8 277.3h0M528.0 330.0h0M541.6 291.0h0M508.3 330.7h0M506.7 314.4h0M538.2 288.2h0M528.8 329.3h0M562.7 281.7h0M503.8 292.9h0M505.0 333.3h0M506.8 299.4h0M554.2 305.2h0M516.1 281.0h0M515.7 295.9h0M553.6 303.4h0M535.6 293.1h0M526.8 333.2h0M508.9 319.5h0M521.0 302.4h0M545.8 298.3h0M531.7 306.7h0M531.5 281.7h0M525.8 300.2h0M527.5 294.5h0M529.3 321.9h0M506.4 281.7h0M534.5 312.1h0M550.6 279.2h0M502.5 313.9h0M515.0 307.0h0M519.8 282.5h0M536.1 296.2h0M531.6 329.7h0M529.3 328.1h0M519.8 288.2h0M526.5 295.2h0M546.3 284.5h0M546.0 290.5h0M526.8 290.2h0M510.7 285.6h0M562.0 283.2h0M558.3 305.0h0M555.7 288.0h0M537.5 318.4h0M520.6 314.3h0M557.0 302.3h0M503.7 314.0h0M549.5 304.7h0M553.1 298.7h0M529.4 303.3h0M507.7 281.5h0M540.8 330.9h0M513.1 331.8h0M521.8 302.4h0M504.5 277.6h0M537.0 330.6h0M540.7 285.0h0M542.3 285.0h0M530.6 322.5h0M525.5 296.4h0M521.4 294.8h0M502.9 321.1h0M525.8 288.5h0M520.9 279.7h0M530.6 312.4h0M539.8 304.1h0M562.2 286.3h0M513.9 311.1h0M527.1 295.5h0M546.1 308.3h0M536.4 319.0h0M527.6 308.1h0M562.2 287.0h0M530.3 314.2h0M548.5 282.6h0M508.9 293.4h0M542.6 289.9h0M504.0 302.5h0M511.3 318.7h0M559.8 322.7h0M536.6 301.8h0M503.5 303.5h0M533.7 295.4h0M526.8 334.1h0M524.6 293.0h0M528.8 333.7h0M504.5 305.4h0M562.2 309.1h0M521.3 297.3h0M544.1 285.2h0M559.9 319.0h0M557.5 287.0h0M503.0 296.6h0M530.4 309.1h0M539.9 279.3h0M559.0 286.4h0M513.2 284.8h0M525.1 286.9h0M545.5 298.5h0M509.6 299.4h0M552.1 310.3h0M506.1 312.7h0M531.9 308.5h0M547.6 285.9h0M544.5 323.8h0M557.8 300.5h0M515.5 320.1h0M562.7 335.8h0M538.1 296.6h0M558.1 286.4h0M541.2 328.9h0M536.1 322.0h0M528.1 319.7h0M515.0 318.3h0M510.3 287.7h0M509.3 296.7h0M502.3 319.6h0M557.6 327.8h0M504.5 307.0h0M510.0 311.8h0M502.7 334.7h0M529.6 287.7h0M527.2 296.0h0M531.4 302.1h0M560.9 296.2h0M505.9 310.6h0M530.9 298.7h0M560.6 328.2h0M526.9 285.6h0M555.7 325.7h0M558.4 301.4h0M516.2 308.8h0M534.0 321.5h0M510.5 335.5h0M534.7 294.7h0M538.6 281.2h0M552.4 309.7h0M514.3 280.3h0M534.4 325.4h0M516.5 335.0h0M539.0 308.2h0M561.0 298.6h0M544.7 300.0h0M523.2 309.0h0M559.9 283.0h0M526.3 280.5h0M527.1 281.2h0M550.9 318.2h0M560.5 321.5h0M523.1 314.6h0M511.7 303.4h0M508.3 335.6h0M542.6 292.6h0M534.7 300.8h0M556.1 318.0h0M544.9 314.9h0M511.1 311.6h0M553.7 299.6h0M502.2 295.9h0M503.0 311.5h0M531.0 283.8h0M554.7 292.3h0M528.9 286.2h0M533.9 311.7h0M545.0 278.0h0M511.4 286.3h0M520.6 326.0h0M553.8 321.8h0M536.1 278.7h0M519.4 308.0h0M546.8 300.2h0M529.5 296.2h0M534.0 303.4h0M524.2 332.9h0M539.0 317.2h0M554.2 321.9h0M517.7 322.5h0M539.5 308.9h0M544.7 327.5h0M519.7 294.7h0M534.5 283.1h0M549.9 289.4h0M520.8 324.5h0M556.1 292.9h0M509.4 317.8h0M539.2 301.5h0M512.6 335.8h0M507.9 329.3h0M516.3 292.2h0M527.2 285.3h0M548.2 288.7h0M518.6 297.8h0M551.0 279.4h0M546.9 294.1h0M541.8 335.7h0M513.1 279.0h0M520.1 320.1h0M516.0 296.7h0M561.8 329.3h0M560.4 290.1h0M544.2 296.0h0M544.8 327.0h0M542.2 307.5h0M541.7 318.8h0M511.9 320.2h0M509.6 328.8h0M522.8 282.6h0M503.0 313.8h0M506.2 301.7h0M504.6 318.8h0M554.6 278.7h0M539.3 316.3h0M535.9 335.6h0M520.9 331.3h0M534.8 290.7h0M518.8 283.3h0M548.5 290.6h0M537.8 323.9h0M517.5 316.6h0M543.4 303.1h0M549.7 303.1h0M510.7 282.7h0M510.8 321.0h0M532.7 285.7h0M559.6 277.9h0M538.0 306.1h0M556.1 313.4h0M553.4 290.7h0M534.3 324.4h0M524.6 321.3h0M527.2 297.9h0M518.6 318.4h0M562.1 279.6h0M514.9 281.1h0M512.3 307.7h0M536.1 319.1h0M509.6 328.5h0M513.9 324.4h0M526.0 308.3h0M553.0 332.4h0M534.8 280.9h0M520.9 320.3h0M551.8 330.9h0M535.8 283.4h0M518.9 302.9h0M510.1 298.3h0M520.8 321.0h0M530.1 311.9h0M520.0 320.9h0M535.5 282.2h0M558.3 283.7h0M517.0 282.4h0M550.6 329.1h0M529.9 323.3h0M550.7 329.0h0M559.5 316.5h0M538.5 279.3h0M515.3 337.2h0M534.2 334.0h0M515.4 326.6h0M550.4 321.4h0M520.8 337.3h0M522.3 337.3h0M559.2 282.6h0M506.5 301.8h0M518.0 301.1h0M512.9 322.6h0M507.7 313.4h0M521.9 297.5h0M538.8 278.2h0M547.7 305.4h0M547.0 326.8h0M557.9 277.8h0M517.9 298.0h0M535.1 295.1h0M528.4 307.6h0M548.7 282.3h0M524.7 291.5h0M527.9 298.8h0M516.6 333.7h0M502.0 279.3h0M546.5 290.1h0M557.9 315.6h0M552.6 334.9h0M547.7 335.5h0M512.6 289.4h0M503.4 277.2h0M550.7 319.9h0M520.2 285.9h0M508.0 308.2h0M562.2 277.3h0M536.2 319.4h0M517.2 286.7h0M557.9 324.3h0M522.2 334.9h0M529.5 328.0h0M544.8 305.1h0M524.3 283.0h0M524.6 321.2h0M521.8 295.9h0M521.9 282.1h0M554.9 316.3h0M539.7 328.1h0M538.7 302.1h0M554.0 290.9h0M547.5 336.2h0M509.5 291.5h0M524.3 321.3h0M533.6 301.4h0M557.0 302.4h0M515.5 279.1h0M561.2 337.3h0M561.2 312.9h0M534.9 334.5h0M535.1 298.4h0M542.1 291.8h0M533.0 288.7h0M516.0 300.1h0M544.3 326.6h0M506.0 307.3h0M553.4 283.0h0M516.3 315.9h0M520.1 331.7h0M503.9 318.0h0M537.5 293.4h0M546.1 294.9h0M506.6 307.8h0M505.8 312.1h0M514.6 306.9h0M560.7 318.5h0M536.1 324.9h0M527.6 311.9h0M559.2 336.2h0M502.3 315.2h0M547.9 328.4h0M533.6 284.2h0M527.5 293.3h0M532.7 284.7h0M509.1 334.4h0M530.5 324.9h0M539.2 301.1h0M538.9 331.6h0M510.9 318.5h0M560.6 336.4h0M536.5 280.3h0M544.2 306.3h0M561.3 291.8h0M509.4 283.0h0M536.3 316.0h0M531.5 329.8h0M562.3 285.7h0M534.2 304.0h0M507.1 289.0h0M535.6 303.2h0M519.3 281.1h0M544.9 331.0h0M511.4 329.7h0M526.4 333.3h0M559.8 335.3h0M503.4 322.1h0M504.5 279.8h0M537.2 293.9h0M560.5 308.3h0M518.8 308.2h0M531.6 278.2h0M555.4 313.4h0M545.6 327.8h0M549.4 278.1h0M543.9 315.2h0M542.0 312.2h0M555.3 282.2h0M525.0 325.1h0M525.5 333.3h0M558.4 311.2h0M545.9 281.0h0M519.2 309.3h0M502.0 316.4h0M533.5 285.6h0M542.5 304.3h0M506.1 290.5h0M513.4 308.9h0M533.4 302.0h0M555.9 279.5h0M552.5 304.2h0M512.7 293.3h0M516.6 337.2h0M537.3 294.7h0M519.4 331.8h0M518.0 328.5h0M521.9 278.3h0M502.2 332.1h0M559.2 329.1h0M534.8 278.1h0M534.7 292.4h0M529.7 329.8h0M513.3 319.6h0M509.5 279.9h0M509.2 299.9h0M508.8 322.1h0M528.1 306.8h0M515.2 312.2h0M503.5 284.4h0M511.7 295.6h0M552.9 294.5h0M514.5 306.0h0M502.1 298.9h0M539.3 312.1h0M555.0 304.8h0M534.9 285.3h0M535.0 330.9h0M538.7 280.8h0M526.9 322.7h0M503.6 332.4h0M549.1 315.2h0M548.3 306.9h0M541.7 306.5h0M544.7 288.6h0M520.8 295.1h0M536.4 330.1h0M531.2 309.0h0M556.6 286.1h0M518.3 316.9h0M550.8 309.2h0M517.5 326.1h0M533.0 278.8h0M510.2 326.6h0M520.2 284.3h0M519.3 324.3h0M509.2 300.6h0M552.7 301.8h0M528.7 284.1h0M511.9 293.3h0M518.0 292.5h0M508.9 293.0h0M539.0 334.2h0M524.1 308.2h0M513.3 301.0h0M515.5 299.0h0M511.5 332.5h0M551.5 287.2h0M503.9 304.0h0M523.4 331.3h0M514.3 330.8h0M556.1 308.6h0M555.3 326.3h0M511.0 330.6h0M559.9 303.6h0M551.4 281.0h0M557.4 337.0h0M562.7 331.8h0M545.6 315.8h0M528.3 304.6h0M527.1 287.9h0M504.1 298.9h0M560.7 282.6h0M523.5 311.7h0M549.7 331.7h0M538.4 307.8h0M556.7 294.2h0M536.3 303.5h0M527.2 298.7h0M532.2 331.1h0M557.7 281.8h0M528.1 290.9h0M559.9 311.1h0M537.9 302.6h0M512.4 303.4h0M522.0 327.9h0M547.6 296.8h0M524.3 292.0h0M559.4 317.2h0M539.1 288.5h0M561.1 330.4h0M511.4 291.7h0M555.3 280.7h0M531.9 299.1h0M546.7 306.3h0M528.0 292.4h0M525.1 277.6h0M507.0 315.8h0" stroke="#cc2020" stroke-width="1.1" stroke-linecap="round" opacity="0.6"/>
<path d="M531.6 286.4h0M536.9 311.3h0M515.7 298.9h0M525.3 291.4h0M519.4 311.8h0M508.6 329.1h0M523.3 288.3h0M544.5 285.4h0M542.2 278.4h0M554.6 287.5h0M512.0 308.9h0M542.0 303.2h0M522.8 306.1h0M550.3 310.1h0M513.7 327.8h0M510.0 310.5h0M515.3 294.7h0M503.3 311.2h0M507.6 336.6h0M548.1 332.0h0M531.5 329.5h0M509.7 306.2h0M546.3 309.8h0M511.3 292.6h0M546.9 279.4h0M502.1 321.6h0M518.9 311.2h0M514.5 291.7h0M560.3 334.5h0M555.9 305.5h0M518.8 321.4h0M528.2 324.5h0M528.8 314.9h0M529.7 314.5h0M526.3 306.7h0M509.0 308.9h0M561.1 284.0h0M509.7 285.3h0M513.0 322.5h0M555.1 297.7h0" stroke="#240404" stroke-width="3.0" stroke-linecap="round" opacity="0.6"/>
<circle cx="504.9" cy="308.7" r="3" fill="#120202" stroke="none" stroke-width="1"/>
<circle cx="559.6" cy="295.5" r="2.2" fill="#120202" stroke="none" stroke-width="1"/>
<circle cx="510.3" cy="302.1" r="1.8" fill="#2ec4cc" stroke="none" stroke-width="1" opacity="0.75"/>
<circle cx="524.0" cy="313.8" r="1.6" fill="#2ec4cc" stroke="none" stroke-width="1" opacity="0.75"/>
<circle cx="530.0" cy="315.6" r="1.9" fill="#2ec4cc" stroke="none" stroke-width="1" opacity="0.75"/>
<circle cx="535.5" cy="309.2" r="1.6" fill="#2ec4cc" stroke="none" stroke-width="1" opacity="0.75"/>
<circle cx="514.7" cy="316.4" r="1.5" fill="#2ec4cc" stroke="none" stroke-width="1" opacity="0.75"/>
<circle cx="514.7" cy="320.7" r="1.5" fill="#2ec4cc" stroke="none" stroke-width="1" opacity="0.75"/>
<circle cx="532.8" cy="324.0" r="1.4" fill="#2ec4cc" stroke="none" stroke-width="1" opacity="0.75"/>
<circle cx="547.6" cy="315.8" r="1.8" fill="#2ec4cc" stroke="none" stroke-width="1" opacity="0.75"/>
<circle cx="553.0" cy="302.1" r="1.6" fill="#2ec4cc" stroke="none" stroke-width="1" opacity="0.75"/>
<circle cx="548.7" cy="298.8" r="1.4" fill="#2ec4cc" stroke="none" stroke-width="1" opacity="0.75"/>
<circle cx="547.6" cy="288.4" r="1.4" fill="#2ec4cc" stroke="none" stroke-width="1" opacity="0.75"/>
<circle cx="561.3" cy="304.9" r="1.4" fill="#2ec4cc" stroke="none" stroke-width="1" opacity="0.75"/>
<circle cx="511.4" cy="331.1" r="1.6" fill="#2ec4cc" stroke="none" stroke-width="1" opacity="0.75"/>
<circle cx="560.2" cy="325.7" r="1.4" fill="#2ec4cc" stroke="none" stroke-width="1" opacity="0.75"/>
<circle cx="520.7" cy="290.0" r="1.3" fill="#2ec4cc" stroke="none" stroke-width="1" opacity="0.75"/>
</g>
<text x="503.8" y="286.0" font-size="8" fill="#2aa8e0" text-anchor="start" textLength="20.2" lengthAdjust="spacingAndGlyphs">c-Fos</text>
<text x="503.8" y="295.5" font-size="8" fill="#c82020" text-anchor="start" textLength="27.3" lengthAdjust="spacingAndGlyphs">CaMKII</text>
<line x1="552.0" y1="336.0" x2="560.7" y2="336.0" stroke="#fff" stroke-width="1.4"/>
<text x="505.0" y="350.5" font-size="7.9" fill="#000" text-anchor="start" textLength="57" lengthAdjust="spacingAndGlyphs">c-Fos⁺ (%, sGS)</text>
<line x1="502.4" y1="354.6" x2="566.0" y2="354.6" stroke="#000" stroke-width="1.1"/>
<line x1="566.0" y1="354.6" x2="566.0" y2="352.5" stroke="#000" stroke-width="1"/>
<text x="566.0" y="362.0" font-size="7.2" font-weight="bold" fill="#000" text-anchor="middle">100</text>
<line x1="502.4" y1="354.6" x2="502.4" y2="379.6" stroke="#000" stroke-width="1.1"/>
<line x1="500.5" y1="367.3" x2="502.4" y2="367.3" stroke="#000" stroke-width="1"/>
<rect x="502.4" y="363.5" width="54.3" height="7.7" fill="#fff" stroke="#ee3838" stroke-width="1.1"/>
<text x="507.0" y="371.0" font-size="9" fill="#000" text-anchor="start">4</text>
<circle cx="545.5" cy="367.3" r="1.45" fill="#fff" stroke="#ee3838" stroke-width="1"/>
<circle cx="549.0" cy="367.3" r="1.45" fill="#fff" stroke="#ee3838" stroke-width="1"/>
<circle cx="553.5" cy="366.5" r="1.45" fill="#fff" stroke="#ee3838" stroke-width="1"/>
<circle cx="557.0" cy="368.3" r="1.45" fill="#fff" stroke="#ee3838" stroke-width="1"/>
<circle cx="555.5" cy="365.5" r="1.45" fill="#fff" stroke="#ee3838" stroke-width="1"/>
<line x1="556.7" y1="363.5" x2="556.7" y2="371.2" stroke="#ee3838" stroke-width="1"/>
<text x="493.0" y="365.2" font-size="7.8" font-weight="bold" fill="#000" text-anchor="middle" transform="rotate(90 493.0 365.2)" textLength="27.2" lengthAdjust="spacingAndGlyphs">CamkII⁺</text>
<text x="581.2" y="264.8" font-size="20" fill="#000" text-anchor="start">g</text>
<line x1="614.2" y1="277.0" x2="614.2" y2="383.3" stroke="#000" stroke-width="1.1"/>
<line x1="614.2" y1="382.8" x2="685.0" y2="382.8" stroke="#000" stroke-width="1.1"/>
<line x1="611.5" y1="382.8" x2="614.2" y2="382.8" stroke="#000" stroke-width="1"/>
<text x="611.0" y="385.7" font-size="8" font-weight="bold" fill="#000" text-anchor="end">0</text>
<line x1="611.5" y1="356.5" x2="614.2" y2="356.5" stroke="#000" stroke-width="1"/>
<text x="611.0" y="359.4" font-size="8" font-weight="bold" fill="#000" text-anchor="end">20</text>
<line x1="611.5" y1="330.2" x2="614.2" y2="330.2" stroke="#000" stroke-width="1"/>
<text x="611.0" y="333.1" font-size="8" font-weight="bold" fill="#000" text-anchor="end">40</text>
<line x1="611.5" y1="303.8" x2="614.2" y2="303.8" stroke="#000" stroke-width="1"/>
<text x="611.0" y="306.7" font-size="8" font-weight="bold" fill="#000" text-anchor="end">60</text>
<line x1="611.5" y1="277.5" x2="614.2" y2="277.5" stroke="#000" stroke-width="1"/>
<text x="611.0" y="280.4" font-size="8" font-weight="bold" fill="#000" text-anchor="end">80</text>
<text x="598.5" y="328.5" font-size="8.3" font-weight="bold" fill="#000" text-anchor="middle" transform="rotate(-90 598.5 328.5)" textLength="91.5" lengthAdjust="spacingAndGlyphs">c-Fos⁺ cell count (sGS)</text>
<rect x="624.2" y="335.4" width="8.8" height="47.4" fill="#fff" stroke="#b4b4b4" stroke-width="1.3"/>
<line x1="628.6" y1="330.2" x2="628.6" y2="335.4" stroke="#b4b4b4" stroke-width="1.2"/>
<line x1="626.6" y1="330.2" x2="630.6" y2="330.2" stroke="#b4b4b4" stroke-width="1.2"/>
<circle cx="628.6" cy="319.6" r="1.6" fill="#fff" stroke="#b4b4b4" stroke-width="1.1"/>
<circle cx="628.1" cy="331.5" r="1.6" fill="#fff" stroke="#b4b4b4" stroke-width="1.1"/>
<circle cx="629.6" cy="333.4" r="1.6" fill="#fff" stroke="#b4b4b4" stroke-width="1.1"/>
<circle cx="631.1" cy="335.4" r="1.6" fill="#fff" stroke="#b4b4b4" stroke-width="1.1"/>
<circle cx="628.6" cy="351.2" r="1.6" fill="#fff" stroke="#b4b4b4" stroke-width="1.1"/>
<rect x="634.2" y="346.3" width="8.8" height="36.5" fill="#fff" stroke="#b4b4b4" stroke-width="1.3"/>
<line x1="638.6" y1="342.4" x2="638.6" y2="346.3" stroke="#b4b4b4" stroke-width="1.2"/>
<line x1="636.6" y1="342.4" x2="640.6" y2="342.4" stroke="#b4b4b4" stroke-width="1.2"/>
<circle cx="638.6" cy="328.8" r="1.6" fill="#fff" stroke="#b4b4b4" stroke-width="1.1"/>
<circle cx="637.1" cy="343.3" r="1.6" fill="#fff" stroke="#b4b4b4" stroke-width="1.1"/>
<circle cx="638.1" cy="348.6" r="1.6" fill="#fff" stroke="#b4b4b4" stroke-width="1.1"/>
<circle cx="640.1" cy="349.9" r="1.6" fill="#fff" stroke="#b4b4b4" stroke-width="1.1"/>
<circle cx="638.6" cy="357.8" r="1.6" fill="#fff" stroke="#b4b4b4" stroke-width="1.1"/>
<rect x="654.1" y="326.2" width="8.8" height="56.6" fill="#fff" stroke="#b4b4b4" stroke-width="1.3"/>
<line x1="658.5" y1="318.3" x2="658.5" y2="326.2" stroke="#b4b4b4" stroke-width="1.2"/>
<line x1="656.5" y1="318.3" x2="660.5" y2="318.3" stroke="#b4b4b4" stroke-width="1.2"/>
<circle cx="658.5" cy="305.2" r="1.6" fill="#fff" stroke="#b4b4b4" stroke-width="1.1"/>
<circle cx="658.5" cy="315.7" r="1.6" fill="#fff" stroke="#b4b4b4" stroke-width="1.1"/>
<circle cx="658.5" cy="323.6" r="1.6" fill="#fff" stroke="#b4b4b4" stroke-width="1.1"/>
<circle cx="658.5" cy="340.7" r="1.6" fill="#fff" stroke="#b4b4b4" stroke-width="1.1"/>
<circle cx="658.5" cy="347.3" r="1.6" fill="#fff" stroke="#b4b4b4" stroke-width="1.1"/>
<rect x="663.9" y="352.3" width="8.8" height="30.5" fill="#fff" stroke="#b4b4b4" stroke-width="1.3"/>
<line x1="668.3" y1="347.0" x2="668.3" y2="352.3" stroke="#b4b4b4" stroke-width="1.2"/>
<line x1="666.3" y1="347.0" x2="670.3" y2="347.0" stroke="#b4b4b4" stroke-width="1.2"/>
<circle cx="668.3" cy="328.8" r="1.6" fill="#fff" stroke="#b4b4b4" stroke-width="1.1"/>
<circle cx="668.3" cy="346.0" r="1.6" fill="#fff" stroke="#b4b4b4" stroke-width="1.1"/>
<circle cx="666.3" cy="360.4" r="1.6" fill="#fff" stroke="#b4b4b4" stroke-width="1.1"/>
<circle cx="668.3" cy="361.7" r="1.6" fill="#fff" stroke="#b4b4b4" stroke-width="1.1"/>
<circle cx="669.8" cy="364.4" r="1.6" fill="#fff" stroke="#b4b4b4" stroke-width="1.1"/>
<text x="617.5" y="281.5" font-size="10" font-weight="bold" fill="#000" text-anchor="start">n=5</text>
<line x1="660.0" y1="280.8" x2="670.0" y2="280.8" stroke="#000" stroke-width="1.1"/>
<text x="665.0" y="280.8" font-size="9.5" font-weight="bold" fill="#000" text-anchor="middle">*</text>
<text x="631.0" y="387.5" font-size="7.8" font-weight="bold" fill="#000" text-anchor="end" transform="rotate(-45 631.0 387.5)">Dis.</text>
<text x="641.0" y="387.5" font-size="7.8" font-weight="bold" fill="#000" text-anchor="end" transform="rotate(-45 641.0 387.5)">Pro.</text>
<text x="661.0" y="387.5" font-size="7.8" font-weight="bold" fill="#000" text-anchor="end" transform="rotate(-45 661.0 387.5)">Dee.</text>
<text x="671.0" y="387.5" font-size="7.8" font-weight="bold" fill="#000" text-anchor="end" transform="rotate(-45 671.0 387.5)">Sup.</text>
<text x="-0.1" y="395.0" font-size="20" fill="#000" text-anchor="start">h</text>
<text x="10" y="403" font-size="9.8" font-weight="bold" textLength="91.8" lengthAdjust="spacingAndGlyphs"><tspan fill="#1010d4">473</tspan><tspan fill="#000"> or </tspan><tspan fill="#fa8c1e">589</tspan><tspan fill="#000"> nm Light</tspan></text>
<g transform="translate(-12.8,349) scale(1.025)">
<path d="M49.5,77 C49,72 53,70 58,69 C72,66 90,62 108,61.2 C118,60.8 128,61.5 134.3,65.1 C136.5,66.5 137.5,70 137.8,72 C138.5,70 139.5,68.5 140.6,67.8 C143,66.8 148,66.5 152.2,67.8 C156,69.5 158,72 159.2,74.4 C162,79 164,82 164.7,84.5 C166,89 167,92 167.2,94 L167.4,100 C166.5,101 166,102 167,105 C167.5,109 168,113 167.8,115 C167,118 166,119.5 163.9,120.3 C160,122 156,122.3 152.2,122.3 C146,122.3 141,121.8 136.7,121.1 C133,120.5 130,120 128.9,118.8 C127.5,117.5 127,115.5 126.6,114.1 C126,113 125.5,113 125,113 C122,112.5 120,115 117.7,115.4 C112,116 106,114.5 101.3,113.4 C97,112.5 94,111 91.1,110.3 C85,109 80,108.5 74.7,107.2 C70,106 67,104.5 64.5,103.1 C60,101 58,99 56.4,97 C54,94 52,91.5 51.2,88.8 C50,85 49.3,81 49.5,77 Z" fill="#fff" stroke="#000" stroke-width="1.2"/>
<path d="M81.6,97.7 C82,92 86,87 92,83 C99,78 108,72 118,67.5" fill="none" stroke="#000" stroke-width="1"/>
<path d="M83.6,98.2 C84.5,93 88,88.5 94,85 C100,81 108,76 116,72" fill="none" stroke="#000" stroke-width="1"/>
<path d="M89,101 C87,97 86.5,92 88.5,88 C91,84 96,80.5 102,77.5 C108,74.5 113,72 117.5,70 C115,73.5 110,76.5 107.5,79.5 C106,82 105.8,85 105.5,88 C105.2,90.5 104.5,92.5 103.5,93.5 C102.8,92 102.5,90.5 102,91 C101.5,93 101,96 100,97.5 C99.3,98 98.8,97 98.5,95.5 C98.2,94.5 97.5,95 97,97 C96.5,99.5 95,101.2 93,101.3 C91.5,101.4 90,101.5 89,101 Z" fill="#000" stroke="#000" stroke-width="0.6"/>
<path d="M108,80 C107,76 112,72.5 118,72 C123,71.5 126,73 125.5,76.5 C125,80 121,82.5 116,83 C112,83.5 109,82.5 108,80 Z" fill="#fff" stroke="#000" stroke-width="1.2"/>
<path d="M110.8,78 C111.5,74.8 116,73.8 119,75 C120.8,76.5 118.5,78.6 115.2,78.4 C118.8,78.5 122.5,79.5 121.2,81.8 C119,83 114,82.6 111.5,81.5" fill="none" stroke="#000" stroke-width="1.5"/>
<path d="M106.5,82.5 C110,85.5 118,85.5 123,82" fill="none" stroke="#000" stroke-width="1"/>
<path d="M143.7,69 C142.5,74 142,79 140,84 C139.5,88 141,91 143,92.4 C145,93 146.5,90.5 147.4,89.8 C149.5,89.5 151.5,89.8 152.7,90.4 C151,92 150,94.5 150,96.3 C151.5,98.5 154,100.5 155.9,100.5 C158,101.5 160,102.7 162,102.2 C164,101.8 166,101 167.2,100" fill="none" stroke="#000" stroke-width="1.15"/>
<path d="M146.2,70.5 C146.8,76 147.8,82 148.6,88 M149.6,69.5 C151,75 152,81 152.6,86.5 C152.8,88 152,89.5 150.5,89.6 M153.2,70 C155,75 157,80 158,85 C158.5,88 158,90 156.8,91.2 M156.2,72.2 C159,77 161,82 162.2,87 M153.6,92.6 C156,92 159,93.5 162,96.2 M155.2,88.2 C157.5,88 160,89 162.6,91.2 M158.2,82 C160,83 162,84 164.2,86.2 M141.2,83 C142.5,82 144,83 144.2,85.2 M155,96 C157,97 159,98 161,99.5" fill="none" stroke="#000" stroke-width="1.1"/>
<path d="M146.4,71.5 L149.2,87.5 L147.3,87.8 Z" fill="#000" stroke="#000" stroke-width="0.5"/>
<path d="M158.6,92.6 L163,95.6 L161.8,96.8 Z" fill="#000" stroke="#000" stroke-width="0.5"/>
</g>
<line x1="105.6" y1="384.4" x2="105.6" y2="421.0" stroke="#000" stroke-width="0.9"/>
<line x1="109.2" y1="384.4" x2="109.2" y2="421.0" stroke="#000" stroke-width="0.9"/>
<ellipse cx="107.8" cy="422.5" rx="4" ry="2.6" fill="#45a8dc"/>
<line x1="147.3" y1="385.0" x2="121.0" y2="410.5" stroke="#222" stroke-width="4.2"/>
<line x1="147.3" y1="385.0" x2="121.0" y2="410.5" stroke="#7bc043" stroke-width="2.6"/>
<line x1="149.6" y1="382.6" x2="147.3" y2="385.0" stroke="#000" stroke-width="1"/>
<line x1="147.5" y1="381.0" x2="151.5" y2="384.6" stroke="#000" stroke-width="1.2"/>
<line x1="121.0" y1="410.5" x2="112.0" y2="420.0" stroke="#000" stroke-width="1"/>
<text x="109.0" y="441.5" font-size="8.3" font-weight="bold" fill="#45b445" text-anchor="start" textLength="17.6" lengthAdjust="spacingAndGlyphs">SUB</text>
<text x="146.4" y="395.2" font-size="8.3" font-weight="bold" fill="#45b445" text-anchor="start" textLength="76.9" lengthAdjust="spacingAndGlyphs">AAV-CaMKIIα-eGFP</text>
<text x="146.4" y="405.6" font-size="8.3" font-weight="bold" fill="#45b445" text-anchor="start" textLength="101.6" lengthAdjust="spacingAndGlyphs">AAV-CaMKIIα-ChR2-eYFP</text>
<text x="146.4" y="416.0" font-size="8.3" font-weight="bold" fill="#45b445" text-anchor="start" textLength="104.2" lengthAdjust="spacingAndGlyphs">AAV-CaMKIIα-ArchT-eGFP</text>
<text x="57.6" y="488.5" font-size="12.4" font-weight="bold" fill="#000" text-anchor="start" textLength="87.6" lengthAdjust="spacingAndGlyphs">Wild-type mice</text>
<line x1="176.0" y1="447.2" x2="640.0" y2="447.2" stroke="#000" stroke-width="1.1"/>
<polygon points="644.0,447.2 636.5,444.8 636.5,449.6" fill="#000"/>
<line x1="206.3" y1="442.2" x2="206.3" y2="451.2" stroke="#000" stroke-width="1"/>
<line x1="350.5" y1="442.2" x2="350.5" y2="451.2" stroke="#000" stroke-width="1"/>
<line x1="580.0" y1="442.2" x2="580.0" y2="451.2" stroke="#000" stroke-width="1"/>
<text x="214.3" y="442.0" font-size="11.1" fill="#000" text-anchor="start" textLength="124" lengthAdjust="spacingAndGlyphs">Viral expression+Surgery</text>
<text x="338.4" y="461.2" font-size="10.9" fill="#000" text-anchor="start" textLength="24.6" lengthAdjust="spacingAndGlyphs">Base</text>
<text x="358.0" y="428.2" font-size="11.2" fill="#000" text-anchor="start" textLength="109" lengthAdjust="spacingAndGlyphs">2s kindling - 30s Light</text>
<text x="500.7" y="429.0" font-size="8" fill="#000" text-anchor="start" textLength="39.3" lengthAdjust="spacingAndGlyphs">...... ......</text>
<text x="468.6" y="444.0" font-size="11.2" fill="#000" text-anchor="start" textLength="103" lengthAdjust="spacingAndGlyphs">10 Stimulations daily</text>
<text x="550.0" y="461.2" font-size="11.2" fill="#000" text-anchor="start" textLength="62" lengthAdjust="spacingAndGlyphs">Fully kindled</text>
<line x1="373.0" y1="436.7" x2="373.0" y2="447.2" stroke="#000" stroke-width="1"/>
<polygon points="378.5,437.2 375.1,442.6 377.4,442.1 375.8,446.6 380.7,440.4 378.3,440.8 380.5,437.2" fill="#000"/>
<rect x="382.6" y="432.8" width="10.0" height="13.2" fill="#c8b39a" stroke="none" stroke-width="1"/>
<line x1="405.1" y1="436.7" x2="405.1" y2="447.2" stroke="#000" stroke-width="1"/>
<polygon points="410.6,437.2 407.2,442.6 409.5,442.1 407.9,446.6 412.8,440.4 410.4,440.8 412.6,437.2" fill="#000"/>
<rect x="414.0" y="432.8" width="10.0" height="13.2" fill="#c8b39a" stroke="none" stroke-width="1"/>
<line x1="436.6" y1="436.7" x2="436.6" y2="447.2" stroke="#000" stroke-width="1"/>
<polygon points="442.1,437.2 438.7,442.6 441.0,442.1 439.4,446.6 444.3,440.4 441.9,440.8 444.1,437.2" fill="#000"/>
<rect x="445.0" y="432.8" width="10.0" height="13.2" fill="#c8b39a" stroke="none" stroke-width="1"/>
<text x="-0.1" y="502.6" font-size="20" fill="#000" text-anchor="start">i</text>
<line x1="19.7" y1="502.8" x2="28.2" y2="502.8" stroke="#111" stroke-width="1.3"/>
<circle cx="23.9" cy="502.8" r="2.1" fill="#111" stroke="none" stroke-width="1"/>
<line x1="163.1" y1="502.8" x2="172.0" y2="502.8" stroke="#fa8c1e" stroke-width="1.3"/>
<circle cx="167.6" cy="502.8" r="2.1" fill="#fa8c1e" stroke="none" stroke-width="1"/>
<line x1="300.5" y1="502.8" x2="309.1" y2="502.8" stroke="#1010d4" stroke-width="1.3"/>
<circle cx="304.8" cy="502.8" r="2.1" fill="#1010d4" stroke="none" stroke-width="1"/>
<text x="31.3" y="506.1" font-size="8.4" font-weight="bold" textLength="128.7" lengthAdjust="spacingAndGlyphs">CaMKIIα-eGFP<tspan font-size="5.2" dy="-3">SUB</tspan><tspan dy="3">-Light (n=10)</tspan></text>
<text x="175.7" y="506.1" font-size="8.4" font-weight="bold" textLength="120.6" lengthAdjust="spacingAndGlyphs">CaMKIIα-Arch<tspan font-size="5.2" dy="-3">SUB</tspan><tspan dy="3">-Light (n=8)</tspan></text>
<text x="313.3" y="506.1" font-size="8.4" font-weight="bold" textLength="128.7" lengthAdjust="spacingAndGlyphs">CaMKIIα-ChR2<tspan font-size="5.2" dy="-3">SUB</tspan><tspan dy="3">-Light (n=13)</tspan></text>
<line x1="40.8" y1="512.5" x2="40.8" y2="627.7" stroke="#000" stroke-width="1.1"/>
<line x1="40.8" y1="627.2" x2="204.8" y2="627.2" stroke="#000" stroke-width="1.1"/>
<line x1="38.8" y1="627.2" x2="40.8" y2="627.2" stroke="#000" stroke-width="1"/>
<text x="37.0" y="630.1" font-size="8" font-weight="bold" fill="#000" text-anchor="end">0</text>
<line x1="38.8" y1="604.4" x2="40.8" y2="604.4" stroke="#000" stroke-width="1"/>
<text x="37.0" y="607.3" font-size="8" font-weight="bold" fill="#000" text-anchor="end">1</text>
<line x1="38.8" y1="581.6" x2="40.8" y2="581.6" stroke="#000" stroke-width="1"/>
<text x="37.0" y="584.5" font-size="8" font-weight="bold" fill="#000" text-anchor="end">2</text>
<line x1="38.8" y1="558.8" x2="40.8" y2="558.8" stroke="#000" stroke-width="1"/>
<text x="37.0" y="561.7" font-size="8" font-weight="bold" fill="#000" text-anchor="end">3</text>
<line x1="38.8" y1="536.0" x2="40.8" y2="536.0" stroke="#000" stroke-width="1"/>
<text x="37.0" y="538.9" font-size="8" font-weight="bold" fill="#000" text-anchor="end">4</text>
<line x1="38.8" y1="513.2" x2="40.8" y2="513.2" stroke="#000" stroke-width="1"/>
<text x="37.0" y="516.1" font-size="8" font-weight="bold" fill="#000" text-anchor="end">5</text>
<line x1="40.2" y1="627.2" x2="40.2" y2="629.5" stroke="#000" stroke-width="1"/>
<text x="40.2" y="638.8" font-size="8" font-weight="bold" fill="#000" text-anchor="middle">0</text>
<line x1="95.0" y1="627.2" x2="95.0" y2="629.5" stroke="#000" stroke-width="1"/>
<text x="95.0" y="638.8" font-size="8" font-weight="bold" fill="#000" text-anchor="middle">10</text>
<line x1="149.7" y1="627.2" x2="149.7" y2="629.5" stroke="#000" stroke-width="1"/>
<text x="149.7" y="638.8" font-size="8" font-weight="bold" fill="#000" text-anchor="middle">20</text>
<line x1="204.5" y1="627.2" x2="204.5" y2="629.5" stroke="#000" stroke-width="1"/>
<text x="204.5" y="638.8" font-size="8" font-weight="bold" fill="#000" text-anchor="middle">30</text>
<text x="83.6" y="646.0" font-size="8.3" font-weight="bold" fill="#000" text-anchor="start" textLength="88.2" lengthAdjust="spacingAndGlyphs">Number of stimulation</text>
<text x="29.3" y="568.0" font-size="8.3" font-weight="bold" fill="#000" text-anchor="middle" transform="rotate(-90 29.3 568.0)" textLength="54.2" lengthAdjust="spacingAndGlyphs">Seizure Stage</text>
<path d="M45.7 626.1V623.8M44.0 623.8h3.4M44.0 626.1h3.4M51.2 626.1V623.8M49.5 623.8h3.4M49.5 626.1h3.4M56.6 626.1V623.8M54.9 623.8h3.4M54.9 626.1h3.4M62.1 616.9V610.1M60.4 610.1h3.4M60.4 616.9h3.4M67.6 615.8V606.7M65.9 606.7h3.4M65.9 615.8h3.4M73.1 618.1V609.0M71.4 609.0h3.4M71.4 618.1h3.4M78.5 612.4V603.3M76.8 603.3h3.4M76.8 612.4h3.4M84.0 611.2V604.4M82.3 604.4h3.4M82.3 611.2h3.4M89.5 607.1V600.3M87.8 600.3h3.4M87.8 607.1h3.4M95.0 601.0V594.1M93.3 594.1h3.4M93.3 601.0h3.4M100.4 607.8V591.9M98.7 591.9h3.4M98.7 607.8h3.4M105.9 597.1V578.9M104.2 578.9h3.4M104.2 597.1h3.4M111.4 596.4V578.2M109.7 578.2h3.4M109.7 596.4h3.4M116.9 579.8V566.1M115.2 566.1h3.4M115.2 579.8h3.4M122.4 581.6V565.6M120.7 565.6h3.4M120.7 581.6h3.4M127.8 586.2V572.5M126.1 572.5h3.4M126.1 586.2h3.4M133.3 580.5V566.8M131.6 566.8h3.4M131.6 580.5h3.4M138.8 574.8V561.1M137.1 561.1h3.4M137.1 574.8h3.4M144.3 578.2V564.5M142.6 564.5h3.4M142.6 578.2h3.4M149.7 565.6V552.0M148.0 552.0h3.4M148.0 565.6h3.4M155.2 602.1V579.3M153.5 579.3h3.4M153.5 602.1h3.4M160.7 588.4V570.2M159.0 570.2h3.4M159.0 588.4h3.4M166.2 579.3V561.1M164.5 561.1h3.4M164.5 579.3h3.4M171.6 586.2V565.6M169.9 565.6h3.4M169.9 586.2h3.4M177.1 578.2V557.7M175.4 557.7h3.4M175.4 578.2h3.4M182.6 563.4V549.7M180.9 549.7h3.4M180.9 563.4h3.4M188.1 566.8V550.8M186.4 550.8h3.4M186.4 566.8h3.4M193.6 564.5V548.5M191.9 548.5h3.4M191.9 564.5h3.4M199.0 561.1V545.1M197.3 545.1h3.4M197.3 561.1h3.4M204.5 554.2V540.6M202.8 540.6h3.4M202.8 554.2h3.4" fill="none" stroke="#fa8c1e" stroke-width="1.2"/>
<polyline points="45.7,624.9 51.2,624.9 56.6,624.9 62.1,613.5 67.6,611.2 73.1,613.5 78.5,607.8 84.0,607.8 89.5,603.7 95.0,597.6 100.4,599.8 105.9,588.0 111.4,587.3 116.9,572.9 122.4,573.6 127.8,579.3 133.3,573.6 138.8,567.9 144.3,571.3 149.7,558.8 155.2,590.7 160.7,579.3 166.2,570.2 171.6,575.9 177.1,567.9 182.6,556.5 188.1,558.8 193.6,556.5 199.0,553.1 204.5,547.4" fill="none" stroke="#fa8c1e" stroke-width="1.6"/>
<path d="M45.7 624.9h0M51.2 624.9h0M56.6 624.9h0M62.1 613.5h0M67.6 611.2h0M73.1 613.5h0M78.5 607.8h0M84.0 607.8h0M89.5 603.7h0M95.0 597.6h0M100.4 599.8h0M105.9 588.0h0M111.4 587.3h0M116.9 572.9h0M122.4 573.6h0M127.8 579.3h0M133.3 573.6h0M138.8 567.9h0M144.3 571.3h0M149.7 558.8h0M155.2 590.7h0M160.7 579.3h0M166.2 570.2h0M171.6 575.9h0M177.1 567.9h0M182.6 556.5h0M188.1 558.8h0M193.6 556.5h0M199.0 553.1h0M204.5 547.4h0" stroke="#fa8c1e" stroke-width="4.6" stroke-linecap="round"/>
<path d="M45.7 624.9V620.9M44.0 620.9h3.4M51.2 618.1V614.1M49.5 614.1h3.4M56.6 611.2V607.2M54.9 607.2h3.4M62.1 610.1V606.1M60.4 606.1h3.4M67.6 607.8V603.8M65.9 603.8h3.4M73.1 599.8V595.8M71.4 595.8h3.4M78.5 595.3V591.3M76.8 591.3h3.4M84.0 590.7V586.7M82.3 586.7h3.4M89.5 584.3V580.3M87.8 580.3h3.4M95.0 577.0V573.0M93.3 573.0h3.4M100.4 593.0V589.0M98.7 589.0h3.4M105.9 577.0V573.0M104.2 573.0h3.4M111.4 574.8V570.8M109.7 570.8h3.4M116.9 567.9V563.9M115.2 563.9h3.4M122.4 563.4V559.4M120.7 559.4h3.4M127.8 558.8V554.8M126.1 554.8h3.4M133.3 558.8V554.8M131.6 554.8h3.4M138.8 549.7V545.7M137.1 545.7h3.4M144.3 555.4V551.4M142.6 551.4h3.4M149.7 549.7V545.7M148.0 545.7h3.4M155.2 561.1V557.1M153.5 557.1h3.4M160.7 554.2V550.2M159.0 550.2h3.4M166.2 552.0V548.0M164.5 548.0h3.4M171.6 547.4V543.4M169.9 543.4h3.4M177.1 544.0V540.0M175.4 540.0h3.4M182.6 542.8V538.8M180.9 538.8h3.4M188.1 547.4V543.4M186.4 543.4h3.4M193.6 533.7V529.7M191.9 529.7h3.4M199.0 538.3V534.3M197.3 534.3h3.4M204.5 533.7V529.7M202.8 529.7h3.4" fill="none" stroke="#111" stroke-width="1.2"/>
<polyline points="45.7,624.9 51.2,618.1 56.6,611.2 62.1,610.1 67.6,607.8 73.1,599.8 78.5,595.3 84.0,590.7 89.5,584.3 95.0,577.0 100.4,593.0 105.9,577.0 111.4,574.8 116.9,567.9 122.4,563.4 127.8,558.8 133.3,558.8 138.8,549.7 144.3,555.4 149.7,549.7 155.2,561.1 160.7,554.2 166.2,552.0 171.6,547.4 177.1,544.0 182.6,542.8 188.1,547.4 193.6,533.7 199.0,538.3 204.5,533.7" fill="none" stroke="#111" stroke-width="1.6"/>
<path d="M45.7 624.9h0M51.2 618.1h0M56.6 611.2h0M62.1 610.1h0M67.6 607.8h0M73.1 599.8h0M78.5 595.3h0M84.0 590.7h0M89.5 584.3h0M95.0 577.0h0M100.4 593.0h0M105.9 577.0h0M111.4 574.8h0M116.9 567.9h0M122.4 563.4h0M127.8 558.8h0M133.3 558.8h0M138.8 549.7h0M144.3 555.4h0M149.7 549.7h0M155.2 561.1h0M160.7 554.2h0M166.2 552.0h0M171.6 547.4h0M177.1 544.0h0M182.6 542.8h0M188.1 547.4h0M193.6 533.7h0M199.0 538.3h0M204.5 533.7h0" stroke="#111" stroke-width="4.6" stroke-linecap="round"/>
<path d="M45.7 613.5V609.0M44.0 609.0h3.4M51.2 609.0V604.5M49.5 604.5h3.4M56.6 605.5V601.0M54.9 601.0h3.4M62.1 599.8V595.3M60.4 595.3h3.4M67.6 591.9V587.4M65.9 587.4h3.4M73.1 582.7V578.2M71.4 578.2h3.4M78.5 577.0V572.5M76.8 572.5h3.4M84.0 572.5V568.0M82.3 568.0h3.4M89.5 565.6V561.1M87.8 561.1h3.4M95.0 564.5V560.0M93.3 560.0h3.4M100.4 578.2V573.7M98.7 573.7h3.4M105.9 562.2V557.7M104.2 557.7h3.4M111.4 557.2V552.7M109.7 552.7h3.4M116.9 555.4V550.9M115.2 550.9h3.4M122.4 555.4V550.9M120.7 550.9h3.4M127.8 546.3V541.8M126.1 541.8h3.4M133.3 540.6V536.1M131.6 536.1h3.4M138.8 544.0V539.5M137.1 539.5h3.4M144.3 541.7V537.2M142.6 537.2h3.4M149.7 534.9V530.4M148.0 530.4h3.4M155.2 555.4V550.9M153.5 550.9h3.4M160.7 547.4V542.9M159.0 542.9h3.4M166.2 541.7V537.2M164.5 537.2h3.4M171.6 534.9V530.4M169.9 530.4h3.4M177.1 529.2V524.7M175.4 524.7h3.4M182.6 529.2V524.7M180.9 524.7h3.4M188.1 525.7V521.2M186.4 521.2h3.4M193.6 526.9V522.4M191.9 522.4h3.4M199.0 522.3V517.8M197.3 517.8h3.4M204.5 528.0V523.5M202.8 523.5h3.4" fill="none" stroke="#1010d4" stroke-width="1.2"/>
<polyline points="45.7,613.5 51.2,609.0 56.6,605.5 62.1,599.8 67.6,591.9 73.1,582.7 78.5,577.0 84.0,572.5 89.5,565.6 95.0,564.5 100.4,578.2 105.9,562.2 111.4,557.2 116.9,555.4 122.4,555.4 127.8,546.3 133.3,540.6 138.8,544.0 144.3,541.7 149.7,534.9 155.2,555.4 160.7,547.4 166.2,541.7 171.6,534.9 177.1,529.2 182.6,529.2 188.1,525.7 193.6,526.9 199.0,522.3 204.5,528.0" fill="none" stroke="#1010d4" stroke-width="1.6"/>
<path d="M45.7 613.5h0M51.2 609.0h0M56.6 605.5h0M62.1 599.8h0M67.6 591.9h0M73.1 582.7h0M78.5 577.0h0M84.0 572.5h0M89.5 565.6h0M95.0 564.5h0M100.4 578.2h0M105.9 562.2h0M111.4 557.2h0M116.9 555.4h0M122.4 555.4h0M127.8 546.3h0M133.3 540.6h0M138.8 544.0h0M144.3 541.7h0M149.7 534.9h0M155.2 555.4h0M160.7 547.4h0M166.2 541.7h0M171.6 534.9h0M177.1 529.2h0M182.6 529.2h0M188.1 525.7h0M193.6 526.9h0M199.0 522.3h0M204.5 528.0h0" stroke="#1010d4" stroke-width="4.6" stroke-linecap="round"/>
<text x="210.8" y="533.1" font-size="11.5" font-weight="bold" fill="#000" text-anchor="middle">*</text>
<text x="210.8" y="555.0" font-size="11.5" font-weight="bold" fill="#000" text-anchor="middle">*</text>
<line x1="247.2" y1="515.0" x2="247.2" y2="628.5" stroke="#000" stroke-width="1.1"/>
<line x1="247.2" y1="628.0" x2="407.2" y2="628.0" stroke="#000" stroke-width="1.1"/>
<line x1="245.2" y1="628.0" x2="247.2" y2="628.0" stroke="#000" stroke-width="1"/>
<text x="243.5" y="630.9" font-size="8" font-weight="bold" fill="#000" text-anchor="end">0</text>
<line x1="245.2" y1="605.5" x2="247.2" y2="605.5" stroke="#000" stroke-width="1"/>
<text x="243.5" y="608.4" font-size="8" font-weight="bold" fill="#000" text-anchor="end">10</text>
<line x1="245.2" y1="583.0" x2="247.2" y2="583.0" stroke="#000" stroke-width="1"/>
<text x="243.5" y="585.9" font-size="8" font-weight="bold" fill="#000" text-anchor="end">20</text>
<line x1="245.2" y1="560.5" x2="247.2" y2="560.5" stroke="#000" stroke-width="1"/>
<text x="243.5" y="563.4" font-size="8" font-weight="bold" fill="#000" text-anchor="end">30</text>
<line x1="245.2" y1="538.0" x2="247.2" y2="538.0" stroke="#000" stroke-width="1"/>
<text x="243.5" y="540.9" font-size="8" font-weight="bold" fill="#000" text-anchor="end">40</text>
<line x1="245.2" y1="515.5" x2="247.2" y2="515.5" stroke="#000" stroke-width="1"/>
<text x="243.5" y="518.4" font-size="8" font-weight="bold" fill="#000" text-anchor="end">50</text>
<line x1="247.2" y1="628.0" x2="247.2" y2="630.3" stroke="#000" stroke-width="1"/>
<text x="247.2" y="638.8" font-size="8" font-weight="bold" fill="#000" text-anchor="middle">0</text>
<line x1="300.4" y1="628.0" x2="300.4" y2="630.3" stroke="#000" stroke-width="1"/>
<text x="300.4" y="638.8" font-size="8" font-weight="bold" fill="#000" text-anchor="middle">10</text>
<line x1="353.6" y1="628.0" x2="353.6" y2="630.3" stroke="#000" stroke-width="1"/>
<text x="353.6" y="638.8" font-size="8" font-weight="bold" fill="#000" text-anchor="middle">20</text>
<line x1="406.8" y1="628.0" x2="406.8" y2="630.3" stroke="#000" stroke-width="1"/>
<text x="406.8" y="638.8" font-size="8" font-weight="bold" fill="#000" text-anchor="middle">30</text>
<text x="287.7" y="646.0" font-size="8.3" font-weight="bold" fill="#000" text-anchor="start" textLength="88.5" lengthAdjust="spacingAndGlyphs">Number of stimulation</text>
<text x="229.6" y="570.0" font-size="8.3" font-weight="bold" fill="#000" text-anchor="middle" transform="rotate(-90 229.6 570.0)" textLength="30.3" lengthAdjust="spacingAndGlyphs">ADD (s)</text>
<path d="M252.5 607.8V603.2M250.8 603.2h3.4M250.8 607.8h3.4M257.8 602.1V597.6M256.1 597.6h3.4M256.1 602.1h3.4M263.2 597.6V593.1M261.5 593.1h3.4M261.5 597.6h3.4M268.5 594.2V589.8M266.8 589.8h3.4M266.8 594.2h3.4M273.8 595.4V590.9M272.1 590.9h3.4M272.1 595.4h3.4M279.1 597.6V593.1M277.4 593.1h3.4M277.4 597.6h3.4M284.4 597.6V590.9M282.7 590.9h3.4M282.7 597.6h3.4M289.8 589.8V583.0M288.1 583.0h3.4M288.1 589.8h3.4M295.1 586.4V579.6M293.4 579.6h3.4M293.4 586.4h3.4M300.4 585.2V576.2M298.7 576.2h3.4M298.7 585.2h3.4M305.7 594.2V587.5M304.0 587.5h3.4M304.0 594.2h3.4M311.0 584.1V577.4M309.3 577.4h3.4M309.3 584.1h3.4M316.4 583.0V574.0M314.7 574.0h3.4M314.7 583.0h3.4M321.7 579.6V570.6M320.0 570.6h3.4M320.0 579.6h3.4M327.0 583.0V574.0M325.3 574.0h3.4M325.3 583.0h3.4M332.3 579.6V570.6M330.6 570.6h3.4M330.6 579.6h3.4M337.6 575.1V566.1M335.9 566.1h3.4M335.9 575.1h3.4M343.0 579.6V570.6M341.3 570.6h3.4M341.3 579.6h3.4M348.3 576.2V567.2M346.6 567.2h3.4M346.6 576.2h3.4M353.6 572.9V563.9M351.9 563.9h3.4M351.9 572.9h3.4M358.9 598.8V580.8M357.2 580.8h3.4M357.2 598.8h3.4M364.2 580.8V562.8M362.5 562.8h3.4M362.5 580.8h3.4M369.6 576.2V562.8M367.9 562.8h3.4M367.9 576.2h3.4M374.9 588.6V570.6M373.2 570.6h3.4M373.2 588.6h3.4M380.2 581.9V563.9M378.5 563.9h3.4M378.5 581.9h3.4M385.5 571.8V558.2M383.8 558.2h3.4M383.8 571.8h3.4M390.8 566.1V548.1M389.1 548.1h3.4M389.1 566.1h3.4M396.2 562.8V549.2M394.5 549.2h3.4M394.5 562.8h3.4M401.5 565.0V551.5M399.8 551.5h3.4M399.8 565.0h3.4M406.8 561.6V548.1M405.1 548.1h3.4M405.1 561.6h3.4" fill="none" stroke="#fa8c1e" stroke-width="1.2"/>
<polyline points="252.5,605.5 257.8,599.9 263.2,595.4 268.5,592.0 273.8,593.1 279.1,595.4 284.4,594.2 289.8,586.4 295.1,583.0 300.4,580.8 305.7,590.9 311.0,580.8 316.4,578.5 321.7,575.1 327.0,578.5 332.3,575.1 337.6,570.6 343.0,575.1 348.3,571.8 353.6,568.4 358.9,589.8 364.2,571.8 369.6,569.5 374.9,579.6 380.2,572.9 385.5,565.0 390.8,557.1 396.2,556.0 401.5,558.2 406.8,554.9" fill="none" stroke="#fa8c1e" stroke-width="1.6"/>
<path d="M252.5 605.5h0M257.8 599.9h0M263.2 595.4h0M268.5 592.0h0M273.8 593.1h0M279.1 595.4h0M284.4 594.2h0M289.8 586.4h0M295.1 583.0h0M300.4 580.8h0M305.7 590.9h0M311.0 580.8h0M316.4 578.5h0M321.7 575.1h0M327.0 578.5h0M332.3 575.1h0M337.6 570.6h0M343.0 575.1h0M348.3 571.8h0M353.6 568.4h0M358.9 589.8h0M364.2 571.8h0M369.6 569.5h0M374.9 579.6h0M380.2 572.9h0M385.5 565.0h0M390.8 557.1h0M396.2 556.0h0M401.5 558.2h0M406.8 554.9h0" stroke="#fa8c1e" stroke-width="4.6" stroke-linecap="round"/>
<path d="M252.5 598.8V595.2M250.8 595.2h3.4M257.8 596.5V593.0M256.1 593.0h3.4M263.2 593.1V589.6M261.5 589.6h3.4M268.5 590.9V587.4M266.8 587.4h3.4M273.8 590.9V587.4M272.1 587.4h3.4M279.1 588.6V585.1M277.4 585.1h3.4M284.4 586.4V582.9M282.7 582.9h3.4M289.8 578.5V575.0M288.1 575.0h3.4M295.1 569.5V566.0M293.4 566.0h3.4M300.4 566.1V562.6M298.7 562.6h3.4M305.7 586.4V582.9M304.0 582.9h3.4M311.0 579.6V576.1M309.3 576.1h3.4M316.4 576.2V572.8M314.7 572.8h3.4M321.7 569.5V566.0M320.0 566.0h3.4M327.0 575.1V571.6M325.3 571.6h3.4M332.3 571.8V568.2M330.6 568.2h3.4M337.6 565.0V561.5M335.9 561.5h3.4M343.0 563.9V560.4M341.3 560.4h3.4M348.3 558.2V554.8M346.6 554.8h3.4M353.6 558.2V554.8M351.9 554.8h3.4M358.9 571.8V568.2M357.2 568.2h3.4M364.2 561.6V558.1M362.5 558.1h3.4M369.6 562.8V559.2M367.9 559.2h3.4M374.9 542.5V539.0M373.2 539.0h3.4M380.2 544.8V541.2M378.5 541.2h3.4M385.5 538.0V534.5M383.8 534.5h3.4M390.8 556.0V552.5M389.1 552.5h3.4M396.2 543.6V540.1M394.5 540.1h3.4M401.5 545.9V542.4M399.8 542.4h3.4M406.8 545.9V542.4M405.1 542.4h3.4" fill="none" stroke="#111" stroke-width="1.2"/>
<polyline points="252.5,598.8 257.8,596.5 263.2,593.1 268.5,590.9 273.8,590.9 279.1,588.6 284.4,586.4 289.8,578.5 295.1,569.5 300.4,566.1 305.7,586.4 311.0,579.6 316.4,576.2 321.7,569.5 327.0,575.1 332.3,571.8 337.6,565.0 343.0,563.9 348.3,558.2 353.6,558.2 358.9,571.8 364.2,561.6 369.6,562.8 374.9,542.5 380.2,544.8 385.5,538.0 390.8,556.0 396.2,543.6 401.5,545.9 406.8,545.9" fill="none" stroke="#111" stroke-width="1.6"/>
<path d="M252.5 598.8h0M257.8 596.5h0M263.2 593.1h0M268.5 590.9h0M273.8 590.9h0M279.1 588.6h0M284.4 586.4h0M289.8 578.5h0M295.1 569.5h0M300.4 566.1h0M305.7 586.4h0M311.0 579.6h0M316.4 576.2h0M321.7 569.5h0M327.0 575.1h0M332.3 571.8h0M337.6 565.0h0M343.0 563.9h0M348.3 558.2h0M353.6 558.2h0M358.9 571.8h0M364.2 561.6h0M369.6 562.8h0M374.9 542.5h0M380.2 544.8h0M385.5 538.0h0M390.8 556.0h0M396.2 543.6h0M401.5 545.9h0M406.8 545.9h0" stroke="#111" stroke-width="4.6" stroke-linecap="round"/>
<path d="M252.5 595.4V590.9M250.8 590.9h3.4M257.8 589.8V585.2M256.1 585.2h3.4M263.2 585.2V580.8M261.5 580.8h3.4M268.5 583.0V578.5M266.8 578.5h3.4M273.8 580.8V576.2M272.1 576.2h3.4M279.1 576.2V571.8M277.4 571.8h3.4M284.4 572.9V568.4M282.7 568.4h3.4M289.8 572.9V568.4M288.1 568.4h3.4M295.1 567.2V562.8M293.4 562.8h3.4M300.4 553.8V543.6M298.7 543.6h3.4M305.7 578.5V574.0M304.0 574.0h3.4M311.0 570.6V566.1M309.3 566.1h3.4M316.4 566.1V561.6M314.7 561.6h3.4M321.7 560.5V556.0M320.0 556.0h3.4M327.0 561.6V557.1M325.3 557.1h3.4M332.3 553.8V549.2M330.6 549.2h3.4M337.6 542.5V538.0M335.9 538.0h3.4M343.0 547.0V542.5M341.3 542.5h3.4M348.3 550.4V545.9M346.6 545.9h3.4M353.6 540.2V535.8M351.9 535.8h3.4M358.9 558.2V553.8M357.2 553.8h3.4M364.2 554.9V550.4M362.5 550.4h3.4M369.6 540.2V535.8M367.9 535.8h3.4M374.9 539.1V534.6M373.2 534.6h3.4M380.2 535.8V531.2M378.5 531.2h3.4M385.5 531.2V526.8M383.8 526.8h3.4M390.8 536.9V532.4M389.1 532.4h3.4M396.2 540.2V535.8M394.5 535.8h3.4M401.5 525.6V521.1M399.8 521.1h3.4M406.8 534.6V530.1M405.1 530.1h3.4" fill="none" stroke="#1010d4" stroke-width="1.2"/>
<polyline points="252.5,595.4 257.8,589.8 263.2,585.2 268.5,583.0 273.8,580.8 279.1,576.2 284.4,572.9 289.8,572.9 295.1,567.2 300.4,553.8 305.7,578.5 311.0,570.6 316.4,566.1 321.7,560.5 327.0,561.6 332.3,553.8 337.6,542.5 343.0,547.0 348.3,550.4 353.6,540.2 358.9,558.2 364.2,554.9 369.6,540.2 374.9,539.1 380.2,535.8 385.5,531.2 390.8,536.9 396.2,540.2 401.5,525.6 406.8,534.6" fill="none" stroke="#1010d4" stroke-width="1.6"/>
<path d="M252.5 595.4h0M257.8 589.8h0M263.2 585.2h0M268.5 583.0h0M273.8 580.8h0M279.1 576.2h0M284.4 572.9h0M289.8 572.9h0M295.1 567.2h0M300.4 553.8h0M305.7 578.5h0M311.0 570.6h0M316.4 566.1h0M321.7 560.5h0M327.0 561.6h0M332.3 553.8h0M337.6 542.5h0M343.0 547.0h0M348.3 550.4h0M353.6 540.2h0M358.9 558.2h0M364.2 554.9h0M369.6 540.2h0M374.9 539.1h0M380.2 535.8h0M385.5 531.2h0M390.8 536.9h0M396.2 540.2h0M401.5 525.6h0M406.8 534.6h0" stroke="#1010d4" stroke-width="4.6" stroke-linecap="round"/>
<text x="416.6" y="541.4" font-size="11.5" font-weight="bold" fill="#000" text-anchor="middle">*</text>
<text x="416.6" y="563.1" font-size="11.5" font-weight="bold" fill="#000" text-anchor="middle">*</text>
<text x="449.9" y="502.5" font-size="20" fill="#000" text-anchor="start">j</text>
<line x1="465.1" y1="522.5" x2="465.1" y2="628.0" stroke="#000" stroke-width="1.1"/>
<line x1="465.1" y1="627.5" x2="534.9" y2="627.5" stroke="#000" stroke-width="1.1"/>
<line x1="463.1" y1="627.5" x2="465.1" y2="627.5" stroke="#000" stroke-width="1"/>
<text x="462.0" y="630.6" font-size="8.6" fill="#111" text-anchor="end">0</text>
<line x1="463.1" y1="601.5" x2="465.1" y2="601.5" stroke="#000" stroke-width="1"/>
<text x="462.0" y="604.6" font-size="8.6" fill="#111" text-anchor="end">5</text>
<line x1="463.1" y1="575.5" x2="465.1" y2="575.5" stroke="#000" stroke-width="1"/>
<text x="462.0" y="578.6" font-size="8.6" fill="#111" text-anchor="end">10</text>
<line x1="463.1" y1="549.5" x2="465.1" y2="549.5" stroke="#000" stroke-width="1"/>
<text x="462.0" y="552.6" font-size="8.6" fill="#111" text-anchor="end">15</text>
<line x1="463.1" y1="523.5" x2="465.1" y2="523.5" stroke="#000" stroke-width="1"/>
<text x="462.0" y="526.6" font-size="8.6" fill="#111" text-anchor="end">20</text>
<rect x="471.4" y="584.3" width="17.2" height="43.2" fill="#fff" stroke="#111" stroke-width="1.3"/>
<line x1="480.0" y1="580.7" x2="480.0" y2="584.3" stroke="#111" stroke-width="1.2"/>
<line x1="477.6" y1="580.7" x2="482.4" y2="580.7" stroke="#111" stroke-width="1.2"/>
<circle cx="480.0" cy="564.6" r="1.6" fill="#fff" stroke="#111" stroke-width="1.1"/>
<circle cx="480.0" cy="569.3" r="1.6" fill="#fff" stroke="#111" stroke-width="1.1"/>
<circle cx="475.0" cy="580.2" r="1.6" fill="#fff" stroke="#111" stroke-width="1.1"/>
<circle cx="480.0" cy="580.2" r="1.6" fill="#fff" stroke="#111" stroke-width="1.1"/>
<circle cx="485.0" cy="580.2" r="1.6" fill="#fff" stroke="#111" stroke-width="1.1"/>
<circle cx="475.0" cy="589.5" r="1.6" fill="#fff" stroke="#111" stroke-width="1.1"/>
<circle cx="480.0" cy="589.5" r="1.6" fill="#fff" stroke="#111" stroke-width="1.1"/>
<circle cx="485.0" cy="589.5" r="1.6" fill="#fff" stroke="#111" stroke-width="1.1"/>
<circle cx="475.0" cy="595.8" r="1.6" fill="#fff" stroke="#111" stroke-width="1.1"/>
<circle cx="485.0" cy="595.8" r="1.6" fill="#fff" stroke="#111" stroke-width="1.1"/>
<text x="480.0" y="626.0" font-size="9.8" fill="#333" text-anchor="middle">10</text>
<line x1="480.0" y1="627.5" x2="480.0" y2="629.7" stroke="#000" stroke-width="1"/>
<rect x="491.1" y="597.3" width="17.2" height="30.2" fill="#fff" stroke="#2222ee" stroke-width="1.3"/>
<line x1="499.7" y1="594.2" x2="499.7" y2="597.3" stroke="#2222ee" stroke-width="1.2"/>
<line x1="497.3" y1="594.2" x2="502.1" y2="594.2" stroke="#2222ee" stroke-width="1.2"/>
<circle cx="499.7" cy="569.3" r="1.6" fill="#fff" stroke="#2222ee" stroke-width="1.1"/>
<circle cx="499.7" cy="580.7" r="1.6" fill="#fff" stroke="#2222ee" stroke-width="1.1"/>
<circle cx="499.7" cy="585.4" r="1.6" fill="#fff" stroke="#2222ee" stroke-width="1.1"/>
<circle cx="499.7" cy="590.6" r="1.6" fill="#fff" stroke="#2222ee" stroke-width="1.1"/>
<circle cx="499.7" cy="594.7" r="1.6" fill="#fff" stroke="#2222ee" stroke-width="1.1"/>
<circle cx="494.2" cy="600.5" r="1.6" fill="#fff" stroke="#2222ee" stroke-width="1.1"/>
<circle cx="499.7" cy="600.5" r="1.6" fill="#fff" stroke="#2222ee" stroke-width="1.1"/>
<circle cx="505.2" cy="600.5" r="1.6" fill="#fff" stroke="#2222ee" stroke-width="1.1"/>
<circle cx="499.7" cy="605.7" r="1.6" fill="#fff" stroke="#2222ee" stroke-width="1.1"/>
<circle cx="499.7" cy="611.4" r="1.6" fill="#fff" stroke="#2222ee" stroke-width="1.1"/>
<circle cx="499.7" cy="616.6" r="1.6" fill="#fff" stroke="#2222ee" stroke-width="1.1"/>
<text x="499.7" y="626.0" font-size="9.8" fill="#333" text-anchor="middle">13</text>
<line x1="499.7" y1="627.5" x2="499.7" y2="629.7" stroke="#000" stroke-width="1"/>
<rect x="510.5" y="573.4" width="17.1" height="54.1" fill="#fff" stroke="#f47a36" stroke-width="1.3"/>
<line x1="519.0" y1="569.3" x2="519.0" y2="573.4" stroke="#f47a36" stroke-width="1.2"/>
<line x1="516.6" y1="569.3" x2="521.4" y2="569.3" stroke="#f47a36" stroke-width="1.2"/>
<circle cx="519.0" cy="554.2" r="1.6" fill="#fff" stroke="#f47a36" stroke-width="1.1"/>
<circle cx="519.0" cy="564.6" r="1.6" fill="#fff" stroke="#f47a36" stroke-width="1.1"/>
<circle cx="514.0" cy="569.3" r="1.6" fill="#fff" stroke="#f47a36" stroke-width="1.1"/>
<circle cx="519.0" cy="569.3" r="1.6" fill="#fff" stroke="#f47a36" stroke-width="1.1"/>
<circle cx="523.5" cy="569.3" r="1.6" fill="#fff" stroke="#f47a36" stroke-width="1.1"/>
<circle cx="514.0" cy="575.0" r="1.6" fill="#fff" stroke="#f47a36" stroke-width="1.1"/>
<circle cx="523.5" cy="575.0" r="1.6" fill="#fff" stroke="#f47a36" stroke-width="1.1"/>
<circle cx="519.0" cy="580.2" r="1.6" fill="#fff" stroke="#f47a36" stroke-width="1.1"/>
<circle cx="519.0" cy="590.1" r="1.6" fill="#fff" stroke="#f47a36" stroke-width="1.1"/>
<text x="519.0" y="626.0" font-size="9.8" fill="#333" text-anchor="middle">8</text>
<line x1="519.0" y1="627.5" x2="519.0" y2="629.7" stroke="#000" stroke-width="1"/>
<line x1="479.1" y1="527.2" x2="521.5" y2="527.2" stroke="#000" stroke-width="1.1"/>
<text x="500.0" y="527.7" font-size="9.5" font-weight="bold" fill="#000" text-anchor="middle">*</text>
<text x="489.6" y="637.7" font-size="8.3" font-weight="bold" fill="#000" text-anchor="start" textLength="20.4" lengthAdjust="spacingAndGlyphs">to FS</text>
<text x="451.5" y="576.0" font-size="7.7" font-weight="bold" fill="#000" text-anchor="middle" transform="rotate(-90 451.5 576.0)" textLength="88.3" lengthAdjust="spacingAndGlyphs">Number of stimulation</text>
<text x="560.1" y="502.9" font-size="20" fill="#000" text-anchor="start">k</text>
<line x1="576.7" y1="524.5" x2="576.7" y2="627.7" stroke="#000" stroke-width="1.1"/>
<line x1="576.7" y1="627.2" x2="645.6" y2="627.2" stroke="#000" stroke-width="1.1"/>
<line x1="574.7" y1="627.2" x2="576.7" y2="627.2" stroke="#000" stroke-width="1"/>
<text x="573.6" y="630.3" font-size="8.6" fill="#111" text-anchor="end">0</text>
<line x1="574.7" y1="607.0" x2="576.7" y2="607.0" stroke="#000" stroke-width="1"/>
<text x="573.6" y="610.1" font-size="8.6" fill="#111" text-anchor="end">10</text>
<line x1="574.7" y1="586.8" x2="576.7" y2="586.8" stroke="#000" stroke-width="1"/>
<text x="573.6" y="589.9" font-size="8.6" fill="#111" text-anchor="end">20</text>
<line x1="574.7" y1="566.6" x2="576.7" y2="566.6" stroke="#000" stroke-width="1"/>
<text x="573.6" y="569.7" font-size="8.6" fill="#111" text-anchor="end">30</text>
<line x1="574.7" y1="546.4" x2="576.7" y2="546.4" stroke="#000" stroke-width="1"/>
<text x="573.6" y="549.5" font-size="8.6" fill="#111" text-anchor="end">40</text>
<line x1="574.7" y1="526.2" x2="576.7" y2="526.2" stroke="#000" stroke-width="1"/>
<text x="573.6" y="529.3" font-size="8.6" fill="#111" text-anchor="end">50</text>
<rect x="584.3" y="583.2" width="16.1" height="44.0" fill="#fff" stroke="#111" stroke-width="1.3"/>
<line x1="592.3" y1="579.3" x2="592.3" y2="583.2" stroke="#111" stroke-width="1.2"/>
<line x1="589.9" y1="579.3" x2="594.7" y2="579.3" stroke="#111" stroke-width="1.2"/>
<circle cx="592.3" cy="558.1" r="1.6" fill="#fff" stroke="#111" stroke-width="1.1"/>
<circle cx="589.8" cy="570.0" r="1.6" fill="#fff" stroke="#111" stroke-width="1.1"/>
<circle cx="594.8" cy="570.0" r="1.6" fill="#fff" stroke="#111" stroke-width="1.1"/>
<circle cx="587.3" cy="586.0" r="1.6" fill="#fff" stroke="#111" stroke-width="1.1"/>
<circle cx="592.3" cy="586.0" r="1.6" fill="#fff" stroke="#111" stroke-width="1.1"/>
<circle cx="596.8" cy="585.2" r="1.6" fill="#fff" stroke="#111" stroke-width="1.1"/>
<circle cx="585.8" cy="591.0" r="1.6" fill="#fff" stroke="#111" stroke-width="1.1"/>
<circle cx="589.8" cy="593.3" r="1.6" fill="#fff" stroke="#111" stroke-width="1.1"/>
<circle cx="594.3" cy="594.5" r="1.6" fill="#fff" stroke="#111" stroke-width="1.1"/>
<circle cx="598.8" cy="594.5" r="1.6" fill="#fff" stroke="#111" stroke-width="1.1"/>
<text x="592.3" y="625.7" font-size="9.8" fill="#333" text-anchor="middle">10</text>
<line x1="592.3" y1="627.2" x2="592.3" y2="629.4" stroke="#000" stroke-width="1"/>
<rect x="602.8" y="600.5" width="16.5" height="26.7" fill="#fff" stroke="#2222ee" stroke-width="1.3"/>
<line x1="611.0" y1="597.3" x2="611.0" y2="600.5" stroke="#2222ee" stroke-width="1.2"/>
<line x1="608.6" y1="597.3" x2="613.4" y2="597.3" stroke="#2222ee" stroke-width="1.2"/>
<circle cx="608.5" cy="580.9" r="1.6" fill="#fff" stroke="#2222ee" stroke-width="1.1"/>
<circle cx="613.5" cy="580.9" r="1.6" fill="#fff" stroke="#2222ee" stroke-width="1.1"/>
<circle cx="611.0" cy="586.8" r="1.6" fill="#fff" stroke="#2222ee" stroke-width="1.1"/>
<circle cx="605.5" cy="594.9" r="1.6" fill="#fff" stroke="#2222ee" stroke-width="1.1"/>
<circle cx="610.5" cy="596.9" r="1.6" fill="#fff" stroke="#2222ee" stroke-width="1.1"/>
<circle cx="614.5" cy="596.9" r="1.6" fill="#fff" stroke="#2222ee" stroke-width="1.1"/>
<circle cx="618.0" cy="598.9" r="1.6" fill="#fff" stroke="#2222ee" stroke-width="1.1"/>
<circle cx="605.5" cy="606.6" r="1.6" fill="#fff" stroke="#2222ee" stroke-width="1.1"/>
<circle cx="609.5" cy="609.4" r="1.6" fill="#fff" stroke="#2222ee" stroke-width="1.1"/>
<circle cx="614.5" cy="609.4" r="1.6" fill="#fff" stroke="#2222ee" stroke-width="1.1"/>
<circle cx="618.0" cy="607.0" r="1.6" fill="#fff" stroke="#2222ee" stroke-width="1.1"/>
<circle cx="609.5" cy="614.5" r="1.6" fill="#fff" stroke="#2222ee" stroke-width="1.1"/>
<circle cx="614.0" cy="618.3" r="1.6" fill="#fff" stroke="#2222ee" stroke-width="1.1"/>
<text x="611.0" y="625.7" font-size="9.8" fill="#333" text-anchor="middle">13</text>
<line x1="611.0" y1="627.2" x2="611.0" y2="629.4" stroke="#000" stroke-width="1"/>
<rect x="621.5" y="568.2" width="16.8" height="59.0" fill="#fff" stroke="#f47a36" stroke-width="1.3"/>
<line x1="629.9" y1="562.6" x2="629.9" y2="568.2" stroke="#f47a36" stroke-width="1.2"/>
<line x1="627.5" y1="562.6" x2="632.3" y2="562.6" stroke="#f47a36" stroke-width="1.2"/>
<circle cx="629.9" cy="546.0" r="1.6" fill="#fff" stroke="#f47a36" stroke-width="1.1"/>
<circle cx="624.9" cy="560.1" r="1.6" fill="#fff" stroke="#f47a36" stroke-width="1.1"/>
<circle cx="629.9" cy="560.1" r="1.6" fill="#fff" stroke="#f47a36" stroke-width="1.1"/>
<circle cx="634.4" cy="560.1" r="1.6" fill="#fff" stroke="#f47a36" stroke-width="1.1"/>
<circle cx="634.4" cy="566.0" r="1.6" fill="#fff" stroke="#f47a36" stroke-width="1.1"/>
<circle cx="625.4" cy="572.3" r="1.6" fill="#fff" stroke="#f47a36" stroke-width="1.1"/>
<circle cx="634.4" cy="574.5" r="1.6" fill="#fff" stroke="#f47a36" stroke-width="1.1"/>
<circle cx="629.9" cy="600.1" r="1.6" fill="#fff" stroke="#f47a36" stroke-width="1.1"/>
<text x="629.9" y="625.7" font-size="9.8" fill="#333" text-anchor="middle">8</text>
<line x1="629.9" y1="627.2" x2="629.9" y2="629.4" stroke="#000" stroke-width="1"/>
<line x1="593.8" y1="527.2" x2="636.1" y2="527.2" stroke="#000" stroke-width="1.1"/>
<text x="614.9" y="528.3" font-size="10" font-weight="bold" fill="#000" text-anchor="middle">**</text>
<line x1="593.8" y1="537.4" x2="616.0" y2="537.4" stroke="#000" stroke-width="1.1"/>
<text x="604.7" y="539.8" font-size="9.5" font-weight="bold" fill="#000" text-anchor="middle">*</text>
<text x="599.6" y="637.7" font-size="8.3" font-weight="bold" fill="#000" text-anchor="start" textLength="27" lengthAdjust="spacingAndGlyphs">to sGS</text>
<text x="561.6" y="576.0" font-size="7.7" font-weight="bold" fill="#000" text-anchor="middle" transform="rotate(-90 561.6 576.0)" textLength="88.3" lengthAdjust="spacingAndGlyphs">Number of stimulation</text>
<text x="-0.1" y="647.9" font-size="20" fill="#000" text-anchor="start">l</text>
<rect x="20.4" y="659.2" width="626.8" height="61.7" fill="none" stroke="#222" stroke-width="1.1" stroke-dasharray="3.2,2.6"/>
<line x1="26.6" y1="687.8" x2="33.7" y2="687.8" stroke="#000" stroke-width="0.8"/>
<path d="M42,687.8 C44,695.8 46,681.8 47.5,684.8 C48.5,701.8 49.5,697.8 50,687.8 C51,683.8 53,689.8 55,687.8 L56.5,687.8" fill="none" stroke="#222" stroke-width="0.8"/>
<line x1="47.5" y1="665.8" x2="47.5" y2="695.8" stroke="#555" stroke-width="0.5"/>
<line x1="57.2" y1="666.3" x2="57.2" y2="708.2" stroke="#333" stroke-width="1.1"/>
<line x1="57.2" y1="667.0" x2="57.2" y2="707.5" stroke="#999" stroke-width="0.4"/>
<line x1="59.3" y1="666.3" x2="59.3" y2="708.2" stroke="#333" stroke-width="1.1"/>
<line x1="59.3" y1="667.0" x2="59.3" y2="707.5" stroke="#999" stroke-width="0.4"/>
<line x1="61.3" y1="666.3" x2="61.3" y2="708.2" stroke="#333" stroke-width="1.1"/>
<line x1="61.3" y1="667.0" x2="61.3" y2="707.5" stroke="#999" stroke-width="0.4"/>
<path d="M62.0,687.3 62.7,683.9 63.4,682.5 64.1,682.0 64.8,684.0 65.5,683.9 66.2,684.1 66.9,683.9 67.6,682.4 68.3,684.2 69.0,683.0 69.7,683.9 70.4,683.7 71.1,683.3 71.8,682.1 72.5,682.8 73.2,684.5 73.9,683.7 74.6,684.1 75.3,682.0 76.0,682.2 76.7,682.2 77.4,682.1 78.1,682.4 78.8,681.7 79.5,682.2 80.2,683.8 80.9,682.0 81.6,683.1 82.3,682.3 83.0,682.9 83.7,683.3 84.4,683.5 85.1,683.3 85.8,683.6 86.5,684.2 87.2,682.1 87.9,682.2 88.6,681.6 89.3,682.5 90.0,682.9 90.7,682.3 91.4,684.2 92.1,682.6 92.8,683.3 93.5,684.0 94.2,684.0 94.9,683.0 95.6,683.8 96.3,683.2 97.0,682.8 97.7,683.5 98.4,684.3 99.1,683.3 99.8,684.0 100.5,684.0 101.2,684.2 101.9,683.7 102.6,684.6 103.3,683.0 104.0,682.2 104.7,683.7 105.4,682.9 106.1,682.3 106.8,684.8 107.5,684.5 108.2,682.8 108.9,682.7 109.6,683.3 110.3,684.5 111.0,683.9 111.7,682.7 112.4,682.7 113.1,683.0 113.8,684.5 114.5,682.9 115.2,684.1 115.9,683.3 116.6,684.8 117.3,682.8 118.0,683.7 118.7,683.4 119.4,684.7 120.1,683.7 120.8,683.8 121.5,683.8 122.2,684.4 122.9,683.6 123.6,684.5 124.3,684.6 125.0,685.0 125.7,683.8 126.4,685.1 127.1,684.9 127.8,685.2 128.5,684.0 129.2,684.2 129.9,684.3 130.6,685.4 131.3,684.6 132.0,684.8 132.7,685.3 133.4,685.5 134.1,683.5 134.8,685.3 135.5,685.0 136.2,685.1 136.9,684.4 137.6,685.5 138.3,684.7 139.0,685.0 139.7,684.1 140.4,685.7 141.1,685.1 141.8,684.8 142.5,683.9 143.2,684.8 143.9,684.9 144.6,684.5 145.3,685.2 146.0,685.7 146.7,684.8 147.4,684.1 148.1,684.4 148.8,685.3 149.5,684.5 150.2,684.2 150.9,685.3 151.6,684.7 152.3,685.2 153.0,685.4 153.7,685.3 154.4,685.5 155.1,685.2 155.8,685.8 156.5,685.2 157.2,685.7 157.9,684.5 158.6,684.8 159.3,685.9 160.0,684.5 160.7,685.6 161.4,685.1 162.1,685.0 162.8,685.4 163.5,685.4 164.2,685.2 164.9,685.7 165.6,684.5 166.3,685.8 167.0,684.6 167.7,685.6 168.4,685.5 169.1,685.3 169.8,685.9 170.5,685.8 171.2,685.4 171.9,685.3 172.6,684.6 173.3,684.4 174.0,686.0 174.7,685.2 175.4,685.8 176.1,684.8 176.8,685.5 177.5,684.6 178.2,685.2 178.9,685.9 179.6,686.1 180.3,685.7 181.0,684.7 181.7,685.9 182.4,685.4 183.1,685.5 183.8,685.6 184.5,684.9 185.2,685.8 185.9,685.1 186.6,685.1 187.3,684.7 188.0,685.4 188.7,684.8 189.4,685.5 190.1,685.3 190.8,685.3 191.5,685.0 192.2,684.9 192.9,686.0 193.6,686.0 194.3,685.5 195.0,685.1 195.7,685.5 196.4,685.8 197.1,684.9 197.8,685.8 198.5,686.1 199.2,686.2 199.9,686.2 200.6,685.3 201.3,686.2 202.0,685.4 202.7,685.2 203.4,685.1 204.1,685.3 204.8,685.9 205.5,685.6 206.2,685.4 206.9,685.6 207.6,686.1 208.3,685.6 209.0,686.4 209.7,686.2 210.4,685.4 211.1,686.0 211.8,686.3 212.5,685.7 213.2,686.1 213.9,686.6 214.6,686.6 215.3,686.4 216.0,686.4 216.7,685.8 217.4,686.5 218.1,685.9 218.8,686.0 219.5,686.4 220.2,685.9 220.9,686.1 221.6,686.4 222.3,686.6 223.0,686.5 223.7,686.2 224.4,686.5 225.1,686.8 225.8,686.7 226.5,686.6 227.2,686.9 227.9,686.7 228.6,687.1 229.3,686.8 230.0,687.2 230.7,687.3 231.4,687.1 232.1,687.3 232.8,687.2 232.8,688.2 232.1,688.4 231.4,688.2 230.7,688.6 230.0,688.7 229.3,688.5 228.6,689.0 227.9,688.8 227.2,689.1 226.5,688.7 225.8,689.3 225.1,688.7 224.4,689.1 223.7,689.4 223.0,689.5 222.3,689.1 221.6,688.9 220.9,689.0 220.2,689.4 219.5,689.5 218.8,688.9 218.1,689.3 217.4,689.4 216.7,689.8 216.0,689.4 215.3,689.5 214.6,689.9 213.9,689.0 213.2,690.0 212.5,689.1 211.8,690.0 211.1,689.5 210.4,689.7 209.7,689.9 209.0,689.6 208.3,689.9 207.6,689.2 206.9,689.7 206.2,689.9 205.5,690.1 204.8,690.2 204.1,689.7 203.4,689.3 202.7,690.0 202.0,689.9 201.3,690.3 200.6,689.5 199.9,690.5 199.2,690.0 198.5,690.4 197.8,689.8 197.1,689.4 196.4,690.6 195.7,690.1 195.0,690.0 194.3,689.7 193.6,689.7 192.9,690.2 192.2,690.2 191.5,690.7 190.8,690.5 190.1,690.5 189.4,690.5 188.7,690.2 188.0,690.1 187.3,690.6 186.6,690.3 185.9,690.4 185.2,690.7 184.5,690.1 183.8,690.3 183.1,689.9 182.4,690.2 181.7,690.0 181.0,690.7 180.3,689.5 179.6,690.1 178.9,690.5 178.2,690.8 177.5,690.4 176.8,690.3 176.1,690.8 175.4,690.5 174.7,690.9 174.0,691.1 173.3,690.6 172.6,690.5 171.9,690.8 171.2,689.8 170.5,690.8 169.8,690.9 169.1,690.2 168.4,689.7 167.7,691.2 167.0,689.9 166.3,690.1 165.6,690.5 164.9,689.7 164.2,689.9 163.5,690.4 162.8,690.4 162.1,691.1 161.4,691.1 160.7,689.9 160.0,689.9 159.3,691.3 158.6,689.7 157.9,690.4 157.2,690.3 156.5,690.1 155.8,691.0 155.1,690.5 154.4,690.8 153.7,691.0 153.0,690.0 152.3,690.6 151.6,690.0 150.9,690.3 150.2,690.2 149.5,691.3 148.8,690.3 148.1,691.6 147.4,691.4 146.7,690.1 146.0,691.1 145.3,690.0 144.6,691.2 143.9,690.4 143.2,691.6 142.5,690.9 141.8,691.0 141.1,690.4 140.4,690.4 139.7,690.7 139.0,690.7 138.3,691.3 137.6,690.3 136.9,691.5 136.2,691.0 135.5,691.1 134.8,691.3 134.1,690.2 133.4,690.4 132.7,691.9 132.0,691.8 131.3,691.6 130.6,691.6 129.9,691.6 129.2,692.1 128.5,691.4 127.8,690.7 127.1,690.3 126.4,691.8 125.7,690.3 125.0,690.6 124.3,690.8 123.6,691.2 122.9,690.5 122.2,690.6 121.5,690.6 120.8,690.6 120.1,692.7 119.4,690.9 118.7,691.1 118.0,692.7 117.3,691.0 116.6,692.9 115.9,691.2 115.2,691.3 114.5,690.9 113.8,691.1 113.1,690.8 112.4,692.5 111.7,692.1 111.0,691.7 110.3,691.8 109.6,693.3 108.9,692.8 108.2,692.9 107.5,691.8 106.8,692.0 106.1,691.0 105.4,691.8 104.7,692.7 104.0,693.3 103.3,692.7 102.6,691.8 101.9,693.5 101.2,692.1 100.5,693.5 99.8,692.1 99.1,692.6 98.4,692.4 97.7,693.3 97.0,692.1 96.3,693.6 95.6,693.3 94.9,692.6 94.2,692.8 93.5,692.9 92.8,691.2 92.1,692.8 91.4,693.2 90.7,691.4 90.0,691.8 89.3,692.8 88.6,693.0 87.9,693.2 87.2,693.1 86.5,693.5 85.8,693.5 85.1,693.8 84.4,693.7 83.7,691.3 83.0,693.2 82.3,693.7 81.6,692.3 80.9,693.1 80.2,691.2 79.5,691.7 78.8,692.0 78.1,693.3 77.4,692.4 76.7,691.1 76.0,692.6 75.3,691.8 74.6,692.8 73.9,692.5 73.2,691.8 72.5,693.8 71.8,692.5 71.1,691.2 70.4,691.5 69.7,693.5 69.0,691.5 68.3,693.6 67.6,691.1 66.9,693.9 66.2,692.3 65.5,693.0 64.8,693.2 64.1,691.7 63.4,693.5 62.7,691.3 62.0,688.4Z" fill="#000" opacity="1.0"/>
<path d="M62.0 688.3L62.4 691.8L62.7 690.3L63.1 687.7L63.4 689.9L63.8 682.7L64.1 687.1L64.5 680.0L64.8 692.3L65.1 678.9L65.5 688.4L65.8 681.3L66.2 689.1L66.5 678.8L66.9 678.2L67.2 690.3L67.6 692.3L67.9 695.7L68.3 691.4L68.6 697.9L69.0 680.5L69.3 690.4L69.7 690.6L70.0 681.2L70.4 680.5L70.7 682.5L71.1 688.3L71.4 693.7L71.8 692.1L72.1 689.3L72.5 679.2L72.8 692.3L73.2 688.1L73.5 681.1L73.9 690.2L74.2 682.6L74.6 683.9L74.9 686.8L75.3 692.9L75.6 679.8L76.0 686.6L76.3 682.4L76.7 691.3L77.0 694.2L77.4 683.0L77.7 692.3L78.1 687.1L78.4 682.0L78.8 683.2L79.1 688.6L79.5 694.1L79.8 689.9L80.2 677.6L80.5 693.5L80.9 689.4L81.2 686.2L81.6 682.5L81.9 686.6L82.3 691.7L82.6 683.1L83.0 680.4L83.3 695.5L83.7 686.6L84.0 679.0L84.4 695.8L84.7 679.8L85.1 685.0L85.4 690.2L85.8 691.2L86.1 695.9L86.5 681.2L86.8 689.2L87.2 695.5L87.5 687.1L87.9 692.2L88.2 687.1L88.6 692.2L88.9 697.1L89.3 684.5L89.6 692.6L90.0 684.6L90.3 695.7L90.7 693.2L91.0 695.1L91.4 695.4L91.7 689.7L92.1 697.0L92.4 680.8L92.8 689.3L93.1 679.1L93.5 689.5L93.8 691.6L94.2 683.4L94.5 694.2L94.9 686.1L95.2 681.6L95.6 681.6L95.9 689.4L96.3 685.5L96.6 678.7L97.0 683.9L97.3 697.3L97.7 687.2L98.0 691.4L98.4 686.3L98.7 679.3L99.1 690.0L99.4 682.1L99.8 680.4L100.1 690.1L100.5 691.2L100.8 678.3L101.2 696.5L101.5 678.5L101.9 681.4L102.2 684.5L102.6 693.5L102.9 692.4L103.3 692.4L103.6 686.5L104.0 695.6L104.3 680.9L104.7 696.5L105.0 679.3L105.4 681.3L105.7 692.5L106.1 692.8L106.4 691.0L106.8 683.1L107.1 694.6L107.5 688.1L107.8 682.4L108.2 680.4L108.5 696.7L108.9 679.7L109.2 682.7L109.6 685.2L109.9 694.9L110.3 693.7L110.6 693.9L111.0 690.1L111.3 679.1L111.7 692.0L112.0 682.3L112.4 695.7L112.7 696.1L113.1 680.2L113.4 691.8L113.8 683.3L114.1 680.9L114.5 694.3L114.8 686.8L115.2 684.3L115.5 688.8L115.9 680.4L116.2 686.5L116.6 690.3L116.9 694.0L117.3 681.4L117.6 694.4L118.0 681.2L118.3 682.9L118.7 685.0L119.0 682.3L119.4 681.1L119.7 690.4L120.1 686.1L120.4 682.7L120.8 688.0L121.1 681.7L121.5 690.7L121.8 695.3L122.2 687.3L122.5 686.5L122.9 686.2L123.2 685.7L123.6 686.4L123.9 682.7L124.3 684.6L124.6 690.8L125.0 687.5L125.3 681.1L125.7 682.3L126.0 693.1L126.4 685.5L126.7 692.9L127.1 689.6L127.4 689.7L127.8 685.6L128.1 689.0L128.5 686.5L128.8 688.0L129.2 694.4L129.5 682.0L129.9 683.6L130.2 693.8L130.6 694.1L130.9 692.4L131.3 693.1L131.6 682.0L132.0 691.0L132.3 682.4L132.7 692.8L133.0 686.3L133.4 687.6L133.7 688.1L134.1 683.6L134.4 688.7L134.8 692.9L135.1 687.1L135.5 686.9L135.8 686.0L136.2 683.5L136.5 684.8L136.9 692.4L137.2 694.1L137.6 686.1L137.9 684.9L138.3 685.6L138.6 692.7L139.0 684.6L139.3 683.6L139.7 685.4L140.0 682.3L140.4 683.1L140.7 684.3L141.1 689.8L141.4 693.4L141.8 684.6L142.1 685.1L142.5 688.9L142.8 681.7L143.2 682.5L143.5 688.8L143.9 687.3L144.2 685.9L144.6 686.7L144.9 681.6L145.3 684.7L145.6 683.6L146.0 684.4L146.3 682.3L146.7 691.8L147.0 681.6L147.4 686.7L147.7 683.6L148.1 684.0L148.4 691.1L148.8 693.6L149.1 693.7L149.5 685.7L149.8 688.3L150.2 686.9L150.5 682.5L150.9 686.8L151.2 689.2L151.6 686.5L151.9 691.4L152.3 687.1L152.6 685.2L153.0 692.7L153.3 688.7L153.7 684.8L154.0 692.8L154.4 687.6L154.7 689.1L155.1 687.4L155.4 692.2L155.8 690.6L156.1 687.1L156.5 686.2L156.8 691.1L157.2 691.9L157.5 689.0L157.9 692.3L158.2 688.1L158.6 686.8L158.9 685.6L159.3 685.0L159.6 683.6L160.0 692.9L160.3 688.4L160.7 682.8L161.0 684.3L161.4 686.9L161.7 691.4L162.1 692.0L162.4 690.9L162.8 685.3L163.1 686.9L163.5 693.1L163.8 686.5L164.2 689.6L164.5 682.5L164.9 687.6L165.2 687.9L165.6 692.6L165.9 693.2L166.3 690.7L166.6 685.9L167.0 692.1L167.3 692.6L167.7 682.9L168.0 686.9L168.4 688.4L168.7 685.6L169.1 684.8L169.4 691.1L169.8 684.5L170.1 688.4L170.5 682.3L170.8 687.4L171.2 693.1L171.5 682.2L171.9 683.4L172.2 692.3L172.6 692.5L172.9 687.9L173.3 685.5L173.6 685.5L174.0 690.4L174.3 688.7L174.7 687.2L175.0 689.9L175.4 683.4L175.7 686.6L176.1 692.0L176.4 692.3L176.8 687.6L177.1 690.9L177.5 692.0L177.8 688.0L178.2 683.9L178.5 683.5L178.9 689.7L179.2 686.1L179.6 688.1L179.9 682.9L180.3 692.6L180.6 685.4L181.0 689.2L181.3 689.1L181.7 686.3L182.0 684.7L182.4 688.5L182.7 686.0L183.1 683.3L183.4 684.4L183.8 682.9L184.1 692.0L184.5 684.7L184.8 692.2L185.2 689.0L185.5 692.6L185.9 687.5L186.2 685.2L186.6 683.5L186.9 689.1L187.3 689.8L187.6 689.7L188.0 692.0L188.3 683.7L188.7 689.3L189.0 689.9L189.4 692.3L189.7 685.3L190.1 692.2L190.4 683.0L190.8 688.7L191.1 686.1L191.5 688.0L191.8 684.5L192.2 686.6L192.5 686.3L192.9 687.4L193.2 686.9L193.6 685.0L193.9 684.5L194.3 687.5L194.6 692.7L195.0 691.2L195.3 684.3L195.7 689.1L196.0 684.3L196.4 686.1L196.7 692.7L197.1 686.2L197.4 683.9L197.8 688.4L198.1 688.6L198.5 687.9L198.8 692.1L199.2 687.9L199.5 686.5L199.9 685.0L200.2 688.6L200.6 690.1L200.9 687.8L201.3 686.8L201.6 685.5L202.0 691.0L202.3 692.3L202.7 688.6L203.0 689.7L203.4 686.2L203.7 684.7L204.1 683.8L204.4 688.8L204.8 691.5L205.1 689.5L205.5 689.3L205.8 690.9L206.2 687.0L206.5 687.2L206.9 685.8L207.2 690.6L207.6 689.4L207.9 688.0L208.3 690.1L208.6 691.2L209.0 684.1L209.3 685.5L209.7 687.5L210.0 689.5L210.4 685.8L210.7 687.4L211.1 689.1L211.4 686.2L211.8 689.1L212.1 684.5L212.5 687.1L212.8 688.8L213.2 690.5L213.5 687.9L213.9 689.0L214.2 689.0L214.6 688.9L214.9 687.5L215.3 686.5L215.6 685.2L216.0 690.5L216.3 689.7L216.7 688.8L217.0 689.5L217.4 686.6L217.7 685.6L218.1 688.0L218.4 687.6L218.8 688.8L219.1 690.2L219.5 687.1L219.8 687.0L220.2 689.1L220.5 690.2L220.9 688.2L221.2 688.4L221.6 690.2L221.9 690.3L222.3 685.1L222.6 690.6L223.0 685.5L223.3 688.1L223.7 687.8L224.0 690.5L224.4 686.3L224.7 685.3L225.1 690.3L225.4 687.6L225.8 687.6L226.1 687.4L226.5 686.7L226.8 685.5L227.2 688.1L227.5 686.5L227.9 687.8L228.2 689.9L228.6 689.8L228.9 687.0L229.3 687.2L229.6 686.4L230.0 688.2L230.3 686.7L230.7 686.6L231.0 689.0L231.4 688.0L231.7 688.8L232.1 687.1L232.4 687.1L232.8 688.0L233.1 688.2" fill="none" stroke="#000" stroke-width="0.6"/>
<path d="M92.5 676.3V699.6M147.6 681.3V694.8M80.9 678.7V696.7M204.8 683.5V693.2M81.7 674.0V696.5M200.0 682.3V694.3M214.4 684.8V690.9M104.7 679.7V700.4M86.7 675.3V701.9M182.3 680.3V694.3M128.6 677.3V695.0M156.9 681.2V694.8M113.0 675.6V700.2M181.7 681.8V695.2M224.3 685.4V691.6M80.5 678.7V697.8M125.5 679.1V698.6M87.6 675.5V699.3M83.6 673.4V701.7M121.2 676.9V696.7M177.4 680.3V694.4M123.9 681.0V696.5M161.1 681.9V694.8M64.8 677.8V699.2M144.6 679.8V694.1M110.1 676.5V696.8M87.7 675.6V698.4M162.9 679.5V696.1M197.5 681.0V694.1M123.6 676.9V695.0M97.8 676.5V696.8M165.4 681.1V693.4M189.3 683.3V693.5M109.0 675.3V696.1M127.2 678.3V695.5M203.8 683.8V691.7M64.2 676.0V699.2M153.7 680.9V696.1M99.1 678.7V697.5M204.7 682.0V691.8M62.2 684.0V691.6M109.2 677.4V695.6M149.2 681.9V695.6M88.6 675.9V698.3M144.6 678.8V695.2M228.9 685.3V689.7M105.3 675.5V699.9M86.6 674.5V698.1M159.2 679.6V696.0M91.9 678.5V697.9M165.7 679.7V694.9M192.7 681.2V693.4M126.4 677.8V697.0M213.4 682.6V691.9M121.0 680.4V697.3M116.0 679.1V697.4M186.8 681.4V693.5M173.5 681.1V695.4M179.0 680.6V693.1M207.8 684.3V693.2M64.5 675.7V697.9M89.9 674.9V697.1M178.5 683.0V693.0M129.8 679.2V696.8M123.6 677.2V694.5M95.0 677.0V699.9M174.1 680.3V693.6M171.8 680.8V693.0M125.0 679.3V697.0M152.6 682.1V693.7M118.2 680.4V698.5M215.5 683.4V691.2M162.7 682.8V693.5M105.6 676.7V698.8M154.8 682.1V694.7M190.0 681.0V693.1M138.9 678.8V693.5M165.4 682.6V695.4M177.7 683.0V692.5M223.1 684.9V691.2M161.4 681.5V693.1M186.0 682.4V693.5M199.2 681.1V692.6M119.1 677.2V696.9M215.0 684.1V690.9M110.8 675.7V698.3M228.9 685.2V690.2M92.7 676.8V696.4M119.3 679.9V699.2M88.7 677.2V696.4M88.3 675.2V698.7M148.5 679.5V695.7M98.4 675.2V700.0M162.8 681.1V695.9M164.7 682.7V695.5M175.0 682.3V694.9M221.6 684.0V691.1M203.7 683.8V691.7M131.3 679.5V696.6M174.7 681.5V693.6" fill="none" stroke="#000" stroke-width="0.6"/>
<rect x="33.7" y="663.9" width="8.2" height="51.1" fill="#000" stroke="none" stroke-width="1"/>
<text x="108.2" y="670.2" font-size="10" font-weight="bold" fill="#000" text-anchor="start" textLength="49.6" lengthAdjust="spacingAndGlyphs">eGFP-sGS</text>
<text x="45.4" y="715.8" font-size="8.26" font-weight="bold" fill="#000" text-anchor="start" textLength="80.3" lengthAdjust="spacingAndGlyphs">Kindling Stimulation</text>
<line x1="248.0" y1="687.8" x2="254.0" y2="687.8" stroke="#1a1a9c" stroke-width="0.8"/>
<line x1="263.2" y1="665.5" x2="263.2" y2="708.5" stroke="#3030c8" stroke-width="0.9"/>
<line x1="264.6" y1="665.5" x2="264.6" y2="708.5" stroke="#3030c8" stroke-width="0.9"/>
<line x1="266.0" y1="665.5" x2="266.0" y2="708.5" stroke="#3030c8" stroke-width="0.9"/>
<line x1="267.4" y1="665.5" x2="267.4" y2="708.5" stroke="#3030c8" stroke-width="0.9"/>
<line x1="268.8" y1="665.5" x2="268.8" y2="708.5" stroke="#3030c8" stroke-width="0.9"/>
<path d="M270.0,687.1 270.7,686.0 271.4,685.4 272.1,683.9 272.8,684.1 273.5,683.4 274.2,683.6 274.9,683.0 275.6,683.4 276.3,684.0 277.0,683.6 277.7,684.4 278.4,683.9 279.1,682.9 279.8,684.8 280.5,684.1 281.2,684.1 281.9,683.5 282.6,684.6 283.3,683.5 284.0,684.8 284.7,682.9 285.4,684.8 286.1,683.6 286.8,683.3 287.5,683.8 288.2,684.4 288.9,684.2 289.6,683.0 290.3,683.9 291.0,683.7 291.7,682.8 292.4,683.9 293.1,683.1 293.8,683.6 294.5,683.1 295.2,683.5 295.9,684.6 296.6,684.4 297.3,684.3 298.0,684.4 298.7,683.5 299.4,683.9 300.1,684.0 300.8,684.8 301.5,682.6 302.2,683.7 302.9,684.3 303.6,683.2 304.3,684.6 305.0,684.4 305.7,682.5 306.4,683.1 307.1,683.9 307.8,684.4 308.5,682.9 309.2,684.1 309.9,683.9 310.6,683.9 311.3,683.1 312.0,684.0 312.7,684.5 313.4,682.4 314.1,683.2 314.8,684.2 315.5,684.4 316.2,682.2 316.9,683.2 317.6,683.1 318.3,682.1 319.0,684.4 319.7,684.2 320.4,683.9 321.1,682.6 321.8,684.1 322.5,682.9 323.2,682.2 323.9,683.3 324.6,682.5 325.3,684.2 326.0,683.0 326.7,683.2 327.4,682.4 328.1,683.2 328.8,682.4 329.5,681.7 330.2,681.6 330.9,681.9 331.6,682.2 332.3,681.5 333.0,683.0 333.7,684.1 334.4,681.9 335.1,683.2 335.8,683.3 336.5,681.5 337.2,683.1 337.9,683.8 338.6,681.7 339.3,684.2 340.0,684.1 340.7,682.2 341.4,683.7 342.1,682.2 342.8,684.2 343.5,683.4 344.2,683.1 344.9,682.4 345.6,682.1 346.3,682.3 347.0,683.7 347.7,681.8 348.4,684.0 349.1,683.0 349.8,684.1 350.5,682.0 351.2,682.9 351.9,683.0 352.6,681.6 353.3,683.5 354.0,682.4 354.7,682.2 355.4,684.0 356.1,682.0 356.8,683.2 357.5,682.2 358.2,682.1 358.9,683.3 359.6,683.1 360.3,683.0 361.0,683.9 361.7,682.6 362.4,682.2 363.1,681.5 363.8,683.0 364.5,682.7 365.2,682.4 365.9,682.1 366.6,682.3 367.3,681.5 368.0,681.8 368.7,681.5 369.4,683.0 370.1,682.7 370.8,683.7 371.5,682.8 372.2,682.8 372.9,683.2 373.6,681.6 374.3,681.7 375.0,681.9 375.7,683.4 376.4,682.6 377.1,681.8 377.8,683.1 378.5,682.6 379.2,683.7 379.9,681.6 380.6,682.6 381.3,682.9 382.0,681.8 382.7,683.4 383.4,682.7 384.1,683.1 384.8,681.7 385.5,682.8 386.2,681.6 386.9,681.9 387.6,683.9 388.3,682.6 389.0,682.8 389.7,683.8 390.4,681.7 391.1,681.9 391.8,681.5 392.5,682.8 393.2,683.8 393.9,682.4 394.6,681.9 395.3,683.4 396.0,682.1 396.7,682.8 397.4,683.1 398.1,681.4 398.8,682.2 399.5,681.5 400.2,682.0 400.9,681.9 401.6,683.6 402.3,682.1 403.0,683.9 403.7,682.1 404.4,682.3 405.1,683.1 405.8,682.6 406.5,681.5 407.2,682.3 407.9,683.4 408.6,681.5 409.3,682.0 410.0,683.4 410.7,683.0 411.4,683.2 412.1,683.0 412.8,681.9 413.5,683.1 414.2,681.6 414.9,683.3 415.6,683.2 416.3,683.4 417.0,682.0 417.7,683.9 418.4,683.8 419.1,681.9 419.8,682.1 420.5,683.8 421.2,683.0 421.9,684.0 422.6,681.8 423.3,681.7 424.0,684.1 424.7,682.0 425.4,683.5 426.1,681.4 426.8,683.8 427.5,681.6 428.2,683.4 428.9,682.6 429.6,682.7 430.3,682.0 431.0,683.2 431.7,682.0 432.4,682.0 433.1,682.4 433.8,684.1 434.5,682.9 435.2,683.6 435.9,681.4 436.6,683.0 437.3,681.7 438.0,683.0 438.7,683.5 439.4,683.7 440.1,682.2 440.8,684.0 441.5,683.0 442.2,682.8 442.9,681.7 443.6,682.1 444.3,684.2 445.0,683.5 445.7,683.3 446.4,682.4 447.1,684.2 447.8,682.7 448.5,683.8 449.2,683.0 449.9,683.7 450.6,684.2 451.3,682.6 452.0,682.6 452.7,683.8 453.4,683.9 454.1,684.3 454.8,684.0 455.5,683.9 456.2,684.6 456.9,682.8 457.6,683.9 458.3,684.4 459.0,684.4 459.7,684.6 460.4,684.0 461.1,684.2 461.8,683.4 462.5,684.4 463.2,684.7 463.9,684.8 464.6,683.7 465.3,684.9 466.0,684.9 466.7,685.1 467.4,684.2 468.1,684.7 468.8,684.5 469.5,685.6 470.2,685.5 470.9,686.5 471.6,686.8 472.3,686.9 473.0,686.9 473.7,687.0 474.4,687.1 475.1,687.2 475.8,687.2 476.5,687.1 477.2,687.3 477.9,687.3 477.9,688.4 477.2,688.4 476.5,688.3 475.8,688.4 475.1,688.5 474.4,688.5 473.7,688.4 473.0,688.5 472.3,688.5 471.6,688.8 470.9,689.0 470.2,689.4 469.5,689.6 468.8,691.4 468.1,690.4 467.4,692.0 466.7,691.6 466.0,690.5 465.3,690.9 464.6,691.6 463.9,690.9 463.2,690.9 462.5,691.4 461.8,692.4 461.1,692.4 460.4,691.0 459.7,691.1 459.0,692.2 458.3,692.4 457.6,691.2 456.9,692.7 456.2,691.7 455.5,691.9 454.8,692.7 454.1,692.1 453.4,693.2 452.7,692.1 452.0,692.0 451.3,692.3 450.6,691.6 449.9,692.4 449.2,692.7 448.5,692.9 447.8,693.0 447.1,692.1 446.4,692.5 445.7,692.3 445.0,693.4 444.3,691.4 443.6,693.2 442.9,691.4 442.2,691.5 441.5,691.5 440.8,692.3 440.1,693.7 439.4,692.4 438.7,692.1 438.0,693.3 437.3,692.7 436.6,693.3 435.9,693.8 435.2,694.2 434.5,693.3 433.8,692.6 433.1,692.0 432.4,692.7 431.7,693.2 431.0,692.2 430.3,693.3 429.6,693.0 428.9,693.4 428.2,691.5 427.5,693.9 426.8,692.1 426.1,693.9 425.4,692.7 424.7,694.1 424.0,693.9 423.3,692.7 422.6,693.0 421.9,693.0 421.2,692.5 420.5,692.4 419.8,691.6 419.1,693.7 418.4,693.5 417.7,692.0 417.0,693.6 416.3,693.7 415.6,692.8 414.9,694.2 414.2,691.9 413.5,691.8 412.8,692.5 412.1,692.2 411.4,692.2 410.7,693.5 410.0,693.9 409.3,691.8 408.6,694.1 407.9,691.8 407.2,691.6 406.5,693.2 405.8,693.5 405.1,692.3 404.4,691.7 403.7,693.3 403.0,692.8 402.3,692.1 401.6,693.1 400.9,693.9 400.2,693.0 399.5,694.0 398.8,694.2 398.1,692.0 397.4,692.0 396.7,693.7 396.0,691.6 395.3,693.7 394.6,693.8 393.9,692.5 393.2,693.1 392.5,692.0 391.8,692.6 391.1,693.5 390.4,692.6 389.7,691.7 389.0,693.9 388.3,692.0 387.6,694.0 386.9,694.0 386.2,693.5 385.5,691.4 384.8,694.1 384.1,691.8 383.4,692.3 382.7,691.5 382.0,693.3 381.3,693.8 380.6,693.7 379.9,691.9 379.2,693.1 378.5,692.4 377.8,693.2 377.1,693.4 376.4,691.8 375.7,694.2 375.0,692.3 374.3,691.5 373.6,693.7 372.9,691.8 372.2,692.3 371.5,692.2 370.8,693.1 370.1,691.5 369.4,691.9 368.7,694.1 368.0,691.8 367.3,693.4 366.6,693.7 365.9,693.3 365.2,692.2 364.5,693.9 363.8,692.8 363.1,693.2 362.4,692.7 361.7,691.5 361.0,692.4 360.3,692.7 359.6,692.2 358.9,693.4 358.2,693.2 357.5,693.3 356.8,692.0 356.1,692.7 355.4,693.9 354.7,692.3 354.0,692.5 353.3,693.1 352.6,693.5 351.9,692.4 351.2,691.8 350.5,693.1 349.8,693.0 349.1,693.7 348.4,691.7 347.7,692.5 347.0,692.8 346.3,691.6 345.6,692.0 344.9,692.8 344.2,692.0 343.5,694.0 342.8,691.9 342.1,693.0 341.4,693.7 340.7,693.0 340.0,693.7 339.3,692.7 338.6,693.0 337.9,693.9 337.2,691.6 336.5,693.5 335.8,694.0 335.1,694.1 334.4,692.5 333.7,693.9 333.0,693.0 332.3,694.1 331.6,693.2 330.9,692.2 330.2,692.6 329.5,693.3 328.8,692.6 328.1,693.1 327.4,694.0 326.7,691.8 326.0,693.3 325.3,692.4 324.6,693.1 323.9,693.3 323.2,693.0 322.5,693.5 321.8,692.6 321.1,692.8 320.4,691.3 319.7,691.2 319.0,692.3 318.3,691.7 317.6,692.9 316.9,692.4 316.2,692.6 315.5,693.0 314.8,693.4 314.1,691.8 313.4,692.6 312.7,693.3 312.0,691.1 311.3,692.4 310.6,692.1 309.9,691.7 309.2,692.9 308.5,691.6 307.8,692.3 307.1,692.1 306.4,691.2 305.7,691.9 305.0,692.9 304.3,692.1 303.6,691.5 302.9,692.2 302.2,691.2 301.5,692.9 300.8,692.3 300.1,691.5 299.4,692.9 298.7,692.3 298.0,692.9 297.3,692.6 296.6,691.7 295.9,691.0 295.2,692.5 294.5,692.2 293.8,692.6 293.1,691.2 292.4,690.9 291.7,692.7 291.0,691.9 290.3,691.5 289.6,692.2 288.9,691.0 288.2,691.0 287.5,691.8 286.8,691.5 286.1,692.2 285.4,691.3 284.7,691.2 284.0,691.6 283.3,691.3 282.6,691.7 281.9,690.9 281.2,692.5 280.5,691.0 279.8,692.3 279.1,692.5 278.4,691.7 277.7,692.4 277.0,691.7 276.3,692.5 275.6,692.0 274.9,692.5 274.2,690.8 273.5,692.1 272.8,692.2 272.1,691.2 271.4,691.3 270.7,689.6 270.0,688.5Z" fill="#1a1a9c" opacity="1.0"/>
<path d="M270.0 688.4L270.4 690.0L270.7 686.8L271.1 688.6L271.4 688.7L271.8 686.7L272.1 687.1L272.5 686.9L272.8 686.3L273.2 686.9L273.5 692.0L273.9 689.7L274.2 693.5L274.6 693.6L274.9 685.1L275.3 684.1L275.6 688.2L276.0 693.8L276.3 682.5L276.7 686.0L277.0 687.7L277.4 681.9L277.7 693.2L278.1 693.0L278.4 685.2L278.8 692.1L279.1 683.5L279.5 682.1L279.8 689.9L280.2 685.3L280.5 685.9L280.9 692.5L281.2 691.6L281.6 689.9L281.9 693.3L282.3 685.2L282.6 693.0L283.0 692.5L283.3 688.8L283.7 684.2L284.0 687.1L284.4 691.9L284.7 694.3L285.1 685.0L285.4 690.1L285.8 693.9L286.1 694.4L286.5 682.8L286.8 687.5L287.2 683.0L287.5 692.0L287.9 691.9L288.2 694.4L288.6 686.6L288.9 691.1L289.3 680.6L289.6 683.6L290.0 687.3L290.3 688.4L290.7 687.9L291.0 688.8L291.4 688.8L291.7 690.3L292.1 680.9L292.4 692.3L292.8 680.8L293.1 680.4L293.5 689.3L293.8 680.2L294.2 691.5L294.5 685.9L294.9 688.5L295.2 694.0L295.6 690.2L295.9 691.9L296.3 683.3L296.6 686.6L297.0 686.0L297.3 683.5L297.7 687.0L298.0 685.6L298.4 685.9L298.7 680.3L299.1 687.9L299.4 685.8L299.8 683.8L300.1 693.4L300.5 690.7L300.8 683.6L301.2 693.6L301.5 692.5L301.9 680.8L302.2 681.2L302.6 681.0L302.9 694.4L303.3 691.4L303.6 688.6L304.0 690.0L304.3 695.4L304.7 688.0L305.0 680.3L305.4 683.0L305.7 683.6L306.1 689.6L306.4 684.1L306.8 690.1L307.1 680.4L307.5 692.1L307.8 681.7L308.2 682.3L308.5 692.1L308.9 679.7L309.2 681.2L309.6 689.5L309.9 693.7L310.3 679.4L310.6 681.7L311.0 689.7L311.3 684.3L311.7 692.7L312.0 684.7L312.4 683.9L312.7 690.5L313.1 679.7L313.4 694.6L313.8 682.2L314.1 691.9L314.5 693.7L314.8 693.7L315.2 689.6L315.5 680.8L315.9 686.2L316.2 682.3L316.6 691.5L316.9 679.1L317.3 682.0L317.6 691.2L318.0 689.9L318.3 694.1L318.7 692.5L319.0 694.3L319.4 688.3L319.7 686.1L320.1 694.3L320.4 681.4L320.8 679.5L321.1 683.7L321.5 695.1L321.8 685.6L322.2 684.0L322.5 681.9L322.9 692.6L323.2 683.2L323.6 682.1L323.9 691.6L324.3 691.7L324.6 683.9L325.0 693.0L325.3 690.9L325.7 686.9L326.0 695.8L326.4 690.8L326.7 679.8L327.1 679.0L327.4 691.8L327.8 689.9L328.1 680.4L328.5 694.8L328.8 680.6L329.2 681.1L329.5 683.7L329.9 690.2L330.2 691.4L330.6 696.0L330.9 683.2L331.3 678.9L331.6 681.8L332.0 681.5L332.3 694.5L332.7 686.0L333.0 686.2L333.4 688.0L333.7 695.5L334.1 680.2L334.4 685.5L334.8 682.2L335.1 682.7L335.5 695.7L335.8 680.2L336.2 684.9L336.5 695.0L336.9 695.9L337.2 691.6L337.6 685.8L337.9 687.7L338.3 691.2L338.6 697.4L339.0 695.8L339.3 689.9L339.7 696.3L340.0 686.3L340.4 687.3L340.7 694.6L341.1 694.8L341.4 693.9L341.8 689.6L342.1 679.2L342.5 688.2L342.8 692.9L343.2 687.3L343.5 689.7L343.9 693.9L344.2 683.2L344.6 688.3L344.9 695.0L345.3 696.8L345.6 695.5L346.0 678.5L346.3 690.1L346.7 691.5L347.0 694.2L347.4 695.1L347.7 687.4L348.1 686.2L348.4 680.0L348.8 694.2L349.1 692.6L349.5 694.7L349.8 685.1L350.2 683.2L350.5 684.6L350.9 691.1L351.2 682.7L351.6 678.2L351.9 686.6L352.3 684.9L352.6 689.1L353.0 687.8L353.3 697.2L353.7 680.9L354.0 695.8L354.4 697.1L354.7 690.9L355.1 688.0L355.4 684.4L355.8 696.7L356.1 687.5L356.5 695.6L356.8 690.2L357.2 680.5L357.5 687.6L357.9 685.1L358.2 685.9L358.6 680.5L358.9 686.8L359.3 683.9L359.6 683.0L360.0 693.6L360.3 684.2L360.7 686.7L361.0 680.7L361.4 681.1L361.7 696.7L362.1 679.1L362.4 689.9L362.8 681.3L363.1 688.8L363.5 693.0L363.8 689.5L364.2 691.6L364.5 688.2L364.9 696.3L365.2 686.7L365.6 683.5L365.9 683.9L366.3 695.5L366.6 692.0L367.0 692.6L367.3 691.0L367.7 690.9L368.0 683.6L368.4 695.5L368.7 694.5L369.1 690.6L369.4 696.9L369.8 692.8L370.1 681.1L370.5 695.9L370.8 691.4L371.2 695.2L371.5 687.3L371.9 678.7L372.2 684.3L372.6 690.3L372.9 680.8L373.3 679.0L373.6 696.5L374.0 684.1L374.3 690.8L374.7 682.5L375.0 682.1L375.4 693.5L375.7 682.8L376.1 688.9L376.4 686.9L376.8 684.5L377.1 694.2L377.5 697.1L377.8 689.8L378.2 684.7L378.5 679.5L378.9 693.2L379.2 696.0L379.6 696.8L379.9 679.4L380.3 692.4L380.6 681.0L381.0 684.3L381.3 693.0L381.7 692.8L382.0 682.0L382.4 690.0L382.7 688.8L383.1 684.2L383.4 695.9L383.8 692.7L384.1 679.9L384.5 679.3L384.8 689.7L385.2 684.5L385.5 689.4L385.9 692.9L386.2 687.9L386.6 690.8L386.9 696.1L387.3 692.6L387.6 686.7L388.0 691.8L388.3 697.2L388.7 687.7L389.0 693.3L389.4 688.3L389.7 679.8L390.1 692.1L390.4 681.0L390.8 695.8L391.1 694.3L391.5 690.9L391.8 696.7L392.2 679.0L392.5 693.3L392.9 696.0L393.2 683.6L393.6 685.7L393.9 679.3L394.3 692.2L394.6 678.6L395.0 690.7L395.3 688.3L395.7 691.1L396.0 692.1L396.4 697.0L396.7 691.2L397.1 695.2L397.4 679.8L397.8 688.0L398.1 691.0L398.5 696.9L398.8 683.7L399.2 695.0L399.5 689.0L399.9 695.7L400.2 685.3L400.6 684.2L400.9 694.6L401.3 689.9L401.6 690.7L402.0 689.8L402.3 694.0L402.7 685.1L403.0 679.3L403.4 695.1L403.7 690.2L404.1 679.5L404.4 696.6L404.8 695.9L405.1 688.8L405.5 684.3L405.8 692.5L406.2 693.6L406.5 694.5L406.9 689.3L407.2 693.4L407.6 696.7L407.9 691.7L408.3 686.3L408.6 681.0L409.0 683.2L409.3 688.7L409.7 696.5L410.0 680.3L410.4 690.0L410.7 694.6L411.1 685.5L411.4 686.5L411.8 692.9L412.1 685.4L412.5 678.3L412.8 684.5L413.2 679.2L413.5 696.2L413.9 686.3L414.2 695.0L414.6 680.9L414.9 685.1L415.3 691.5L415.6 680.6L416.0 686.3L416.3 686.4L416.7 678.6L417.0 684.5L417.4 696.9L417.7 686.8L418.1 679.6L418.4 691.4L418.8 684.7L419.1 687.1L419.5 694.8L419.8 681.7L420.2 680.2L420.5 685.3L420.9 688.0L421.2 687.8L421.6 686.4L421.9 695.2L422.3 693.2L422.6 693.2L423.0 692.4L423.3 685.4L423.7 687.7L424.0 686.6L424.4 685.7L424.7 692.8L425.1 684.4L425.4 686.0L425.8 680.6L426.1 682.3L426.5 686.0L426.8 695.2L427.2 683.0L427.5 690.6L427.9 688.0L428.2 678.4L428.6 678.8L428.9 684.5L429.3 691.2L429.6 680.6L430.0 680.9L430.3 682.6L430.7 686.7L431.0 679.5L431.4 693.0L431.7 686.6L432.1 694.6L432.4 693.6L432.8 696.7L433.1 680.2L433.5 694.9L433.8 687.1L434.2 687.1L434.5 693.3L434.9 678.5L435.2 684.2L435.6 693.7L435.9 678.6L436.3 693.2L436.6 688.7L437.0 678.4L437.3 679.6L437.7 684.1L438.0 690.9L438.4 695.8L438.7 692.6L439.1 678.9L439.4 690.1L439.8 688.2L440.1 686.9L440.5 684.7L440.8 694.2L441.2 690.5L441.5 696.6L441.9 681.9L442.2 685.1L442.6 681.2L442.9 682.8L443.3 681.5L443.6 690.7L444.0 684.6L444.3 693.4L444.7 690.4L445.0 681.5L445.4 685.4L445.7 693.7L446.1 692.2L446.4 679.4L446.8 695.9L447.1 686.6L447.5 695.7L447.8 689.6L448.2 691.4L448.5 684.7L448.9 682.0L449.2 692.1L449.6 686.1L449.9 687.0L450.3 689.9L450.6 694.6L451.0 681.5L451.3 692.5L451.7 694.6L452.0 681.4L452.4 681.5L452.7 694.3L453.1 695.3L453.4 689.8L453.8 692.6L454.1 680.4L454.5 687.6L454.8 695.0L455.2 682.0L455.5 686.5L455.9 682.0L456.2 685.9L456.6 680.0L456.9 692.6L457.3 683.0L457.6 694.9L458.0 683.2L458.3 687.9L458.7 685.3L459.0 685.2L459.4 681.7L459.7 680.6L460.1 695.1L460.4 689.5L460.8 682.7L461.1 694.8L461.5 684.6L461.8 689.5L462.2 686.1L462.5 683.8L462.9 686.6L463.2 681.8L463.6 686.9L463.9 681.3L464.3 686.5L464.6 682.5L465.0 691.9L465.3 684.5L465.7 682.1L466.0 692.9L466.4 693.3L466.7 687.2L467.1 682.0L467.4 687.3L467.8 694.2L468.1 689.0L468.5 682.3L468.8 684.3L469.2 692.5L469.5 687.7L469.9 687.8L470.2 688.2L470.6 688.3L470.9 688.5L471.3 687.4L471.6 685.9L472.0 687.5L472.3 687.4L472.7 688.6L473.0 687.4L473.4 689.1L473.7 686.9L474.1 688.0L474.4 688.9L474.8 688.2L475.1 686.6L475.5 687.6L475.8 688.8L476.2 687.1L476.5 687.3L476.9 688.6L477.2 688.4L477.6 687.3L477.9 688.2L478.3 687.8" fill="none" stroke="#1a1a9c" stroke-width="0.6"/>
<path d="M452.3 680.7V695.0M446.0 675.9V697.6M407.1 679.7V697.8M311.7 679.8V697.4M449.2 680.3V698.6M301.7 678.3V697.0M359.1 679.6V698.0M449.9 679.8V698.5M448.4 678.8V695.4M332.6 676.0V698.9M394.9 679.0V697.8M417.1 676.1V697.8M332.1 679.6V696.8M374.9 678.1V696.9M454.7 679.1V695.5M338.1 674.7V697.7M270.7 684.1V691.9M362.2 678.6V698.6M338.1 678.2V696.4M310.8 680.0V698.4M339.2 676.0V696.0M442.9 678.3V698.4M427.3 675.9V701.4M340.0 677.3V699.7M310.9 677.0V699.2M367.7 678.7V697.9M409.3 678.1V700.1M304.1 679.7V696.9M402.1 677.6V700.0M386.8 675.2V696.1M368.0 677.6V698.0M445.7 676.8V696.6M388.7 678.6V701.3M303.4 680.5V694.8M305.7 679.9V694.7M378.7 678.6V700.8M378.5 679.0V698.0M459.3 677.3V696.5M451.6 677.5V699.1M474.2 686.3V689.0M333.9 678.3V699.9M420.8 675.5V697.7M339.2 676.7V699.3M285.4 677.9V698.1M302.9 679.5V696.5M424.5 675.1V699.2M324.6 675.2V700.0M282.2 677.6V696.3M404.2 678.0V698.3M469.2 681.4V693.4M309.3 676.4V698.9M469.6 683.6V693.5M476.2 686.6V689.3M396.0 676.0V698.4M369.1 675.3V699.3M440.7 678.6V696.4M454.7 680.9V695.3M366.4 675.3V696.1M327.3 676.6V700.8M345.0 678.8V698.4M316.9 678.6V700.0M329.2 679.6V695.9M364.4 679.2V700.2M417.7 676.8V700.5M380.8 678.3V699.4M411.4 675.4V700.9M301.8 680.6V695.8M278.1 679.7V697.0M432.3 679.6V700.9M345.7 674.8V697.4M334.2 678.3V697.9M271.6 682.3V694.7M417.3 678.4V701.4M328.3 678.6V701.2M419.6 678.4V700.8M279.2 681.7V694.5M350.2 675.9V699.1M363.8 675.3V699.4M282.1 678.7V694.2M405.1 677.3V698.7M384.7 676.8V696.8M345.6 678.2V695.9M404.0 675.0V700.3M315.7 677.4V699.0M387.5 678.7V699.2M280.0 679.2V696.6M309.4 677.3V699.2M409.7 679.5V697.4M374.8 678.7V699.5M470.4 684.4V692.2M411.2 676.4V701.1M421.9 677.9V700.6M353.8 678.0V700.2M463.1 677.9V697.3M337.4 678.7V696.5M421.7 676.8V698.3M382.6 678.0V699.5M388.7 674.7V699.7M397.1 676.9V697.2M344.1 678.2V696.1M332.3 674.8V697.5M335.5 679.0V696.8M397.7 679.2V696.2M426.9 676.7V698.8M336.7 678.2V696.8M290.2 678.6V695.6M339.9 674.3V697.1M299.2 677.8V698.1M305.3 680.6V695.2M275.3 680.7V696.1M439.1 674.8V696.0M334.9 677.8V699.1M446.0 677.3V698.1M340.3 675.5V696.2M403.3 676.2V696.2M280.5 680.8V697.6M389.2 679.2V700.9M322.3 679.9V699.9M473.1 686.5V689.6M442.6 674.7V700.6M281.7 680.3V695.0M300.0 676.8V697.0M318.6 679.3V695.8M436.9 675.5V697.0M320.4 678.5V696.3M406.1 677.3V699.1M468.0 681.4V694.0M363.8 676.1V697.8M394.2 677.7V698.5M280.5 679.4V696.3M276.2 678.9V698.0M306.5 679.8V697.5M469.3 681.7V693.2M346.8 676.8V698.7M301.6 677.3V698.2M323.3 676.3V700.7M408.2 676.6V699.8M318.8 679.0V696.2M374.4 676.0V699.6M297.3 678.9V697.5M350.8 676.8V701.2M396.6 679.5V696.1M273.8 680.5V696.3M409.5 674.7V698.3M362.7 674.5V698.8M337.2 678.0V698.1M412.6 675.3V696.9M412.1 674.4V697.7M319.4 679.4V696.6M290.9 678.6V697.7" fill="none" stroke="#1a1a9c" stroke-width="0.6"/>
<rect x="254.0" y="663.9" width="9.0" height="51.1" fill="#000" stroke="none" stroke-width="1"/>
<text x="337.8" y="670.2" font-size="10" font-weight="bold" fill="#000" text-anchor="start" textLength="47.4" lengthAdjust="spacingAndGlyphs">ChR2-sGS</text>
<line x1="493.6" y1="687.8" x2="500.0" y2="687.8" stroke="#8b1414" stroke-width="0.8"/>
<rect x="514.3" y="666.2" width="7.7" height="42.1" fill="#d89090" stroke="none" stroke-width="1"/>
<line x1="515.0" y1="666.2" x2="515.0" y2="708.3" stroke="#b85050" stroke-width="0.7"/>
<line x1="516.6" y1="666.2" x2="516.6" y2="708.3" stroke="#b85050" stroke-width="0.7"/>
<line x1="518.2" y1="666.2" x2="518.2" y2="708.3" stroke="#b85050" stroke-width="0.7"/>
<line x1="519.8" y1="666.2" x2="519.8" y2="708.3" stroke="#b85050" stroke-width="0.7"/>
<line x1="521.3" y1="666.2" x2="521.3" y2="708.3" stroke="#b85050" stroke-width="0.7"/>
<path d="M508.2,687.8 l1,-2 l1,4 l1,-3 l1,2 l1,-1 l1.5,0" fill="none" stroke="#8b1414" stroke-width="0.8"/>
<path d="M522.0,687.4 522.7,684.5 523.4,681.6 524.1,683.0 524.8,684.6 525.5,681.8 526.2,682.8 526.9,682.8 527.6,684.7 528.3,684.4 529.0,684.5 529.7,684.4 530.4,684.3 531.1,682.7 531.8,683.9 532.5,682.8 533.2,683.6 533.9,683.4 534.6,684.6 535.3,682.6 536.0,682.9 536.7,683.9 537.4,684.6 538.1,683.4 538.8,683.9 539.5,684.2 540.2,683.9 540.9,683.2 541.6,684.8 542.3,683.2 543.0,683.6 543.7,683.1 544.4,684.9 545.1,685.2 545.8,684.1 546.5,685.2 547.2,685.3 547.9,683.3 548.6,683.8 549.3,683.2 550.0,683.5 550.7,683.8 551.4,685.2 552.1,683.6 552.8,684.6 553.5,684.6 554.2,684.1 554.9,684.7 555.6,684.3 556.3,684.6 557.0,683.8 557.7,684.8 558.4,684.8 559.1,684.6 559.8,684.7 560.5,684.9 561.2,685.4 561.9,685.3 562.6,685.3 563.3,683.9 564.0,684.1 564.7,685.5 565.4,685.1 566.1,685.7 566.8,683.9 567.5,683.8 568.2,685.1 568.9,684.3 569.6,685.1 570.3,684.8 571.0,684.0 571.7,684.3 572.4,684.5 573.1,685.5 573.8,685.4 574.5,685.7 575.2,685.7 575.9,685.6 576.6,685.2 577.3,685.3 578.0,684.9 578.7,685.7 579.4,685.7 580.1,684.3 580.8,685.9 581.5,685.6 582.2,684.9 582.9,684.5 583.6,684.6 584.3,685.6 585.0,684.7 585.7,685.3 586.4,684.6 587.1,685.2 587.8,685.9 588.5,684.6 589.2,684.9 589.9,685.2 590.6,685.6 591.3,685.5 592.0,686.0 592.7,685.2 593.4,686.1 594.1,685.6 594.8,686.1 595.5,685.1 596.2,686.0 596.9,685.4 597.6,685.4 598.3,685.9 599.0,685.7 599.7,686.0 600.4,686.1 601.1,686.4 601.8,686.5 602.5,686.4 603.2,686.5 603.9,686.2 604.6,686.3 605.3,686.6 606.0,687.0 606.7,687.0 607.4,686.9 608.1,687.3 608.8,687.2 609.5,687.2 610.2,687.4 610.9,687.6 611.6,687.6 612.3,687.6 613.0,687.5 613.7,687.5 614.4,687.6 615.1,687.6 615.8,687.5 616.5,687.6 617.2,687.5 617.9,687.6 618.6,687.6 619.3,687.6 620.0,687.6 620.7,687.6 621.4,687.6 622.1,687.6 622.8,687.6 623.5,687.6 624.2,687.5 624.9,687.5 625.6,687.6 626.3,687.5 627.0,687.6 627.7,687.6 628.4,687.5 629.1,687.5 629.8,687.7 630.5,687.6 630.5,688.1 629.8,688.0 629.1,688.1 628.4,688.0 627.7,688.0 627.0,688.0 626.3,688.0 625.6,688.0 624.9,688.0 624.2,688.0 623.5,688.0 622.8,688.0 622.1,688.1 621.4,688.1 620.7,688.0 620.0,688.0 619.3,688.0 618.6,688.0 617.9,688.0 617.2,688.0 616.5,688.0 615.8,688.1 615.1,688.0 614.4,688.1 613.7,688.0 613.0,688.1 612.3,688.0 611.6,688.0 610.9,688.1 610.2,688.1 609.5,688.3 608.8,688.2 608.1,688.3 607.4,688.3 606.7,688.5 606.0,689.0 605.3,688.5 604.6,689.0 603.9,688.8 603.2,689.1 602.5,689.6 601.8,689.4 601.1,689.7 600.4,689.1 599.7,689.6 599.0,689.8 598.3,689.8 597.6,689.4 596.9,690.4 596.2,690.6 595.5,690.1 594.8,690.0 594.1,690.5 593.4,689.5 592.7,690.6 592.0,691.0 591.3,689.7 590.6,689.9 589.9,690.8 589.2,689.5 588.5,690.7 587.8,690.3 587.1,690.8 586.4,690.6 585.7,691.0 585.0,690.0 584.3,689.6 583.6,689.9 582.9,690.1 582.2,691.3 581.5,690.5 580.8,691.1 580.1,689.9 579.4,690.4 578.7,690.5 578.0,690.4 577.3,690.2 576.6,691.2 575.9,690.8 575.2,691.4 574.5,690.0 573.8,689.9 573.1,690.6 572.4,691.1 571.7,690.3 571.0,690.8 570.3,691.0 569.6,690.3 568.9,690.8 568.2,690.5 567.5,691.2 566.8,689.9 566.1,691.5 565.4,691.5 564.7,691.8 564.0,691.2 563.3,691.8 562.6,689.9 561.9,690.4 561.2,690.4 560.5,690.7 559.8,691.2 559.1,691.5 558.4,691.9 557.7,690.1 557.0,690.1 556.3,690.3 555.6,690.4 554.9,691.6 554.2,690.2 553.5,691.3 552.8,690.1 552.1,690.3 551.4,691.0 550.7,691.8 550.0,691.4 549.3,691.8 548.6,692.1 547.9,691.2 547.2,692.1 546.5,691.5 545.8,692.0 545.1,692.0 544.4,691.5 543.7,691.2 543.0,690.3 542.3,691.7 541.6,690.6 540.9,690.6 540.2,692.6 539.5,691.2 538.8,691.0 538.1,691.1 537.4,690.7 536.7,691.5 536.0,691.2 535.3,690.9 534.6,690.7 533.9,692.1 533.2,691.1 532.5,691.1 531.8,692.2 531.1,691.1 530.4,692.7 529.7,691.4 529.0,693.1 528.3,690.8 527.6,690.8 526.9,691.6 526.2,693.5 525.5,691.5 524.8,692.9 524.1,694.0 523.4,693.2 522.7,691.1 522.0,688.3Z" fill="#8b1414" opacity="1.0"/>
<path d="M522.0 686.8L522.4 684.7L522.7 693.1L523.1 698.4L523.4 679.5L523.8 686.2L524.1 685.6L524.5 688.9L524.8 682.0L525.2 693.6L525.5 696.9L525.9 697.0L526.2 679.3L526.6 680.2L526.9 697.1L527.3 679.3L527.6 682.4L528.0 697.2L528.3 680.8L528.7 694.3L529.0 679.3L529.4 682.9L529.7 689.0L530.1 695.4L530.4 678.6L530.8 682.4L531.1 693.6L531.5 682.5L531.8 679.3L532.2 681.0L532.5 694.0L532.9 684.3L533.2 687.1L533.6 688.4L533.9 690.7L534.3 685.5L534.6 680.5L535.0 692.2L535.3 696.0L535.7 686.9L536.0 682.8L536.4 692.4L536.7 694.2L537.1 680.0L537.4 695.7L537.8 687.5L538.1 685.6L538.5 685.7L538.8 683.2L539.2 692.2L539.5 679.5L539.9 682.2L540.2 689.0L540.6 683.0L540.9 693.2L541.3 681.5L541.6 684.4L542.0 689.7L542.3 691.8L542.7 687.0L543.0 693.6L543.4 694.9L543.7 683.4L544.1 690.1L544.4 684.3L544.8 695.6L545.1 687.4L545.5 684.5L545.8 694.9L546.2 691.8L546.5 686.9L546.9 686.2L547.2 684.1L547.6 682.7L547.9 685.2L548.3 683.3L548.6 683.3L549.0 681.5L549.3 681.7L549.7 689.0L550.0 687.5L550.4 683.4L550.7 680.4L551.1 695.6L551.4 680.2L551.8 684.7L552.1 688.4L552.5 695.3L552.8 685.6L553.2 694.4L553.5 688.2L553.9 692.6L554.2 680.9L554.6 683.1L554.9 689.1L555.3 688.7L555.6 680.7L556.0 683.6L556.3 688.3L556.7 681.5L557.0 687.6L557.4 681.7L557.7 684.5L558.1 684.4L558.4 681.2L558.8 682.3L559.1 692.6L559.5 684.5L559.8 686.8L560.2 691.8L560.5 694.1L560.9 684.8L561.2 681.0L561.6 691.0L561.9 685.9L562.3 686.3L562.6 681.5L563.0 681.0L563.3 683.6L563.7 693.5L564.0 690.1L564.4 692.9L564.7 685.8L565.1 691.8L565.4 681.3L565.8 688.4L566.1 686.6L566.5 693.2L566.8 693.9L567.2 684.5L567.5 684.1L567.9 688.2L568.2 686.9L568.6 691.9L568.9 683.2L569.3 686.6L569.6 681.7L570.0 682.4L570.3 686.1L570.7 684.5L571.0 692.2L571.4 690.1L571.7 683.0L572.1 692.4L572.4 682.1L572.8 683.4L573.1 688.0L573.5 689.1L573.8 687.2L574.2 682.6L574.5 687.0L574.9 690.9L575.2 690.1L575.6 683.7L575.9 689.2L576.3 688.5L576.6 687.8L577.0 685.1L577.3 688.2L577.7 689.2L578.0 684.0L578.4 688.7L578.7 690.0L579.1 683.4L579.4 686.8L579.8 687.5L580.1 689.1L580.5 687.0L580.8 692.9L581.2 690.1L581.5 689.7L581.9 686.8L582.2 687.2L582.6 691.3L582.9 683.8L583.3 693.6L583.6 685.3L584.0 689.3L584.3 689.7L584.7 693.5L585.0 693.7L585.4 683.9L585.7 689.3L586.1 687.9L586.4 689.6L586.8 684.0L587.1 688.3L587.5 693.4L587.8 683.1L588.2 688.7L588.5 689.5L588.9 691.7L589.2 691.7L589.6 682.5L589.9 683.3L590.3 686.7L590.6 689.2L591.0 691.5L591.3 687.3L591.7 687.4L592.0 692.2L592.4 690.7L592.7 692.0L593.1 682.3L593.4 685.8L593.8 685.3L594.1 690.1L594.5 683.2L594.8 684.9L595.2 688.4L595.5 682.6L595.9 683.6L596.2 684.8L596.6 687.4L596.9 683.1L597.3 686.6L597.6 692.2L598.0 692.1L598.3 686.4L598.7 689.1L599.0 686.9L599.4 683.9L599.7 687.5L600.1 686.1L600.4 686.1L600.8 685.2L601.1 689.3L601.5 688.1L601.8 688.5L602.2 689.8L602.5 684.8L602.9 690.8L603.2 690.7L603.6 690.6L603.9 688.5L604.3 686.7L604.6 687.7L605.0 689.0L605.3 687.8L605.7 687.4L606.0 686.9L606.4 688.7L606.7 686.0L607.1 689.0L607.4 687.2L607.8 688.7L608.1 686.5L608.5 687.6L608.8 687.5L609.2 688.9L609.5 688.7L609.9 688.4L610.2 688.5L610.6 687.5L610.9 687.3L611.3 687.5L611.6 687.9L612.0 687.8L612.3 687.8L612.7 687.9L613.0 687.4L613.4 687.7L613.7 688.0L614.1 687.4L614.4 687.4L614.8 687.8L615.1 688.0L615.5 687.9L615.8 687.4L616.2 688.1L616.5 688.2L616.9 687.5L617.2 687.5L617.6 687.6L617.9 688.0L618.3 687.4L618.6 688.0L619.0 687.5L619.3 688.2L619.7 687.6L620.0 687.7L620.4 687.8L620.7 687.6L621.1 688.2L621.4 687.7L621.8 687.3L622.1 687.3L622.5 687.9L622.8 688.0L623.2 687.6L623.5 687.4L623.9 687.7L624.2 687.5L624.6 687.6L624.9 687.6L625.3 687.8L625.6 687.9L626.0 687.8L626.3 687.6L626.7 688.2L627.0 687.8L627.4 688.0L627.7 687.9L628.1 687.9L628.4 687.6L628.8 688.2L629.1 687.4L629.5 687.8L629.8 687.4L630.2 688.0L630.5 687.4L630.9 687.6" fill="none" stroke="#8b1414" stroke-width="0.6"/>
<path d="M536.0 675.7V695.9M553.4 680.2V696.2M552.7 677.8V696.2M565.7 679.8V694.0M605.1 685.6V690.8M536.1 679.9V699.9M582.9 681.9V693.2M541.8 676.5V698.7M609.4 686.7V689.1M547.5 677.4V695.5M560.5 678.9V695.4M567.7 679.5V694.1M523.3 677.5V702.4M623.1 687.4V688.2M624.4 687.1V688.4M582.7 682.2V695.2M561.1 679.6V693.9M623.3 687.2V688.3M565.7 680.5V697.4M605.5 685.8V691.0M546.6 678.0V699.3M618.7 687.2V688.2M626.9 687.2V688.4M576.8 678.9V694.7M543.4 676.2V696.6M584.0 680.5V693.9M625.2 687.3V688.3M576.8 681.8V696.3M526.7 677.3V696.6M628.9 687.2V688.3M624.0 687.3V688.3M612.6 687.2V688.3M563.6 679.3V696.4M531.0 678.4V699.4M532.4 675.2V696.5M553.8 680.3V696.5M572.4 680.0V694.1M567.0 679.2V694.0M552.4 681.2V696.1M627.8 687.1V688.3M560.7 680.0V697.3M543.3 678.5V697.6M562.7 681.6V697.2M626.7 687.3V688.4M627.2 687.2V688.4M557.5 677.6V695.4M575.4 680.0V693.2M547.8 676.4V697.1M587.0 680.9V693.9M597.2 682.1V692.8M534.1 678.1V698.4M528.5 676.7V701.8M535.1 677.7V699.6M557.0 681.6V697.8M589.4 682.3V694.6M529.7 677.4V697.4M596.7 681.3V693.8M630.0 687.2V688.2M626.1 687.3V688.4M528.8 673.8V699.7M592.1 680.2V693.3M571.3 679.9V696.8M618.3 687.4V688.2M616.9 687.3V688.2M581.4 679.8V693.5M522.2 684.4V691.1M590.7 682.1V694.3M586.2 680.6V693.5M611.5 687.2V688.3M590.0 682.9V692.6" fill="none" stroke="#8b1414" stroke-width="0.6"/>
<rect x="500.0" y="663.9" width="8.2" height="51.1" fill="#000" stroke="none" stroke-width="1"/>
<text x="546.4" y="670.2" font-size="10" font-weight="bold" fill="#000" text-anchor="start" textLength="45.4" lengthAdjust="spacingAndGlyphs">Arch-sGS</text>
<polyline points="613.4,691.9 613.4,709.0 643.6,709.0" fill="none" stroke="#000" stroke-width="1"/>
<text x="589.2" y="707.8" font-size="9.3" fill="#000" text-anchor="start" textLength="21.8" lengthAdjust="spacingAndGlyphs">4 mV</text>
<text x="619.5" y="718.3" font-size="8.7" fill="#000" text-anchor="start" textLength="16.5" lengthAdjust="spacingAndGlyphs">10 s</text>
<text x="-0.1" y="752.6" font-size="20" fill="#000" text-anchor="start">m</text>
<line x1="30.2" y1="765.8" x2="631.0" y2="765.8" stroke="#000" stroke-width="1.1"/>
<polygon points="635.0,765.8 627.5,763.4 627.5,768.2" fill="#000"/>
<line x1="56.9" y1="760.8" x2="56.9" y2="769.8" stroke="#000" stroke-width="1"/>
<line x1="200.9" y1="760.8" x2="200.9" y2="769.8" stroke="#000" stroke-width="1"/>
<line x1="374.3" y1="760.8" x2="374.3" y2="769.8" stroke="#000" stroke-width="1"/>
<text x="64.5" y="760.6" font-size="11.1" fill="#000" text-anchor="start" textLength="125.8" lengthAdjust="spacingAndGlyphs">Viral expression+Surgery</text>
<text x="188.0" y="779.8" font-size="10.9" fill="#000" text-anchor="start" textLength="25" lengthAdjust="spacingAndGlyphs">Base</text>
<text x="218.5" y="746.2" font-size="11.1" fill="#000" text-anchor="start" textLength="52.4" lengthAdjust="spacingAndGlyphs">2s kindling</text>
<text x="299.5" y="749.0" font-size="8" fill="#000" text-anchor="start" textLength="38.5" lengthAdjust="spacingAndGlyphs">...... ......</text>
<text x="267.7" y="762.4" font-size="11.2" fill="#000" text-anchor="start" textLength="101.8" lengthAdjust="spacingAndGlyphs">10 Stimulations daily</text>
<text x="335.7" y="779.8" font-size="11.2" fill="#000" text-anchor="start" textLength="60.1" lengthAdjust="spacingAndGlyphs">Fully kindled</text>
<text x="408.0" y="746.2" font-size="11.1" fill="#000" text-anchor="start" textLength="17.6" lengthAdjust="spacingAndGlyphs">Pre</text>
<text x="492.0" y="746.2" font-size="11.1" fill="#000" text-anchor="start" textLength="23.2" lengthAdjust="spacingAndGlyphs">Light</text>
<text x="566.6" y="746.2" font-size="11.1" fill="#000" text-anchor="start" textLength="22.6" lengthAdjust="spacingAndGlyphs">Post</text>
<line x1="223.4" y1="754.8" x2="223.4" y2="765.8" stroke="#000" stroke-width="1"/>
<polygon points="229.1,755.3 225.5,761.0 227.9,760.5 226.2,765.2 231.4,758.7 228.9,759.1 231.2,755.3" fill="#000"/>
<line x1="241.0" y1="754.8" x2="241.0" y2="765.8" stroke="#000" stroke-width="1"/>
<polygon points="246.7,755.3 243.1,761.0 245.5,760.5 243.8,765.2 249.0,758.7 246.5,759.1 248.8,755.3" fill="#000"/>
<line x1="256.1" y1="754.8" x2="256.1" y2="765.8" stroke="#000" stroke-width="1"/>
<polygon points="261.8,755.3 258.2,761.0 260.6,760.5 258.9,765.2 264.1,758.7 261.6,759.1 263.9,755.3" fill="#000"/>
<line x1="395.4" y1="754.8" x2="395.4" y2="765.8" stroke="#000" stroke-width="1"/>
<polygon points="401.1,755.3 397.5,761.0 399.9,760.5 398.2,765.2 403.4,758.7 400.9,759.1 403.2,755.3" fill="#000"/>
<line x1="413.0" y1="754.8" x2="413.0" y2="765.8" stroke="#000" stroke-width="1"/>
<polygon points="418.7,755.3 415.1,761.0 417.5,760.5 415.8,765.2 421.0,758.7 418.5,759.1 420.8,755.3" fill="#000"/>
<line x1="428.1" y1="754.8" x2="428.1" y2="765.8" stroke="#000" stroke-width="1"/>
<polygon points="433.8,755.3 430.2,761.0 432.6,760.5 430.9,765.2 436.1,758.7 433.6,759.1 435.9,755.3" fill="#000"/>
<line x1="566.6" y1="754.8" x2="566.6" y2="765.8" stroke="#000" stroke-width="1"/>
<polygon points="572.3,755.3 568.7,761.0 571.1,760.5 569.4,765.2 574.6,758.7 572.1,759.1 574.4,755.3" fill="#000"/>
<line x1="584.2" y1="754.8" x2="584.2" y2="765.8" stroke="#000" stroke-width="1"/>
<polygon points="589.9,755.3 586.3,761.0 588.7,760.5 587.0,765.2 592.2,758.7 589.7,759.1 592.0,755.3" fill="#000"/>
<line x1="463.4" y1="754.8" x2="463.4" y2="765.8" stroke="#000" stroke-width="1"/>
<polygon points="469.1,755.3 465.5,761.0 467.9,760.5 466.2,765.2 471.4,758.7 468.9,759.1 471.2,755.3" fill="#000"/>
<rect x="472.0" y="751.2" width="9.5" height="14.6" fill="#c8b39a" stroke="none" stroke-width="1"/>
<line x1="491.0" y1="754.8" x2="491.0" y2="765.8" stroke="#000" stroke-width="1"/>
<polygon points="496.7,755.3 493.1,761.0 495.5,760.5 493.8,765.2 499.0,758.7 496.5,759.1 498.8,755.3" fill="#000"/>
<rect x="498.6" y="751.2" width="9.5" height="14.6" fill="#c8b39a" stroke="none" stroke-width="1"/>
<line x1="517.2" y1="754.8" x2="517.2" y2="765.8" stroke="#000" stroke-width="1"/>
<polygon points="522.9,755.3 519.3,761.0 521.7,760.5 520.0,765.2 525.2,758.7 522.7,759.1 525.0,755.3" fill="#000"/>
<rect x="525.6" y="751.2" width="9.5" height="14.6" fill="#c8b39a" stroke="none" stroke-width="1"/>
<defs><linearGradient id="gb" x1="0" y1="0" x2="0" y2="1"><stop offset="0" stop-color="#3838e4"/><stop offset="0.3" stop-color="#4242e4"/><stop offset="0.6" stop-color="#a4a4f0"/><stop offset="0.85" stop-color="#ececfc"/><stop offset="1" stop-color="#fff"/></linearGradient><linearGradient id="gbn" x1="0" y1="0" x2="0" y2="1"><stop offset="0" stop-color="#3636e2"/><stop offset="0.15" stop-color="#4444e4"/><stop offset="0.45" stop-color="#9c9cee"/><stop offset="0.8" stop-color="#ececfc"/><stop offset="1" stop-color="#fff"/></linearGradient><linearGradient id="go" x1="0" y1="0" x2="0" y2="1"><stop offset="0" stop-color="#df7d2a"/><stop offset="0.15" stop-color="#e48c3c"/><stop offset="0.5" stop-color="#f2c7a0"/><stop offset="0.85" stop-color="#fcf0e6"/><stop offset="1" stop-color="#fff"/></linearGradient><linearGradient id="goq" x1="0" y1="0" x2="0" y2="1"><stop offset="0" stop-color="#e2893a"/><stop offset="0.1" stop-color="#eaa566"/><stop offset="0.45" stop-color="#f4cfaa"/><stop offset="0.85" stop-color="#fcf2e8"/><stop offset="1" stop-color="#fff"/></linearGradient></defs>
<text x="-0.1" y="795.9" font-size="20" fill="#000" text-anchor="start">n</text>
<text x="110.7" y="795.9" font-size="20" fill="#000" text-anchor="start">o</text>
<text x="220.7" y="795.1" font-size="20" fill="#000" text-anchor="start">p</text>
<text x="337.5" y="795.9" font-size="20" fill="#000" text-anchor="start">q</text>
<text x="457.1" y="795.9" font-size="20" fill="#000" text-anchor="start">r</text>
<text x="553.9" y="795.9" font-size="20" fill="#000" text-anchor="start">s</text>
<rect x="55.4" y="799.8" width="18.5" height="84.4" fill="url(#gbn)" stroke="none" stroke-width="1"/>
<line x1="21.8" y1="801.8" x2="21.8" y2="887.7" stroke="#000" stroke-width="1.1"/>
<line x1="21.8" y1="887.2" x2="108.3" y2="887.2" stroke="#000" stroke-width="1.1"/>
<line x1="19.5" y1="887.2" x2="21.8" y2="887.2" stroke="#000" stroke-width="1"/>
<text x="19.2" y="890.1" font-size="8" font-weight="bold" fill="#000" text-anchor="end">0</text>
<line x1="19.5" y1="870.6" x2="21.8" y2="870.6" stroke="#000" stroke-width="1"/>
<text x="19.2" y="873.5" font-size="8" font-weight="bold" fill="#000" text-anchor="end">1</text>
<line x1="19.5" y1="854.0" x2="21.8" y2="854.0" stroke="#000" stroke-width="1"/>
<text x="19.2" y="856.9" font-size="8" font-weight="bold" fill="#000" text-anchor="end">2</text>
<line x1="19.5" y1="837.3" x2="21.8" y2="837.3" stroke="#000" stroke-width="1"/>
<text x="19.2" y="840.2" font-size="8" font-weight="bold" fill="#000" text-anchor="end">3</text>
<line x1="19.5" y1="820.7" x2="21.8" y2="820.7" stroke="#000" stroke-width="1"/>
<text x="19.2" y="823.6" font-size="8" font-weight="bold" fill="#000" text-anchor="end">4</text>
<line x1="19.5" y1="804.1" x2="21.8" y2="804.1" stroke="#000" stroke-width="1"/>
<text x="19.2" y="807.0" font-size="8" font-weight="bold" fill="#000" text-anchor="end">5</text>
<line x1="35.6" y1="887.2" x2="35.6" y2="889.6" stroke="#000" stroke-width="1"/>
<text x="35.6" y="897.8" font-size="8.3" font-weight="bold" fill="#000" text-anchor="middle" textLength="12.6" lengthAdjust="spacingAndGlyphs">Pre</text>
<line x1="65.1" y1="887.2" x2="65.1" y2="889.6" stroke="#000" stroke-width="1"/>
<text x="65.1" y="897.8" font-size="8.3" font-weight="bold" fill="#000" text-anchor="middle" textLength="21" lengthAdjust="spacingAndGlyphs">Light</text>
<line x1="94.0" y1="887.2" x2="94.0" y2="889.6" stroke="#000" stroke-width="1"/>
<text x="94.0" y="897.8" font-size="8.3" font-weight="bold" fill="#000" text-anchor="middle" textLength="18.4" lengthAdjust="spacingAndGlyphs">Post</text>
<path d="M44.2 804.1L56.2 804.1L84.8 804.1M41.0 809.6L73.0 804.1L101.6 804.1M35.6 809.6L65.1 809.6L98.6 812.4M30.2 809.6L59.0 804.1L94.0 812.4" fill="none" stroke="#000" stroke-width="1"/>
<circle cx="30.2" cy="804.1" r="1.9" fill="#fff" stroke="#000" stroke-width="1"/>
<circle cx="33.0" cy="804.1" r="1.9" fill="#fff" stroke="#000" stroke-width="1"/>
<circle cx="35.8" cy="804.1" r="1.9" fill="#fff" stroke="#000" stroke-width="1"/>
<circle cx="38.6" cy="804.1" r="1.9" fill="#fff" stroke="#000" stroke-width="1"/>
<circle cx="41.4" cy="804.1" r="1.9" fill="#fff" stroke="#000" stroke-width="1"/>
<circle cx="44.2" cy="804.1" r="1.9" fill="#fff" stroke="#000" stroke-width="1"/>
<circle cx="30.2" cy="809.6" r="1.9" fill="#fff" stroke="#000" stroke-width="1"/>
<circle cx="35.6" cy="809.6" r="1.9" fill="#fff" stroke="#000" stroke-width="1"/>
<circle cx="41.0" cy="809.6" r="1.9" fill="#fff" stroke="#000" stroke-width="1"/>
<circle cx="56.2" cy="804.1" r="1.9" fill="#fff" stroke="#000" stroke-width="1"/>
<circle cx="59.0" cy="804.1" r="1.9" fill="#fff" stroke="#000" stroke-width="1"/>
<circle cx="61.8" cy="804.1" r="1.9" fill="#fff" stroke="#000" stroke-width="1"/>
<circle cx="64.6" cy="804.1" r="1.9" fill="#fff" stroke="#000" stroke-width="1"/>
<circle cx="67.4" cy="804.1" r="1.9" fill="#fff" stroke="#000" stroke-width="1"/>
<circle cx="70.2" cy="804.1" r="1.9" fill="#fff" stroke="#000" stroke-width="1"/>
<circle cx="73.0" cy="804.1" r="1.9" fill="#fff" stroke="#000" stroke-width="1"/>
<circle cx="65.1" cy="809.6" r="1.9" fill="#fff" stroke="#000" stroke-width="1"/>
<circle cx="84.8" cy="804.1" r="1.9" fill="#fff" stroke="#000" stroke-width="1"/>
<circle cx="87.6" cy="804.1" r="1.9" fill="#fff" stroke="#000" stroke-width="1"/>
<circle cx="90.4" cy="804.1" r="1.9" fill="#fff" stroke="#000" stroke-width="1"/>
<circle cx="93.2" cy="804.1" r="1.9" fill="#fff" stroke="#000" stroke-width="1"/>
<circle cx="96.0" cy="804.1" r="1.9" fill="#fff" stroke="#000" stroke-width="1"/>
<circle cx="98.8" cy="804.1" r="1.9" fill="#fff" stroke="#000" stroke-width="1"/>
<circle cx="101.6" cy="804.1" r="1.9" fill="#fff" stroke="#000" stroke-width="1"/>
<circle cx="94.0" cy="812.4" r="1.9" fill="#fff" stroke="#000" stroke-width="1"/>
<circle cx="98.6" cy="812.4" r="1.9" fill="#fff" stroke="#000" stroke-width="1"/>
<text x="79.7" y="883.0" font-size="9" font-weight="bold" fill="#000" text-anchor="start" textLength="20.8" lengthAdjust="spacingAndGlyphs">n=10</text>
<text x="7.5" y="845.7" font-size="8.4" font-weight="bold" fill="#000" text-anchor="middle" transform="rotate(-90 7.5 845.7)" textLength="54.4" lengthAdjust="spacingAndGlyphs">Seizure Stage</text>
<rect x="164.6" y="799.6" width="18.7" height="84.6" fill="url(#gb)" stroke="none" stroke-width="1"/>
<line x1="132.2" y1="801.6" x2="132.2" y2="887.7" stroke="#000" stroke-width="1.1"/>
<line x1="132.2" y1="887.2" x2="216.2" y2="887.2" stroke="#000" stroke-width="1.1"/>
<line x1="129.9" y1="887.2" x2="132.2" y2="887.2" stroke="#000" stroke-width="1"/>
<text x="129.6" y="890.1" font-size="8" font-weight="bold" fill="#000" text-anchor="end">0</text>
<line x1="129.9" y1="859.4" x2="132.2" y2="859.4" stroke="#000" stroke-width="1"/>
<text x="129.6" y="862.3" font-size="8" font-weight="bold" fill="#000" text-anchor="end">20</text>
<line x1="129.9" y1="831.6" x2="132.2" y2="831.6" stroke="#000" stroke-width="1"/>
<text x="129.6" y="834.5" font-size="8" font-weight="bold" fill="#000" text-anchor="end">40</text>
<line x1="129.9" y1="803.8" x2="132.2" y2="803.8" stroke="#000" stroke-width="1"/>
<text x="129.6" y="806.7" font-size="8" font-weight="bold" fill="#000" text-anchor="end">60</text>
<line x1="145.6" y1="887.2" x2="145.6" y2="889.6" stroke="#000" stroke-width="1"/>
<text x="145.6" y="897.8" font-size="8.3" font-weight="bold" fill="#000" text-anchor="middle" textLength="12.6" lengthAdjust="spacingAndGlyphs">Pre</text>
<line x1="173.9" y1="887.2" x2="173.9" y2="889.6" stroke="#000" stroke-width="1"/>
<text x="173.9" y="897.8" font-size="8.3" font-weight="bold" fill="#000" text-anchor="middle" textLength="21" lengthAdjust="spacingAndGlyphs">Light</text>
<line x1="201.7" y1="887.2" x2="201.7" y2="889.6" stroke="#000" stroke-width="1"/>
<text x="201.7" y="897.8" font-size="8.3" font-weight="bold" fill="#000" text-anchor="middle" textLength="18.4" lengthAdjust="spacingAndGlyphs">Post</text>
<path d="M145.6 823.3L173.9 823.3L201.7 828.8M145.6 826.0L173.9 815.6L201.7 833.7M145.6 828.8L173.9 826.7L201.7 837.9M145.6 830.2L173.9 824.7L201.7 822.6M145.6 831.6L173.9 833.0L201.7 834.4M145.6 837.2L173.9 830.9L201.7 837.2M145.6 838.6L173.9 837.9L201.7 845.5M145.6 844.1L173.9 834.4L201.7 844.1M145.6 848.3L173.9 848.3L201.7 849.0M145.6 848.3L173.9 846.9L201.7 848.3" fill="none" stroke="#000" stroke-width="1"/>
<circle cx="145.6" cy="823.3" r="1.9" fill="#fff" stroke="#000" stroke-width="1"/>
<circle cx="145.6" cy="826.0" r="1.9" fill="#fff" stroke="#000" stroke-width="1"/>
<circle cx="145.6" cy="828.8" r="1.9" fill="#fff" stroke="#000" stroke-width="1"/>
<circle cx="145.6" cy="830.2" r="1.9" fill="#fff" stroke="#000" stroke-width="1"/>
<circle cx="145.6" cy="831.6" r="1.9" fill="#fff" stroke="#000" stroke-width="1"/>
<circle cx="145.6" cy="837.2" r="1.9" fill="#fff" stroke="#000" stroke-width="1"/>
<circle cx="145.6" cy="838.6" r="1.9" fill="#fff" stroke="#000" stroke-width="1"/>
<circle cx="145.6" cy="844.1" r="1.9" fill="#fff" stroke="#000" stroke-width="1"/>
<circle cx="145.6" cy="848.3" r="1.9" fill="#fff" stroke="#000" stroke-width="1"/>
<circle cx="145.6" cy="848.3" r="1.9" fill="#fff" stroke="#000" stroke-width="1"/>
<circle cx="173.9" cy="815.6" r="1.9" fill="#fff" stroke="#000" stroke-width="1"/>
<circle cx="173.9" cy="823.3" r="1.9" fill="#fff" stroke="#000" stroke-width="1"/>
<circle cx="173.9" cy="824.7" r="1.9" fill="#fff" stroke="#000" stroke-width="1"/>
<circle cx="173.9" cy="826.7" r="1.9" fill="#fff" stroke="#000" stroke-width="1"/>
<circle cx="173.9" cy="830.9" r="1.9" fill="#fff" stroke="#000" stroke-width="1"/>
<circle cx="173.9" cy="833.0" r="1.9" fill="#fff" stroke="#000" stroke-width="1"/>
<circle cx="173.9" cy="834.4" r="1.9" fill="#fff" stroke="#000" stroke-width="1"/>
<circle cx="173.9" cy="837.9" r="1.9" fill="#fff" stroke="#000" stroke-width="1"/>
<circle cx="173.9" cy="846.9" r="1.9" fill="#fff" stroke="#000" stroke-width="1"/>
<circle cx="173.9" cy="848.3" r="1.9" fill="#fff" stroke="#000" stroke-width="1"/>
<circle cx="201.7" cy="822.6" r="1.9" fill="#fff" stroke="#000" stroke-width="1"/>
<circle cx="201.7" cy="828.8" r="1.9" fill="#fff" stroke="#000" stroke-width="1"/>
<circle cx="201.7" cy="833.7" r="1.9" fill="#fff" stroke="#000" stroke-width="1"/>
<circle cx="201.7" cy="834.4" r="1.9" fill="#fff" stroke="#000" stroke-width="1"/>
<circle cx="201.7" cy="837.2" r="1.9" fill="#fff" stroke="#000" stroke-width="1"/>
<circle cx="201.7" cy="837.9" r="1.9" fill="#fff" stroke="#000" stroke-width="1"/>
<circle cx="201.7" cy="844.1" r="1.9" fill="#fff" stroke="#000" stroke-width="1"/>
<circle cx="201.7" cy="845.5" r="1.9" fill="#fff" stroke="#000" stroke-width="1"/>
<circle cx="201.7" cy="848.3" r="1.9" fill="#fff" stroke="#000" stroke-width="1"/>
<circle cx="201.7" cy="849.0" r="1.9" fill="#fff" stroke="#000" stroke-width="1"/>
<text x="187.7" y="883.0" font-size="9" font-weight="bold" fill="#000" text-anchor="start" textLength="20.8" lengthAdjust="spacingAndGlyphs">n=10</text>
<text x="116.5" y="845.5" font-size="8.4" font-weight="bold" fill="#000" text-anchor="middle" transform="rotate(-90 116.5 845.5)" textLength="28.9" lengthAdjust="spacingAndGlyphs">ADD (s)</text>
<rect x="274.6" y="799.3" width="18.4" height="85.4" fill="url(#gb)" stroke="none" stroke-width="1"/>
<line x1="242.2" y1="801.3" x2="242.2" y2="888.2" stroke="#000" stroke-width="1.1"/>
<line x1="242.2" y1="887.7" x2="326.8" y2="887.7" stroke="#000" stroke-width="1.1"/>
<line x1="239.9" y1="887.7" x2="242.2" y2="887.7" stroke="#000" stroke-width="1"/>
<text x="239.6" y="890.6" font-size="8" font-weight="bold" fill="#000" text-anchor="end">0</text>
<line x1="239.9" y1="859.6" x2="242.2" y2="859.6" stroke="#000" stroke-width="1"/>
<text x="239.6" y="862.5" font-size="8" font-weight="bold" fill="#000" text-anchor="end">10</text>
<line x1="239.9" y1="831.5" x2="242.2" y2="831.5" stroke="#000" stroke-width="1"/>
<text x="239.6" y="834.4" font-size="8" font-weight="bold" fill="#000" text-anchor="end">20</text>
<line x1="239.9" y1="803.4" x2="242.2" y2="803.4" stroke="#000" stroke-width="1"/>
<text x="239.6" y="806.3" font-size="8" font-weight="bold" fill="#000" text-anchor="end">30</text>
<line x1="255.6" y1="887.7" x2="255.6" y2="890.1" stroke="#000" stroke-width="1"/>
<text x="255.6" y="897.8" font-size="8.3" font-weight="bold" fill="#000" text-anchor="middle" textLength="12.6" lengthAdjust="spacingAndGlyphs">Pre</text>
<line x1="284.2" y1="887.7" x2="284.2" y2="890.1" stroke="#000" stroke-width="1"/>
<text x="284.2" y="897.8" font-size="8.3" font-weight="bold" fill="#000" text-anchor="middle" textLength="21" lengthAdjust="spacingAndGlyphs">Light</text>
<line x1="312.2" y1="887.7" x2="312.2" y2="890.1" stroke="#000" stroke-width="1"/>
<text x="312.2" y="897.8" font-size="8.3" font-weight="bold" fill="#000" text-anchor="middle" textLength="18.4" lengthAdjust="spacingAndGlyphs">Post</text>
<path d="M255.6 823.6L284.2 815.2L312.2 828.7M255.6 825.9L284.2 816.0L312.2 825.9M255.6 829.8L284.2 841.6L312.2 831.5M255.6 847.0L284.2 844.7L312.2 839.9M255.6 847.8L284.2 849.5L312.2 849.8M255.6 848.9L284.2 829.8L312.2 830.1M255.6 855.4L284.2 816.9L312.2 856.8M255.6 857.4L284.2 823.6L312.2 851.2M255.6 859.6L284.2 831.5L312.2 851.7M255.6 860.7L284.2 832.6L312.2 865.2" fill="none" stroke="#000" stroke-width="1"/>
<circle cx="255.6" cy="823.6" r="1.9" fill="#fff" stroke="#000" stroke-width="1"/>
<circle cx="255.6" cy="825.9" r="1.9" fill="#fff" stroke="#000" stroke-width="1"/>
<circle cx="255.6" cy="829.8" r="1.9" fill="#fff" stroke="#000" stroke-width="1"/>
<circle cx="255.6" cy="847.0" r="1.9" fill="#fff" stroke="#000" stroke-width="1"/>
<circle cx="255.6" cy="847.8" r="1.9" fill="#fff" stroke="#000" stroke-width="1"/>
<circle cx="255.6" cy="848.9" r="1.9" fill="#fff" stroke="#000" stroke-width="1"/>
<circle cx="255.6" cy="855.4" r="1.9" fill="#fff" stroke="#000" stroke-width="1"/>
<circle cx="255.6" cy="857.4" r="1.9" fill="#fff" stroke="#000" stroke-width="1"/>
<circle cx="255.6" cy="859.6" r="1.9" fill="#fff" stroke="#000" stroke-width="1"/>
<circle cx="255.6" cy="860.7" r="1.9" fill="#fff" stroke="#000" stroke-width="1"/>
<circle cx="284.2" cy="815.2" r="1.9" fill="#fff" stroke="#000" stroke-width="1"/>
<circle cx="284.2" cy="816.0" r="1.9" fill="#fff" stroke="#000" stroke-width="1"/>
<circle cx="284.2" cy="816.9" r="1.9" fill="#fff" stroke="#000" stroke-width="1"/>
<circle cx="284.2" cy="823.6" r="1.9" fill="#fff" stroke="#000" stroke-width="1"/>
<circle cx="284.2" cy="829.8" r="1.9" fill="#fff" stroke="#000" stroke-width="1"/>
<circle cx="284.2" cy="831.5" r="1.9" fill="#fff" stroke="#000" stroke-width="1"/>
<circle cx="284.2" cy="832.6" r="1.9" fill="#fff" stroke="#000" stroke-width="1"/>
<circle cx="284.2" cy="841.6" r="1.9" fill="#fff" stroke="#000" stroke-width="1"/>
<circle cx="284.2" cy="844.7" r="1.9" fill="#fff" stroke="#000" stroke-width="1"/>
<circle cx="284.2" cy="849.5" r="1.9" fill="#fff" stroke="#000" stroke-width="1"/>
<circle cx="312.2" cy="825.9" r="1.9" fill="#fff" stroke="#000" stroke-width="1"/>
<circle cx="312.2" cy="828.7" r="1.9" fill="#fff" stroke="#000" stroke-width="1"/>
<circle cx="312.2" cy="830.1" r="1.9" fill="#fff" stroke="#000" stroke-width="1"/>
<circle cx="312.2" cy="831.5" r="1.9" fill="#fff" stroke="#000" stroke-width="1"/>
<circle cx="312.2" cy="839.9" r="1.9" fill="#fff" stroke="#000" stroke-width="1"/>
<circle cx="312.2" cy="851.2" r="1.9" fill="#fff" stroke="#000" stroke-width="1"/>
<circle cx="312.2" cy="851.7" r="1.9" fill="#fff" stroke="#000" stroke-width="1"/>
<circle cx="312.2" cy="856.8" r="1.9" fill="#fff" stroke="#000" stroke-width="1"/>
<circle cx="312.2" cy="865.2" r="1.9" fill="#fff" stroke="#000" stroke-width="1"/>
<circle cx="312.2" cy="849.8" r="1.9" fill="#fff" stroke="#000" stroke-width="1"/>
<text x="299.4" y="883.0" font-size="9" font-weight="bold" fill="#000" text-anchor="start" textLength="20.8" lengthAdjust="spacingAndGlyphs">n=10</text>
<text x="227.0" y="845.6" font-size="8.4" font-weight="bold" fill="#000" text-anchor="middle" transform="rotate(-90 227.0 845.6)" textLength="28.9" lengthAdjust="spacingAndGlyphs">GSD (s)</text>
<text x="284.2" y="880.2" font-size="10" font-weight="bold" fill="#222" text-anchor="middle">*</text>
<text x="284.2" y="886.8" font-size="7.5" font-weight="bold" fill="#444" text-anchor="middle">#</text>
<rect x="399.0" y="799.6" width="18.7" height="84.6" fill="url(#goq)" stroke="none" stroke-width="1"/>
<line x1="364.8" y1="801.6" x2="364.8" y2="887.7" stroke="#000" stroke-width="1.1"/>
<line x1="364.8" y1="887.2" x2="452.0" y2="887.2" stroke="#000" stroke-width="1.1"/>
<line x1="362.5" y1="887.2" x2="364.8" y2="887.2" stroke="#000" stroke-width="1"/>
<text x="362.2" y="890.1" font-size="8" font-weight="bold" fill="#000" text-anchor="end">0</text>
<line x1="362.5" y1="870.1" x2="364.8" y2="870.1" stroke="#000" stroke-width="1"/>
<text x="362.2" y="873.0" font-size="8" font-weight="bold" fill="#000" text-anchor="end">1</text>
<line x1="362.5" y1="853.1" x2="364.8" y2="853.1" stroke="#000" stroke-width="1"/>
<text x="362.2" y="856.0" font-size="8" font-weight="bold" fill="#000" text-anchor="end">2</text>
<line x1="362.5" y1="836.0" x2="364.8" y2="836.0" stroke="#000" stroke-width="1"/>
<text x="362.2" y="838.9" font-size="8" font-weight="bold" fill="#000" text-anchor="end">3</text>
<line x1="362.5" y1="819.0" x2="364.8" y2="819.0" stroke="#000" stroke-width="1"/>
<text x="362.2" y="821.9" font-size="8" font-weight="bold" fill="#000" text-anchor="end">4</text>
<line x1="362.5" y1="801.9" x2="364.8" y2="801.9" stroke="#000" stroke-width="1"/>
<text x="362.2" y="804.8" font-size="8" font-weight="bold" fill="#000" text-anchor="end">5</text>
<line x1="378.8" y1="887.2" x2="378.8" y2="889.6" stroke="#000" stroke-width="1"/>
<text x="378.8" y="897.8" font-size="8.3" font-weight="bold" fill="#000" text-anchor="middle" textLength="12.6" lengthAdjust="spacingAndGlyphs">Pre</text>
<line x1="408.6" y1="887.2" x2="408.6" y2="889.6" stroke="#000" stroke-width="1"/>
<text x="408.6" y="897.8" font-size="8.3" font-weight="bold" fill="#000" text-anchor="middle" textLength="21" lengthAdjust="spacingAndGlyphs">Light</text>
<line x1="438.4" y1="887.2" x2="438.4" y2="889.6" stroke="#000" stroke-width="1"/>
<text x="438.4" y="897.8" font-size="8.3" font-weight="bold" fill="#000" text-anchor="middle" textLength="18.4" lengthAdjust="spacingAndGlyphs">Post</text>
<path d="M374.4 801.9L408.6 801.9L432.4 801.9M377.2 801.9L408.6 807.5L435.2 801.9M380.0 801.9L413.8 807.5L438.0 801.9M382.8 801.9L408.6 813.3L440.8 801.9M385.6 801.9L408.6 819.0L443.6 801.9M379.7 813.3L413.8 819.0L437.7 810.4" fill="none" stroke="#000" stroke-width="1"/>
<circle cx="374.4" cy="801.9" r="1.9" fill="#fff" stroke="#000" stroke-width="1"/>
<circle cx="377.2" cy="801.9" r="1.9" fill="#fff" stroke="#000" stroke-width="1"/>
<circle cx="380.0" cy="801.9" r="1.9" fill="#fff" stroke="#000" stroke-width="1"/>
<circle cx="382.8" cy="801.9" r="1.9" fill="#fff" stroke="#000" stroke-width="1"/>
<circle cx="385.6" cy="801.9" r="1.9" fill="#fff" stroke="#000" stroke-width="1"/>
<circle cx="379.7" cy="813.3" r="1.9" fill="#fff" stroke="#000" stroke-width="1"/>
<circle cx="408.6" cy="801.9" r="1.9" fill="#fff" stroke="#000" stroke-width="1"/>
<circle cx="408.6" cy="807.5" r="1.9" fill="#fff" stroke="#000" stroke-width="1"/>
<circle cx="413.8" cy="807.5" r="1.9" fill="#fff" stroke="#000" stroke-width="1"/>
<circle cx="408.6" cy="813.3" r="1.9" fill="#fff" stroke="#000" stroke-width="1"/>
<circle cx="408.6" cy="819.0" r="1.9" fill="#fff" stroke="#000" stroke-width="1"/>
<circle cx="413.8" cy="819.0" r="1.9" fill="#fff" stroke="#000" stroke-width="1"/>
<circle cx="432.4" cy="801.9" r="1.9" fill="#fff" stroke="#000" stroke-width="1"/>
<circle cx="435.2" cy="801.9" r="1.9" fill="#fff" stroke="#000" stroke-width="1"/>
<circle cx="438.0" cy="801.9" r="1.9" fill="#fff" stroke="#000" stroke-width="1"/>
<circle cx="440.8" cy="801.9" r="1.9" fill="#fff" stroke="#000" stroke-width="1"/>
<circle cx="443.6" cy="801.9" r="1.9" fill="#fff" stroke="#000" stroke-width="1"/>
<circle cx="437.7" cy="810.4" r="1.9" fill="#fff" stroke="#000" stroke-width="1"/>
<text x="427.9" y="883.0" font-size="9" font-weight="bold" fill="#000" text-anchor="start" textLength="15.4" lengthAdjust="spacingAndGlyphs">n=6</text>
<text x="353.5" y="844.6" font-size="8.4" font-weight="bold" fill="#000" text-anchor="middle" transform="rotate(-90 353.5 844.6)" textLength="54.4" lengthAdjust="spacingAndGlyphs">Seizure Stage</text>
<rect x="504.2" y="802.8" width="18.8" height="81.1" fill="url(#go)" stroke="none" stroke-width="1"/>
<line x1="472.2" y1="804.8" x2="472.2" y2="887.4" stroke="#000" stroke-width="1.1"/>
<line x1="472.2" y1="886.9" x2="555.7" y2="886.9" stroke="#000" stroke-width="1.1"/>
<line x1="469.9" y1="886.9" x2="472.2" y2="886.9" stroke="#000" stroke-width="1"/>
<text x="469.6" y="889.8" font-size="8" font-weight="bold" fill="#000" text-anchor="end">0</text>
<line x1="469.9" y1="868.4" x2="472.2" y2="868.4" stroke="#000" stroke-width="1"/>
<text x="469.6" y="871.3" font-size="8" font-weight="bold" fill="#000" text-anchor="end">10</text>
<line x1="469.9" y1="849.9" x2="472.2" y2="849.9" stroke="#000" stroke-width="1"/>
<text x="469.6" y="852.8" font-size="8" font-weight="bold" fill="#000" text-anchor="end">20</text>
<line x1="469.9" y1="831.4" x2="472.2" y2="831.4" stroke="#000" stroke-width="1"/>
<text x="469.6" y="834.3" font-size="8" font-weight="bold" fill="#000" text-anchor="end">30</text>
<line x1="469.9" y1="812.9" x2="472.2" y2="812.9" stroke="#000" stroke-width="1"/>
<text x="469.6" y="815.8" font-size="8" font-weight="bold" fill="#000" text-anchor="end">40</text>
<line x1="485.6" y1="886.9" x2="485.6" y2="889.3" stroke="#000" stroke-width="1"/>
<text x="485.6" y="897.8" font-size="8.3" font-weight="bold" fill="#000" text-anchor="middle" textLength="12.6" lengthAdjust="spacingAndGlyphs">Pre</text>
<line x1="513.3" y1="886.9" x2="513.3" y2="889.3" stroke="#000" stroke-width="1"/>
<text x="513.3" y="897.8" font-size="8.3" font-weight="bold" fill="#000" text-anchor="middle" textLength="21" lengthAdjust="spacingAndGlyphs">Light</text>
<line x1="541.4" y1="886.9" x2="541.4" y2="889.3" stroke="#000" stroke-width="1"/>
<text x="541.4" y="897.8" font-size="8.3" font-weight="bold" fill="#000" text-anchor="middle" textLength="18.4" lengthAdjust="spacingAndGlyphs">Post</text>
<path d="M485.6 810.5L513.3 815.7L541.4 815.7M485.6 812.0L513.3 825.9L541.4 812.9M485.6 823.1L513.3 826.8L541.4 819.4M485.6 829.0L513.3 836.9L541.4 829.0M485.6 830.8L513.3 839.7L541.4 831.4M485.6 840.6L513.3 840.6L541.4 837.9" fill="none" stroke="#000" stroke-width="1"/>
<circle cx="485.6" cy="810.5" r="1.9" fill="#fff" stroke="#000" stroke-width="1"/>
<circle cx="485.6" cy="812.0" r="1.9" fill="#fff" stroke="#000" stroke-width="1"/>
<circle cx="485.6" cy="823.1" r="1.9" fill="#fff" stroke="#000" stroke-width="1"/>
<circle cx="485.6" cy="829.0" r="1.9" fill="#fff" stroke="#000" stroke-width="1"/>
<circle cx="485.6" cy="830.8" r="1.9" fill="#fff" stroke="#000" stroke-width="1"/>
<circle cx="485.6" cy="840.6" r="1.9" fill="#fff" stroke="#000" stroke-width="1"/>
<circle cx="513.3" cy="815.7" r="1.9" fill="#fff" stroke="#000" stroke-width="1"/>
<circle cx="513.3" cy="825.9" r="1.9" fill="#fff" stroke="#000" stroke-width="1"/>
<circle cx="513.3" cy="826.8" r="1.9" fill="#fff" stroke="#000" stroke-width="1"/>
<circle cx="513.3" cy="836.9" r="1.9" fill="#fff" stroke="#000" stroke-width="1"/>
<circle cx="513.3" cy="839.7" r="1.9" fill="#fff" stroke="#000" stroke-width="1"/>
<circle cx="513.3" cy="840.6" r="1.9" fill="#fff" stroke="#000" stroke-width="1"/>
<circle cx="541.4" cy="815.7" r="1.9" fill="#fff" stroke="#000" stroke-width="1"/>
<circle cx="541.4" cy="812.9" r="1.9" fill="#fff" stroke="#000" stroke-width="1"/>
<circle cx="541.4" cy="819.4" r="1.9" fill="#fff" stroke="#000" stroke-width="1"/>
<circle cx="541.4" cy="829.0" r="1.9" fill="#fff" stroke="#000" stroke-width="1"/>
<circle cx="541.4" cy="831.4" r="1.9" fill="#fff" stroke="#000" stroke-width="1"/>
<circle cx="541.4" cy="837.9" r="1.9" fill="#fff" stroke="#000" stroke-width="1"/>
<text x="531.2" y="883.0" font-size="9" font-weight="bold" fill="#000" text-anchor="start" textLength="15.4" lengthAdjust="spacingAndGlyphs">n=6</text>
<text x="456.5" y="844.8" font-size="8.4" font-weight="bold" fill="#000" text-anchor="middle" transform="rotate(-90 456.5 844.8)" textLength="28.9" lengthAdjust="spacingAndGlyphs">ADD (s)</text>
<rect x="606.4" y="799.6" width="19.3" height="85.5" fill="url(#go)" stroke="none" stroke-width="1"/>
<line x1="573.3" y1="801.6" x2="573.3" y2="888.6" stroke="#000" stroke-width="1.1"/>
<line x1="573.3" y1="888.1" x2="658.6" y2="888.1" stroke="#000" stroke-width="1.1"/>
<line x1="571.0" y1="888.1" x2="573.3" y2="888.1" stroke="#000" stroke-width="1"/>
<text x="570.7" y="891.0" font-size="8" font-weight="bold" fill="#000" text-anchor="end">0</text>
<line x1="571.0" y1="871.0" x2="573.3" y2="871.0" stroke="#000" stroke-width="1"/>
<text x="570.7" y="873.9" font-size="8" font-weight="bold" fill="#000" text-anchor="end">5</text>
<line x1="571.0" y1="854.0" x2="573.3" y2="854.0" stroke="#000" stroke-width="1"/>
<text x="570.7" y="856.9" font-size="8" font-weight="bold" fill="#000" text-anchor="end">10</text>
<line x1="571.0" y1="836.9" x2="573.3" y2="836.9" stroke="#000" stroke-width="1"/>
<text x="570.7" y="839.8" font-size="8" font-weight="bold" fill="#000" text-anchor="end">15</text>
<line x1="571.0" y1="819.9" x2="573.3" y2="819.9" stroke="#000" stroke-width="1"/>
<text x="570.7" y="822.8" font-size="8" font-weight="bold" fill="#000" text-anchor="end">20</text>
<line x1="571.0" y1="802.8" x2="573.3" y2="802.8" stroke="#000" stroke-width="1"/>
<text x="570.7" y="805.7" font-size="8" font-weight="bold" fill="#000" text-anchor="end">25</text>
<line x1="587.7" y1="888.1" x2="587.7" y2="890.5" stroke="#000" stroke-width="1"/>
<text x="587.7" y="897.8" font-size="8.3" font-weight="bold" fill="#000" text-anchor="middle" textLength="12.6" lengthAdjust="spacingAndGlyphs">Pre</text>
<line x1="616.2" y1="888.1" x2="616.2" y2="890.5" stroke="#000" stroke-width="1"/>
<text x="616.2" y="897.8" font-size="8.3" font-weight="bold" fill="#000" text-anchor="middle" textLength="21" lengthAdjust="spacingAndGlyphs">Light</text>
<line x1="644.6" y1="888.1" x2="644.6" y2="890.5" stroke="#000" stroke-width="1"/>
<text x="644.6" y="897.8" font-size="8.3" font-weight="bold" fill="#000" text-anchor="middle" textLength="18.4" lengthAdjust="spacingAndGlyphs">Post</text>
<path d="M587.7 813.0L616.2 850.6L644.6 818.2M587.7 816.4L616.2 848.9L644.6 831.8M587.7 830.8L616.2 847.2L644.6 830.1M587.7 835.2L616.2 852.3L644.6 833.5M587.7 836.9L616.2 845.1L644.6 835.2M587.7 841.0L616.2 853.0L644.6 838.3" fill="none" stroke="#000" stroke-width="1"/>
<circle cx="587.7" cy="813.0" r="1.9" fill="#fff" stroke="#000" stroke-width="1"/>
<circle cx="587.7" cy="816.4" r="1.9" fill="#fff" stroke="#000" stroke-width="1"/>
<circle cx="587.7" cy="830.8" r="1.9" fill="#fff" stroke="#000" stroke-width="1"/>
<circle cx="587.7" cy="835.2" r="1.9" fill="#fff" stroke="#000" stroke-width="1"/>
<circle cx="587.7" cy="836.9" r="1.9" fill="#fff" stroke="#000" stroke-width="1"/>
<circle cx="587.7" cy="841.0" r="1.9" fill="#fff" stroke="#000" stroke-width="1"/>
<circle cx="616.2" cy="845.1" r="1.9" fill="#fff" stroke="#000" stroke-width="1"/>
<circle cx="616.2" cy="847.2" r="1.9" fill="#fff" stroke="#000" stroke-width="1"/>
<circle cx="616.2" cy="848.9" r="1.9" fill="#fff" stroke="#000" stroke-width="1"/>
<circle cx="616.2" cy="850.6" r="1.9" fill="#fff" stroke="#000" stroke-width="1"/>
<circle cx="616.2" cy="852.3" r="1.9" fill="#fff" stroke="#000" stroke-width="1"/>
<circle cx="616.2" cy="853.0" r="1.9" fill="#fff" stroke="#000" stroke-width="1"/>
<circle cx="644.6" cy="818.2" r="1.9" fill="#fff" stroke="#000" stroke-width="1"/>
<circle cx="644.6" cy="830.1" r="1.9" fill="#fff" stroke="#000" stroke-width="1"/>
<circle cx="644.6" cy="831.8" r="1.9" fill="#fff" stroke="#000" stroke-width="1"/>
<circle cx="644.6" cy="833.5" r="1.9" fill="#fff" stroke="#000" stroke-width="1"/>
<circle cx="644.6" cy="835.2" r="1.9" fill="#fff" stroke="#000" stroke-width="1"/>
<circle cx="644.6" cy="838.3" r="1.9" fill="#fff" stroke="#000" stroke-width="1"/>
<text x="635.0" y="883.0" font-size="9" font-weight="bold" fill="#000" text-anchor="start" textLength="15.4" lengthAdjust="spacingAndGlyphs">n=6</text>
<text x="557.5" y="845.5" font-size="8.4" font-weight="bold" fill="#000" text-anchor="middle" transform="rotate(-90 557.5 845.5)" textLength="28.9" lengthAdjust="spacingAndGlyphs">GSD (s)</text>
<text x="616.2" y="880.2" font-size="10" font-weight="bold" fill="#222" text-anchor="middle">**</text>
<text x="616.2" y="886.8" font-size="7.5" font-weight="bold" fill="#444" text-anchor="middle">##</text>
</svg></body></html>
